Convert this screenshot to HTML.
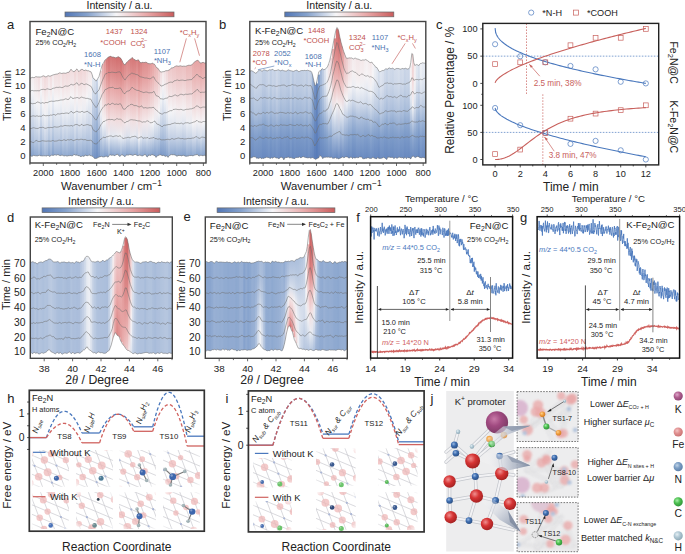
<!DOCTYPE html><html><head><meta charset="utf-8"><style>html,body{margin:0;padding:0;background:#fff;width:685px;height:554px;overflow:hidden}svg{display:block}</style></head><body><svg width="685" height="554" viewBox="0 0 685 554" font-family='"Liberation Sans", sans-serif'><defs><clipPath id="cpa"><path d="M30 78.18 L31 78.07 L32 77.3 L33 77.41 L34 77.83 L35 77.04 L36 76.6 L37 76.99 L38 76.98 L39 76.94 L40 77.07 L41 76.95 L42 76.53 L43 75.8 L44 75.91 L45 76.67 L46 76.98 L47 76.39 L48 75.62 L49 75.97 L50 76.32 L51 75.8 L52 75.4 L53 74.88 L54 74.67 L55 74.48 L56 74.08 L57 74.14 L58 73.87 L59 73.06 L60 72.78 L61 73.4 L62 73.48 L63 73.08 L64 73.07 L65 73.25 L66 73.26 L67 72.65 L68 72.26 L69 72.29 L70 70.75 L71 69.13 L72 70.38 L73 71.58 L74 71.6 L75 71.15 L76 69.69 L77 68.89 L78 70.71 L79 71.69 L80 70.37 L81 69.76 L82 69.1 L83 69.84 L84 70.73 L85 70.26 L86 69.88 L87 70.83 L88 70.64 L89 70.94 L90 71.68 L91 71.76 L92 74.26 L93 77.73 L94 79.05 L95 79.51 L96 81.18 L97 79.87 L98 78.17 L99 76.5 L100 72.76 L101 69.26 L102 65.44 L103 63.54 L104 62.04 L105 59.9 L106 59.45 L107 58.27 L108 57.15 L109 56.91 L110 56.24 L111 56.43 L112 57.1 L113 56.91 L114 57.22 L115 57.72 L116 57.77 L117 57.42 L118 56.64 L119 57.07 L120 57.77 L121 58.57 L122 60.48 L123 62.66 L124 64.2 L125 65.02 L126 63.08 L127 62.16 L128 61.22 L129 59.97 L130 59.46 L131 58.76 L132 57.45 L133 58.26 L134 59.49 L135 59.85 L136 60.54 L137 60.54 L138 59.63 L139 60.49 L140 62.42 L141 62.86 L142 62.44 L143 62.22 L144 62.66 L145 62.28 L146 62.15 L147 62.7 L148 63.6 L149 63.63 L150 63.66 L151 63.91 L152 62.9 L153 63.64 L154 63.9 L155 64.74 L156 66.95 L157 67.93 L158 68.33 L159 70.01 L160 71.6 L161 72.04 L162 71.96 L163 71.63 L164 71.68 L165 71.12 L166 70.58 L167 70.77 L168 70.54 L169 70.04 L170 69.59 L171 68.18 L172 67.74 L173 67.93 L174 67.07 L175 66.52 L176 65.96 L177 65.86 L178 66.27 L179 66.16 L180 65.81 L181 65.9 L182 66.29 L183 66.3 L184 65.95 L185 66.38 L186 66.17 L187 65.78 L188 65.38 L189 65.14 L190 65.36 L191 65.15 L192 64.81 L193 63.4 L194 62.44 L195 61.6 L196 61.01 L197 60.43 L198 60.29 L199 61.46 L200 62.95 L201 62.88 L202 62.86 L203 62.22 L204 62.69 L205 63.29 L206 62.55 L206 156.2 L205 155.21 L204 155.32 L203 155.85 L202 155.46 L201 155.24 L200 155.34 L199 156.26 L198 154.85 L197 154.53 L196 154.81 L195 154.99 L194 155.21 L193 156.01 L192 155.46 L191 155.52 L190 155.54 L189 155.57 L188 156.29 L187 155.92 L186 156.4 L185 155.93 L184 155.64 L183 155.03 L182 155.88 L181 155.92 L180 155.09 L179 155.94 L178 154.96 L177 156.5 L176 155.15 L175 155.2 L174 154.49 L173 154.94 L172 154.62 L171 154.55 L170 155.29 L169 155.8 L168 157.4 L167 155.89 L166 156.12 L165 156.44 L164 155.13 L163 155.47 L162 155.61 L161 155.01 L160 154.61 L159 155.22 L158 155.4 L157 156.07 L156 157.48 L155 155.58 L154 155.5 L153 154.75 L152 154.72 L151 154.92 L150 155.79 L149 154.67 L148 156.24 L147 157.11 L146 154.97 L145 154.6 L144 154.87 L143 155.85 L142 155.92 L141 155.62 L140 154.98 L139 155.17 L138 155.55 L137 155.65 L136 154.49 L135 154.41 L134 154.71 L133 155.49 L132 155.06 L131 154.89 L130 154.46 L129 154.8 L128 155.28 L127 154.85 L126 155.18 L125 156.73 L124 155.92 L123 155.25 L122 154.68 L121 155.01 L120 156.6 L119 155.99 L118 154.34 L117 154.45 L116 154.79 L115 155.5 L114 155.65 L113 154.67 L112 155.43 L111 155.12 L110 154.69 L109 155.49 L108 157.25 L107 156.41 L106 155.96 L105 156.8 L104 156.8 L103 157.11 L102 156.48 L101 156.28 L100 156.93 L99 156.97 L98 157.56 L97 158.27 L96 158.36 L95 158.69 L94 157.88 L93 156.62 L92 156.07 L91 155.8 L90 155.49 L89 154.73 L88 155.82 L87 155.64 L86 155.48 L85 154.96 L84 156.52 L83 155.9 L82 156.09 L81 156.71 L80 156.18 L79 155.45 L78 155.9 L77 154.61 L76 155.57 L75 154.63 L74 154.52 L73 155.33 L72 155.96 L71 155.57 L70 155.51 L69 155.8 L68 155.64 L67 156.33 L66 155.53 L65 155.76 L64 156.09 L63 155.42 L62 154.91 L61 155.59 L60 155.59 L59 155.25 L58 154.44 L57 154.91 L56 155.36 L55 154.46 L54 155.2 L53 155.44 L52 155.12 L51 155.32 L50 156.23 L49 156.33 L48 155.12 L47 156.14 L46 155.7 L45 156.05 L44 155.58 L43 156.07 L42 155.79 L41 155.93 L40 155.5 L39 155.01 L38 155.94 L37 155.9 L36 155.82 L35 155.79 L34 155.36 L33 155.54 L32 156.39 L31 156.06 L30 155.41Z"/></clipPath><linearGradient id="ga_0" gradientUnits="userSpaceOnUse" x1="0" y1="76.18" x2="0" y2="157.41"><stop offset="0.02" stop-color="#f4eeef"/><stop offset="0.19" stop-color="#f6f6f8"/><stop offset="0.33" stop-color="#e4e9f1"/><stop offset="0.5" stop-color="#d3dcea"/><stop offset="0.64" stop-color="#c1cee4"/><stop offset="0.8" stop-color="#aabddb"/><stop offset="0.98" stop-color="#84a1cc"/></linearGradient><linearGradient id="ga_1" gradientUnits="userSpaceOnUse" x1="0" y1="75.3" x2="0" y2="158.39"><stop offset="0.02" stop-color="#f4ecee"/><stop offset="0.18" stop-color="#f6f5f7"/><stop offset="0.34" stop-color="#e6eaf2"/><stop offset="0.49" stop-color="#d4ddeb"/><stop offset="0.64" stop-color="#c2cfe4"/><stop offset="0.8" stop-color="#abbedb"/><stop offset="0.98" stop-color="#85a2cc"/></linearGradient><linearGradient id="ga_2" gradientUnits="userSpaceOnUse" x1="0" y1="75.83" x2="0" y2="157.36"><stop offset="0.02" stop-color="#f3e6e8"/><stop offset="0.18" stop-color="#f5eff0"/><stop offset="0.34" stop-color="#eff1f5"/><stop offset="0.49" stop-color="#dde3ee"/><stop offset="0.64" stop-color="#cbd6e7"/><stop offset="0.82" stop-color="#b4c5df"/><stop offset="0.98" stop-color="#8ea8d0"/></linearGradient><linearGradient id="ga_3" gradientUnits="userSpaceOnUse" x1="0" y1="74.6" x2="0" y2="157.82"><stop offset="0.02" stop-color="#f3e3e5"/><stop offset="0.19" stop-color="#f4eced"/><stop offset="0.34" stop-color="#f4f4f7"/><stop offset="0.5" stop-color="#e1e7f0"/><stop offset="0.65" stop-color="#cfd9e9"/><stop offset="0.79" stop-color="#b8c8e0"/><stop offset="0.98" stop-color="#91abd1"/></linearGradient><linearGradient id="ga_4" gradientUnits="userSpaceOnUse" x1="0" y1="74.98" x2="0" y2="157.94"><stop offset="0.02" stop-color="#f2dee0"/><stop offset="0.19" stop-color="#f3e7e9"/><stop offset="0.33" stop-color="#f5f3f5"/><stop offset="0.5" stop-color="#e8ecf3"/><stop offset="0.65" stop-color="#d6deec"/><stop offset="0.8" stop-color="#bfcde3"/><stop offset="0.98" stop-color="#98b0d4"/></linearGradient><linearGradient id="ga_5" gradientUnits="userSpaceOnUse" x1="0" y1="75.07" x2="0" y2="157.5"><stop offset="0.02" stop-color="#f4ebed"/><stop offset="0.19" stop-color="#f6f4f6"/><stop offset="0.34" stop-color="#e7ebf2"/><stop offset="0.5" stop-color="#d4ddeb"/><stop offset="0.63" stop-color="#c2cfe4"/><stop offset="0.81" stop-color="#aabedb"/><stop offset="0.98" stop-color="#84a1cc"/></linearGradient><linearGradient id="ga_6" gradientUnits="userSpaceOnUse" x1="0" y1="74.53" x2="0" y2="157.79"><stop offset="0.02" stop-color="#f2e0e2"/><stop offset="0.18" stop-color="#f4e9eb"/><stop offset="0.34" stop-color="#f6f5f7"/><stop offset="0.5" stop-color="#e5e9f1"/><stop offset="0.64" stop-color="#d2dbea"/><stop offset="0.79" stop-color="#bacae1"/><stop offset="0.98" stop-color="#93acd2"/></linearGradient><linearGradient id="ga_7" gradientUnits="userSpaceOnUse" x1="0" y1="73.91" x2="0" y2="157.58"><stop offset="0.02" stop-color="#f1d9da"/><stop offset="0.18" stop-color="#f2e2e3"/><stop offset="0.35" stop-color="#f5eef0"/><stop offset="0.49" stop-color="#eff1f5"/><stop offset="0.64" stop-color="#dde3ee"/><stop offset="0.8" stop-color="#c5d1e5"/><stop offset="0.98" stop-color="#9db4d6"/></linearGradient><linearGradient id="ga_8" gradientUnits="userSpaceOnUse" x1="0" y1="74.98" x2="0" y2="157.7"><stop offset="0.02" stop-color="#f1dcde"/><stop offset="0.17" stop-color="#f3e5e7"/><stop offset="0.33" stop-color="#f5f2f3"/><stop offset="0.49" stop-color="#eaedf3"/><stop offset="0.64" stop-color="#d7dfec"/><stop offset="0.8" stop-color="#bfcde3"/><stop offset="0.98" stop-color="#97afd3"/></linearGradient><linearGradient id="ga_9" gradientUnits="userSpaceOnUse" x1="0" y1="73.62" x2="0" y2="157.12"><stop offset="0.02" stop-color="#f3e6e7"/><stop offset="0.18" stop-color="#f5eef0"/><stop offset="0.35" stop-color="#eff1f5"/><stop offset="0.5" stop-color="#dce3ee"/><stop offset="0.64" stop-color="#c9d5e7"/><stop offset="0.81" stop-color="#b1c3dd"/><stop offset="0.98" stop-color="#89a5ce"/></linearGradient><linearGradient id="ga_10" gradientUnits="userSpaceOnUse" x1="0" y1="74.32" x2="0" y2="158.23"><stop offset="0.02" stop-color="#f2dee0"/><stop offset="0.18" stop-color="#f3e7e9"/><stop offset="0.32" stop-color="#f6f4f6"/><stop offset="0.49" stop-color="#e7ebf2"/><stop offset="0.63" stop-color="#d4dceb"/><stop offset="0.8" stop-color="#bbcae1"/><stop offset="0.98" stop-color="#93acd2"/></linearGradient><linearGradient id="ga_11" gradientUnits="userSpaceOnUse" x1="0" y1="73.4" x2="0" y2="157.12"><stop offset="0.02" stop-color="#f4e9eb"/><stop offset="0.18" stop-color="#f5f2f4"/><stop offset="0.33" stop-color="#e9ecf3"/><stop offset="0.5" stop-color="#d6deec"/><stop offset="0.65" stop-color="#c3d0e4"/><stop offset="0.8" stop-color="#aabedb"/><stop offset="0.98" stop-color="#83a0cb"/></linearGradient><linearGradient id="ga_12" gradientUnits="userSpaceOnUse" x1="0" y1="72.67" x2="0" y2="157.2"><stop offset="0.02" stop-color="#f2e0e1"/><stop offset="0.18" stop-color="#f4e9eb"/><stop offset="0.34" stop-color="#f6f6f8"/><stop offset="0.49" stop-color="#e3e8f1"/><stop offset="0.64" stop-color="#d0dae9"/><stop offset="0.81" stop-color="#b8c7e0"/><stop offset="0.98" stop-color="#8fa9d0"/></linearGradient><linearGradient id="ga_13" gradientUnits="userSpaceOnUse" x1="0" y1="72.08" x2="0" y2="157.36"><stop offset="0.02" stop-color="#f2e0e1"/><stop offset="0.18" stop-color="#f4e9eb"/><stop offset="0.34" stop-color="#f6f6f8"/><stop offset="0.51" stop-color="#e3e8f1"/><stop offset="0.65" stop-color="#d0dae9"/><stop offset="0.81" stop-color="#b7c7e0"/><stop offset="0.98" stop-color="#8ea8d0"/></linearGradient><linearGradient id="ga_14" gradientUnits="userSpaceOnUse" x1="0" y1="71.87" x2="0" y2="156.44"><stop offset="0.02" stop-color="#f2dedf"/><stop offset="0.18" stop-color="#f3e7e8"/><stop offset="0.34" stop-color="#f6f4f6"/><stop offset="0.49" stop-color="#e6eaf2"/><stop offset="0.65" stop-color="#d3dcea"/><stop offset="0.81" stop-color="#bac9e1"/><stop offset="0.98" stop-color="#90aad1"/></linearGradient><linearGradient id="ga_15" gradientUnits="userSpaceOnUse" x1="0" y1="70.78" x2="0" y2="157.59"><stop offset="0.02" stop-color="#f2e2e3"/><stop offset="0.19" stop-color="#f4ebed"/><stop offset="0.34" stop-color="#f3f4f7"/><stop offset="0.5" stop-color="#e0e5ef"/><stop offset="0.64" stop-color="#ccd7e8"/><stop offset="0.8" stop-color="#b3c4de"/><stop offset="0.98" stop-color="#89a5ce"/></linearGradient><linearGradient id="ga_16" gradientUnits="userSpaceOnUse" x1="0" y1="71.48" x2="0" y2="156.91"><stop offset="0.02" stop-color="#f1dadb"/><stop offset="0.19" stop-color="#f3e3e5"/><stop offset="0.33" stop-color="#f5f0f2"/><stop offset="0.49" stop-color="#ebeef4"/><stop offset="0.64" stop-color="#d8dfec"/><stop offset="0.81" stop-color="#bfcde3"/><stop offset="0.98" stop-color="#94add2"/></linearGradient><linearGradient id="ga_17" gradientUnits="userSpaceOnUse" x1="0" y1="71.07" x2="0" y2="158.09"><stop offset="0.02" stop-color="#f1dcde"/><stop offset="0.18" stop-color="#f3e6e7"/><stop offset="0.33" stop-color="#f5f3f5"/><stop offset="0.49" stop-color="#e7ebf2"/><stop offset="0.63" stop-color="#d3dceb"/><stop offset="0.79" stop-color="#bac9e1"/><stop offset="0.98" stop-color="#90aad0"/></linearGradient><linearGradient id="ga_18" gradientUnits="userSpaceOnUse" x1="0" y1="71.26" x2="0" y2="157.53"><stop offset="0.02" stop-color="#f1dadb"/><stop offset="0.17" stop-color="#f3e3e5"/><stop offset="0.32" stop-color="#f5f0f2"/><stop offset="0.49" stop-color="#ebeef4"/><stop offset="0.63" stop-color="#d7dfec"/><stop offset="0.81" stop-color="#bdcce2"/><stop offset="0.98" stop-color="#93acd2"/></linearGradient><linearGradient id="ga_19" gradientUnits="userSpaceOnUse" x1="0" y1="70.26" x2="0" y2="157.64"><stop offset="0.02" stop-color="#f1dbdd"/><stop offset="0.18" stop-color="#f3e5e6"/><stop offset="0.34" stop-color="#f5f2f4"/><stop offset="0.49" stop-color="#e8ecf3"/><stop offset="0.63" stop-color="#d4ddeb"/><stop offset="0.79" stop-color="#bac9e1"/><stop offset="0.98" stop-color="#8fa9d0"/></linearGradient><linearGradient id="ga_20" gradientUnits="userSpaceOnUse" x1="0" y1="68.75" x2="0" y2="157.51"><stop offset="0.02" stop-color="#f2dedf"/><stop offset="0.18" stop-color="#f3e7e9"/><stop offset="0.32" stop-color="#f6f5f7"/><stop offset="0.49" stop-color="#e4e8f1"/><stop offset="0.65" stop-color="#cfd9e9"/><stop offset="0.8" stop-color="#b5c6df"/><stop offset="0.98" stop-color="#8aa6ce"/></linearGradient><linearGradient id="ga_21" gradientUnits="userSpaceOnUse" x1="0" y1="68.38" x2="0" y2="157.96"><stop offset="0.02" stop-color="#f2dee0"/><stop offset="0.18" stop-color="#f3e8ea"/><stop offset="0.33" stop-color="#f6f5f7"/><stop offset="0.49" stop-color="#e3e7f0"/><stop offset="0.64" stop-color="#ced8e9"/><stop offset="0.8" stop-color="#b4c5df"/><stop offset="0.98" stop-color="#88a4ce"/></linearGradient><linearGradient id="ga_22" gradientUnits="userSpaceOnUse" x1="0" y1="69.6" x2="0" y2="156.52"><stop offset="0.02" stop-color="#f0d6d7"/><stop offset="0.17" stop-color="#f2e0e1"/><stop offset="0.33" stop-color="#f4edef"/><stop offset="0.5" stop-color="#eff1f5"/><stop offset="0.64" stop-color="#dae1ed"/><stop offset="0.82" stop-color="#c0cee3"/><stop offset="0.98" stop-color="#94add2"/></linearGradient><linearGradient id="ga_23" gradientUnits="userSpaceOnUse" x1="0" y1="67.69" x2="0" y2="157.57"><stop offset="0.02" stop-color="#f1dcdd"/><stop offset="0.17" stop-color="#f3e6e7"/><stop offset="0.34" stop-color="#f6f3f5"/><stop offset="0.49" stop-color="#e5e9f2"/><stop offset="0.63" stop-color="#d1daea"/><stop offset="0.8" stop-color="#b6c6df"/><stop offset="0.98" stop-color="#8aa5ce"/></linearGradient><linearGradient id="ga_24" gradientUnits="userSpaceOnUse" x1="0" y1="68.71" x2="0" y2="157.9"><stop offset="0.02" stop-color="#f0d6d7"/><stop offset="0.17" stop-color="#f2dfe1"/><stop offset="0.33" stop-color="#f4edef"/><stop offset="0.48" stop-color="#eff0f5"/><stop offset="0.63" stop-color="#dae1ed"/><stop offset="0.79" stop-color="#bfcde3"/><stop offset="0.98" stop-color="#93acd2"/></linearGradient><linearGradient id="ga_25" gradientUnits="userSpaceOnUse" x1="0" y1="68.37" x2="0" y2="158.18"><stop offset="0.02" stop-color="#f0d5d6"/><stop offset="0.18" stop-color="#f2dfe0"/><stop offset="0.33" stop-color="#f4edee"/><stop offset="0.49" stop-color="#eff1f5"/><stop offset="0.64" stop-color="#dae1ed"/><stop offset="0.79" stop-color="#bfcde3"/><stop offset="0.98" stop-color="#92acd2"/></linearGradient><linearGradient id="ga_26" gradientUnits="userSpaceOnUse" x1="0" y1="67.1" x2="0" y2="158.09"><stop offset="0.02" stop-color="#f1d8da"/><stop offset="0.18" stop-color="#f2e2e4"/><stop offset="0.33" stop-color="#f5f0f2"/><stop offset="0.48" stop-color="#eaedf3"/><stop offset="0.63" stop-color="#d5ddeb"/><stop offset="0.79" stop-color="#b9c9e1"/><stop offset="0.98" stop-color="#8ca7cf"/></linearGradient><linearGradient id="ga_27" gradientUnits="userSpaceOnUse" x1="0" y1="68.73" x2="0" y2="158.52"><stop offset="0.02" stop-color="#f1d8d9"/><stop offset="0.18" stop-color="#f2e2e4"/><stop offset="0.32" stop-color="#f5f0f2"/><stop offset="0.49" stop-color="#eaedf3"/><stop offset="0.63" stop-color="#d5ddeb"/><stop offset="0.79" stop-color="#b9c9e1"/><stop offset="0.98" stop-color="#8ca7cf"/></linearGradient><linearGradient id="ga_28" gradientUnits="userSpaceOnUse" x1="0" y1="67.88" x2="0" y2="157.48"><stop offset="0.02" stop-color="#f2dfe0"/><stop offset="0.18" stop-color="#f4e8ea"/><stop offset="0.34" stop-color="#f6f6f8"/><stop offset="0.49" stop-color="#e2e7f0"/><stop offset="0.64" stop-color="#ced8e9"/><stop offset="0.8" stop-color="#b4c5df"/><stop offset="0.98" stop-color="#89a5ce"/></linearGradient><linearGradient id="ga_29" gradientUnits="userSpaceOnUse" x1="0" y1="68.64" x2="0" y2="157.82"><stop offset="0.02" stop-color="#f3e6e7"/><stop offset="0.18" stop-color="#f5eef0"/><stop offset="0.33" stop-color="#eff1f5"/><stop offset="0.48" stop-color="#dde4ef"/><stop offset="0.63" stop-color="#cbd6e8"/><stop offset="0.8" stop-color="#b4c5df"/><stop offset="0.98" stop-color="#8ea8d0"/></linearGradient><linearGradient id="ga_30" gradientUnits="userSpaceOnUse" x1="0" y1="69.68" x2="0" y2="157.49"><stop offset="0.02" stop-color="#f4e9ea"/><stop offset="0.19" stop-color="#f5f0f2"/><stop offset="0.33" stop-color="#eff0f5"/><stop offset="0.49" stop-color="#dee4ef"/><stop offset="0.64" stop-color="#ced8e9"/><stop offset="0.8" stop-color="#b9c9e1"/><stop offset="0.98" stop-color="#97afd3"/></linearGradient><linearGradient id="ga_31" gradientUnits="userSpaceOnUse" x1="0" y1="72.26" x2="0" y2="158.07"><stop offset="0.02" stop-color="#e4e9f1"/><stop offset="0.19" stop-color="#d9e1ed"/><stop offset="0.34" stop-color="#cad5e7"/><stop offset="0.5" stop-color="#bac9e1"/><stop offset="0.64" stop-color="#abbedb"/><stop offset="0.8" stop-color="#97afd3"/><stop offset="0.98" stop-color="#7b99c8"/></linearGradient><linearGradient id="ga_32" gradientUnits="userSpaceOnUse" x1="0" y1="77.05" x2="0" y2="159.88"><stop offset="0.02" stop-color="#dae1ed"/><stop offset="0.19" stop-color="#ced8e9"/><stop offset="0.33" stop-color="#becce2"/><stop offset="0.49" stop-color="#aec0dc"/><stop offset="0.65" stop-color="#9eb4d6"/><stop offset="0.8" stop-color="#89a5ce"/><stop offset="0.98" stop-color="#7392c4"/></linearGradient><linearGradient id="ga_33" gradientUnits="userSpaceOnUse" x1="0" y1="79.18" x2="0" y2="160.36"><stop offset="0.02" stop-color="#cad5e7"/><stop offset="0.18" stop-color="#bfcde3"/><stop offset="0.35" stop-color="#b0c1dd"/><stop offset="0.51" stop-color="#a0b6d7"/><stop offset="0.65" stop-color="#91abd1"/><stop offset="0.8" stop-color="#809dca"/><stop offset="0.98" stop-color="#6c8dc2"/></linearGradient><linearGradient id="ga_34" gradientUnits="userSpaceOnUse" x1="0" y1="76.17" x2="0" y2="159.56"><stop offset="0.02" stop-color="#f3f4f7"/><stop offset="0.18" stop-color="#e5eaf2"/><stop offset="0.34" stop-color="#d3dcea"/><stop offset="0.49" stop-color="#c0cde3"/><stop offset="0.64" stop-color="#adbfdc"/><stop offset="0.8" stop-color="#94add2"/><stop offset="0.98" stop-color="#7695c6"/></linearGradient><linearGradient id="ga_35" gradientUnits="userSpaceOnUse" x1="0" y1="70.76" x2="0" y2="158.93"><stop offset="0.02" stop-color="#f0d2d3"/><stop offset="0.18" stop-color="#f1ddde"/><stop offset="0.33" stop-color="#f4ecee"/><stop offset="0.47" stop-color="#eef0f5"/><stop offset="0.63" stop-color="#d8dfec"/><stop offset="0.78" stop-color="#bac9e1"/><stop offset="0.98" stop-color="#89a5ce"/></linearGradient><linearGradient id="ga_36" gradientUnits="userSpaceOnUse" x1="0" y1="63.44" x2="0" y2="158.48"><stop offset="0.02" stop-color="#e9aeaf"/><stop offset="0.19" stop-color="#ecbdbd"/><stop offset="0.33" stop-color="#efd1d2"/><stop offset="0.47" stop-color="#f3e5e6"/><stop offset="0.63" stop-color="#f2f3f6"/><stop offset="0.79" stop-color="#cbd6e7"/><stop offset="0.98" stop-color="#8aa6ce"/></linearGradient><linearGradient id="ga_37" gradientUnits="userSpaceOnUse" x1="0" y1="60.04" x2="0" y2="158.8"><stop offset="0.02" stop-color="#e19797"/><stop offset="0.17" stop-color="#e8a9a9"/><stop offset="0.32" stop-color="#edc2c2"/><stop offset="0.47" stop-color="#f1dadb"/><stop offset="0.62" stop-color="#f5f2f4"/><stop offset="0.78" stop-color="#cdd7e8"/><stop offset="0.98" stop-color="#819ecb"/></linearGradient><linearGradient id="ga_38" gradientUnits="userSpaceOnUse" x1="0" y1="57.45" x2="0" y2="157.96"><stop offset="0.02" stop-color="#d67a7a"/><stop offset="0.16" stop-color="#de8f8f"/><stop offset="0.32" stop-color="#e9adad"/><stop offset="0.47" stop-color="#eec8c9"/><stop offset="0.62" stop-color="#f3e3e5"/><stop offset="0.79" stop-color="#dde3ee"/><stop offset="0.98" stop-color="#84a1cc"/></linearGradient><linearGradient id="ga_39" gradientUnits="userSpaceOnUse" x1="0" y1="55.15" x2="0" y2="159.25"><stop offset="0.02" stop-color="#d27070"/><stop offset="0.17" stop-color="#da8585"/><stop offset="0.32" stop-color="#e6a3a3"/><stop offset="0.46" stop-color="#ecbfbf"/><stop offset="0.62" stop-color="#f1dadb"/><stop offset="0.78" stop-color="#ebeef4"/><stop offset="0.98" stop-color="#92acd1"/></linearGradient><linearGradient id="ga_40" gradientUnits="userSpaceOnUse" x1="0" y1="54.24" x2="0" y2="156.69"><stop offset="0.02" stop-color="#d47676"/><stop offset="0.18" stop-color="#dd8c8c"/><stop offset="0.32" stop-color="#e8a9a9"/><stop offset="0.49" stop-color="#edc5c6"/><stop offset="0.64" stop-color="#f2e0e2"/><stop offset="0.8" stop-color="#e2e7f0"/><stop offset="0.98" stop-color="#88a4ce"/></linearGradient><linearGradient id="ga_41" gradientUnits="userSpaceOnUse" x1="0" y1="55.1" x2="0" y2="157.43"><stop offset="0.02" stop-color="#d47474"/><stop offset="0.17" stop-color="#dc8a8a"/><stop offset="0.32" stop-color="#e8a8a8"/><stop offset="0.47" stop-color="#edc3c4"/><stop offset="0.63" stop-color="#f2dfe0"/><stop offset="0.79" stop-color="#e4e9f1"/><stop offset="0.98" stop-color="#8ba6cf"/></linearGradient><linearGradient id="ga_42" gradientUnits="userSpaceOnUse" x1="0" y1="55.22" x2="0" y2="157.65"><stop offset="0.02" stop-color="#d37373"/><stop offset="0.17" stop-color="#dc8888"/><stop offset="0.32" stop-color="#e7a6a6"/><stop offset="0.48" stop-color="#edc2c3"/><stop offset="0.63" stop-color="#f2dedf"/><stop offset="0.79" stop-color="#e5eaf2"/><stop offset="0.98" stop-color="#8ca7cf"/></linearGradient><linearGradient id="ga_43" gradientUnits="userSpaceOnUse" x1="0" y1="55.77" x2="0" y2="156.79"><stop offset="0.02" stop-color="#d27070"/><stop offset="0.17" stop-color="#da8686"/><stop offset="0.32" stop-color="#e6a4a4"/><stop offset="0.48" stop-color="#ecc0c0"/><stop offset="0.63" stop-color="#f1dbdc"/><stop offset="0.79" stop-color="#e9ecf3"/><stop offset="0.98" stop-color="#8fa9d0"/></linearGradient><linearGradient id="ga_44" gradientUnits="userSpaceOnUse" x1="0" y1="54.64" x2="0" y2="156.34"><stop offset="0.02" stop-color="#d26f6f"/><stop offset="0.17" stop-color="#da8585"/><stop offset="0.33" stop-color="#e6a3a3"/><stop offset="0.49" stop-color="#ecbfc0"/><stop offset="0.63" stop-color="#f1dbdc"/><stop offset="0.81" stop-color="#eaedf3"/><stop offset="0.98" stop-color="#90aad1"/></linearGradient><linearGradient id="ga_45" gradientUnits="userSpaceOnUse" x1="0" y1="55.77" x2="0" y2="158.6"><stop offset="0.02" stop-color="#d06b6b"/><stop offset="0.16" stop-color="#d98181"/><stop offset="0.31" stop-color="#e49f9f"/><stop offset="0.47" stop-color="#ebbbbc"/><stop offset="0.61" stop-color="#f0d7d8"/><stop offset="0.78" stop-color="#eff1f5"/><stop offset="0.98" stop-color="#95aed3"/></linearGradient><linearGradient id="ga_46" gradientUnits="userSpaceOnUse" x1="0" y1="58.48" x2="0" y2="156.68"><stop offset="0.02" stop-color="#d57979"/><stop offset="0.17" stop-color="#dd8d8d"/><stop offset="0.33" stop-color="#e8aaaa"/><stop offset="0.49" stop-color="#edc4c5"/><stop offset="0.63" stop-color="#f2dfe0"/><stop offset="0.81" stop-color="#e6eaf2"/><stop offset="0.98" stop-color="#90aad1"/></linearGradient><linearGradient id="ga_47" gradientUnits="userSpaceOnUse" x1="0" y1="62.2" x2="0" y2="157.92"><stop offset="0.02" stop-color="#db8686"/><stop offset="0.17" stop-color="#e29a9a"/><stop offset="0.33" stop-color="#eab4b4"/><stop offset="0.49" stop-color="#efcdce"/><stop offset="0.63" stop-color="#f3e6e8"/><stop offset="0.8" stop-color="#dde3ee"/><stop offset="0.98" stop-color="#8ba6cf"/></linearGradient><linearGradient id="ga_48" gradientUnits="userSpaceOnUse" x1="0" y1="61.08" x2="0" y2="157.18"><stop offset="0.02" stop-color="#dd8b8b"/><stop offset="0.18" stop-color="#e49f9f"/><stop offset="0.32" stop-color="#ebb8b9"/><stop offset="0.49" stop-color="#efd1d2"/><stop offset="0.63" stop-color="#f4eaec"/><stop offset="0.8" stop-color="#d8dfec"/><stop offset="0.98" stop-color="#87a3cd"/></linearGradient><linearGradient id="ga_49" gradientUnits="userSpaceOnUse" x1="0" y1="59.22" x2="0" y2="157.28"><stop offset="0.02" stop-color="#da8585"/><stop offset="0.17" stop-color="#e29999"/><stop offset="0.33" stop-color="#eab3b4"/><stop offset="0.48" stop-color="#efcdce"/><stop offset="0.63" stop-color="#f3e6e8"/><stop offset="0.79" stop-color="#dce3ee"/><stop offset="0.98" stop-color="#8aa5ce"/></linearGradient><linearGradient id="ga_50" gradientUnits="userSpaceOnUse" x1="0" y1="57.46" x2="0" y2="156.46"><stop offset="0.02" stop-color="#d77c7c"/><stop offset="0.17" stop-color="#df9090"/><stop offset="0.33" stop-color="#e9acad"/><stop offset="0.48" stop-color="#edc6c7"/><stop offset="0.63" stop-color="#f2e0e2"/><stop offset="0.81" stop-color="#e4e9f1"/><stop offset="0.98" stop-color="#90aad1"/></linearGradient><linearGradient id="ga_51" gradientUnits="userSpaceOnUse" x1="0" y1="55.45" x2="0" y2="157.06"><stop offset="0.02" stop-color="#d57777"/><stop offset="0.17" stop-color="#dd8c8c"/><stop offset="0.31" stop-color="#e8a9a9"/><stop offset="0.48" stop-color="#edc3c4"/><stop offset="0.63" stop-color="#f2dedf"/><stop offset="0.8" stop-color="#e7ebf2"/><stop offset="0.98" stop-color="#91abd1"/></linearGradient><linearGradient id="ga_52" gradientUnits="userSpaceOnUse" x1="0" y1="57.49" x2="0" y2="156.71"><stop offset="0.02" stop-color="#d67a7a"/><stop offset="0.16" stop-color="#de8e8e"/><stop offset="0.32" stop-color="#e8abab"/><stop offset="0.48" stop-color="#edc5c5"/><stop offset="0.63" stop-color="#f2dfe0"/><stop offset="0.79" stop-color="#e6eaf2"/><stop offset="0.98" stop-color="#91abd1"/></linearGradient><linearGradient id="ga_53" gradientUnits="userSpaceOnUse" x1="0" y1="58.54" x2="0" y2="156.49"><stop offset="0.02" stop-color="#d98282"/><stop offset="0.16" stop-color="#e19696"/><stop offset="0.32" stop-color="#eab1b2"/><stop offset="0.48" stop-color="#eecbcc"/><stop offset="0.63" stop-color="#f3e5e6"/><stop offset="0.8" stop-color="#dee4ef"/><stop offset="0.98" stop-color="#8aa6ce"/></linearGradient><linearGradient id="ga_54" gradientUnits="userSpaceOnUse" x1="0" y1="57.63" x2="0" y2="157.55"><stop offset="0.02" stop-color="#d57979"/><stop offset="0.17" stop-color="#dd8c8c"/><stop offset="0.33" stop-color="#e8a8a8"/><stop offset="0.49" stop-color="#edc1c2"/><stop offset="0.63" stop-color="#f1dbdc"/><stop offset="0.81" stop-color="#eef0f5"/><stop offset="0.98" stop-color="#9cb3d5"/></linearGradient><linearGradient id="ga_55" gradientUnits="userSpaceOnUse" x1="0" y1="60.42" x2="0" y2="156.98"><stop offset="0.02" stop-color="#d98383"/><stop offset="0.17" stop-color="#e19696"/><stop offset="0.32" stop-color="#eab1b1"/><stop offset="0.48" stop-color="#eecaca"/><stop offset="0.63" stop-color="#f2e2e4"/><stop offset="0.8" stop-color="#e3e8f1"/><stop offset="0.98" stop-color="#92abd1"/></linearGradient><linearGradient id="ga_56" gradientUnits="userSpaceOnUse" x1="0" y1="60.44" x2="0" y2="157.92"><stop offset="0.02" stop-color="#dc8b8b"/><stop offset="0.17" stop-color="#e49e9e"/><stop offset="0.32" stop-color="#ebb7b8"/><stop offset="0.47" stop-color="#efd0d1"/><stop offset="0.63" stop-color="#f4e8ea"/><stop offset="0.78" stop-color="#dbe2ee"/><stop offset="0.98" stop-color="#8ba6cf"/></linearGradient><linearGradient id="ga_57" gradientUnits="userSpaceOnUse" x1="0" y1="60.66" x2="0" y2="156.87"><stop offset="0.02" stop-color="#de8e8e"/><stop offset="0.18" stop-color="#e5a1a1"/><stop offset="0.33" stop-color="#ebbaba"/><stop offset="0.49" stop-color="#f0d2d3"/><stop offset="0.63" stop-color="#f4eaec"/><stop offset="0.8" stop-color="#d9e0ed"/><stop offset="0.98" stop-color="#8ba6cf"/></linearGradient><linearGradient id="ga_58" gradientUnits="userSpaceOnUse" x1="0" y1="60.15" x2="0" y2="156.97"><stop offset="0.02" stop-color="#de8e8e"/><stop offset="0.18" stop-color="#e5a1a1"/><stop offset="0.33" stop-color="#ebb9ba"/><stop offset="0.49" stop-color="#efd1d2"/><stop offset="0.63" stop-color="#f4e9eb"/><stop offset="0.81" stop-color="#dbe2ee"/><stop offset="0.98" stop-color="#8ea9d0"/></linearGradient><linearGradient id="ga_59" gradientUnits="userSpaceOnUse" x1="0" y1="61.6" x2="0" y2="158.24"><stop offset="0.02" stop-color="#e09595"/><stop offset="0.17" stop-color="#e8a7a7"/><stop offset="0.32" stop-color="#ecbebf"/><stop offset="0.48" stop-color="#f0d6d7"/><stop offset="0.61" stop-color="#f4edef"/><stop offset="0.79" stop-color="#d6deec"/><stop offset="0.98" stop-color="#8aa5ce"/></linearGradient><linearGradient id="ga_60" gradientUnits="userSpaceOnUse" x1="0" y1="61.66" x2="0" y2="157.79"><stop offset="0.02" stop-color="#e49d9d"/><stop offset="0.18" stop-color="#e9aeaf"/><stop offset="0.32" stop-color="#edc5c6"/><stop offset="0.48" stop-color="#f1dcdd"/><stop offset="0.63" stop-color="#f5f2f4"/><stop offset="0.8" stop-color="#d0d9e9"/><stop offset="0.98" stop-color="#86a3cd"/></linearGradient><linearGradient id="ga_61" gradientUnits="userSpaceOnUse" x1="0" y1="60.9" x2="0" y2="156.72"><stop offset="0.02" stop-color="#e6a4a4"/><stop offset="0.17" stop-color="#eab4b4"/><stop offset="0.33" stop-color="#eecacb"/><stop offset="0.49" stop-color="#f2e0e1"/><stop offset="0.64" stop-color="#f6f6f8"/><stop offset="0.81" stop-color="#ccd7e8"/><stop offset="0.98" stop-color="#85a2cc"/></linearGradient><linearGradient id="ga_62" gradientUnits="userSpaceOnUse" x1="0" y1="61.9" x2="0" y2="157.5"><stop offset="0.02" stop-color="#e9afaf"/><stop offset="0.16" stop-color="#ecbebe"/><stop offset="0.31" stop-color="#f0d3d4"/><stop offset="0.48" stop-color="#f3e8ea"/><stop offset="0.62" stop-color="#eceef4"/><stop offset="0.79" stop-color="#c3d0e4"/><stop offset="0.98" stop-color="#819ecb"/></linearGradient><linearGradient id="ga_63" gradientUnits="userSpaceOnUse" x1="0" y1="64.95" x2="0" y2="159.48"><stop offset="0.02" stop-color="#ebb9b9"/><stop offset="0.17" stop-color="#eec7c7"/><stop offset="0.32" stop-color="#f1dadc"/><stop offset="0.48" stop-color="#f5eef0"/><stop offset="0.61" stop-color="#e5e9f1"/><stop offset="0.78" stop-color="#becde3"/><stop offset="0.98" stop-color="#819ecb"/></linearGradient><linearGradient id="ga_64" gradientUnits="userSpaceOnUse" x1="0" y1="66.33" x2="0" y2="157.4"><stop offset="0.02" stop-color="#eec7c8"/><stop offset="0.18" stop-color="#f0d4d5"/><stop offset="0.33" stop-color="#f3e5e7"/><stop offset="0.5" stop-color="#f5f5f7"/><stop offset="0.63" stop-color="#dae1ed"/><stop offset="0.8" stop-color="#b8c8e0"/><stop offset="0.98" stop-color="#819ecb"/></linearGradient><linearGradient id="ga_65" gradientUnits="userSpaceOnUse" x1="0" y1="69.6" x2="0" y2="156.61"><stop offset="0.02" stop-color="#f1dcde"/><stop offset="0.17" stop-color="#f3e7e9"/><stop offset="0.33" stop-color="#f4f5f7"/><stop offset="0.5" stop-color="#dde3ee"/><stop offset="0.64" stop-color="#c5d2e5"/><stop offset="0.8" stop-color="#a7bbd9"/><stop offset="0.98" stop-color="#7b99c8"/></linearGradient><linearGradient id="ga_66" gradientUnits="userSpaceOnUse" x1="0" y1="69.96" x2="0" y2="157.61"><stop offset="0.02" stop-color="#f4e9ea"/><stop offset="0.18" stop-color="#f5f2f4"/><stop offset="0.33" stop-color="#e7ebf2"/><stop offset="0.51" stop-color="#d2dbea"/><stop offset="0.65" stop-color="#bdcce2"/><stop offset="0.8" stop-color="#a3b8d8"/><stop offset="0.98" stop-color="#7c9ac8"/></linearGradient><linearGradient id="ga_67" gradientUnits="userSpaceOnUse" x1="0" y1="69.68" x2="0" y2="157.13"><stop offset="0.02" stop-color="#f2e1e3"/><stop offset="0.18" stop-color="#f4ebed"/><stop offset="0.34" stop-color="#f0f2f6"/><stop offset="0.49" stop-color="#dbe2ee"/><stop offset="0.63" stop-color="#c5d2e5"/><stop offset="0.8" stop-color="#aabddb"/><stop offset="0.98" stop-color="#7f9dca"/></linearGradient><linearGradient id="ga_68" gradientUnits="userSpaceOnUse" x1="0" y1="68.58" x2="0" y2="158.12"><stop offset="0.02" stop-color="#f0d6d8"/><stop offset="0.17" stop-color="#f2e1e2"/><stop offset="0.33" stop-color="#f5f0f2"/><stop offset="0.49" stop-color="#e9ecf3"/><stop offset="0.63" stop-color="#d2dcea"/><stop offset="0.79" stop-color="#b6c6df"/><stop offset="0.98" stop-color="#85a2cd"/></linearGradient><linearGradient id="ga_69" gradientUnits="userSpaceOnUse" x1="0" y1="68.54" x2="0" y2="159.4"><stop offset="0.02" stop-color="#eecbcc"/><stop offset="0.16" stop-color="#f0d6d7"/><stop offset="0.32" stop-color="#f3e6e7"/><stop offset="0.48" stop-color="#f6f5f7"/><stop offset="0.62" stop-color="#e0e6f0"/><stop offset="0.78" stop-color="#c2cfe4"/><stop offset="0.98" stop-color="#90aad1"/></linearGradient><linearGradient id="ga_70" gradientUnits="userSpaceOnUse" x1="0" y1="67.59" x2="0" y2="157.29"><stop offset="0.02" stop-color="#eecbcc"/><stop offset="0.16" stop-color="#f0d6d7"/><stop offset="0.32" stop-color="#f3e6e8"/><stop offset="0.48" stop-color="#f6f6f8"/><stop offset="0.64" stop-color="#dee4ef"/><stop offset="0.8" stop-color="#bfcde3"/><stop offset="0.98" stop-color="#8ba6cf"/></linearGradient><linearGradient id="ga_71" gradientUnits="userSpaceOnUse" x1="0" y1="65.74" x2="0" y2="156.62"><stop offset="0.02" stop-color="#edc6c7"/><stop offset="0.18" stop-color="#efd2d3"/><stop offset="0.34" stop-color="#f2e2e4"/><stop offset="0.5" stop-color="#f5f3f5"/><stop offset="0.64" stop-color="#e2e7f0"/><stop offset="0.8" stop-color="#c2cfe4"/><stop offset="0.98" stop-color="#8da8cf"/></linearGradient><linearGradient id="ga_72" gradientUnits="userSpaceOnUse" x1="0" y1="65.07" x2="0" y2="156.49"><stop offset="0.02" stop-color="#edc4c5"/><stop offset="0.17" stop-color="#efd0d1"/><stop offset="0.33" stop-color="#f2e1e3"/><stop offset="0.48" stop-color="#f5f2f4"/><stop offset="0.63" stop-color="#e2e7f0"/><stop offset="0.81" stop-color="#c1cee4"/><stop offset="0.98" stop-color="#8aa6ce"/></linearGradient><linearGradient id="ga_73" gradientUnits="userSpaceOnUse" x1="0" y1="63.96" x2="0" y2="157.15"><stop offset="0.02" stop-color="#ecc0c0"/><stop offset="0.18" stop-color="#eecccd"/><stop offset="0.34" stop-color="#f2dddf"/><stop offset="0.48" stop-color="#f5eef0"/><stop offset="0.64" stop-color="#e7ebf2"/><stop offset="0.8" stop-color="#c6d2e5"/><stop offset="0.98" stop-color="#8ea8d0"/></linearGradient><linearGradient id="ga_74" gradientUnits="userSpaceOnUse" x1="0" y1="64.27" x2="0" y2="156.96"><stop offset="0.02" stop-color="#ecbfbf"/><stop offset="0.17" stop-color="#eecbcc"/><stop offset="0.34" stop-color="#f1ddde"/><stop offset="0.49" stop-color="#f5eef0"/><stop offset="0.64" stop-color="#e7ebf2"/><stop offset="0.8" stop-color="#c5d2e5"/><stop offset="0.98" stop-color="#8ca7cf"/></linearGradient><linearGradient id="ga_75" gradientUnits="userSpaceOnUse" x1="0" y1="63.81" x2="0" y2="157.09"><stop offset="0.02" stop-color="#ecbfc0"/><stop offset="0.18" stop-color="#eecccd"/><stop offset="0.33" stop-color="#f2dedf"/><stop offset="0.49" stop-color="#f5eff1"/><stop offset="0.64" stop-color="#e5eaf2"/><stop offset="0.8" stop-color="#c3d0e4"/><stop offset="0.98" stop-color="#89a5ce"/></linearGradient><linearGradient id="ga_76" gradientUnits="userSpaceOnUse" x1="0" y1="64.29" x2="0" y2="157.88"><stop offset="0.02" stop-color="#edc1c2"/><stop offset="0.17" stop-color="#efcecf"/><stop offset="0.32" stop-color="#f2e0e2"/><stop offset="0.49" stop-color="#f5f2f4"/><stop offset="0.63" stop-color="#e1e6f0"/><stop offset="0.79" stop-color="#becce2"/><stop offset="0.98" stop-color="#84a1cc"/></linearGradient><linearGradient id="ga_77" gradientUnits="userSpaceOnUse" x1="0" y1="63.95" x2="0" y2="157.64"><stop offset="0.02" stop-color="#ecc0c1"/><stop offset="0.18" stop-color="#efcdce"/><stop offset="0.33" stop-color="#f2dfe0"/><stop offset="0.49" stop-color="#f5f1f3"/><stop offset="0.64" stop-color="#e2e7f0"/><stop offset="0.8" stop-color="#bfcde3"/><stop offset="0.98" stop-color="#84a1cc"/></linearGradient><linearGradient id="ga_78" gradientUnits="userSpaceOnUse" x1="0" y1="64.17" x2="0" y2="158.4"><stop offset="0.02" stop-color="#ebb8b8"/><stop offset="0.17" stop-color="#edc5c6"/><stop offset="0.32" stop-color="#f0d7d8"/><stop offset="0.48" stop-color="#f4eaeb"/><stop offset="0.62" stop-color="#edeff5"/><stop offset="0.79" stop-color="#cad5e7"/><stop offset="0.98" stop-color="#8ea9d0"/></linearGradient><linearGradient id="ga_79" gradientUnits="userSpaceOnUse" x1="0" y1="63.38" x2="0" y2="158.29"><stop offset="0.02" stop-color="#ebb8b8"/><stop offset="0.17" stop-color="#edc5c6"/><stop offset="0.33" stop-color="#f0d7d9"/><stop offset="0.49" stop-color="#f4eaec"/><stop offset="0.62" stop-color="#eceff4"/><stop offset="0.79" stop-color="#c8d4e6"/><stop offset="0.98" stop-color="#8ca7cf"/></linearGradient><linearGradient id="ga_80" gradientUnits="userSpaceOnUse" x1="0" y1="63.36" x2="0" y2="157.54"><stop offset="0.02" stop-color="#ebb8b9"/><stop offset="0.17" stop-color="#edc6c6"/><stop offset="0.32" stop-color="#f1d8da"/><stop offset="0.48" stop-color="#f4ebed"/><stop offset="0.64" stop-color="#eaedf3"/><stop offset="0.8" stop-color="#c6d2e5"/><stop offset="0.98" stop-color="#89a5ce"/></linearGradient><linearGradient id="ga_81" gradientUnits="userSpaceOnUse" x1="0" y1="62.81" x2="0" y2="157.46"><stop offset="0.02" stop-color="#e9adad"/><stop offset="0.18" stop-color="#ebbbbb"/><stop offset="0.33" stop-color="#efcecf"/><stop offset="0.49" stop-color="#f2e2e3"/><stop offset="0.63" stop-color="#f6f5f7"/><stop offset="0.8" stop-color="#d1daea"/><stop offset="0.98" stop-color="#91abd1"/></linearGradient><linearGradient id="ga_82" gradientUnits="userSpaceOnUse" x1="0" y1="60.44" x2="0" y2="157.21"><stop offset="0.02" stop-color="#e7a6a6"/><stop offset="0.17" stop-color="#eab5b5"/><stop offset="0.33" stop-color="#eec9ca"/><stop offset="0.49" stop-color="#f2dedf"/><stop offset="0.64" stop-color="#f5f2f4"/><stop offset="0.8" stop-color="#d4dceb"/><stop offset="0.98" stop-color="#91abd1"/></linearGradient><linearGradient id="ga_83" gradientUnits="userSpaceOnUse" x1="0" y1="59.01" x2="0" y2="156.81"><stop offset="0.02" stop-color="#e7a4a4"/><stop offset="0.16" stop-color="#eab4b4"/><stop offset="0.32" stop-color="#eec9ca"/><stop offset="0.48" stop-color="#f2dfe0"/><stop offset="0.63" stop-color="#f6f4f6"/><stop offset="0.79" stop-color="#cfd9e9"/><stop offset="0.98" stop-color="#89a5ce"/></linearGradient><linearGradient id="ga_84" gradientUnits="userSpaceOnUse" x1="0" y1="58.29" x2="0" y2="156.85"><stop offset="0.02" stop-color="#e6a3a3"/><stop offset="0.17" stop-color="#eab3b3"/><stop offset="0.32" stop-color="#eec8c9"/><stop offset="0.49" stop-color="#f2dee0"/><stop offset="0.64" stop-color="#f6f4f6"/><stop offset="0.81" stop-color="#cfd9e9"/><stop offset="0.98" stop-color="#88a4ce"/></linearGradient><linearGradient id="ga_85" gradientUnits="userSpaceOnUse" x1="0" y1="60.95" x2="0" y2="157.34"><stop offset="0.02" stop-color="#e5a0a0"/><stop offset="0.16" stop-color="#e9b0b0"/><stop offset="0.33" stop-color="#edc5c6"/><stop offset="0.49" stop-color="#f1dbdc"/><stop offset="0.63" stop-color="#f5f0f2"/><stop offset="0.8" stop-color="#d5deeb"/><stop offset="0.98" stop-color="#90aad0"/></linearGradient><linearGradient id="ga_86" gradientUnits="userSpaceOnUse" x1="0" y1="60.86" x2="0" y2="157.46"><stop offset="0.02" stop-color="#e7a6a6"/><stop offset="0.18" stop-color="#eab5b5"/><stop offset="0.32" stop-color="#eecacb"/><stop offset="0.48" stop-color="#f2dfe1"/><stop offset="0.64" stop-color="#f6f5f7"/><stop offset="0.79" stop-color="#cfd9e9"/><stop offset="0.98" stop-color="#8aa5ce"/></linearGradient><linearGradient id="ga_87" gradientUnits="userSpaceOnUse" x1="0" y1="60.69" x2="0" y2="157.32"><stop offset="0.02" stop-color="#e8a9a9"/><stop offset="0.18" stop-color="#ebb8b9"/><stop offset="0.33" stop-color="#efcdce"/><stop offset="0.48" stop-color="#f2e2e4"/><stop offset="0.63" stop-color="#f4f5f7"/><stop offset="0.79" stop-color="#ccd6e8"/><stop offset="0.98" stop-color="#88a4cd"/></linearGradient><linearGradient id="ga_88" gradientUnits="userSpaceOnUse" x1="0" y1="60.55" x2="0" y2="158.2"><stop offset="0.02" stop-color="#e7a5a5"/><stop offset="0.17" stop-color="#eab4b4"/><stop offset="0.32" stop-color="#eec8c9"/><stop offset="0.48" stop-color="#f2ddde"/><stop offset="0.62" stop-color="#f5f2f4"/><stop offset="0.8" stop-color="#d4ddeb"/><stop offset="0.98" stop-color="#91abd1"/></linearGradient><linearGradient id="cba" x1="0" x2="1" y1="0" y2="0"><stop offset="0" stop-color="#5276b6"/><stop offset="0.1" stop-color="#6b8cc1"/><stop offset="0.2" stop-color="#84a1cc"/><stop offset="0.3" stop-color="#aec0dc"/><stop offset="0.4" stop-color="#d8e0ed"/><stop offset="0.47" stop-color="#f6f6f8"/><stop offset="0.55" stop-color="#f2e0e1"/><stop offset="0.65" stop-color="#edc4c5"/><stop offset="0.75" stop-color="#e8a8a8"/><stop offset="0.85" stop-color="#dc8a8a"/><stop offset="1" stop-color="#ca5c5c"/></linearGradient><clipPath id="cpb"><path d="M249.8 70.87 L250.8 70.94 L251.8 70.7 L252.8 71.35 L253.8 71.98 L254.8 72.78 L255.8 73.29 L256.8 72.61 L257.8 71.34 L258.8 70.46 L259.8 70.01 L260.8 70.28 L261.8 71.18 L262.8 70.82 L263.8 69.83 L264.8 70 L265.8 70.45 L266.8 70.77 L267.8 70.84 L268.8 70.2 L269.8 69.72 L270.8 69.99 L271.8 69.65 L272.8 69.24 L273.8 70.35 L274.8 70.7 L275.8 70.42 L276.8 70.39 L277.8 69.9 L278.8 69.85 L279.8 70.52 L280.8 70.85 L281.8 70.3 L282.8 70.14 L283.8 70.86 L284.8 70.92 L285.8 71.14 L286.8 71.05 L287.8 69.9 L288.8 69.89 L289.8 70.55 L290.8 70.8 L291.8 70.92 L292.8 71.23 L293.8 71.27 L294.8 70.79 L295.8 70.38 L296.8 70.22 L297.8 70.89 L298.8 71.67 L299.8 71.32 L300.8 70.7 L301.8 70.5 L302.8 70.52 L303.8 70.61 L304.8 70.34 L305.8 70.65 L306.8 70.44 L307.8 70.18 L308.8 70.69 L309.8 70.98 L310.8 71.08 L311.8 72.53 L312.8 76.07 L313.8 80.47 L314.8 85.37 L315.8 85.46 L316.8 81.48 L317.8 76.55 L318.8 71.7 L319.8 70.9 L320.8 70.55 L321.8 68.99 L322.8 68.74 L323.8 69.78 L324.8 69.34 L325.8 68.63 L326.8 67.8 L327.8 66.04 L328.8 63.44 L329.8 60.18 L330.8 55.82 L331.8 50.93 L332.8 45.83 L333.8 40.37 L334.8 35.16 L335.8 30.65 L336.8 27.49 L337.8 28.33 L338.8 31.69 L339.8 37.02 L340.8 41.42 L341.8 45.02 L342.8 48.59 L343.8 51.83 L344.8 54.44 L345.8 57 L346.8 58.63 L347.8 58.1 L348.8 58.07 L349.8 57.87 L350.8 58.09 L351.8 57.91 L352.8 58.65 L353.8 59.01 L354.8 58.14 L355.8 58.24 L356.8 58.98 L357.8 59.09 L358.8 59.37 L359.8 59.83 L360.8 60.35 L361.8 60.39 L362.8 59.87 L363.8 60.05 L364.8 59.98 L365.8 59.46 L366.8 60.07 L367.8 61.14 L368.8 61.56 L369.8 62.47 L370.8 62.62 L371.8 62.04 L372.8 63.65 L373.8 64.79 L374.8 65.6 L375.8 67.38 L376.8 67.43 L377.8 69.08 L378.8 71.15 L379.8 71.82 L380.8 71.4 L381.8 70.78 L382.8 70.41 L383.8 70.46 L384.8 69.62 L385.8 68.76 L386.8 68.99 L387.8 69.23 L388.8 67.98 L389.8 67.97 L390.8 68.75 L391.8 68.5 L392.8 68.11 L393.8 68.89 L394.8 69.6 L395.8 68.74 L396.8 68.4 L397.8 68.5 L398.8 68.61 L399.8 68.97 L400.8 69.15 L401.8 68.67 L402.8 68.44 L403.8 68.85 L404.8 68.58 L405.8 68.21 L406.8 68.92 L407.8 69.07 L408.8 68.71 L409.8 67.38 L410.8 62.4 L411.8 53.49 L412.8 54.29 L413.8 62.66 L414.8 65.51 L415.8 64.96 L416.8 64.46 L417.8 65 L418.8 65.55 L419.8 64.07 L420.8 63.37 L421.8 63.31 L422.8 62.7 L423.8 63.11 L424.8 63.18 L425.8 63.55 L425.8 158.73 L424.8 158.09 L423.8 157.65 L422.8 157.21 L421.8 157.9 L420.8 157.66 L419.8 157.65 L418.8 156.82 L417.8 156.43 L416.8 156.57 L415.8 157.5 L414.8 157.26 L413.8 156.36 L412.8 156.15 L411.8 156.71 L410.8 158.93 L409.8 157.99 L408.8 157.89 L407.8 157.32 L406.8 158.46 L405.8 158.05 L404.8 157.07 L403.8 158.67 L402.8 157.48 L401.8 157.79 L400.8 157.57 L399.8 157.35 L398.8 157.09 L397.8 158.05 L396.8 158.32 L395.8 157.4 L394.8 157.82 L393.8 158.67 L392.8 157.29 L391.8 157.45 L390.8 157.38 L389.8 157.16 L388.8 157.14 L387.8 156.95 L386.8 159.6 L385.8 158.74 L384.8 157.97 L383.8 157.21 L382.8 157.72 L381.8 158.2 L380.8 158.26 L379.8 158.38 L378.8 158.4 L377.8 157.12 L376.8 158.72 L375.8 158.7 L374.8 158.14 L373.8 157.92 L372.8 157.07 L371.8 158.36 L370.8 158.35 L369.8 158.41 L368.8 157.96 L367.8 157.64 L366.8 158.19 L365.8 158.2 L364.8 158.54 L363.8 158.81 L362.8 158.66 L361.8 157.08 L360.8 157.1 L359.8 156.76 L358.8 157.47 L357.8 157.75 L356.8 157.26 L355.8 157.64 L354.8 158.2 L353.8 157.18 L352.8 158.5 L351.8 157.72 L350.8 156.78 L349.8 158.05 L348.8 158 L347.8 157.15 L346.8 156.85 L345.8 156.64 L344.8 157.3 L343.8 157.83 L342.8 156.8 L341.8 157.4 L340.8 157.91 L339.8 158.29 L338.8 158.95 L337.8 158.13 L336.8 158.61 L335.8 157.46 L334.8 158.04 L333.8 158.13 L332.8 158.34 L331.8 157.37 L330.8 157.25 L329.8 157.48 L328.8 157.01 L327.8 157.32 L326.8 157.02 L325.8 157.3 L324.8 157.29 L323.8 157.13 L322.8 158.76 L321.8 157.1 L320.8 156.09 L319.8 155.34 L318.8 157.77 L317.8 158.23 L316.8 158.56 L315.8 159.5 L314.8 158.85 L313.8 158.35 L312.8 157.49 L311.8 157.84 L310.8 158.24 L309.8 157.64 L308.8 157.73 L307.8 157.96 L306.8 157.65 L305.8 157.61 L304.8 157.29 L303.8 156.76 L302.8 156.67 L301.8 157.35 L300.8 157.95 L299.8 156.86 L298.8 157.3 L297.8 157.51 L296.8 157.41 L295.8 157.54 L294.8 158.44 L293.8 158.59 L292.8 158.2 L291.8 158.05 L290.8 157.3 L289.8 158.21 L288.8 156.93 L287.8 157.35 L286.8 157.44 L285.8 157.69 L284.8 157.61 L283.8 159.97 L282.8 157.78 L281.8 157.52 L280.8 156.96 L279.8 158.18 L278.8 158.65 L277.8 158.12 L276.8 157.98 L275.8 158.1 L274.8 157.04 L273.8 157.13 L272.8 158.22 L271.8 157.53 L270.8 158.26 L269.8 158.26 L268.8 157.54 L267.8 157.74 L266.8 156.86 L265.8 157.88 L264.8 157.53 L263.8 158.73 L262.8 157.86 L261.8 158.9 L260.8 157.94 L259.8 157.84 L258.8 158.38 L257.8 157.88 L256.8 158.4 L255.8 157.07 L254.8 156.86 L253.8 156.75 L252.8 157.02 L251.8 157.66 L250.8 157.84 L249.8 158.41Z"/></clipPath><linearGradient id="gb_0" gradientUnits="userSpaceOnUse" x1="0" y1="68.87" x2="0" y2="160.41"><stop offset="0.02" stop-color="#c6d2e6"/><stop offset="0.17" stop-color="#c2cfe4"/><stop offset="0.32" stop-color="#b6c6df"/><stop offset="0.47" stop-color="#a5bad9"/><stop offset="0.62" stop-color="#8ca7cf"/><stop offset="0.75" stop-color="#7b99c8"/><stop offset="0.98" stop-color="#6a8bc1"/></linearGradient><linearGradient id="gb_1" gradientUnits="userSpaceOnUse" x1="0" y1="68.7" x2="0" y2="159.66"><stop offset="0.02" stop-color="#c7d3e6"/><stop offset="0.18" stop-color="#c2d0e4"/><stop offset="0.33" stop-color="#b6c7df"/><stop offset="0.48" stop-color="#a6bad9"/><stop offset="0.63" stop-color="#8da7cf"/><stop offset="0.76" stop-color="#7b99c8"/><stop offset="0.98" stop-color="#6b8bc1"/></linearGradient><linearGradient id="gb_2" gradientUnits="userSpaceOnUse" x1="0" y1="69.98" x2="0" y2="158.75"><stop offset="0.02" stop-color="#cfd9e9"/><stop offset="0.19" stop-color="#cbd6e7"/><stop offset="0.31" stop-color="#bfcde3"/><stop offset="0.49" stop-color="#aec1dc"/><stop offset="0.63" stop-color="#95aed3"/><stop offset="0.77" stop-color="#809dca"/><stop offset="0.98" stop-color="#7090c3"/></linearGradient><linearGradient id="gb_3" gradientUnits="userSpaceOnUse" x1="0" y1="71.29" x2="0" y2="159.07"><stop offset="0.02" stop-color="#cdd7e8"/><stop offset="0.19" stop-color="#c8d4e6"/><stop offset="0.32" stop-color="#bccbe2"/><stop offset="0.5" stop-color="#acbfdb"/><stop offset="0.63" stop-color="#93acd2"/><stop offset="0.78" stop-color="#7f9cca"/><stop offset="0.98" stop-color="#6e8ec2"/></linearGradient><linearGradient id="gb_4" gradientUnits="userSpaceOnUse" x1="0" y1="69.34" x2="0" y2="159.88"><stop offset="0.02" stop-color="#ccd7e8"/><stop offset="0.18" stop-color="#c8d3e6"/><stop offset="0.35" stop-color="#bccbe2"/><stop offset="0.49" stop-color="#abbedb"/><stop offset="0.62" stop-color="#92acd1"/><stop offset="0.76" stop-color="#7e9cc9"/><stop offset="0.98" stop-color="#6e8ec2"/></linearGradient><linearGradient id="gb_5" gradientUnits="userSpaceOnUse" x1="0" y1="68.01" x2="0" y2="159.84"><stop offset="0.02" stop-color="#ccd7e8"/><stop offset="0.18" stop-color="#c7d3e6"/><stop offset="0.33" stop-color="#bbcae1"/><stop offset="0.5" stop-color="#abbedb"/><stop offset="0.62" stop-color="#92abd1"/><stop offset="0.75" stop-color="#7e9cc9"/><stop offset="0.98" stop-color="#6e8ec2"/></linearGradient><linearGradient id="gb_6" gradientUnits="userSpaceOnUse" x1="0" y1="69.18" x2="0" y2="160.9"><stop offset="0.02" stop-color="#c2cfe4"/><stop offset="0.17" stop-color="#becce2"/><stop offset="0.31" stop-color="#b2c3de"/><stop offset="0.48" stop-color="#a1b7d7"/><stop offset="0.61" stop-color="#88a4ce"/><stop offset="0.75" stop-color="#7897c7"/><stop offset="0.98" stop-color="#6889c0"/></linearGradient><linearGradient id="gb_7" gradientUnits="userSpaceOnUse" x1="0" y1="67.83" x2="0" y2="160.73"><stop offset="0.02" stop-color="#c1cfe4"/><stop offset="0.18" stop-color="#bdcbe2"/><stop offset="0.32" stop-color="#b1c2dd"/><stop offset="0.48" stop-color="#a0b6d7"/><stop offset="0.61" stop-color="#87a4cd"/><stop offset="0.76" stop-color="#7897c7"/><stop offset="0.98" stop-color="#6889c0"/></linearGradient><linearGradient id="gb_8" gradientUnits="userSpaceOnUse" x1="0" y1="68.45" x2="0" y2="159.88"><stop offset="0.02" stop-color="#c6d2e5"/><stop offset="0.19" stop-color="#c2cfe4"/><stop offset="0.32" stop-color="#b6c6df"/><stop offset="0.49" stop-color="#a5bad9"/><stop offset="0.62" stop-color="#8ca7cf"/><stop offset="0.75" stop-color="#7b99c8"/><stop offset="0.98" stop-color="#6b8bc1"/></linearGradient><linearGradient id="gb_9" gradientUnits="userSpaceOnUse" x1="0" y1="68.84" x2="0" y2="159.74"><stop offset="0.02" stop-color="#ced8e8"/><stop offset="0.19" stop-color="#c9d5e7"/><stop offset="0.32" stop-color="#bdcce2"/><stop offset="0.48" stop-color="#adc0dc"/><stop offset="0.63" stop-color="#94add2"/><stop offset="0.76" stop-color="#7f9dca"/><stop offset="0.98" stop-color="#6f8fc3"/></linearGradient><linearGradient id="gb_10" gradientUnits="userSpaceOnUse" x1="0" y1="67.72" x2="0" y2="160.26"><stop offset="0.02" stop-color="#c1cfe4"/><stop offset="0.19" stop-color="#bdcce2"/><stop offset="0.32" stop-color="#b1c3dd"/><stop offset="0.48" stop-color="#a1b7d7"/><stop offset="0.62" stop-color="#88a4ce"/><stop offset="0.76" stop-color="#7897c7"/><stop offset="0.98" stop-color="#6889c0"/></linearGradient><linearGradient id="gb_11" gradientUnits="userSpaceOnUse" x1="0" y1="67.65" x2="0" y2="159.53"><stop offset="0.02" stop-color="#cbd6e8"/><stop offset="0.2" stop-color="#c7d3e6"/><stop offset="0.34" stop-color="#bbcae1"/><stop offset="0.48" stop-color="#abbedb"/><stop offset="0.63" stop-color="#92abd1"/><stop offset="0.77" stop-color="#7e9cc9"/><stop offset="0.98" stop-color="#6e8ec2"/></linearGradient><linearGradient id="gb_12" gradientUnits="userSpaceOnUse" x1="0" y1="68.35" x2="0" y2="159.13"><stop offset="0.02" stop-color="#c7d3e6"/><stop offset="0.19" stop-color="#c3d0e4"/><stop offset="0.32" stop-color="#b7c7e0"/><stop offset="0.49" stop-color="#a7bbd9"/><stop offset="0.64" stop-color="#8ea8d0"/><stop offset="0.77" stop-color="#7c9ac8"/><stop offset="0.98" stop-color="#6c8cc1"/></linearGradient><linearGradient id="gb_13" gradientUnits="userSpaceOnUse" x1="0" y1="68.42" x2="0" y2="160.1"><stop offset="0.02" stop-color="#d0dae9"/><stop offset="0.2" stop-color="#ccd6e8"/><stop offset="0.33" stop-color="#c0cee3"/><stop offset="0.49" stop-color="#b0c1dd"/><stop offset="0.62" stop-color="#97afd3"/><stop offset="0.76" stop-color="#819ecb"/><stop offset="0.98" stop-color="#7191c4"/></linearGradient><linearGradient id="gb_14" gradientUnits="userSpaceOnUse" x1="0" y1="67.9" x2="0" y2="160.12"><stop offset="0.02" stop-color="#c9d5e7"/><stop offset="0.2" stop-color="#c5d1e5"/><stop offset="0.33" stop-color="#b9c9e1"/><stop offset="0.49" stop-color="#a9bdda"/><stop offset="0.63" stop-color="#90aad1"/><stop offset="0.76" stop-color="#7d9bc9"/><stop offset="0.98" stop-color="#6d8dc2"/></linearGradient><linearGradient id="gb_15" gradientUnits="userSpaceOnUse" x1="0" y1="68.52" x2="0" y2="160.18"><stop offset="0.02" stop-color="#c0cee3"/><stop offset="0.19" stop-color="#bccbe2"/><stop offset="0.33" stop-color="#b0c2dd"/><stop offset="0.48" stop-color="#a0b6d7"/><stop offset="0.62" stop-color="#87a3cd"/><stop offset="0.75" stop-color="#7896c7"/><stop offset="0.98" stop-color="#6889c0"/></linearGradient><linearGradient id="gb_16" gradientUnits="userSpaceOnUse" x1="0" y1="68.3" x2="0" y2="159.52"><stop offset="0.02" stop-color="#c4d1e5"/><stop offset="0.18" stop-color="#c0cde3"/><stop offset="0.34" stop-color="#b4c5de"/><stop offset="0.49" stop-color="#a4b9d8"/><stop offset="0.62" stop-color="#8ba6cf"/><stop offset="0.77" stop-color="#7a98c8"/><stop offset="0.98" stop-color="#6a8bc1"/></linearGradient><linearGradient id="gb_17" gradientUnits="userSpaceOnUse" x1="0" y1="68.86" x2="0" y2="161.97"><stop offset="0.02" stop-color="#c5d1e5"/><stop offset="0.17" stop-color="#c0cee3"/><stop offset="0.32" stop-color="#b5c5df"/><stop offset="0.47" stop-color="#a4b9d9"/><stop offset="0.6" stop-color="#8ca7cf"/><stop offset="0.74" stop-color="#7b99c8"/><stop offset="0.98" stop-color="#6b8bc1"/></linearGradient><linearGradient id="gb_18" gradientUnits="userSpaceOnUse" x1="0" y1="69.14" x2="0" y2="159.69"><stop offset="0.02" stop-color="#c1cfe4"/><stop offset="0.19" stop-color="#bdcbe2"/><stop offset="0.32" stop-color="#b1c3dd"/><stop offset="0.49" stop-color="#a1b7d7"/><stop offset="0.62" stop-color="#88a4ce"/><stop offset="0.75" stop-color="#7997c7"/><stop offset="0.98" stop-color="#698ac0"/></linearGradient><linearGradient id="gb_19" gradientUnits="userSpaceOnUse" x1="0" y1="67.9" x2="0" y2="159.35"><stop offset="0.02" stop-color="#becce2"/><stop offset="0.2" stop-color="#bac9e1"/><stop offset="0.33" stop-color="#aec0dc"/><stop offset="0.49" stop-color="#9eb5d6"/><stop offset="0.63" stop-color="#86a2cd"/><stop offset="0.75" stop-color="#7796c6"/><stop offset="0.98" stop-color="#6788bf"/></linearGradient><linearGradient id="gb_20" gradientUnits="userSpaceOnUse" x1="0" y1="68.55" x2="0" y2="160.21"><stop offset="0.02" stop-color="#cbd6e7"/><stop offset="0.19" stop-color="#c6d3e6"/><stop offset="0.33" stop-color="#bbcae1"/><stop offset="0.49" stop-color="#abbedb"/><stop offset="0.61" stop-color="#92abd1"/><stop offset="0.76" stop-color="#7e9cca"/><stop offset="0.98" stop-color="#6f8fc3"/></linearGradient><linearGradient id="gb_21" gradientUnits="userSpaceOnUse" x1="0" y1="68.92" x2="0" y2="160.05"><stop offset="0.02" stop-color="#bccae1"/><stop offset="0.17" stop-color="#b7c7e0"/><stop offset="0.32" stop-color="#acbfdb"/><stop offset="0.49" stop-color="#9cb3d5"/><stop offset="0.62" stop-color="#83a1cc"/><stop offset="0.76" stop-color="#7695c6"/><stop offset="0.98" stop-color="#6687bf"/></linearGradient><linearGradient id="gb_22" gradientUnits="userSpaceOnUse" x1="0" y1="69.27" x2="0" y2="160.59"><stop offset="0.02" stop-color="#c5d2e5"/><stop offset="0.17" stop-color="#c1cee4"/><stop offset="0.32" stop-color="#b5c6df"/><stop offset="0.48" stop-color="#a5bad9"/><stop offset="0.61" stop-color="#8da8cf"/><stop offset="0.75" stop-color="#7b99c8"/><stop offset="0.98" stop-color="#6b8cc1"/></linearGradient><linearGradient id="gb_23" gradientUnits="userSpaceOnUse" x1="0" y1="68.38" x2="0" y2="159.54"><stop offset="0.02" stop-color="#c1cfe4"/><stop offset="0.18" stop-color="#bdcbe2"/><stop offset="0.32" stop-color="#b1c3dd"/><stop offset="0.48" stop-color="#a1b7d7"/><stop offset="0.63" stop-color="#89a5ce"/><stop offset="0.76" stop-color="#7997c7"/><stop offset="0.98" stop-color="#698ac0"/></linearGradient><linearGradient id="gb_24" gradientUnits="userSpaceOnUse" x1="0" y1="68.89" x2="0" y2="159.51"><stop offset="0.02" stop-color="#c1cfe4"/><stop offset="0.19" stop-color="#bdcbe2"/><stop offset="0.33" stop-color="#b1c3dd"/><stop offset="0.5" stop-color="#a1b7d7"/><stop offset="0.62" stop-color="#89a5ce"/><stop offset="0.76" stop-color="#7998c7"/><stop offset="0.98" stop-color="#698ac0"/></linearGradient><linearGradient id="gb_25" gradientUnits="userSpaceOnUse" x1="0" y1="69.32" x2="0" y2="158.86"><stop offset="0.02" stop-color="#c2cfe4"/><stop offset="0.18" stop-color="#becce2"/><stop offset="0.32" stop-color="#b2c3de"/><stop offset="0.48" stop-color="#a2b8d8"/><stop offset="0.62" stop-color="#8aa5ce"/><stop offset="0.77" stop-color="#7a98c7"/><stop offset="0.98" stop-color="#6a8bc1"/></linearGradient><linearGradient id="gb_26" gradientUnits="userSpaceOnUse" x1="0" y1="68.5" x2="0" y2="159.35"><stop offset="0.02" stop-color="#c4d1e5"/><stop offset="0.18" stop-color="#c0cee3"/><stop offset="0.34" stop-color="#b4c5df"/><stop offset="0.49" stop-color="#a4b9d8"/><stop offset="0.62" stop-color="#8ca7cf"/><stop offset="0.76" stop-color="#7b99c8"/><stop offset="0.98" stop-color="#6b8cc1"/></linearGradient><linearGradient id="gb_27" gradientUnits="userSpaceOnUse" x1="0" y1="68.61" x2="0" y2="158.76"><stop offset="0.02" stop-color="#c7d3e6"/><stop offset="0.2" stop-color="#c3d0e4"/><stop offset="0.33" stop-color="#b7c7e0"/><stop offset="0.49" stop-color="#a8bcda"/><stop offset="0.64" stop-color="#8fa9d0"/><stop offset="0.77" stop-color="#7d9bc9"/><stop offset="0.98" stop-color="#6d8dc2"/></linearGradient><linearGradient id="gb_28" gradientUnits="userSpaceOnUse" x1="0" y1="68.65" x2="0" y2="159.61"><stop offset="0.02" stop-color="#c0cee3"/><stop offset="0.18" stop-color="#bccbe2"/><stop offset="0.32" stop-color="#b0c2dd"/><stop offset="0.47" stop-color="#a0b6d7"/><stop offset="0.62" stop-color="#88a4ce"/><stop offset="0.75" stop-color="#7997c7"/><stop offset="0.98" stop-color="#698ac0"/></linearGradient><linearGradient id="gb_29" gradientUnits="userSpaceOnUse" x1="0" y1="68.18" x2="0" y2="159.96"><stop offset="0.02" stop-color="#cad5e7"/><stop offset="0.19" stop-color="#c6d2e5"/><stop offset="0.33" stop-color="#bac9e1"/><stop offset="0.49" stop-color="#aabedb"/><stop offset="0.63" stop-color="#92abd1"/><stop offset="0.75" stop-color="#7e9cca"/><stop offset="0.98" stop-color="#6f8fc3"/></linearGradient><linearGradient id="gb_30" gradientUnits="userSpaceOnUse" x1="0" y1="68.98" x2="0" y2="159.64"><stop offset="0.02" stop-color="#c4d1e5"/><stop offset="0.18" stop-color="#c0cee3"/><stop offset="0.32" stop-color="#b4c5df"/><stop offset="0.49" stop-color="#a4b9d8"/><stop offset="0.61" stop-color="#8ba6cf"/><stop offset="0.77" stop-color="#7a98c8"/><stop offset="0.98" stop-color="#6a8ac0"/></linearGradient><linearGradient id="gb_31" gradientUnits="userSpaceOnUse" x1="0" y1="70.53" x2="0" y2="159.84"><stop offset="0.02" stop-color="#9cb3d5"/><stop offset="0.19" stop-color="#99b0d4"/><stop offset="0.32" stop-color="#91aad1"/><stop offset="0.48" stop-color="#85a2cd"/><stop offset="0.63" stop-color="#7b99c8"/><stop offset="0.77" stop-color="#7191c4"/><stop offset="0.98" stop-color="#6687bf"/></linearGradient><linearGradient id="gb_32" gradientUnits="userSpaceOnUse" x1="0" y1="78.47" x2="0" y2="160.35"><stop offset="0.02" stop-color="#7493c5"/><stop offset="0.2" stop-color="#7392c5"/><stop offset="0.33" stop-color="#7090c3"/><stop offset="0.48" stop-color="#6d8dc2"/><stop offset="0.63" stop-color="#6788bf"/><stop offset="0.8" stop-color="#6284bd"/><stop offset="0.98" stop-color="#5c7eba"/></linearGradient><linearGradient id="gb_33" gradientUnits="userSpaceOnUse" x1="0" y1="83.46" x2="0" y2="161.5"><stop offset="0.03" stop-color="#6385be"/><stop offset="0.2" stop-color="#6385bd"/><stop offset="0.33" stop-color="#6283bd"/><stop offset="0.48" stop-color="#6082bc"/><stop offset="0.64" stop-color="#5d7fbb"/><stop offset="0.78" stop-color="#5a7dba"/><stop offset="0.97" stop-color="#577bb8"/></linearGradient><linearGradient id="gb_34" gradientUnits="userSpaceOnUse" x1="0" y1="74.55" x2="0" y2="160.23"><stop offset="0.02" stop-color="#809eca"/><stop offset="0.19" stop-color="#7f9dca"/><stop offset="0.33" stop-color="#7b99c8"/><stop offset="0.49" stop-color="#7695c6"/><stop offset="0.62" stop-color="#6e8ec2"/><stop offset="0.78" stop-color="#6687bf"/><stop offset="0.98" stop-color="#5e80bb"/></linearGradient><linearGradient id="gb_35" gradientUnits="userSpaceOnUse" x1="0" y1="68.9" x2="0" y2="157.34"><stop offset="0.02" stop-color="#a3b8d8"/><stop offset="0.19" stop-color="#a0b6d7"/><stop offset="0.34" stop-color="#97afd3"/><stop offset="0.5" stop-color="#8ba6cf"/><stop offset="0.63" stop-color="#7d9bc9"/><stop offset="0.77" stop-color="#7392c5"/><stop offset="0.98" stop-color="#6788bf"/></linearGradient><linearGradient id="gb_36" gradientUnits="userSpaceOnUse" x1="0" y1="66.99" x2="0" y2="159.1"><stop offset="0.02" stop-color="#bccbe2"/><stop offset="0.2" stop-color="#b8c7e0"/><stop offset="0.33" stop-color="#acbfdb"/><stop offset="0.5" stop-color="#9cb3d5"/><stop offset="0.62" stop-color="#84a1cc"/><stop offset="0.77" stop-color="#7796c6"/><stop offset="0.98" stop-color="#6788bf"/></linearGradient><linearGradient id="gb_37" gradientUnits="userSpaceOnUse" x1="0" y1="67.78" x2="0" y2="159.13"><stop offset="0.02" stop-color="#d9e0ed"/><stop offset="0.18" stop-color="#d4ddeb"/><stop offset="0.32" stop-color="#c6d2e5"/><stop offset="0.47" stop-color="#b2c4de"/><stop offset="0.61" stop-color="#95aed3"/><stop offset="0.77" stop-color="#7d9bc9"/><stop offset="0.98" stop-color="#6a8bc1"/></linearGradient><linearGradient id="gb_38" gradientUnits="userSpaceOnUse" x1="0" y1="66.63" x2="0" y2="159.3"><stop offset="0.02" stop-color="#f1f2f6"/><stop offset="0.18" stop-color="#ebeef4"/><stop offset="0.32" stop-color="#dbe2ed"/><stop offset="0.48" stop-color="#c4d1e5"/><stop offset="0.61" stop-color="#a2b7d8"/><stop offset="0.77" stop-color="#82a0cb"/><stop offset="0.98" stop-color="#6c8dc2"/></linearGradient><linearGradient id="gb_39" gradientUnits="userSpaceOnUse" x1="0" y1="64.04" x2="0" y2="159.32"><stop offset="0.02" stop-color="#f3e6e8"/><stop offset="0.18" stop-color="#f4ebed"/><stop offset="0.32" stop-color="#f4f5f7"/><stop offset="0.47" stop-color="#dbe2ee"/><stop offset="0.63" stop-color="#b4c5de"/><stop offset="0.77" stop-color="#8fa9d0"/><stop offset="0.98" stop-color="#7191c4"/></linearGradient><linearGradient id="gb_40" gradientUnits="userSpaceOnUse" x1="0" y1="58.18" x2="0" y2="159.48"><stop offset="0.02" stop-color="#f2dddf"/><stop offset="0.17" stop-color="#f2e2e4"/><stop offset="0.3" stop-color="#f5f0f2"/><stop offset="0.45" stop-color="#e2e7f0"/><stop offset="0.61" stop-color="#b7c7e0"/><stop offset="0.77" stop-color="#8da8cf"/><stop offset="0.98" stop-color="#6d8dc2"/></linearGradient><linearGradient id="gb_41" gradientUnits="userSpaceOnUse" x1="0" y1="48.93" x2="0" y2="159.37"><stop offset="0.02" stop-color="#e9b0b0"/><stop offset="0.15" stop-color="#ebb6b7"/><stop offset="0.29" stop-color="#eec9ca"/><stop offset="0.44" stop-color="#f2e2e3"/><stop offset="0.6" stop-color="#dae1ed"/><stop offset="0.79" stop-color="#a3b8d8"/><stop offset="0.98" stop-color="#7190c3"/></linearGradient><linearGradient id="gb_42" gradientUnits="userSpaceOnUse" x1="0" y1="38.37" x2="0" y2="160.13"><stop offset="0.02" stop-color="#db8787"/><stop offset="0.15" stop-color="#df9090"/><stop offset="0.27" stop-color="#e8a9a9"/><stop offset="0.42" stop-color="#eec9c9"/><stop offset="0.59" stop-color="#f2f3f6"/><stop offset="0.79" stop-color="#acbfdc"/><stop offset="0.98" stop-color="#6d8dc2"/></linearGradient><linearGradient id="gb_43" gradientUnits="userSpaceOnUse" x1="0" y1="28.65" x2="0" y2="159.46"><stop offset="0.02" stop-color="#d47474"/><stop offset="0.14" stop-color="#d87e7e"/><stop offset="0.27" stop-color="#e29a9a"/><stop offset="0.41" stop-color="#ecbdbe"/><stop offset="0.58" stop-color="#f5f2f4"/><stop offset="0.8" stop-color="#afc1dd"/><stop offset="0.98" stop-color="#6a8bc0"/></linearGradient><linearGradient id="gb_44" gradientUnits="userSpaceOnUse" x1="0" y1="26.33" x2="0" y2="160.13"><stop offset="0.01" stop-color="#cf6868"/><stop offset="0.13" stop-color="#d37272"/><stop offset="0.27" stop-color="#de8e8e"/><stop offset="0.4" stop-color="#eab4b4"/><stop offset="0.58" stop-color="#f4ebec"/><stop offset="0.79" stop-color="#b8c8e0"/><stop offset="0.99" stop-color="#6e8ec2"/></linearGradient><linearGradient id="gb_45" gradientUnits="userSpaceOnUse" x1="0" y1="35.02" x2="0" y2="160.29"><stop offset="0.02" stop-color="#d77e7e"/><stop offset="0.13" stop-color="#db8888"/><stop offset="0.26" stop-color="#e6a2a2"/><stop offset="0.41" stop-color="#edc4c5"/><stop offset="0.59" stop-color="#f4f4f7"/><stop offset="0.77" stop-color="#aabdda"/><stop offset="0.98" stop-color="#6889c0"/></linearGradient><linearGradient id="gb_46" gradientUnits="userSpaceOnUse" x1="0" y1="43.02" x2="0" y2="159.4"><stop offset="0.02" stop-color="#e29a9a"/><stop offset="0.15" stop-color="#e6a2a2"/><stop offset="0.28" stop-color="#ebb7b7"/><stop offset="0.43" stop-color="#f0d3d4"/><stop offset="0.59" stop-color="#e9ecf3"/><stop offset="0.79" stop-color="#aabedb"/><stop offset="0.98" stop-color="#7190c3"/></linearGradient><linearGradient id="gb_47" gradientUnits="userSpaceOnUse" x1="0" y1="49.83" x2="0" y2="159.83"><stop offset="0.02" stop-color="#ecbfc0"/><stop offset="0.17" stop-color="#edc5c6"/><stop offset="0.3" stop-color="#f0d6d7"/><stop offset="0.43" stop-color="#f4edef"/><stop offset="0.59" stop-color="#ced8e9"/><stop offset="0.77" stop-color="#9bb2d5"/><stop offset="0.98" stop-color="#6f8fc3"/></linearGradient><linearGradient id="gb_48" gradientUnits="userSpaceOnUse" x1="0" y1="55" x2="0" y2="158.64"><stop offset="0.02" stop-color="#eecbcc"/><stop offset="0.17" stop-color="#efd1d2"/><stop offset="0.3" stop-color="#f2e1e2"/><stop offset="0.44" stop-color="#f6f6f8"/><stop offset="0.59" stop-color="#c4d1e5"/><stop offset="0.77" stop-color="#95aed3"/><stop offset="0.98" stop-color="#6e8ec2"/></linearGradient><linearGradient id="gb_49" gradientUnits="userSpaceOnUse" x1="0" y1="56.1" x2="0" y2="159.15"><stop offset="0.02" stop-color="#f1dbdd"/><stop offset="0.16" stop-color="#f2e1e2"/><stop offset="0.3" stop-color="#f5eff1"/><stop offset="0.44" stop-color="#e3e8f1"/><stop offset="0.59" stop-color="#b5c6df"/><stop offset="0.77" stop-color="#8aa5ce"/><stop offset="0.98" stop-color="#6a8bc1"/></linearGradient><linearGradient id="gb_50" gradientUnits="userSpaceOnUse" x1="0" y1="55.87" x2="0" y2="160.05"><stop offset="0.02" stop-color="#f2e2e4"/><stop offset="0.16" stop-color="#f3e7e9"/><stop offset="0.3" stop-color="#f6f4f6"/><stop offset="0.43" stop-color="#dde3ee"/><stop offset="0.58" stop-color="#b3c4de"/><stop offset="0.76" stop-color="#8ba7cf"/><stop offset="0.98" stop-color="#6e8ec2"/></linearGradient><linearGradient id="gb_51" gradientUnits="userSpaceOnUse" x1="0" y1="55.91" x2="0" y2="159.72"><stop offset="0.02" stop-color="#f4ebed"/><stop offset="0.15" stop-color="#f5f0f1"/><stop offset="0.3" stop-color="#eceef4"/><stop offset="0.43" stop-color="#d1daea"/><stop offset="0.58" stop-color="#a7bbda"/><stop offset="0.76" stop-color="#819fcb"/><stop offset="0.98" stop-color="#6788bf"/></linearGradient><linearGradient id="gb_52" gradientUnits="userSpaceOnUse" x1="0" y1="57.01" x2="0" y2="159.18"><stop offset="0.02" stop-color="#f4eaec"/><stop offset="0.15" stop-color="#f5eff0"/><stop offset="0.29" stop-color="#eef0f5"/><stop offset="0.43" stop-color="#d3dcea"/><stop offset="0.58" stop-color="#aabdda"/><stop offset="0.76" stop-color="#83a0cc"/><stop offset="0.98" stop-color="#6889c0"/></linearGradient><linearGradient id="gb_53" gradientUnits="userSpaceOnUse" x1="0" y1="56.24" x2="0" y2="159.64"><stop offset="0.02" stop-color="#f3e6e8"/><stop offset="0.16" stop-color="#f4ebec"/><stop offset="0.3" stop-color="#f4f4f7"/><stop offset="0.44" stop-color="#d9e0ed"/><stop offset="0.59" stop-color="#b0c2dd"/><stop offset="0.76" stop-color="#89a5ce"/><stop offset="0.98" stop-color="#6d8dc2"/></linearGradient><linearGradient id="gb_54" gradientUnits="userSpaceOnUse" x1="0" y1="57.09" x2="0" y2="159.75"><stop offset="0.02" stop-color="#f3e6e8"/><stop offset="0.17" stop-color="#f4ebec"/><stop offset="0.29" stop-color="#f4f4f7"/><stop offset="0.44" stop-color="#d9e0ed"/><stop offset="0.59" stop-color="#b1c2dd"/><stop offset="0.75" stop-color="#8aa5ce"/><stop offset="0.98" stop-color="#6d8dc2"/></linearGradient><linearGradient id="gb_55" gradientUnits="userSpaceOnUse" x1="0" y1="57.83" x2="0" y2="158.76"><stop offset="0.02" stop-color="#f4e9eb"/><stop offset="0.17" stop-color="#f5eef0"/><stop offset="0.3" stop-color="#eff1f5"/><stop offset="0.44" stop-color="#d5ddeb"/><stop offset="0.6" stop-color="#acbfdc"/><stop offset="0.78" stop-color="#86a2cd"/><stop offset="0.98" stop-color="#6b8cc1"/></linearGradient><linearGradient id="gb_56" gradientUnits="userSpaceOnUse" x1="0" y1="58.39" x2="0" y2="159.08"><stop offset="0.02" stop-color="#f4e9ea"/><stop offset="0.15" stop-color="#f4edef"/><stop offset="0.29" stop-color="#f0f2f6"/><stop offset="0.44" stop-color="#d6deec"/><stop offset="0.58" stop-color="#aec0dc"/><stop offset="0.77" stop-color="#88a4cd"/><stop offset="0.98" stop-color="#6c8dc2"/></linearGradient><linearGradient id="gb_57" gradientUnits="userSpaceOnUse" x1="0" y1="58.05" x2="0" y2="160.81"><stop offset="0.02" stop-color="#f4edef"/><stop offset="0.17" stop-color="#f5f1f3"/><stop offset="0.3" stop-color="#eaedf3"/><stop offset="0.45" stop-color="#d0dae9"/><stop offset="0.59" stop-color="#a8bcda"/><stop offset="0.75" stop-color="#83a0cc"/><stop offset="0.98" stop-color="#698ac0"/></linearGradient><linearGradient id="gb_58" gradientUnits="userSpaceOnUse" x1="0" y1="57.46" x2="0" y2="160.2"><stop offset="0.02" stop-color="#f5f0f2"/><stop offset="0.18" stop-color="#f6f4f6"/><stop offset="0.31" stop-color="#e6eaf2"/><stop offset="0.45" stop-color="#ccd7e8"/><stop offset="0.6" stop-color="#a5b9d9"/><stop offset="0.77" stop-color="#819ecb"/><stop offset="0.98" stop-color="#6889c0"/></linearGradient><linearGradient id="gb_59" gradientUnits="userSpaceOnUse" x1="0" y1="59.14" x2="0" y2="159.64"><stop offset="0.02" stop-color="#f4ecee"/><stop offset="0.16" stop-color="#f5f1f3"/><stop offset="0.31" stop-color="#ebeef4"/><stop offset="0.45" stop-color="#d2dbea"/><stop offset="0.6" stop-color="#aabedb"/><stop offset="0.75" stop-color="#85a2cc"/><stop offset="0.98" stop-color="#6b8cc1"/></linearGradient><linearGradient id="gb_60" gradientUnits="userSpaceOnUse" x1="0" y1="60.47" x2="0" y2="160.41"><stop offset="0.02" stop-color="#f4e9eb"/><stop offset="0.17" stop-color="#f5eeef"/><stop offset="0.31" stop-color="#f0f2f6"/><stop offset="0.44" stop-color="#d7dfec"/><stop offset="0.6" stop-color="#b0c2dd"/><stop offset="0.76" stop-color="#8ba6cf"/><stop offset="0.98" stop-color="#6f8fc3"/></linearGradient><linearGradient id="gb_61" gradientUnits="userSpaceOnUse" x1="0" y1="60.04" x2="0" y2="160.36"><stop offset="0.02" stop-color="#f5f1f3"/><stop offset="0.17" stop-color="#f6f5f7"/><stop offset="0.31" stop-color="#e5eaf2"/><stop offset="0.45" stop-color="#cdd8e8"/><stop offset="0.6" stop-color="#a8bcda"/><stop offset="0.75" stop-color="#85a2cc"/><stop offset="0.98" stop-color="#6d8dc2"/></linearGradient><linearGradient id="gb_62" gradientUnits="userSpaceOnUse" x1="0" y1="62.79" x2="0" y2="159.92"><stop offset="0.02" stop-color="#eef0f5"/><stop offset="0.16" stop-color="#e8ebf2"/><stop offset="0.31" stop-color="#d7dfec"/><stop offset="0.46" stop-color="#c0cee3"/><stop offset="0.61" stop-color="#9db4d6"/><stop offset="0.76" stop-color="#7f9dca"/><stop offset="0.98" stop-color="#6989c0"/></linearGradient><linearGradient id="gb_63" gradientUnits="userSpaceOnUse" x1="0" y1="65.38" x2="0" y2="160.7"><stop offset="0.02" stop-color="#e5e9f1"/><stop offset="0.17" stop-color="#dfe5ef"/><stop offset="0.31" stop-color="#cfd9e9"/><stop offset="0.47" stop-color="#bac9e1"/><stop offset="0.6" stop-color="#99b0d4"/><stop offset="0.75" stop-color="#7e9bc9"/><stop offset="0.98" stop-color="#6889c0"/></linearGradient><linearGradient id="gb_64" gradientUnits="userSpaceOnUse" x1="0" y1="67.08" x2="0" y2="159.12"><stop offset="0.02" stop-color="#d7dfec"/><stop offset="0.19" stop-color="#d2dbea"/><stop offset="0.33" stop-color="#c3d0e4"/><stop offset="0.48" stop-color="#aec1dc"/><stop offset="0.63" stop-color="#8fa9d0"/><stop offset="0.77" stop-color="#7998c7"/><stop offset="0.98" stop-color="#6586be"/></linearGradient><linearGradient id="gb_65" gradientUnits="userSpaceOnUse" x1="0" y1="69.82" x2="0" y2="160.38"><stop offset="0.02" stop-color="#e0e6f0"/><stop offset="0.19" stop-color="#dbe2ee"/><stop offset="0.33" stop-color="#cdd7e8"/><stop offset="0.49" stop-color="#b9c9e1"/><stop offset="0.63" stop-color="#9bb2d5"/><stop offset="0.75" stop-color="#819ecb"/><stop offset="0.98" stop-color="#6e8ec2"/></linearGradient><linearGradient id="gb_66" gradientUnits="userSpaceOnUse" x1="0" y1="68.78" x2="0" y2="160.2"><stop offset="0.02" stop-color="#dce2ee"/><stop offset="0.19" stop-color="#d7dfec"/><stop offset="0.32" stop-color="#c9d4e7"/><stop offset="0.48" stop-color="#b6c6df"/><stop offset="0.61" stop-color="#99b1d4"/><stop offset="0.75" stop-color="#809eca"/><stop offset="0.98" stop-color="#6e8ec2"/></linearGradient><linearGradient id="gb_67" gradientUnits="userSpaceOnUse" x1="0" y1="68.46" x2="0" y2="159.21"><stop offset="0.02" stop-color="#d1dbea"/><stop offset="0.18" stop-color="#cdd7e8"/><stop offset="0.33" stop-color="#bfcde3"/><stop offset="0.49" stop-color="#adc0dc"/><stop offset="0.62" stop-color="#91abd1"/><stop offset="0.75" stop-color="#7c9ac9"/><stop offset="0.98" stop-color="#6a8bc1"/></linearGradient><linearGradient id="gb_68" gradientUnits="userSpaceOnUse" x1="0" y1="66.76" x2="0" y2="160.74"><stop offset="0.02" stop-color="#cbd6e8"/><stop offset="0.18" stop-color="#c7d3e6"/><stop offset="0.32" stop-color="#bac9e1"/><stop offset="0.47" stop-color="#a8bcda"/><stop offset="0.6" stop-color="#8da8cf"/><stop offset="0.76" stop-color="#7a98c7"/><stop offset="0.98" stop-color="#6889c0"/></linearGradient><linearGradient id="gb_69" gradientUnits="userSpaceOnUse" x1="0" y1="67.23" x2="0" y2="158.95"><stop offset="0.02" stop-color="#d2dbea"/><stop offset="0.17" stop-color="#ced8e8"/><stop offset="0.31" stop-color="#c1cee3"/><stop offset="0.49" stop-color="#afc1dd"/><stop offset="0.63" stop-color="#94add2"/><stop offset="0.77" stop-color="#7e9cc9"/><stop offset="0.98" stop-color="#6c8dc2"/></linearGradient><linearGradient id="gb_70" gradientUnits="userSpaceOnUse" x1="0" y1="65.97" x2="0" y2="159.16"><stop offset="0.02" stop-color="#cfd9e9"/><stop offset="0.19" stop-color="#cad5e7"/><stop offset="0.33" stop-color="#bdcbe2"/><stop offset="0.49" stop-color="#abbedb"/><stop offset="0.61" stop-color="#90aad1"/><stop offset="0.77" stop-color="#7c9ac8"/><stop offset="0.98" stop-color="#6a8bc1"/></linearGradient><linearGradient id="gb_71" gradientUnits="userSpaceOnUse" x1="0" y1="66.5" x2="0" y2="159.45"><stop offset="0.02" stop-color="#cdd7e8"/><stop offset="0.18" stop-color="#c8d4e6"/><stop offset="0.33" stop-color="#bbcae1"/><stop offset="0.48" stop-color="#a9bdda"/><stop offset="0.61" stop-color="#8ea8d0"/><stop offset="0.77" stop-color="#7a99c8"/><stop offset="0.98" stop-color="#698ac0"/></linearGradient><linearGradient id="gb_72" gradientUnits="userSpaceOnUse" x1="0" y1="66.89" x2="0" y2="160.67"><stop offset="0.02" stop-color="#d3dcea"/><stop offset="0.19" stop-color="#ced8e9"/><stop offset="0.32" stop-color="#c1cfe4"/><stop offset="0.47" stop-color="#afc1dd"/><stop offset="0.6" stop-color="#94add2"/><stop offset="0.75" stop-color="#7e9cc9"/><stop offset="0.98" stop-color="#6d8dc2"/></linearGradient><linearGradient id="gb_73" gradientUnits="userSpaceOnUse" x1="0" y1="66.74" x2="0" y2="159.4"><stop offset="0.02" stop-color="#d4dceb"/><stop offset="0.19" stop-color="#cfd9e9"/><stop offset="0.33" stop-color="#c2cfe4"/><stop offset="0.49" stop-color="#b0c2dd"/><stop offset="0.62" stop-color="#95aed3"/><stop offset="0.76" stop-color="#7f9cca"/><stop offset="0.98" stop-color="#6d8dc2"/></linearGradient><linearGradient id="gb_74" gradientUnits="userSpaceOnUse" x1="0" y1="66.5" x2="0" y2="160.05"><stop offset="0.02" stop-color="#d7dfec"/><stop offset="0.18" stop-color="#d3dcea"/><stop offset="0.33" stop-color="#c6d2e5"/><stop offset="0.48" stop-color="#b4c5de"/><stop offset="0.62" stop-color="#99b0d4"/><stop offset="0.76" stop-color="#819ecb"/><stop offset="0.98" stop-color="#6f8fc3"/></linearGradient><linearGradient id="gb_75" gradientUnits="userSpaceOnUse" x1="0" y1="66.97" x2="0" y2="159.35"><stop offset="0.02" stop-color="#d0dae9"/><stop offset="0.18" stop-color="#ccd6e8"/><stop offset="0.31" stop-color="#bfcde3"/><stop offset="0.48" stop-color="#adbfdc"/><stop offset="0.62" stop-color="#92abd1"/><stop offset="0.77" stop-color="#7d9bc9"/><stop offset="0.98" stop-color="#6b8cc1"/></linearGradient><linearGradient id="gb_76" gradientUnits="userSpaceOnUse" x1="0" y1="66.67" x2="0" y2="159.79"><stop offset="0.02" stop-color="#d3dcea"/><stop offset="0.19" stop-color="#ced8e9"/><stop offset="0.31" stop-color="#c1cfe4"/><stop offset="0.48" stop-color="#afc1dd"/><stop offset="0.62" stop-color="#94add2"/><stop offset="0.75" stop-color="#7e9cc9"/><stop offset="0.98" stop-color="#6d8dc2"/></linearGradient><linearGradient id="gb_77" gradientUnits="userSpaceOnUse" x1="0" y1="66.85" x2="0" y2="160.67"><stop offset="0.02" stop-color="#c9d4e7"/><stop offset="0.18" stop-color="#c4d1e5"/><stop offset="0.32" stop-color="#b7c7e0"/><stop offset="0.47" stop-color="#a5bad9"/><stop offset="0.61" stop-color="#8aa6ce"/><stop offset="0.76" stop-color="#7897c7"/><stop offset="0.98" stop-color="#6788bf"/></linearGradient><linearGradient id="gb_78" gradientUnits="userSpaceOnUse" x1="0" y1="66.21" x2="0" y2="160.05"><stop offset="0.02" stop-color="#cdd7e8"/><stop offset="0.19" stop-color="#c8d4e6"/><stop offset="0.33" stop-color="#bbcae1"/><stop offset="0.48" stop-color="#a9bdda"/><stop offset="0.61" stop-color="#8ea8d0"/><stop offset="0.75" stop-color="#7b99c8"/><stop offset="0.98" stop-color="#698ac0"/></linearGradient><linearGradient id="gb_79" gradientUnits="userSpaceOnUse" x1="0" y1="67.07" x2="0" y2="159.32"><stop offset="0.02" stop-color="#cbd6e8"/><stop offset="0.17" stop-color="#c7d3e6"/><stop offset="0.32" stop-color="#bac9e1"/><stop offset="0.48" stop-color="#a8bcda"/><stop offset="0.61" stop-color="#8da7cf"/><stop offset="0.76" stop-color="#7a98c7"/><stop offset="0.98" stop-color="#6889c0"/></linearGradient><linearGradient id="gb_80" gradientUnits="userSpaceOnUse" x1="0" y1="65.38" x2="0" y2="159.99"><stop offset="0.02" stop-color="#f5f1f3"/><stop offset="0.18" stop-color="#f6f5f7"/><stop offset="0.32" stop-color="#e5eaf2"/><stop offset="0.46" stop-color="#cdd8e8"/><stop offset="0.61" stop-color="#a8bcda"/><stop offset="0.76" stop-color="#85a2cc"/><stop offset="0.98" stop-color="#6d8dc2"/></linearGradient><linearGradient id="gb_81" gradientUnits="userSpaceOnUse" x1="0" y1="51.49" x2="0" y2="158.71"><stop offset="0.02" stop-color="#f0d2d3"/><stop offset="0.25" stop-color="#f1d8d9"/><stop offset="0.38" stop-color="#f3e6e8"/><stop offset="0.52" stop-color="#eff1f5"/><stop offset="0.65" stop-color="#c1cee3"/><stop offset="0.78" stop-color="#94add2"/><stop offset="0.98" stop-color="#6f8fc3"/></linearGradient><linearGradient id="gb_82" gradientUnits="userSpaceOnUse" x1="0" y1="60.66" x2="0" y2="158.36"><stop offset="0.02" stop-color="#f4edef"/><stop offset="0.2" stop-color="#f5f1f3"/><stop offset="0.33" stop-color="#ebeef4"/><stop offset="0.49" stop-color="#d2dbea"/><stop offset="0.63" stop-color="#adbfdc"/><stop offset="0.77" stop-color="#88a4ce"/><stop offset="0.98" stop-color="#6e8ec2"/></linearGradient><linearGradient id="gb_83" gradientUnits="userSpaceOnUse" x1="0" y1="62.96" x2="0" y2="159.5"><stop offset="0.02" stop-color="#e4e9f1"/><stop offset="0.17" stop-color="#dfe5ef"/><stop offset="0.31" stop-color="#d0d9e9"/><stop offset="0.46" stop-color="#bbcae1"/><stop offset="0.61" stop-color="#9cb3d5"/><stop offset="0.77" stop-color="#809eca"/><stop offset="0.98" stop-color="#6c8dc2"/></linearGradient><linearGradient id="gb_84" gradientUnits="userSpaceOnUse" x1="0" y1="63" x2="0" y2="158.43"><stop offset="0.02" stop-color="#dbe2ee"/><stop offset="0.17" stop-color="#d5deeb"/><stop offset="0.31" stop-color="#c6d2e6"/><stop offset="0.47" stop-color="#b1c3de"/><stop offset="0.62" stop-color="#91abd1"/><stop offset="0.77" stop-color="#7a98c8"/><stop offset="0.98" stop-color="#6587bf"/></linearGradient><linearGradient id="gb_85" gradientUnits="userSpaceOnUse" x1="0" y1="62.07" x2="0" y2="159.65"><stop offset="0.02" stop-color="#eff1f5"/><stop offset="0.18" stop-color="#e9edf3"/><stop offset="0.31" stop-color="#dae1ed"/><stop offset="0.45" stop-color="#c5d1e5"/><stop offset="0.6" stop-color="#a4b9d8"/><stop offset="0.76" stop-color="#85a2cd"/><stop offset="0.98" stop-color="#7090c3"/></linearGradient><linearGradient id="gb_86" gradientUnits="userSpaceOnUse" x1="0" y1="61.31" x2="0" y2="159.9"><stop offset="0.02" stop-color="#e8ecf3"/><stop offset="0.19" stop-color="#e3e8f1"/><stop offset="0.33" stop-color="#d3dcea"/><stop offset="0.45" stop-color="#bdcce2"/><stop offset="0.61" stop-color="#9cb3d5"/><stop offset="0.76" stop-color="#809dca"/><stop offset="0.98" stop-color="#6b8bc1"/></linearGradient><linearGradient id="gb_87" gradientUnits="userSpaceOnUse" x1="0" y1="61.11" x2="0" y2="159.65"><stop offset="0.02" stop-color="#e6eaf2"/><stop offset="0.18" stop-color="#e0e6f0"/><stop offset="0.32" stop-color="#d0dae9"/><stop offset="0.47" stop-color="#bacae1"/><stop offset="0.61" stop-color="#99b1d4"/><stop offset="0.77" stop-color="#7d9bc9"/><stop offset="0.98" stop-color="#6889c0"/></linearGradient><linearGradient id="gb_88" gradientUnits="userSpaceOnUse" x1="0" y1="61.55" x2="0" y2="160.73"><stop offset="0.02" stop-color="#e7ebf2"/><stop offset="0.17" stop-color="#e1e6f0"/><stop offset="0.31" stop-color="#d1daea"/><stop offset="0.46" stop-color="#bbcae1"/><stop offset="0.6" stop-color="#99b0d4"/><stop offset="0.75" stop-color="#7d9bc9"/><stop offset="0.98" stop-color="#6788bf"/></linearGradient><linearGradient id="cbb" x1="0" x2="1" y1="0" y2="0"><stop offset="0" stop-color="#5276b6"/><stop offset="0.1" stop-color="#6b8cc1"/><stop offset="0.2" stop-color="#84a1cc"/><stop offset="0.3" stop-color="#aec0dc"/><stop offset="0.4" stop-color="#d8e0ed"/><stop offset="0.47" stop-color="#f6f6f8"/><stop offset="0.55" stop-color="#f2e0e1"/><stop offset="0.65" stop-color="#edc4c5"/><stop offset="0.75" stop-color="#e8a8a8"/><stop offset="0.85" stop-color="#dc8a8a"/><stop offset="1" stop-color="#ca5c5c"/></linearGradient><clipPath id="cpd"><path d="M30.3 262.26 L31.3 262.22 L32.3 261.76 L33.3 261.88 L34.3 262.65 L35.3 262.61 L36.3 263.31 L37.3 263.84 L38.3 262.87 L39.3 262.4 L40.3 262.06 L41.3 261.94 L42.3 262.49 L43.3 261.92 L44.3 261.46 L45.3 260.74 L46.3 260.59 L47.3 260.34 L48.3 259.16 L49.3 259.02 L50.3 259.19 L51.3 259.66 L52.3 260.8 L53.3 261.99 L54.3 261.99 L55.3 261.94 L56.3 262.03 L57.3 261.55 L58.3 261.85 L59.3 262.73 L60.3 262.9 L61.3 262.24 L62.3 262.23 L63.3 262.08 L64.3 261.96 L65.3 262.37 L66.3 262.62 L67.3 262.71 L68.3 262.04 L69.3 262.14 L70.3 262.69 L71.3 262.86 L72.3 262.43 L73.3 262.72 L74.3 263.28 L75.3 262.34 L76.3 261.53 L77.3 261.96 L78.3 262.11 L79.3 262.71 L80.3 262.58 L81.3 261.28 L82.3 261.34 L83.3 261.11 L84.3 259.57 L85.3 257.55 L86.3 256.39 L87.3 256.29 L88.3 256.71 L89.3 257.58 L90.3 259.7 L91.3 261.26 L92.3 261.75 L93.3 261.71 L94.3 261.95 L95.3 262.05 L96.3 261.82 L97.3 261.25 L98.3 261.23 L99.3 262.04 L100.3 261.93 L101.3 261.71 L102.3 260.53 L103.3 260.55 L104.3 261.56 L105.3 261.12 L106.3 260.15 L107.3 260.02 L108.3 259.44 L109.3 258.09 L110.3 257.63 L111.3 257.01 L112.3 256.1 L113.3 254.95 L114.3 253.97 L115.3 252.75 L116.3 251.43 L117.3 251.79 L118.3 252.31 L119.3 252.81 L120.3 252.58 L121.3 250.51 L122.3 247.77 L123.3 244.08 L124.3 239.62 L125.3 236.75 L126.3 237.38 L127.3 239.37 L128.3 244.07 L129.3 249.84 L130.3 253.75 L131.3 257.08 L132.3 259.53 L133.3 260.87 L134.3 261.73 L135.3 262.15 L136.3 261.91 L137.3 262.03 L138.3 262.29 L139.3 262.72 L140.3 263.25 L141.3 263.02 L142.3 262.23 L143.3 261.98 L144.3 261.92 L145.3 261.68 L146.3 261.67 L147.3 262.37 L148.3 262.32 L149.3 261.72 L150.3 261.39 L151.3 261.46 L152.3 262.14 L153.3 262.42 L154.3 262.48 L155.3 263.07 L156.3 263.23 L157.3 262.6 L158.3 262.12 L159.3 262.36 L160.3 262.69 L161.3 261.73 L162.3 261.99 L163.3 262.37 L164.3 262.37 L165.3 262.74 L166.3 262.35 L167.3 261.97 L168.3 262.34 L169.3 263.08 L170.3 262.3 L171.3 261.83 L172.3 262.11 L172.3 353.99 L171.3 353.14 L170.3 353.19 L169.3 352.77 L168.3 353.15 L167.3 353.69 L166.3 353.36 L165.3 353.22 L164.3 353.28 L163.3 353.37 L162.3 352.99 L161.3 352.34 L160.3 353.06 L159.3 353.42 L158.3 352.95 L157.3 352.78 L156.3 353.4 L155.3 354.1 L154.3 353.08 L153.3 352.61 L152.3 353.12 L151.3 353.14 L150.3 353.05 L149.3 353.34 L148.3 353.04 L147.3 352.46 L146.3 352.41 L145.3 352.54 L144.3 352.76 L143.3 353 L142.3 353.21 L141.3 353.43 L140.3 353.43 L139.3 353.27 L138.3 353.71 L137.3 354.05 L136.3 353.42 L135.3 352.85 L134.3 353.07 L133.3 353.64 L132.3 353.27 L131.3 352.32 L130.3 351.75 L129.3 350.96 L128.3 350.39 L127.3 350.23 L126.3 349.31 L125.3 347.8 L124.3 346.21 L123.3 345.11 L122.3 343.79 L121.3 342.05 L120.3 339.94 L119.3 337.16 L118.3 335.64 L117.3 335.39 L116.3 333.75 L115.3 332.55 L114.3 334.65 L113.3 337.37 L112.3 340.83 L111.3 344.85 L110.3 347.59 L109.3 350.28 L108.3 351 L107.3 351.58 L106.3 352.84 L105.3 353.24 L104.3 353.34 L103.3 353.14 L102.3 352.74 L101.3 352.6 L100.3 352.72 L99.3 352.25 L98.3 351.94 L97.3 352.61 L96.3 353.46 L95.3 353.08 L94.3 352.48 L93.3 352.84 L92.3 352.13 L91.3 350.94 L90.3 350.4 L89.3 349.85 L88.3 348.73 L87.3 346.92 L86.3 347.24 L85.3 349.04 L84.3 349.9 L83.3 350.05 L82.3 350.99 L81.3 352.18 L80.3 352.98 L79.3 353.23 L78.3 352.66 L77.3 352.66 L76.3 353.01 L75.3 353.39 L74.3 353.74 L73.3 352.6 L72.3 352.58 L71.3 353.71 L70.3 352.63 L69.3 351.8 L68.3 352.57 L67.3 353.3 L66.3 353.32 L65.3 353.02 L64.3 353.11 L63.3 353.53 L62.3 354.22 L61.3 353.56 L60.3 352.42 L59.3 353.22 L58.3 353.22 L57.3 352.19 L56.3 353.06 L55.3 353.88 L54.3 353.35 L53.3 352.72 L52.3 352.3 L51.3 351.96 L50.3 350.69 L49.3 349.63 L48.3 349.86 L47.3 351.06 L46.3 351.98 L45.3 352.42 L44.3 352.87 L43.3 353.34 L42.3 352.84 L41.3 352.8 L40.3 353.52 L39.3 353.98 L38.3 353.82 L37.3 352.71 L36.3 353.09 L35.3 353.19 L34.3 352.14 L33.3 353.03 L32.3 353.71 L31.3 352.66 L30.3 352.66Z"/></clipPath><linearGradient id="gd_0" gradientUnits="userSpaceOnUse" x1="0" y1="260.26" x2="0" y2="354.66"><stop offset="0.02" stop-color="#a9bcda"/><stop offset="0.19" stop-color="#a9bcda"/><stop offset="0.34" stop-color="#a9bcda"/><stop offset="0.51" stop-color="#a9bcda"/><stop offset="0.66" stop-color="#a9bcda"/><stop offset="0.82" stop-color="#a9bcda"/><stop offset="0.98" stop-color="#a9bcda"/></linearGradient><linearGradient id="gd_1" gradientUnits="userSpaceOnUse" x1="0" y1="259.76" x2="0" y2="355.71"><stop offset="0.02" stop-color="#abbedb"/><stop offset="0.19" stop-color="#abbedb"/><stop offset="0.34" stop-color="#abbedb"/><stop offset="0.51" stop-color="#abbedb"/><stop offset="0.66" stop-color="#abbedb"/><stop offset="0.82" stop-color="#abbedb"/><stop offset="0.98" stop-color="#abbedb"/></linearGradient><linearGradient id="gd_2" gradientUnits="userSpaceOnUse" x1="0" y1="260.65" x2="0" y2="354.14"><stop offset="0.02" stop-color="#b3c4de"/><stop offset="0.17" stop-color="#b3c4de"/><stop offset="0.35" stop-color="#b3c4de"/><stop offset="0.51" stop-color="#b3c4de"/><stop offset="0.67" stop-color="#b3c4de"/><stop offset="0.83" stop-color="#b3c4de"/><stop offset="0.98" stop-color="#b3c4de"/></linearGradient><linearGradient id="gd_3" gradientUnits="userSpaceOnUse" x1="0" y1="261.31" x2="0" y2="355.09"><stop offset="0.02" stop-color="#abbedb"/><stop offset="0.19" stop-color="#abbedb"/><stop offset="0.34" stop-color="#abbedb"/><stop offset="0.5" stop-color="#abbedb"/><stop offset="0.65" stop-color="#abbedb"/><stop offset="0.82" stop-color="#abbedb"/><stop offset="0.98" stop-color="#abbedb"/></linearGradient><linearGradient id="gd_4" gradientUnits="userSpaceOnUse" x1="0" y1="260.87" x2="0" y2="355.82"><stop offset="0.02" stop-color="#b3c4de"/><stop offset="0.19" stop-color="#b3c4de"/><stop offset="0.33" stop-color="#b3c4de"/><stop offset="0.51" stop-color="#b3c4de"/><stop offset="0.65" stop-color="#b3c4de"/><stop offset="0.82" stop-color="#b3c4de"/><stop offset="0.98" stop-color="#b3c4de"/></linearGradient><linearGradient id="gd_5" gradientUnits="userSpaceOnUse" x1="0" y1="260.06" x2="0" y2="355.52"><stop offset="0.02" stop-color="#b0c2dd"/><stop offset="0.19" stop-color="#b0c2dd"/><stop offset="0.35" stop-color="#b0c2dd"/><stop offset="0.51" stop-color="#b0c2dd"/><stop offset="0.66" stop-color="#b0c2dd"/><stop offset="0.82" stop-color="#b0c2dd"/><stop offset="0.98" stop-color="#b0c2dd"/></linearGradient><linearGradient id="gd_6" gradientUnits="userSpaceOnUse" x1="0" y1="260.49" x2="0" y2="354.84"><stop offset="0.02" stop-color="#adc0dc"/><stop offset="0.18" stop-color="#adc0dc"/><stop offset="0.34" stop-color="#adc0dc"/><stop offset="0.51" stop-color="#adc0dc"/><stop offset="0.66" stop-color="#adc0dc"/><stop offset="0.83" stop-color="#adc0dc"/><stop offset="0.98" stop-color="#adc0dc"/></linearGradient><linearGradient id="gd_7" gradientUnits="userSpaceOnUse" x1="0" y1="259.46" x2="0" y2="354.87"><stop offset="0.02" stop-color="#b1c3dd"/><stop offset="0.18" stop-color="#b1c3dd"/><stop offset="0.35" stop-color="#b1c3dd"/><stop offset="0.51" stop-color="#b1c3dd"/><stop offset="0.65" stop-color="#b1c3dd"/><stop offset="0.82" stop-color="#b1c3dd"/><stop offset="0.98" stop-color="#b1c3dd"/></linearGradient><linearGradient id="gd_8" gradientUnits="userSpaceOnUse" x1="0" y1="258.59" x2="0" y2="353.98"><stop offset="0.02" stop-color="#b0c2dd"/><stop offset="0.18" stop-color="#b0c2dd"/><stop offset="0.35" stop-color="#b0c2dd"/><stop offset="0.5" stop-color="#b0c2dd"/><stop offset="0.66" stop-color="#b0c2dd"/><stop offset="0.81" stop-color="#b0c2dd"/><stop offset="0.98" stop-color="#b0c2dd"/></linearGradient><linearGradient id="gd_9" gradientUnits="userSpaceOnUse" x1="0" y1="257.16" x2="0" y2="351.86"><stop offset="0.02" stop-color="#b8c8e0"/><stop offset="0.19" stop-color="#b8c8e0"/><stop offset="0.34" stop-color="#b8c8e0"/><stop offset="0.51" stop-color="#b8c8e0"/><stop offset="0.66" stop-color="#b8c8e0"/><stop offset="0.83" stop-color="#b8c8e0"/><stop offset="0.98" stop-color="#b8c8e0"/></linearGradient><linearGradient id="gd_10" gradientUnits="userSpaceOnUse" x1="0" y1="257.19" x2="0" y2="352.69"><stop offset="0.02" stop-color="#bbcae1"/><stop offset="0.19" stop-color="#bbcae1"/><stop offset="0.35" stop-color="#bbcae1"/><stop offset="0.51" stop-color="#bbcae1"/><stop offset="0.66" stop-color="#bbcae1"/><stop offset="0.82" stop-color="#bbcae1"/><stop offset="0.98" stop-color="#bbcae1"/></linearGradient><linearGradient id="gd_11" gradientUnits="userSpaceOnUse" x1="0" y1="258.8" x2="0" y2="354.3"><stop offset="0.02" stop-color="#b5c6df"/><stop offset="0.19" stop-color="#b5c6df"/><stop offset="0.35" stop-color="#b5c6df"/><stop offset="0.51" stop-color="#b5c6df"/><stop offset="0.66" stop-color="#b5c6df"/><stop offset="0.82" stop-color="#b5c6df"/><stop offset="0.98" stop-color="#b5c6df"/></linearGradient><linearGradient id="gd_12" gradientUnits="userSpaceOnUse" x1="0" y1="259.99" x2="0" y2="355.35"><stop offset="0.02" stop-color="#b2c3de"/><stop offset="0.19" stop-color="#b2c3de"/><stop offset="0.33" stop-color="#b2c3de"/><stop offset="0.51" stop-color="#b2c3de"/><stop offset="0.66" stop-color="#b2c3de"/><stop offset="0.81" stop-color="#b2c3de"/><stop offset="0.98" stop-color="#b2c3de"/></linearGradient><linearGradient id="gd_13" gradientUnits="userSpaceOnUse" x1="0" y1="260.03" x2="0" y2="355.06"><stop offset="0.02" stop-color="#acbfdb"/><stop offset="0.19" stop-color="#acbfdb"/><stop offset="0.35" stop-color="#acbfdb"/><stop offset="0.5" stop-color="#acbfdb"/><stop offset="0.66" stop-color="#acbfdb"/><stop offset="0.83" stop-color="#acbfdb"/><stop offset="0.98" stop-color="#acbfdb"/></linearGradient><linearGradient id="gd_14" gradientUnits="userSpaceOnUse" x1="0" y1="259.85" x2="0" y2="355.22"><stop offset="0.02" stop-color="#aabedb"/><stop offset="0.18" stop-color="#aabedb"/><stop offset="0.35" stop-color="#aabedb"/><stop offset="0.5" stop-color="#aabedb"/><stop offset="0.66" stop-color="#aabedb"/><stop offset="0.83" stop-color="#aabedb"/><stop offset="0.98" stop-color="#aabedb"/></linearGradient><linearGradient id="gd_15" gradientUnits="userSpaceOnUse" x1="0" y1="260.9" x2="0" y2="354.42"><stop offset="0.02" stop-color="#aabedb"/><stop offset="0.18" stop-color="#aabedb"/><stop offset="0.35" stop-color="#aabedb"/><stop offset="0.51" stop-color="#aabedb"/><stop offset="0.66" stop-color="#aabedb"/><stop offset="0.83" stop-color="#aabedb"/><stop offset="0.98" stop-color="#aabedb"/></linearGradient><linearGradient id="gd_16" gradientUnits="userSpaceOnUse" x1="0" y1="260.23" x2="0" y2="356.22"><stop offset="0.02" stop-color="#adc0dc"/><stop offset="0.18" stop-color="#adc0dc"/><stop offset="0.35" stop-color="#adc0dc"/><stop offset="0.51" stop-color="#adc0dc"/><stop offset="0.65" stop-color="#adc0dc"/><stop offset="0.82" stop-color="#adc0dc"/><stop offset="0.98" stop-color="#adc0dc"/></linearGradient><linearGradient id="gd_17" gradientUnits="userSpaceOnUse" x1="0" y1="259.96" x2="0" y2="355.11"><stop offset="0.02" stop-color="#aabdda"/><stop offset="0.19" stop-color="#aabdda"/><stop offset="0.35" stop-color="#aabdda"/><stop offset="0.52" stop-color="#aabdda"/><stop offset="0.66" stop-color="#aabdda"/><stop offset="0.82" stop-color="#aabdda"/><stop offset="0.98" stop-color="#aabdda"/></linearGradient><linearGradient id="gd_18" gradientUnits="userSpaceOnUse" x1="0" y1="260.62" x2="0" y2="355.32"><stop offset="0.02" stop-color="#a7bbd9"/><stop offset="0.19" stop-color="#a7bbd9"/><stop offset="0.35" stop-color="#a7bbd9"/><stop offset="0.51" stop-color="#a7bbd9"/><stop offset="0.66" stop-color="#a7bbd9"/><stop offset="0.81" stop-color="#a7bbd9"/><stop offset="0.98" stop-color="#a7bbd9"/></linearGradient><linearGradient id="gd_19" gradientUnits="userSpaceOnUse" x1="0" y1="260.04" x2="0" y2="354.57"><stop offset="0.02" stop-color="#a8bcda"/><stop offset="0.19" stop-color="#a8bcda"/><stop offset="0.35" stop-color="#a8bcda"/><stop offset="0.5" stop-color="#a8bcda"/><stop offset="0.66" stop-color="#a8bcda"/><stop offset="0.82" stop-color="#a8bcda"/><stop offset="0.98" stop-color="#a8bcda"/></linearGradient><linearGradient id="gd_20" gradientUnits="userSpaceOnUse" x1="0" y1="260.69" x2="0" y2="354.63"><stop offset="0.02" stop-color="#b0c2dd"/><stop offset="0.18" stop-color="#b0c2dd"/><stop offset="0.34" stop-color="#b0c2dd"/><stop offset="0.51" stop-color="#b0c2dd"/><stop offset="0.66" stop-color="#b0c2dd"/><stop offset="0.82" stop-color="#b0c2dd"/><stop offset="0.98" stop-color="#b0c2dd"/></linearGradient><linearGradient id="gd_21" gradientUnits="userSpaceOnUse" x1="0" y1="260.43" x2="0" y2="354.58"><stop offset="0.02" stop-color="#acbedb"/><stop offset="0.19" stop-color="#acbedb"/><stop offset="0.35" stop-color="#acbedb"/><stop offset="0.51" stop-color="#acbedb"/><stop offset="0.67" stop-color="#acbedb"/><stop offset="0.83" stop-color="#acbedb"/><stop offset="0.98" stop-color="#acbedb"/></linearGradient><linearGradient id="gd_22" gradientUnits="userSpaceOnUse" x1="0" y1="261.28" x2="0" y2="355.74"><stop offset="0.02" stop-color="#acbfdc"/><stop offset="0.17" stop-color="#acbfdc"/><stop offset="0.34" stop-color="#acbfdc"/><stop offset="0.49" stop-color="#acbfdc"/><stop offset="0.65" stop-color="#acbfdc"/><stop offset="0.82" stop-color="#acbfdc"/><stop offset="0.98" stop-color="#acbfdc"/></linearGradient><linearGradient id="gd_23" gradientUnits="userSpaceOnUse" x1="0" y1="259.53" x2="0" y2="355.01"><stop offset="0.02" stop-color="#aabddb"/><stop offset="0.18" stop-color="#aabddb"/><stop offset="0.36" stop-color="#aabddb"/><stop offset="0.51" stop-color="#aabddb"/><stop offset="0.66" stop-color="#aabddb"/><stop offset="0.83" stop-color="#aabddb"/><stop offset="0.98" stop-color="#aabddb"/></linearGradient><linearGradient id="gd_24" gradientUnits="userSpaceOnUse" x1="0" y1="260.11" x2="0" y2="354.66"><stop offset="0.02" stop-color="#acbedb"/><stop offset="0.19" stop-color="#acbedb"/><stop offset="0.35" stop-color="#acbedb"/><stop offset="0.52" stop-color="#acbedb"/><stop offset="0.66" stop-color="#acbedb"/><stop offset="0.82" stop-color="#acbedb"/><stop offset="0.98" stop-color="#acbedb"/></linearGradient><linearGradient id="gd_25" gradientUnits="userSpaceOnUse" x1="0" y1="260.58" x2="0" y2="354.98"><stop offset="0.02" stop-color="#b9c8e0"/><stop offset="0.18" stop-color="#b9c8e0"/><stop offset="0.34" stop-color="#b9c8e0"/><stop offset="0.5" stop-color="#b9c8e0"/><stop offset="0.66" stop-color="#b9c8e0"/><stop offset="0.82" stop-color="#b9c8e0"/><stop offset="0.98" stop-color="#b9c8e0"/></linearGradient><linearGradient id="gd_26" gradientUnits="userSpaceOnUse" x1="0" y1="259.34" x2="0" y2="352.99"><stop offset="0.02" stop-color="#c4d0e5"/><stop offset="0.18" stop-color="#c4d0e5"/><stop offset="0.34" stop-color="#c4d0e5"/><stop offset="0.5" stop-color="#c4d0e5"/><stop offset="0.67" stop-color="#c4d0e5"/><stop offset="0.82" stop-color="#c4d0e5"/><stop offset="0.98" stop-color="#c4d0e5"/></linearGradient><linearGradient id="gd_27" gradientUnits="userSpaceOnUse" x1="0" y1="257.57" x2="0" y2="351.9"><stop offset="0.02" stop-color="#d3dcea"/><stop offset="0.17" stop-color="#d3dcea"/><stop offset="0.34" stop-color="#d3dcea"/><stop offset="0.49" stop-color="#d3dcea"/><stop offset="0.65" stop-color="#d3dcea"/><stop offset="0.81" stop-color="#d3dcea"/><stop offset="0.98" stop-color="#d3dcea"/></linearGradient><linearGradient id="gd_28" gradientUnits="userSpaceOnUse" x1="0" y1="254.39" x2="0" y2="349.24"><stop offset="0.02" stop-color="#e7ebf2"/><stop offset="0.19" stop-color="#e7ebf2"/><stop offset="0.34" stop-color="#e7ebf2"/><stop offset="0.5" stop-color="#e7ebf2"/><stop offset="0.66" stop-color="#e7ebf2"/><stop offset="0.81" stop-color="#e7ebf2"/><stop offset="0.98" stop-color="#e7ebf2"/></linearGradient><linearGradient id="gd_29" gradientUnits="userSpaceOnUse" x1="0" y1="254.71" x2="0" y2="350.73"><stop offset="0.02" stop-color="#eceef4"/><stop offset="0.18" stop-color="#eceef4"/><stop offset="0.34" stop-color="#eceef4"/><stop offset="0.5" stop-color="#eceef4"/><stop offset="0.65" stop-color="#eceef4"/><stop offset="0.82" stop-color="#eceef4"/><stop offset="0.98" stop-color="#eceef4"/></linearGradient><linearGradient id="gd_30" gradientUnits="userSpaceOnUse" x1="0" y1="257.7" x2="0" y2="352.4"><stop offset="0.02" stop-color="#dae1ed"/><stop offset="0.19" stop-color="#dae1ed"/><stop offset="0.35" stop-color="#dae1ed"/><stop offset="0.5" stop-color="#dae1ed"/><stop offset="0.66" stop-color="#dae1ed"/><stop offset="0.83" stop-color="#dae1ed"/><stop offset="0.98" stop-color="#dae1ed"/></linearGradient><linearGradient id="gd_31" gradientUnits="userSpaceOnUse" x1="0" y1="259.75" x2="0" y2="354.13"><stop offset="0.02" stop-color="#c3d0e4"/><stop offset="0.18" stop-color="#c3d0e4"/><stop offset="0.36" stop-color="#c3d0e4"/><stop offset="0.51" stop-color="#c3d0e4"/><stop offset="0.66" stop-color="#c3d0e4"/><stop offset="0.83" stop-color="#c3d0e4"/><stop offset="0.98" stop-color="#c3d0e4"/></linearGradient><linearGradient id="gd_32" gradientUnits="userSpaceOnUse" x1="0" y1="259.95" x2="0" y2="354.48"><stop offset="0.02" stop-color="#b9c9e1"/><stop offset="0.19" stop-color="#b9c9e1"/><stop offset="0.36" stop-color="#b9c9e1"/><stop offset="0.5" stop-color="#b9c9e1"/><stop offset="0.65" stop-color="#b9c9e1"/><stop offset="0.83" stop-color="#b9c9e1"/><stop offset="0.98" stop-color="#b9c9e1"/></linearGradient><linearGradient id="gd_33" gradientUnits="userSpaceOnUse" x1="0" y1="259.82" x2="0" y2="355.46"><stop offset="0.02" stop-color="#b0c2dd"/><stop offset="0.18" stop-color="#b0c2dd"/><stop offset="0.35" stop-color="#b0c2dd"/><stop offset="0.51" stop-color="#b0c2dd"/><stop offset="0.65" stop-color="#b0c2dd"/><stop offset="0.82" stop-color="#b0c2dd"/><stop offset="0.98" stop-color="#b0c2dd"/></linearGradient><linearGradient id="gd_34" gradientUnits="userSpaceOnUse" x1="0" y1="259.23" x2="0" y2="353.94"><stop offset="0.02" stop-color="#afc1dd"/><stop offset="0.21" stop-color="#afc1dd"/><stop offset="0.35" stop-color="#afc1dd"/><stop offset="0.51" stop-color="#afc1dd"/><stop offset="0.67" stop-color="#afc1dd"/><stop offset="0.84" stop-color="#afc1dd"/><stop offset="0.98" stop-color="#afc1dd"/></linearGradient><linearGradient id="gd_35" gradientUnits="userSpaceOnUse" x1="0" y1="259.93" x2="0" y2="354.72"><stop offset="0.02" stop-color="#aec0dc"/><stop offset="0.18" stop-color="#aec0dc"/><stop offset="0.34" stop-color="#aec0dc"/><stop offset="0.52" stop-color="#aec0dc"/><stop offset="0.66" stop-color="#aec0dc"/><stop offset="0.83" stop-color="#aec0dc"/><stop offset="0.98" stop-color="#aec0dc"/></linearGradient><linearGradient id="gd_36" gradientUnits="userSpaceOnUse" x1="0" y1="258.53" x2="0" y2="354.74"><stop offset="0.02" stop-color="#adc0dc"/><stop offset="0.2" stop-color="#adc0dc"/><stop offset="0.36" stop-color="#adc0dc"/><stop offset="0.5" stop-color="#adc0dc"/><stop offset="0.67" stop-color="#adc0dc"/><stop offset="0.83" stop-color="#adc0dc"/><stop offset="0.98" stop-color="#adc0dc"/></linearGradient><linearGradient id="gd_37" gradientUnits="userSpaceOnUse" x1="0" y1="259.56" x2="0" y2="355.34"><stop offset="0.02" stop-color="#acbfdb"/><stop offset="0.17" stop-color="#acbfdc"/><stop offset="0.34" stop-color="#acbfdc"/><stop offset="0.5" stop-color="#acbfdc"/><stop offset="0.67" stop-color="#adbfdc"/><stop offset="0.81" stop-color="#adbfdc"/><stop offset="0.98" stop-color="#adbfdc"/></linearGradient><linearGradient id="gd_38" gradientUnits="userSpaceOnUse" x1="0" y1="258.15" x2="0" y2="354.84"><stop offset="0.02" stop-color="#a9bdda"/><stop offset="0.18" stop-color="#aabddb"/><stop offset="0.35" stop-color="#abbedb"/><stop offset="0.51" stop-color="#abbedb"/><stop offset="0.66" stop-color="#acbfdb"/><stop offset="0.82" stop-color="#adbfdc"/><stop offset="0.98" stop-color="#adc0dc"/></linearGradient><linearGradient id="gd_39" gradientUnits="userSpaceOnUse" x1="0" y1="257.44" x2="0" y2="353"><stop offset="0.02" stop-color="#becce2"/><stop offset="0.18" stop-color="#c0cee3"/><stop offset="0.35" stop-color="#c3d0e4"/><stop offset="0.52" stop-color="#c5d1e5"/><stop offset="0.67" stop-color="#c7d3e6"/><stop offset="0.83" stop-color="#c9d5e7"/><stop offset="0.98" stop-color="#cbd6e7"/></linearGradient><linearGradient id="gd_40" gradientUnits="userSpaceOnUse" x1="0" y1="255.63" x2="0" y2="349.59"><stop offset="0.02" stop-color="#d5ddeb"/><stop offset="0.19" stop-color="#dae1ed"/><stop offset="0.35" stop-color="#e0e5ef"/><stop offset="0.52" stop-color="#e5eaf2"/><stop offset="0.67" stop-color="#ebeef4"/><stop offset="0.83" stop-color="#f0f2f6"/><stop offset="0.98" stop-color="#f4f5f7"/></linearGradient><linearGradient id="gd_41" gradientUnits="userSpaceOnUse" x1="0" y1="254.1" x2="0" y2="342.83"><stop offset="0.02" stop-color="#f5eff1"/><stop offset="0.19" stop-color="#f4e8ea"/><stop offset="0.36" stop-color="#f2e1e3"/><stop offset="0.51" stop-color="#f1dadc"/><stop offset="0.66" stop-color="#f0d4d5"/><stop offset="0.84" stop-color="#efcdce"/><stop offset="0.98" stop-color="#eec7c8"/></linearGradient><linearGradient id="gd_42" gradientUnits="userSpaceOnUse" x1="0" y1="251.97" x2="0" y2="336.65"><stop offset="0.02" stop-color="#f0d5d6"/><stop offset="0.19" stop-color="#eecbcc"/><stop offset="0.37" stop-color="#ecc1c2"/><stop offset="0.52" stop-color="#ebb7b7"/><stop offset="0.65" stop-color="#e9adad"/><stop offset="0.8" stop-color="#e6a2a2"/><stop offset="0.98" stop-color="#e29a9a"/></linearGradient><linearGradient id="gd_43" gradientUnits="userSpaceOnUse" x1="0" y1="249.43" x2="0" y2="335.75"><stop offset="0.02" stop-color="#eec9ca"/><stop offset="0.2" stop-color="#ecbebf"/><stop offset="0.38" stop-color="#eab3b4"/><stop offset="0.52" stop-color="#e8a8a8"/><stop offset="0.66" stop-color="#e49d9d"/><stop offset="0.8" stop-color="#df9191"/><stop offset="0.98" stop-color="#db8888"/></linearGradient><linearGradient id="gd_44" gradientUnits="userSpaceOnUse" x1="0" y1="250.31" x2="0" y2="337.64"><stop offset="0.02" stop-color="#eec8c9"/><stop offset="0.2" stop-color="#ecbebf"/><stop offset="0.35" stop-color="#eab5b5"/><stop offset="0.53" stop-color="#e9abab"/><stop offset="0.67" stop-color="#e5a2a2"/><stop offset="0.81" stop-color="#e29898"/><stop offset="0.98" stop-color="#df9191"/></linearGradient><linearGradient id="gd_45" gradientUnits="userSpaceOnUse" x1="0" y1="250.58" x2="0" y2="341.94"><stop offset="0.02" stop-color="#ebb9ba"/><stop offset="0.19" stop-color="#eab4b4"/><stop offset="0.35" stop-color="#e9aeae"/><stop offset="0.5" stop-color="#e8a9a9"/><stop offset="0.65" stop-color="#e7a4a4"/><stop offset="0.81" stop-color="#e5a0a0"/><stop offset="0.98" stop-color="#e49f9f"/></linearGradient><linearGradient id="gd_46" gradientUnits="userSpaceOnUse" x1="0" y1="245.77" x2="0" y2="345.79"><stop offset="0.02" stop-color="#e19797"/><stop offset="0.19" stop-color="#e29898"/><stop offset="0.34" stop-color="#e29999"/><stop offset="0.5" stop-color="#e39b9b"/><stop offset="0.66" stop-color="#e5a1a1"/><stop offset="0.81" stop-color="#e7a6a6"/><stop offset="0.98" stop-color="#e9b0b0"/></linearGradient><linearGradient id="gd_47" gradientUnits="userSpaceOnUse" x1="0" y1="237.62" x2="0" y2="348.21"><stop offset="0.02" stop-color="#d16d6d"/><stop offset="0.17" stop-color="#d47676"/><stop offset="0.32" stop-color="#d77e7e"/><stop offset="0.48" stop-color="#dc8989"/><stop offset="0.66" stop-color="#e29a9a"/><stop offset="0.81" stop-color="#e8aaaa"/><stop offset="0.98" stop-color="#ecbfbf"/></linearGradient><linearGradient id="gd_48" gradientUnits="userSpaceOnUse" x1="0" y1="235.38" x2="0" y2="351.31"><stop offset="0.02" stop-color="#cb5f5f"/><stop offset="0.15" stop-color="#d06b6b"/><stop offset="0.3" stop-color="#d57777"/><stop offset="0.45" stop-color="#db8787"/><stop offset="0.64" stop-color="#e39c9c"/><stop offset="0.8" stop-color="#eab1b1"/><stop offset="0.98" stop-color="#eecbcc"/></linearGradient><linearGradient id="gd_49" gradientUnits="userSpaceOnUse" x1="0" y1="242.07" x2="0" y2="352.39"><stop offset="0.02" stop-color="#de9090"/><stop offset="0.16" stop-color="#e39b9b"/><stop offset="0.32" stop-color="#e7a5a5"/><stop offset="0.47" stop-color="#eab1b2"/><stop offset="0.66" stop-color="#edc2c2"/><stop offset="0.82" stop-color="#f0d2d3"/><stop offset="0.98" stop-color="#f3e7e9"/></linearGradient><linearGradient id="gd_50" gradientUnits="userSpaceOnUse" x1="0" y1="251.75" x2="0" y2="353.75"><stop offset="0.02" stop-color="#f0d5d7"/><stop offset="0.17" stop-color="#f1dbdc"/><stop offset="0.32" stop-color="#f2e1e2"/><stop offset="0.49" stop-color="#f3e7e9"/><stop offset="0.66" stop-color="#f5f1f3"/><stop offset="0.81" stop-color="#f0f1f6"/><stop offset="0.98" stop-color="#dde4ee"/></linearGradient><linearGradient id="gd_51" gradientUnits="userSpaceOnUse" x1="0" y1="257.53" x2="0" y2="355.27"><stop offset="0.02" stop-color="#dfe5ef"/><stop offset="0.17" stop-color="#dbe2ee"/><stop offset="0.33" stop-color="#d8e0ec"/><stop offset="0.5" stop-color="#d4ddeb"/><stop offset="0.65" stop-color="#ced8e9"/><stop offset="0.81" stop-color="#c9d4e6"/><stop offset="0.98" stop-color="#c1cfe4"/></linearGradient><linearGradient id="gd_52" gradientUnits="userSpaceOnUse" x1="0" y1="259.73" x2="0" y2="355.07"><stop offset="0.02" stop-color="#c1cfe4"/><stop offset="0.18" stop-color="#c0cee3"/><stop offset="0.34" stop-color="#bfcde3"/><stop offset="0.5" stop-color="#becce2"/><stop offset="0.65" stop-color="#bdcbe2"/><stop offset="0.81" stop-color="#bbcae1"/><stop offset="0.98" stop-color="#b9c9e1"/></linearGradient><linearGradient id="gd_53" gradientUnits="userSpaceOnUse" x1="0" y1="259.91" x2="0" y2="355.42"><stop offset="0.02" stop-color="#b3c4de"/><stop offset="0.18" stop-color="#b3c4de"/><stop offset="0.34" stop-color="#b3c4de"/><stop offset="0.51" stop-color="#b3c4de"/><stop offset="0.66" stop-color="#b3c4de"/><stop offset="0.82" stop-color="#b2c4de"/><stop offset="0.98" stop-color="#b2c3de"/></linearGradient><linearGradient id="gd_54" gradientUnits="userSpaceOnUse" x1="0" y1="260.29" x2="0" y2="355.71"><stop offset="0.02" stop-color="#b0c2dd"/><stop offset="0.17" stop-color="#b0c2dd"/><stop offset="0.35" stop-color="#b0c2dd"/><stop offset="0.5" stop-color="#b0c2dd"/><stop offset="0.65" stop-color="#b0c2dd"/><stop offset="0.81" stop-color="#b0c2dd"/><stop offset="0.98" stop-color="#b0c2dd"/></linearGradient><linearGradient id="gd_55" gradientUnits="userSpaceOnUse" x1="0" y1="261.25" x2="0" y2="355.43"><stop offset="0.02" stop-color="#afc1dd"/><stop offset="0.18" stop-color="#afc1dd"/><stop offset="0.34" stop-color="#afc1dd"/><stop offset="0.5" stop-color="#afc1dd"/><stop offset="0.65" stop-color="#afc1dd"/><stop offset="0.82" stop-color="#afc1dd"/><stop offset="0.98" stop-color="#afc1dd"/></linearGradient><linearGradient id="gd_56" gradientUnits="userSpaceOnUse" x1="0" y1="260.23" x2="0" y2="355.21"><stop offset="0.02" stop-color="#afc1dd"/><stop offset="0.18" stop-color="#afc1dd"/><stop offset="0.34" stop-color="#afc1dd"/><stop offset="0.51" stop-color="#afc1dd"/><stop offset="0.67" stop-color="#afc1dd"/><stop offset="0.82" stop-color="#afc1dd"/><stop offset="0.98" stop-color="#afc1dd"/></linearGradient><linearGradient id="gd_57" gradientUnits="userSpaceOnUse" x1="0" y1="259.92" x2="0" y2="354.76"><stop offset="0.02" stop-color="#a8bcda"/><stop offset="0.19" stop-color="#a8bcda"/><stop offset="0.36" stop-color="#a8bcda"/><stop offset="0.51" stop-color="#a8bcda"/><stop offset="0.66" stop-color="#a8bcda"/><stop offset="0.82" stop-color="#a8bcda"/><stop offset="0.98" stop-color="#a8bcda"/></linearGradient><linearGradient id="gd_58" gradientUnits="userSpaceOnUse" x1="0" y1="259.67" x2="0" y2="354.41"><stop offset="0.02" stop-color="#afc1dc"/><stop offset="0.19" stop-color="#afc1dc"/><stop offset="0.35" stop-color="#afc1dc"/><stop offset="0.52" stop-color="#afc1dc"/><stop offset="0.67" stop-color="#afc1dc"/><stop offset="0.84" stop-color="#afc1dc"/><stop offset="0.98" stop-color="#afc1dc"/></linearGradient><linearGradient id="gd_59" gradientUnits="userSpaceOnUse" x1="0" y1="260.32" x2="0" y2="355.04"><stop offset="0.02" stop-color="#b1c3de"/><stop offset="0.18" stop-color="#b1c3de"/><stop offset="0.34" stop-color="#b1c3de"/><stop offset="0.51" stop-color="#b1c3de"/><stop offset="0.67" stop-color="#b1c3de"/><stop offset="0.81" stop-color="#b1c3de"/><stop offset="0.98" stop-color="#b1c3de"/></linearGradient><linearGradient id="gd_60" gradientUnits="userSpaceOnUse" x1="0" y1="259.39" x2="0" y2="355.05"><stop offset="0.02" stop-color="#b1c3dd"/><stop offset="0.19" stop-color="#b1c3dd"/><stop offset="0.35" stop-color="#b1c3dd"/><stop offset="0.52" stop-color="#b1c3dd"/><stop offset="0.66" stop-color="#b1c3dd"/><stop offset="0.82" stop-color="#b1c3dd"/><stop offset="0.98" stop-color="#b1c3dd"/></linearGradient><linearGradient id="gd_61" gradientUnits="userSpaceOnUse" x1="0" y1="260.14" x2="0" y2="355.12"><stop offset="0.02" stop-color="#abbedb"/><stop offset="0.18" stop-color="#abbedb"/><stop offset="0.36" stop-color="#abbedb"/><stop offset="0.5" stop-color="#abbedb"/><stop offset="0.66" stop-color="#abbedb"/><stop offset="0.82" stop-color="#abbedb"/><stop offset="0.98" stop-color="#abbedb"/></linearGradient><linearGradient id="gd_62" gradientUnits="userSpaceOnUse" x1="0" y1="260.48" x2="0" y2="355.08"><stop offset="0.02" stop-color="#a8bcda"/><stop offset="0.2" stop-color="#a8bcda"/><stop offset="0.35" stop-color="#a8bcda"/><stop offset="0.51" stop-color="#a8bcda"/><stop offset="0.66" stop-color="#a8bcda"/><stop offset="0.82" stop-color="#a8bcda"/><stop offset="0.98" stop-color="#a8bcda"/></linearGradient><linearGradient id="gd_63" gradientUnits="userSpaceOnUse" x1="0" y1="261.23" x2="0" y2="355.4"><stop offset="0.02" stop-color="#adbfdc"/><stop offset="0.17" stop-color="#adbfdc"/><stop offset="0.34" stop-color="#adbfdc"/><stop offset="0.5" stop-color="#adbfdc"/><stop offset="0.65" stop-color="#adbfdc"/><stop offset="0.81" stop-color="#adbfdc"/><stop offset="0.98" stop-color="#adbfdc"/></linearGradient><linearGradient id="gd_64" gradientUnits="userSpaceOnUse" x1="0" y1="260.12" x2="0" y2="354.95"><stop offset="0.02" stop-color="#aec0dc"/><stop offset="0.19" stop-color="#aec0dc"/><stop offset="0.35" stop-color="#aec0dc"/><stop offset="0.51" stop-color="#aec0dc"/><stop offset="0.66" stop-color="#aec0dc"/><stop offset="0.83" stop-color="#aec0dc"/><stop offset="0.98" stop-color="#aec0dc"/></linearGradient><linearGradient id="gd_65" gradientUnits="userSpaceOnUse" x1="0" y1="260.69" x2="0" y2="355.06"><stop offset="0.02" stop-color="#b1c3dd"/><stop offset="0.18" stop-color="#b1c3dd"/><stop offset="0.34" stop-color="#b1c3dd"/><stop offset="0.5" stop-color="#b1c3dd"/><stop offset="0.67" stop-color="#b1c3dd"/><stop offset="0.81" stop-color="#b1c3dd"/><stop offset="0.98" stop-color="#b1c3dd"/></linearGradient><linearGradient id="gd_66" gradientUnits="userSpaceOnUse" x1="0" y1="259.99" x2="0" y2="354.99"><stop offset="0.02" stop-color="#b3c4de"/><stop offset="0.18" stop-color="#b3c4de"/><stop offset="0.36" stop-color="#b3c4de"/><stop offset="0.51" stop-color="#b3c4de"/><stop offset="0.66" stop-color="#b3c4de"/><stop offset="0.83" stop-color="#b3c4de"/><stop offset="0.98" stop-color="#b3c4de"/></linearGradient><linearGradient id="gd_67" gradientUnits="userSpaceOnUse" x1="0" y1="260.37" x2="0" y2="355.28"><stop offset="0.02" stop-color="#b6c6df"/><stop offset="0.19" stop-color="#b6c6df"/><stop offset="0.35" stop-color="#b6c6df"/><stop offset="0.5" stop-color="#b6c6df"/><stop offset="0.67" stop-color="#b6c6df"/><stop offset="0.81" stop-color="#b6c6df"/><stop offset="0.98" stop-color="#b6c6df"/></linearGradient><linearGradient id="gd_68" gradientUnits="userSpaceOnUse" x1="0" y1="260.35" x2="0" y2="355.36"><stop offset="0.02" stop-color="#b5c6df"/><stop offset="0.18" stop-color="#b5c6df"/><stop offset="0.35" stop-color="#b5c6df"/><stop offset="0.51" stop-color="#b5c6df"/><stop offset="0.67" stop-color="#b5c6df"/><stop offset="0.82" stop-color="#b5c6df"/><stop offset="0.98" stop-color="#b5c6df"/></linearGradient><linearGradient id="gd_69" gradientUnits="userSpaceOnUse" x1="0" y1="260.34" x2="0" y2="355.15"><stop offset="0.02" stop-color="#aec0dc"/><stop offset="0.19" stop-color="#aec0dc"/><stop offset="0.34" stop-color="#aec0dc"/><stop offset="0.51" stop-color="#aec0dc"/><stop offset="0.66" stop-color="#aec0dc"/><stop offset="0.82" stop-color="#aec0dc"/><stop offset="0.98" stop-color="#aec0dc"/></linearGradient><linearGradient id="gd_70" gradientUnits="userSpaceOnUse" x1="0" y1="260.3" x2="0" y2="355.19"><stop offset="0.02" stop-color="#adc0dc"/><stop offset="0.18" stop-color="#adc0dc"/><stop offset="0.35" stop-color="#adc0dc"/><stop offset="0.51" stop-color="#adc0dc"/><stop offset="0.66" stop-color="#adc0dc"/><stop offset="0.83" stop-color="#adc0dc"/><stop offset="0.98" stop-color="#adc0dc"/></linearGradient><linearGradient id="gd_71" gradientUnits="userSpaceOnUse" x1="0" y1="260.11" x2="0" y2="355.99"><stop offset="0.02" stop-color="#b2c3de"/><stop offset="0.19" stop-color="#b2c3de"/><stop offset="0.36" stop-color="#b2c3de"/><stop offset="0.51" stop-color="#b2c3de"/><stop offset="0.66" stop-color="#b2c3de"/><stop offset="0.81" stop-color="#b2c3de"/><stop offset="0.98" stop-color="#b2c3de"/></linearGradient><linearGradient id="cbd" x1="0" x2="1" y1="0" y2="0"><stop offset="0" stop-color="#5276b6"/><stop offset="0.1" stop-color="#6b8cc1"/><stop offset="0.2" stop-color="#84a1cc"/><stop offset="0.3" stop-color="#aec0dc"/><stop offset="0.4" stop-color="#d8e0ed"/><stop offset="0.47" stop-color="#f6f6f8"/><stop offset="0.55" stop-color="#f2e0e1"/><stop offset="0.65" stop-color="#edc4c5"/><stop offset="0.75" stop-color="#e8a8a8"/><stop offset="0.85" stop-color="#dc8a8a"/><stop offset="1" stop-color="#ca5c5c"/></linearGradient><clipPath id="cpe"><path d="M205.3 261.72 L206.3 261.53 L207.3 261.93 L208.3 262.54 L209.3 262.29 L210.3 261.63 L211.3 261.53 L212.3 261.63 L213.3 262.55 L214.3 263.14 L215.3 262.28 L216.3 261.18 L217.3 261.65 L218.3 262.33 L219.3 262.1 L220.3 261.99 L221.3 262 L222.3 262.19 L223.3 262.23 L224.3 262.35 L225.3 262.48 L226.3 261.99 L227.3 261.92 L228.3 262.44 L229.3 262.35 L230.3 262.54 L231.3 262.91 L232.3 262.89 L233.3 262.52 L234.3 261.85 L235.3 262.11 L236.3 262.72 L237.3 262.39 L238.3 261.94 L239.3 262.75 L240.3 262.46 L241.3 261.48 L242.3 261.96 L243.3 262.36 L244.3 262.3 L245.3 262.46 L246.3 262.25 L247.3 262.35 L248.3 262.65 L249.3 262.31 L250.3 262.86 L251.3 263.12 L252.3 262.95 L253.3 262.92 L254.3 262.57 L255.3 262.3 L256.3 261.71 L257.3 261.58 L258.3 261.15 L259.3 261.39 L260.3 261.47 L261.3 261.29 L262.3 261.72 L263.3 262.65 L264.3 262.5 L265.3 261.88 L266.3 262.3 L267.3 262.14 L268.3 262.3 L269.3 262.53 L270.3 263.29 L271.3 262.61 L272.3 261.08 L273.3 261.81 L274.3 262.01 L275.3 261.39 L276.3 261.77 L277.3 262.19 L278.3 262.09 L279.3 262.29 L280.3 262.64 L281.3 262.58 L282.3 262.7 L283.3 262.62 L284.3 261.95 L285.3 261.25 L286.3 261.54 L287.3 261.55 L288.3 261.1 L289.3 261.64 L290.3 261.04 L291.3 260.71 L292.3 260.63 L293.3 261.01 L294.3 261.62 L295.3 260.2 L296.3 259.46 L297.3 259.25 L298.3 259.07 L299.3 258.05 L300.3 257.58 L301.3 257.83 L302.3 257.7 L303.3 257.68 L304.3 256.14 L305.3 253.76 L306.3 251.65 L307.3 246.33 L308.3 237.14 L309.3 230.43 L310.3 229.43 L311.3 234.07 L312.3 241.15 L313.3 247.57 L314.3 253.29 L315.3 257.22 L316.3 259.31 L317.3 259.44 L318.3 260.48 L319.3 261.62 L320.3 261.61 L321.3 261.91 L322.3 261.24 L323.3 260.62 L324.3 261.56 L325.3 262.04 L326.3 262.25 L327.3 262.36 L328.3 262.2 L329.3 261.74 L330.3 261.42 L331.3 262.43 L332.3 263.33 L333.3 263.36 L334.3 261.8 L335.3 261.74 L336.3 263.15 L337.3 263.03 L338.3 262.66 L339.3 262.14 L340.3 262.25 L341.3 261.83 L342.3 261.52 L343.3 262.07 L344.3 261.5 L345.3 261.55 L346.3 261.99 L347.3 261.8 L347.3 349.51 L346.3 349.36 L345.3 350.27 L344.3 350.76 L343.3 349.93 L342.3 349.45 L341.3 350.12 L340.3 349.67 L339.3 349.46 L338.3 349.45 L337.3 349.67 L336.3 350.14 L335.3 350.19 L334.3 349.98 L333.3 350.11 L332.3 349.98 L331.3 350.03 L330.3 350.02 L329.3 349.7 L328.3 350.19 L327.3 350.33 L326.3 350.38 L325.3 350.13 L324.3 349.99 L323.3 349.61 L322.3 349.49 L321.3 350.09 L320.3 350.36 L319.3 350.12 L318.3 350.13 L317.3 349.99 L316.3 349.53 L315.3 349.64 L314.3 350.39 L313.3 350.59 L312.3 350.25 L311.3 349.68 L310.3 349.44 L309.3 349.97 L308.3 350.36 L307.3 349.63 L306.3 349.48 L305.3 350.05 L304.3 349.23 L303.3 349.13 L302.3 349.22 L301.3 348.71 L300.3 348.42 L299.3 348.66 L298.3 348.19 L297.3 346.19 L296.3 343.5 L295.3 341.46 L294.3 339.48 L293.3 335.35 L292.3 331.75 L291.3 329.81 L290.3 327.1 L289.3 325.55 L288.3 326.67 L287.3 329.84 L286.3 334.13 L285.3 339.8 L284.3 344.4 L283.3 348.02 L282.3 350.57 L281.3 350.71 L280.3 350.04 L279.3 349.42 L278.3 349.64 L277.3 349.92 L276.3 349.72 L275.3 349.26 L274.3 349.49 L273.3 350.4 L272.3 349.78 L271.3 349.22 L270.3 350.37 L269.3 350.65 L268.3 350.43 L267.3 350.75 L266.3 350.45 L265.3 349.68 L264.3 349.6 L263.3 349.04 L262.3 347.7 L261.3 346.68 L260.3 344.8 L259.3 343.49 L258.3 344.06 L257.3 345.7 L256.3 347 L255.3 347.68 L254.3 348.4 L253.3 348.87 L252.3 349.12 L251.3 349.77 L250.3 350.09 L249.3 349.95 L248.3 350 L247.3 350.29 L246.3 350.09 L245.3 349.55 L244.3 349.67 L243.3 349.88 L242.3 349.95 L241.3 349.8 L240.3 350.42 L239.3 350.48 L238.3 349.86 L237.3 351 L236.3 350.66 L235.3 349.65 L234.3 349.84 L233.3 349.53 L232.3 349.1 L231.3 348.98 L230.3 349.98 L229.3 350.25 L228.3 349.87 L227.3 350.15 L226.3 349.28 L225.3 349.36 L224.3 350.07 L223.3 349.1 L222.3 349.11 L221.3 350.26 L220.3 350.1 L219.3 350.09 L218.3 349.66 L217.3 349.32 L216.3 350.12 L215.3 349.53 L214.3 349.35 L213.3 349.76 L212.3 349.68 L211.3 350.34 L210.3 350.71 L209.3 350.59 L208.3 350.31 L207.3 350.18 L206.3 350.94 L205.3 350.61Z"/></clipPath><linearGradient id="ge_0" gradientUnits="userSpaceOnUse" x1="0" y1="259.72" x2="0" y2="352.61"><stop offset="0.02" stop-color="#89a5ce"/><stop offset="0.19" stop-color="#89a5ce"/><stop offset="0.36" stop-color="#89a5ce"/><stop offset="0.51" stop-color="#89a5ce"/><stop offset="0.67" stop-color="#89a5ce"/><stop offset="0.82" stop-color="#89a5ce"/><stop offset="0.98" stop-color="#89a5ce"/></linearGradient><linearGradient id="ge_1" gradientUnits="userSpaceOnUse" x1="0" y1="259.93" x2="0" y2="352.18"><stop offset="0.02" stop-color="#89a5ce"/><stop offset="0.19" stop-color="#89a5ce"/><stop offset="0.36" stop-color="#89a5ce"/><stop offset="0.52" stop-color="#89a5ce"/><stop offset="0.67" stop-color="#89a5ce"/><stop offset="0.82" stop-color="#89a5ce"/><stop offset="0.98" stop-color="#89a5ce"/></linearGradient><linearGradient id="ge_2" gradientUnits="userSpaceOnUse" x1="0" y1="260.29" x2="0" y2="352.59"><stop offset="0.02" stop-color="#8aa5ce"/><stop offset="0.18" stop-color="#8aa5ce"/><stop offset="0.35" stop-color="#8aa5ce"/><stop offset="0.51" stop-color="#8aa5ce"/><stop offset="0.67" stop-color="#8aa5ce"/><stop offset="0.82" stop-color="#8aa5ce"/><stop offset="0.98" stop-color="#8aa5ce"/></linearGradient><linearGradient id="ge_3" gradientUnits="userSpaceOnUse" x1="0" y1="259.53" x2="0" y2="352.34"><stop offset="0.02" stop-color="#90aad1"/><stop offset="0.2" stop-color="#90aad1"/><stop offset="0.36" stop-color="#90aad1"/><stop offset="0.52" stop-color="#90aad1"/><stop offset="0.66" stop-color="#90aad1"/><stop offset="0.83" stop-color="#90aad1"/><stop offset="0.98" stop-color="#90aad1"/></linearGradient><linearGradient id="ge_4" gradientUnits="userSpaceOnUse" x1="0" y1="260.55" x2="0" y2="351.76"><stop offset="0.02" stop-color="#98b0d4"/><stop offset="0.2" stop-color="#98b0d4"/><stop offset="0.35" stop-color="#98b0d4"/><stop offset="0.52" stop-color="#98b0d4"/><stop offset="0.67" stop-color="#98b0d4"/><stop offset="0.83" stop-color="#98b0d4"/><stop offset="0.98" stop-color="#98b0d4"/></linearGradient><linearGradient id="ge_5" gradientUnits="userSpaceOnUse" x1="0" y1="260.28" x2="0" y2="351.53"><stop offset="0.02" stop-color="#96aed3"/><stop offset="0.19" stop-color="#96aed3"/><stop offset="0.36" stop-color="#96aed3"/><stop offset="0.52" stop-color="#96aed3"/><stop offset="0.68" stop-color="#96aed3"/><stop offset="0.83" stop-color="#96aed3"/><stop offset="0.98" stop-color="#96aed3"/></linearGradient><linearGradient id="ge_6" gradientUnits="userSpaceOnUse" x1="0" y1="259.65" x2="0" y2="351.32"><stop offset="0.02" stop-color="#96afd3"/><stop offset="0.19" stop-color="#96afd3"/><stop offset="0.36" stop-color="#96afd3"/><stop offset="0.52" stop-color="#96afd3"/><stop offset="0.68" stop-color="#96afd3"/><stop offset="0.84" stop-color="#96afd3"/><stop offset="0.98" stop-color="#96afd3"/></linearGradient><linearGradient id="ge_7" gradientUnits="userSpaceOnUse" x1="0" y1="260.1" x2="0" y2="352.09"><stop offset="0.02" stop-color="#94add2"/><stop offset="0.2" stop-color="#94add2"/><stop offset="0.37" stop-color="#94add2"/><stop offset="0.51" stop-color="#94add2"/><stop offset="0.67" stop-color="#94add2"/><stop offset="0.83" stop-color="#94add2"/><stop offset="0.98" stop-color="#94add2"/></linearGradient><linearGradient id="ge_8" gradientUnits="userSpaceOnUse" x1="0" y1="260" x2="0" y2="352.26"><stop offset="0.02" stop-color="#95aed3"/><stop offset="0.19" stop-color="#95aed3"/><stop offset="0.36" stop-color="#95aed3"/><stop offset="0.51" stop-color="#95aed3"/><stop offset="0.67" stop-color="#95aed3"/><stop offset="0.83" stop-color="#95aed3"/><stop offset="0.98" stop-color="#95aed3"/></linearGradient><linearGradient id="ge_9" gradientUnits="userSpaceOnUse" x1="0" y1="260.23" x2="0" y2="351.1"><stop offset="0.02" stop-color="#91abd1"/><stop offset="0.2" stop-color="#91abd1"/><stop offset="0.36" stop-color="#91abd1"/><stop offset="0.51" stop-color="#91abd1"/><stop offset="0.67" stop-color="#91abd1"/><stop offset="0.84" stop-color="#91abd1"/><stop offset="0.98" stop-color="#91abd1"/></linearGradient><linearGradient id="ge_10" gradientUnits="userSpaceOnUse" x1="0" y1="260.48" x2="0" y2="351.36"><stop offset="0.02" stop-color="#91abd1"/><stop offset="0.19" stop-color="#91abd1"/><stop offset="0.36" stop-color="#91abd1"/><stop offset="0.52" stop-color="#91abd1"/><stop offset="0.67" stop-color="#91abd1"/><stop offset="0.84" stop-color="#91abd1"/><stop offset="0.98" stop-color="#91abd1"/></linearGradient><linearGradient id="ge_11" gradientUnits="userSpaceOnUse" x1="0" y1="259.92" x2="0" y2="352.15"><stop offset="0.02" stop-color="#8ea9d0"/><stop offset="0.2" stop-color="#8ea9d0"/><stop offset="0.36" stop-color="#8ea9d0"/><stop offset="0.52" stop-color="#8ea9d0"/><stop offset="0.67" stop-color="#8ea9d0"/><stop offset="0.83" stop-color="#8ea9d0"/><stop offset="0.98" stop-color="#8ea9d0"/></linearGradient><linearGradient id="ge_12" gradientUnits="userSpaceOnUse" x1="0" y1="260.35" x2="0" y2="352.25"><stop offset="0.02" stop-color="#91aad1"/><stop offset="0.19" stop-color="#91aad1"/><stop offset="0.35" stop-color="#91aad1"/><stop offset="0.52" stop-color="#91aad1"/><stop offset="0.66" stop-color="#91aad1"/><stop offset="0.83" stop-color="#91aad1"/><stop offset="0.98" stop-color="#91aad1"/></linearGradient><linearGradient id="ge_13" gradientUnits="userSpaceOnUse" x1="0" y1="260.91" x2="0" y2="350.98"><stop offset="0.02" stop-color="#90aad1"/><stop offset="0.19" stop-color="#90aad1"/><stop offset="0.36" stop-color="#90aad1"/><stop offset="0.52" stop-color="#90aad1"/><stop offset="0.68" stop-color="#90aad1"/><stop offset="0.84" stop-color="#90aad1"/><stop offset="0.98" stop-color="#90aad1"/></linearGradient><linearGradient id="ge_14" gradientUnits="userSpaceOnUse" x1="0" y1="260.52" x2="0" y2="351.53"><stop offset="0.02" stop-color="#91aad1"/><stop offset="0.19" stop-color="#91aad1"/><stop offset="0.35" stop-color="#91aad1"/><stop offset="0.52" stop-color="#91aad1"/><stop offset="0.68" stop-color="#91aad1"/><stop offset="0.83" stop-color="#91aad1"/><stop offset="0.98" stop-color="#91aad1"/></linearGradient><linearGradient id="ge_15" gradientUnits="userSpaceOnUse" x1="0" y1="260.11" x2="0" y2="351.65"><stop offset="0.02" stop-color="#8da8cf"/><stop offset="0.19" stop-color="#8da8cf"/><stop offset="0.36" stop-color="#8da8cf"/><stop offset="0.52" stop-color="#8da8cf"/><stop offset="0.67" stop-color="#8da8cf"/><stop offset="0.84" stop-color="#8da8cf"/><stop offset="0.98" stop-color="#8da8cf"/></linearGradient><linearGradient id="ge_16" gradientUnits="userSpaceOnUse" x1="0" y1="260.39" x2="0" y2="353"><stop offset="0.02" stop-color="#8fa9d0"/><stop offset="0.18" stop-color="#8fa9d0"/><stop offset="0.35" stop-color="#8fa9d0"/><stop offset="0.51" stop-color="#8fa9d0"/><stop offset="0.66" stop-color="#8fa9d0"/><stop offset="0.83" stop-color="#8fa9d0"/><stop offset="0.98" stop-color="#8fa9d0"/></linearGradient><linearGradient id="ge_17" gradientUnits="userSpaceOnUse" x1="0" y1="260.75" x2="0" y2="352.48"><stop offset="0.02" stop-color="#97afd3"/><stop offset="0.18" stop-color="#97afd3"/><stop offset="0.35" stop-color="#97afd3"/><stop offset="0.51" stop-color="#97afd3"/><stop offset="0.67" stop-color="#97afd3"/><stop offset="0.83" stop-color="#97afd3"/><stop offset="0.98" stop-color="#97afd3"/></linearGradient><linearGradient id="ge_18" gradientUnits="userSpaceOnUse" x1="0" y1="259.48" x2="0" y2="351.8"><stop offset="0.02" stop-color="#96aed3"/><stop offset="0.2" stop-color="#96aed3"/><stop offset="0.36" stop-color="#96aed3"/><stop offset="0.51" stop-color="#96aed3"/><stop offset="0.67" stop-color="#96aed3"/><stop offset="0.82" stop-color="#96aed3"/><stop offset="0.98" stop-color="#96aed3"/></linearGradient><linearGradient id="ge_19" gradientUnits="userSpaceOnUse" x1="0" y1="260.36" x2="0" y2="351.88"><stop offset="0.02" stop-color="#86a2cd"/><stop offset="0.18" stop-color="#86a2cd"/><stop offset="0.35" stop-color="#86a2cd"/><stop offset="0.51" stop-color="#86a2cd"/><stop offset="0.68" stop-color="#86a2cd"/><stop offset="0.83" stop-color="#86a2cd"/><stop offset="0.98" stop-color="#86a2cd"/></linearGradient><linearGradient id="ge_20" gradientUnits="userSpaceOnUse" x1="0" y1="260.46" x2="0" y2="351.55"><stop offset="0.02" stop-color="#8fa9d0"/><stop offset="0.19" stop-color="#8fa9d0"/><stop offset="0.36" stop-color="#8fa9d0"/><stop offset="0.52" stop-color="#8fa9d0"/><stop offset="0.67" stop-color="#8fa9d0"/><stop offset="0.84" stop-color="#8fa9d0"/><stop offset="0.98" stop-color="#8fa9d0"/></linearGradient><linearGradient id="ge_21" gradientUnits="userSpaceOnUse" x1="0" y1="260.35" x2="0" y2="352.29"><stop offset="0.02" stop-color="#88a4ce"/><stop offset="0.2" stop-color="#88a4ce"/><stop offset="0.35" stop-color="#88a4ce"/><stop offset="0.51" stop-color="#88a4ce"/><stop offset="0.66" stop-color="#88a4ce"/><stop offset="0.83" stop-color="#88a4ce"/><stop offset="0.98" stop-color="#88a4ce"/></linearGradient><linearGradient id="ge_22" gradientUnits="userSpaceOnUse" x1="0" y1="260.31" x2="0" y2="351.95"><stop offset="0.02" stop-color="#8da8d0"/><stop offset="0.19" stop-color="#8da8d0"/><stop offset="0.35" stop-color="#8da8d0"/><stop offset="0.51" stop-color="#8da8d0"/><stop offset="0.67" stop-color="#8ea8d0"/><stop offset="0.82" stop-color="#8ea8d0"/><stop offset="0.98" stop-color="#8ea8d0"/></linearGradient><linearGradient id="ge_23" gradientUnits="userSpaceOnUse" x1="0" y1="261.12" x2="0" y2="351.77"><stop offset="0.02" stop-color="#95aed3"/><stop offset="0.19" stop-color="#95aed3"/><stop offset="0.34" stop-color="#96aed3"/><stop offset="0.51" stop-color="#96aed3"/><stop offset="0.66" stop-color="#96aed3"/><stop offset="0.83" stop-color="#96afd3"/><stop offset="0.98" stop-color="#96afd3"/></linearGradient><linearGradient id="ge_24" gradientUnits="userSpaceOnUse" x1="0" y1="260.92" x2="0" y2="350.87"><stop offset="0.02" stop-color="#93acd2"/><stop offset="0.18" stop-color="#93acd2"/><stop offset="0.35" stop-color="#95add2"/><stop offset="0.51" stop-color="#96afd3"/><stop offset="0.67" stop-color="#98b0d4"/><stop offset="0.84" stop-color="#9ab1d4"/><stop offset="0.98" stop-color="#9ab1d4"/></linearGradient><linearGradient id="ge_25" gradientUnits="userSpaceOnUse" x1="0" y1="260.3" x2="0" y2="349.68"><stop offset="0.02" stop-color="#96aed3"/><stop offset="0.18" stop-color="#97b0d4"/><stop offset="0.35" stop-color="#9eb4d6"/><stop offset="0.51" stop-color="#a4b9d9"/><stop offset="0.68" stop-color="#abbedb"/><stop offset="0.83" stop-color="#b1c3de"/><stop offset="0.98" stop-color="#b1c3de"/></linearGradient><linearGradient id="ge_26" gradientUnits="userSpaceOnUse" x1="0" y1="259.58" x2="0" y2="347.7"><stop offset="0.02" stop-color="#9db3d6"/><stop offset="0.19" stop-color="#a0b6d7"/><stop offset="0.35" stop-color="#aec0dc"/><stop offset="0.51" stop-color="#bccbe2"/><stop offset="0.66" stop-color="#cad5e7"/><stop offset="0.82" stop-color="#d8e0ec"/><stop offset="0.98" stop-color="#d8e0ec"/></linearGradient><linearGradient id="ge_27" gradientUnits="userSpaceOnUse" x1="0" y1="259.39" x2="0" y2="345.49"><stop offset="0.02" stop-color="#a8bcda"/><stop offset="0.18" stop-color="#acbfdb"/><stop offset="0.35" stop-color="#bdcbe2"/><stop offset="0.52" stop-color="#cdd8e8"/><stop offset="0.67" stop-color="#dee4ef"/><stop offset="0.83" stop-color="#eff1f5"/><stop offset="0.98" stop-color="#eff1f5"/></linearGradient><linearGradient id="ge_28" gradientUnits="userSpaceOnUse" x1="0" y1="259.29" x2="0" y2="348.68"><stop offset="0.02" stop-color="#a6bad9"/><stop offset="0.19" stop-color="#a9bcda"/><stop offset="0.36" stop-color="#b4c5de"/><stop offset="0.51" stop-color="#bfcde3"/><stop offset="0.68" stop-color="#cad5e7"/><stop offset="0.83" stop-color="#d5ddeb"/><stop offset="0.98" stop-color="#d5ddeb"/></linearGradient><linearGradient id="ge_29" gradientUnits="userSpaceOnUse" x1="0" y1="260.65" x2="0" y2="351.04"><stop offset="0.02" stop-color="#9db4d6"/><stop offset="0.19" stop-color="#9eb5d6"/><stop offset="0.34" stop-color="#a2b8d8"/><stop offset="0.52" stop-color="#a6bbd9"/><stop offset="0.67" stop-color="#aabedb"/><stop offset="0.82" stop-color="#afc1dc"/><stop offset="0.98" stop-color="#afc1dc"/></linearGradient><linearGradient id="ge_30" gradientUnits="userSpaceOnUse" x1="0" y1="259.88" x2="0" y2="351.68"><stop offset="0.02" stop-color="#90aad1"/><stop offset="0.19" stop-color="#90aad1"/><stop offset="0.35" stop-color="#91abd1"/><stop offset="0.51" stop-color="#92abd1"/><stop offset="0.67" stop-color="#92acd2"/><stop offset="0.83" stop-color="#93acd2"/><stop offset="0.98" stop-color="#93acd2"/></linearGradient><linearGradient id="ge_31" gradientUnits="userSpaceOnUse" x1="0" y1="260.14" x2="0" y2="352.75"><stop offset="0.02" stop-color="#91abd1"/><stop offset="0.19" stop-color="#91abd1"/><stop offset="0.36" stop-color="#91abd1"/><stop offset="0.51" stop-color="#91abd1"/><stop offset="0.67" stop-color="#91abd1"/><stop offset="0.81" stop-color="#91abd1"/><stop offset="0.98" stop-color="#91abd1"/></linearGradient><linearGradient id="ge_32" gradientUnits="userSpaceOnUse" x1="0" y1="260.53" x2="0" y2="352.65"><stop offset="0.02" stop-color="#93acd2"/><stop offset="0.18" stop-color="#93acd2"/><stop offset="0.36" stop-color="#93acd2"/><stop offset="0.52" stop-color="#93add2"/><stop offset="0.66" stop-color="#93add2"/><stop offset="0.82" stop-color="#93add2"/><stop offset="0.98" stop-color="#93acd2"/></linearGradient><linearGradient id="ge_33" gradientUnits="userSpaceOnUse" x1="0" y1="260.61" x2="0" y2="351.22"><stop offset="0.02" stop-color="#8ea9d0"/><stop offset="0.19" stop-color="#8ea9d0"/><stop offset="0.35" stop-color="#8ea9d0"/><stop offset="0.51" stop-color="#8ea9d0"/><stop offset="0.68" stop-color="#8ea9d0"/><stop offset="0.83" stop-color="#8ea9d0"/><stop offset="0.98" stop-color="#8ea9d0"/></linearGradient><linearGradient id="ge_34" gradientUnits="userSpaceOnUse" x1="0" y1="259.81" x2="0" y2="352.4"><stop offset="0.02" stop-color="#92abd1"/><stop offset="0.18" stop-color="#92acd1"/><stop offset="0.36" stop-color="#92acd1"/><stop offset="0.51" stop-color="#92acd2"/><stop offset="0.67" stop-color="#92acd2"/><stop offset="0.82" stop-color="#92acd1"/><stop offset="0.98" stop-color="#92acd1"/></linearGradient><linearGradient id="ge_35" gradientUnits="userSpaceOnUse" x1="0" y1="259.39" x2="0" y2="351.26"><stop offset="0.02" stop-color="#94add2"/><stop offset="0.2" stop-color="#94add2"/><stop offset="0.37" stop-color="#94add2"/><stop offset="0.52" stop-color="#95add2"/><stop offset="0.68" stop-color="#95add2"/><stop offset="0.84" stop-color="#94add2"/><stop offset="0.98" stop-color="#94add2"/></linearGradient><linearGradient id="ge_36" gradientUnits="userSpaceOnUse" x1="0" y1="260.19" x2="0" y2="351.92"><stop offset="0.02" stop-color="#96aed3"/><stop offset="0.19" stop-color="#96afd3"/><stop offset="0.36" stop-color="#97afd3"/><stop offset="0.51" stop-color="#97afd3"/><stop offset="0.67" stop-color="#97b0d4"/><stop offset="0.84" stop-color="#97afd3"/><stop offset="0.98" stop-color="#97afd3"/></linearGradient><linearGradient id="ge_37" gradientUnits="userSpaceOnUse" x1="0" y1="260.29" x2="0" y2="351.42"><stop offset="0.02" stop-color="#98b0d4"/><stop offset="0.19" stop-color="#99b1d4"/><stop offset="0.36" stop-color="#9ab1d5"/><stop offset="0.5" stop-color="#9bb2d5"/><stop offset="0.67" stop-color="#9cb3d5"/><stop offset="0.83" stop-color="#9cb3d5"/><stop offset="0.98" stop-color="#9cb3d5"/></linearGradient><linearGradient id="ge_38" gradientUnits="userSpaceOnUse" x1="0" y1="260.58" x2="0" y2="352.71"><stop offset="0.02" stop-color="#9bb2d5"/><stop offset="0.17" stop-color="#9db4d6"/><stop offset="0.34" stop-color="#9fb5d6"/><stop offset="0.51" stop-color="#a3b8d8"/><stop offset="0.67" stop-color="#a5bad9"/><stop offset="0.81" stop-color="#a7bbda"/><stop offset="0.98" stop-color="#aabddb"/></linearGradient><linearGradient id="ge_39" gradientUnits="userSpaceOnUse" x1="0" y1="260.62" x2="0" y2="350.02"><stop offset="0.02" stop-color="#93acd2"/><stop offset="0.18" stop-color="#97afd3"/><stop offset="0.35" stop-color="#9db3d6"/><stop offset="0.51" stop-color="#a7bbd9"/><stop offset="0.66" stop-color="#afc1dd"/><stop offset="0.82" stop-color="#b9c8e0"/><stop offset="0.98" stop-color="#c5d1e5"/></linearGradient><linearGradient id="ge_40" gradientUnits="userSpaceOnUse" x1="0" y1="259.25" x2="0" y2="341.8"><stop offset="0.02" stop-color="#9fb5d7"/><stop offset="0.2" stop-color="#a7bbda"/><stop offset="0.39" stop-color="#b4c4de"/><stop offset="0.53" stop-color="#cbd6e7"/><stop offset="0.68" stop-color="#dee4ef"/><stop offset="0.83" stop-color="#f6f4f6"/><stop offset="0.98" stop-color="#f2e0e1"/></linearGradient><linearGradient id="ge_41" gradientUnits="userSpaceOnUse" x1="0" y1="259.55" x2="0" y2="331.84"><stop offset="0.03" stop-color="#a7bbd9"/><stop offset="0.23" stop-color="#b4c5df"/><stop offset="0.42" stop-color="#c9d4e6"/><stop offset="0.53" stop-color="#eff1f5"/><stop offset="0.68" stop-color="#f3e4e5"/><stop offset="0.84" stop-color="#edc5c6"/><stop offset="0.97" stop-color="#e5a0a0"/></linearGradient><linearGradient id="ge_42" gradientUnits="userSpaceOnUse" x1="0" y1="259.64" x2="0" y2="327.55"><stop offset="0.03" stop-color="#aec0dc"/><stop offset="0.24" stop-color="#bfcde3"/><stop offset="0.41" stop-color="#d8e0ed"/><stop offset="0.55" stop-color="#f4eaeb"/><stop offset="0.69" stop-color="#efcecf"/><stop offset="0.85" stop-color="#e8a8a8"/><stop offset="0.97" stop-color="#d57878"/></linearGradient><linearGradient id="ge_43" gradientUnits="userSpaceOnUse" x1="0" y1="258.71" x2="0" y2="331.81"><stop offset="0.03" stop-color="#adbfdc"/><stop offset="0.23" stop-color="#becce2"/><stop offset="0.4" stop-color="#d7dfec"/><stop offset="0.54" stop-color="#f4eced"/><stop offset="0.68" stop-color="#efd2d3"/><stop offset="0.84" stop-color="#e9b0b1"/><stop offset="0.97" stop-color="#da8585"/></linearGradient><linearGradient id="ge_44" gradientUnits="userSpaceOnUse" x1="0" y1="259.01" x2="0" y2="337.35"><stop offset="0.03" stop-color="#aec0dc"/><stop offset="0.2" stop-color="#bdcce2"/><stop offset="0.39" stop-color="#d3dcea"/><stop offset="0.53" stop-color="#f5f3f5"/><stop offset="0.68" stop-color="#f2dfe1"/><stop offset="0.83" stop-color="#eec8c9"/><stop offset="0.97" stop-color="#e8abab"/></linearGradient><linearGradient id="ge_45" gradientUnits="userSpaceOnUse" x1="0" y1="258.2" x2="0" y2="343.46"><stop offset="0.02" stop-color="#acbfdc"/><stop offset="0.19" stop-color="#b9c9e1"/><stop offset="0.37" stop-color="#cad5e7"/><stop offset="0.52" stop-color="#e9ecf3"/><stop offset="0.68" stop-color="#f5f2f4"/><stop offset="0.83" stop-color="#f3e7e8"/><stop offset="0.98" stop-color="#f0d6d7"/></linearGradient><linearGradient id="ge_46" gradientUnits="userSpaceOnUse" x1="0" y1="257.25" x2="0" y2="348.19"><stop offset="0.02" stop-color="#aec1dc"/><stop offset="0.2" stop-color="#b9c9e1"/><stop offset="0.36" stop-color="#c6d3e6"/><stop offset="0.52" stop-color="#dde3ee"/><stop offset="0.68" stop-color="#e7ebf2"/><stop offset="0.82" stop-color="#eaedf3"/><stop offset="0.98" stop-color="#f3f3f7"/></linearGradient><linearGradient id="ge_47" gradientUnits="userSpaceOnUse" x1="0" y1="256.05" x2="0" y2="350.66"><stop offset="0.02" stop-color="#b1c3dd"/><stop offset="0.19" stop-color="#bbcae1"/><stop offset="0.35" stop-color="#c5d2e5"/><stop offset="0.52" stop-color="#d6deec"/><stop offset="0.68" stop-color="#dbe2ed"/><stop offset="0.82" stop-color="#d4ddeb"/><stop offset="0.98" stop-color="#d3dceb"/></linearGradient><linearGradient id="ge_48" gradientUnits="userSpaceOnUse" x1="0" y1="255.83" x2="0" y2="350.71"><stop offset="0.02" stop-color="#b6c6df"/><stop offset="0.19" stop-color="#bfcde3"/><stop offset="0.34" stop-color="#c8d3e6"/><stop offset="0.52" stop-color="#d5ddeb"/><stop offset="0.69" stop-color="#d6deec"/><stop offset="0.84" stop-color="#cbd6e8"/><stop offset="0.98" stop-color="#c5d2e5"/></linearGradient><linearGradient id="ge_49" gradientUnits="userSpaceOnUse" x1="0" y1="255.68" x2="0" y2="351.13"><stop offset="0.02" stop-color="#becce2"/><stop offset="0.18" stop-color="#c6d2e5"/><stop offset="0.34" stop-color="#ccd7e8"/><stop offset="0.51" stop-color="#d3dcea"/><stop offset="0.68" stop-color="#d0d9e9"/><stop offset="0.83" stop-color="#c2cfe4"/><stop offset="0.98" stop-color="#b9c8e0"/></linearGradient><linearGradient id="ge_50" gradientUnits="userSpaceOnUse" x1="0" y1="251.76" x2="0" y2="352.05"><stop offset="0.02" stop-color="#f2f3f7"/><stop offset="0.18" stop-color="#f6f4f6"/><stop offset="0.36" stop-color="#f6f4f6"/><stop offset="0.52" stop-color="#edeff4"/><stop offset="0.68" stop-color="#dde3ee"/><stop offset="0.84" stop-color="#c8d4e6"/><stop offset="0.98" stop-color="#b7c7e0"/></linearGradient><linearGradient id="ge_51" gradientUnits="userSpaceOnUse" x1="0" y1="244.33" x2="0" y2="351.63"><stop offset="0.02" stop-color="#eab2b2"/><stop offset="0.16" stop-color="#e9aeae"/><stop offset="0.32" stop-color="#ebb8b8"/><stop offset="0.5" stop-color="#f1d8da"/><stop offset="0.68" stop-color="#f5f3f4"/><stop offset="0.83" stop-color="#d8dfec"/><stop offset="0.98" stop-color="#b7c7e0"/></linearGradient><linearGradient id="ge_52" gradientUnits="userSpaceOnUse" x1="0" y1="228.43" x2="0" y2="351.97"><stop offset="0.02" stop-color="#d06a6a"/><stop offset="0.16" stop-color="#ce6767"/><stop offset="0.32" stop-color="#d67b7b"/><stop offset="0.5" stop-color="#eab5b5"/><stop offset="0.69" stop-color="#f2dddf"/><stop offset="0.84" stop-color="#ebeef4"/><stop offset="0.98" stop-color="#bdcce2"/></linearGradient><linearGradient id="ge_53" gradientUnits="userSpaceOnUse" x1="0" y1="232.07" x2="0" y2="351.68"><stop offset="0.02" stop-color="#d57878"/><stop offset="0.15" stop-color="#d47575"/><stop offset="0.32" stop-color="#dc8888"/><stop offset="0.5" stop-color="#ecbfc0"/><stop offset="0.68" stop-color="#f3e5e7"/><stop offset="0.84" stop-color="#e3e8f1"/><stop offset="0.98" stop-color="#b9c9e1"/></linearGradient><linearGradient id="ge_54" gradientUnits="userSpaceOnUse" x1="0" y1="245.57" x2="0" y2="352.59"><stop offset="0.02" stop-color="#edc6c6"/><stop offset="0.17" stop-color="#edc4c4"/><stop offset="0.34" stop-color="#efcecf"/><stop offset="0.5" stop-color="#f4edee"/><stop offset="0.68" stop-color="#e2e7f0"/><stop offset="0.83" stop-color="#c6d2e6"/><stop offset="0.98" stop-color="#acbfdc"/></linearGradient><linearGradient id="ge_55" gradientUnits="userSpaceOnUse" x1="0" y1="255.22" x2="0" y2="351.64"><stop offset="0.02" stop-color="#d2dbea"/><stop offset="0.18" stop-color="#d4dceb"/><stop offset="0.35" stop-color="#cfd9e9"/><stop offset="0.51" stop-color="#becce2"/><stop offset="0.68" stop-color="#b1c2dd"/><stop offset="0.83" stop-color="#a5b9d9"/><stop offset="0.98" stop-color="#9ab1d4"/></linearGradient><linearGradient id="ge_56" gradientUnits="userSpaceOnUse" x1="0" y1="257.44" x2="0" y2="351.99"><stop offset="0.02" stop-color="#a4b9d8"/><stop offset="0.2" stop-color="#a5bad9"/><stop offset="0.36" stop-color="#a5b9d9"/><stop offset="0.52" stop-color="#a2b7d8"/><stop offset="0.68" stop-color="#9fb5d6"/><stop offset="0.83" stop-color="#9ab2d5"/><stop offset="0.98" stop-color="#97afd3"/></linearGradient><linearGradient id="ge_57" gradientUnits="userSpaceOnUse" x1="0" y1="259.62" x2="0" y2="352.12"><stop offset="0.02" stop-color="#92abd1"/><stop offset="0.19" stop-color="#93acd2"/><stop offset="0.35" stop-color="#93acd2"/><stop offset="0.51" stop-color="#94add2"/><stop offset="0.66" stop-color="#93acd2"/><stop offset="0.84" stop-color="#91abd1"/><stop offset="0.98" stop-color="#90aad1"/></linearGradient><linearGradient id="ge_58" gradientUnits="userSpaceOnUse" x1="0" y1="259.91" x2="0" y2="352.09"><stop offset="0.02" stop-color="#90aad1"/><stop offset="0.2" stop-color="#90aad1"/><stop offset="0.34" stop-color="#91abd1"/><stop offset="0.51" stop-color="#92abd1"/><stop offset="0.66" stop-color="#91abd1"/><stop offset="0.83" stop-color="#91aad1"/><stop offset="0.98" stop-color="#90aad1"/></linearGradient><linearGradient id="ge_59" gradientUnits="userSpaceOnUse" x1="0" y1="258.62" x2="0" y2="351.61"><stop offset="0.02" stop-color="#98b0d4"/><stop offset="0.2" stop-color="#98b0d4"/><stop offset="0.37" stop-color="#98b0d4"/><stop offset="0.52" stop-color="#99b0d4"/><stop offset="0.67" stop-color="#99b0d4"/><stop offset="0.84" stop-color="#98b0d4"/><stop offset="0.98" stop-color="#98b0d4"/></linearGradient><linearGradient id="ge_60" gradientUnits="userSpaceOnUse" x1="0" y1="260.04" x2="0" y2="352.13"><stop offset="0.02" stop-color="#93acd2"/><stop offset="0.2" stop-color="#94add2"/><stop offset="0.35" stop-color="#94add2"/><stop offset="0.5" stop-color="#94add2"/><stop offset="0.68" stop-color="#94add2"/><stop offset="0.82" stop-color="#94add2"/><stop offset="0.98" stop-color="#94add2"/></linearGradient><linearGradient id="ge_61" gradientUnits="userSpaceOnUse" x1="0" y1="260.36" x2="0" y2="352.33"><stop offset="0.02" stop-color="#92acd1"/><stop offset="0.18" stop-color="#92acd1"/><stop offset="0.35" stop-color="#92acd2"/><stop offset="0.51" stop-color="#92acd2"/><stop offset="0.66" stop-color="#92acd2"/><stop offset="0.82" stop-color="#92acd2"/><stop offset="0.98" stop-color="#92acd1"/></linearGradient><linearGradient id="ge_62" gradientUnits="userSpaceOnUse" x1="0" y1="259.74" x2="0" y2="351.7"><stop offset="0.02" stop-color="#94add2"/><stop offset="0.19" stop-color="#94add2"/><stop offset="0.37" stop-color="#95add2"/><stop offset="0.52" stop-color="#95add2"/><stop offset="0.68" stop-color="#95add2"/><stop offset="0.82" stop-color="#95add2"/><stop offset="0.98" stop-color="#94add2"/></linearGradient><linearGradient id="ge_63" gradientUnits="userSpaceOnUse" x1="0" y1="260.43" x2="0" y2="352.03"><stop offset="0.02" stop-color="#93acd2"/><stop offset="0.2" stop-color="#93acd2"/><stop offset="0.35" stop-color="#93acd2"/><stop offset="0.52" stop-color="#93acd2"/><stop offset="0.67" stop-color="#93acd2"/><stop offset="0.82" stop-color="#93acd2"/><stop offset="0.98" stop-color="#93acd2"/></linearGradient><linearGradient id="ge_64" gradientUnits="userSpaceOnUse" x1="0" y1="261.36" x2="0" y2="352.11"><stop offset="0.02" stop-color="#8fa9d0"/><stop offset="0.18" stop-color="#8fa9d0"/><stop offset="0.35" stop-color="#8fa9d0"/><stop offset="0.51" stop-color="#8fa9d0"/><stop offset="0.66" stop-color="#8fa9d0"/><stop offset="0.84" stop-color="#8fa9d0"/><stop offset="0.98" stop-color="#8fa9d0"/></linearGradient><linearGradient id="ge_65" gradientUnits="userSpaceOnUse" x1="0" y1="259.74" x2="0" y2="352.19"><stop offset="0.02" stop-color="#8ea9d0"/><stop offset="0.2" stop-color="#8ea9d0"/><stop offset="0.35" stop-color="#8ea9d0"/><stop offset="0.51" stop-color="#8ea9d0"/><stop offset="0.68" stop-color="#8ea9d0"/><stop offset="0.82" stop-color="#8ea9d0"/><stop offset="0.98" stop-color="#8ea9d0"/></linearGradient><linearGradient id="ge_66" gradientUnits="userSpaceOnUse" x1="0" y1="261.03" x2="0" y2="351.67"><stop offset="0.02" stop-color="#8ca7cf"/><stop offset="0.19" stop-color="#8ca7cf"/><stop offset="0.35" stop-color="#8ca7cf"/><stop offset="0.51" stop-color="#8ca7cf"/><stop offset="0.67" stop-color="#8ca7cf"/><stop offset="0.83" stop-color="#8ca7cf"/><stop offset="0.98" stop-color="#8ca7cf"/></linearGradient><linearGradient id="ge_67" gradientUnits="userSpaceOnUse" x1="0" y1="260.14" x2="0" y2="351.46"><stop offset="0.02" stop-color="#92abd1"/><stop offset="0.18" stop-color="#92abd1"/><stop offset="0.36" stop-color="#92abd1"/><stop offset="0.52" stop-color="#92abd1"/><stop offset="0.67" stop-color="#92abd1"/><stop offset="0.83" stop-color="#92abd1"/><stop offset="0.98" stop-color="#92abd1"/></linearGradient><linearGradient id="ge_68" gradientUnits="userSpaceOnUse" x1="0" y1="259.83" x2="0" y2="352.12"><stop offset="0.02" stop-color="#94add2"/><stop offset="0.19" stop-color="#94add2"/><stop offset="0.35" stop-color="#94add2"/><stop offset="0.51" stop-color="#94add2"/><stop offset="0.68" stop-color="#94add2"/><stop offset="0.82" stop-color="#94add2"/><stop offset="0.98" stop-color="#94add2"/></linearGradient><linearGradient id="ge_69" gradientUnits="userSpaceOnUse" x1="0" y1="260.07" x2="0" y2="351.93"><stop offset="0.02" stop-color="#94add2"/><stop offset="0.19" stop-color="#94add2"/><stop offset="0.36" stop-color="#94add2"/><stop offset="0.52" stop-color="#94add2"/><stop offset="0.68" stop-color="#94add2"/><stop offset="0.83" stop-color="#94add2"/><stop offset="0.98" stop-color="#94add2"/></linearGradient><linearGradient id="ge_70" gradientUnits="userSpaceOnUse" x1="0" y1="259.55" x2="0" y2="352.27"><stop offset="0.02" stop-color="#90aad1"/><stop offset="0.2" stop-color="#90aad1"/><stop offset="0.36" stop-color="#90aad1"/><stop offset="0.52" stop-color="#90aad1"/><stop offset="0.67" stop-color="#90aad1"/><stop offset="0.83" stop-color="#90aad1"/><stop offset="0.98" stop-color="#90aad1"/></linearGradient><linearGradient id="ge_71" gradientUnits="userSpaceOnUse" x1="0" y1="259.8" x2="0" y2="351.51"><stop offset="0.02" stop-color="#94add2"/><stop offset="0.19" stop-color="#94add2"/><stop offset="0.37" stop-color="#94add2"/><stop offset="0.5" stop-color="#94add2"/><stop offset="0.67" stop-color="#94add2"/><stop offset="0.83" stop-color="#94add2"/><stop offset="0.98" stop-color="#94add2"/></linearGradient><linearGradient id="cbe" x1="0" x2="1" y1="0" y2="0"><stop offset="0" stop-color="#5276b6"/><stop offset="0.1" stop-color="#6b8cc1"/><stop offset="0.2" stop-color="#84a1cc"/><stop offset="0.3" stop-color="#aec0dc"/><stop offset="0.4" stop-color="#d8e0ed"/><stop offset="0.47" stop-color="#f6f6f8"/><stop offset="0.55" stop-color="#f2e0e1"/><stop offset="0.65" stop-color="#edc4c5"/><stop offset="0.75" stop-color="#e8a8a8"/><stop offset="0.85" stop-color="#dc8a8a"/><stop offset="1" stop-color="#ca5c5c"/></linearGradient><filter id="soft" x="-10%" y="-10%" width="120%" height="120%"><feGaussianBlur stdDeviation="0.5"/></filter><radialGradient id="thrg" cx="0.5" cy="0.5" r="0.72"><stop offset="0.7" stop-color="#fff"/><stop offset="1" stop-color="#000"/></radialGradient><mask id="thmask" maskContentUnits="objectBoundingBox"><rect x="0" y="0" width="1" height="1" fill="url(#thrg)"/></mask><radialGradient id="rgfe" cx="0.38" cy="0.35" r="0.7"><stop offset="0" stop-color="#f09090"/><stop offset="0.45" stop-color="#d63434"/><stop offset="1" stop-color="#a02020"/></radialGradient><radialGradient id="rgn" cx="0.38" cy="0.35" r="0.7"><stop offset="0" stop-color="#9ab8e0"/><stop offset="0.45" stop-color="#3d6db0"/><stop offset="1" stop-color="#2a4d80"/></radialGradient><radialGradient id="rgk" cx="0.38" cy="0.35" r="0.7"><stop offset="0" stop-color="#c87aa8"/><stop offset="0.45" stop-color="#a04a80"/><stop offset="1" stop-color="#7a3a64"/></radialGradient><radialGradient id="rgor" cx="0.38" cy="0.35" r="0.7"><stop offset="0" stop-color="#ffd090"/><stop offset="0.45" stop-color="#f0a040"/><stop offset="1" stop-color="#d07820"/></radialGradient><radialGradient id="rgc" cx="0.38" cy="0.35" r="0.7"><stop offset="0" stop-color="#a8eea8"/><stop offset="0.45" stop-color="#4cc050"/><stop offset="1" stop-color="#2e8f35"/></radialGradient><radialGradient id="rgh" cx="0.38" cy="0.35" r="0.7"><stop offset="0" stop-color="#e6f0f4"/><stop offset="0.45" stop-color="#b0c8d4"/><stop offset="1" stop-color="#8aa5b3"/></radialGradient><radialGradient id="rglfe" cx="0.38" cy="0.35" r="0.7"><stop offset="0" stop-color="#f4c4c4"/><stop offset="0.45" stop-color="#e09090"/><stop offset="1" stop-color="#c87070"/></radialGradient><radialGradient id="rgln" cx="0.38" cy="0.35" r="0.7"><stop offset="0" stop-color="#c0d4e8"/><stop offset="0.45" stop-color="#7c9ec4"/><stop offset="1" stop-color="#5a7ea8"/></radialGradient><radialGradient id="rglk" cx="0.38" cy="0.35" r="0.7"><stop offset="0" stop-color="#e0a8cc"/><stop offset="0.45" stop-color="#b06090"/><stop offset="1" stop-color="#8a4070"/></radialGradient><linearGradient id="arrg" x1="0" y1="0" x2="1" y2="0"><stop offset="0" stop-color="#ffffff" stop-opacity="0.2"/><stop offset="1" stop-color="#8a94a8"/></linearGradient><filter id="soft2" x="-5%" y="-5%" width="110%" height="110%"><feGaussianBlur stdDeviation="0.8"/></filter><linearGradient id="ag1" gradientUnits="userSpaceOnUse" x1="484" y1="0" x2="531" y2="0"><stop offset="0" stop-color="#ffffff" stop-opacity="0.1"/><stop offset="0.5" stop-color="#c4cad6" stop-opacity="0.8"/><stop offset="1" stop-color="#7a879e"/></linearGradient><linearGradient id="ag3" gradientUnits="userSpaceOnUse" x1="486" y1="495" x2="521" y2="532"><stop offset="0" stop-color="#ffffff" stop-opacity="0.1"/><stop offset="0.5" stop-color="#c4cad6" stop-opacity="0.8"/><stop offset="1" stop-color="#7a879e"/></linearGradient></defs><rect width="685" height="554" fill="#fff"/><g clip-path="url(#cpa)"><rect x="30" y="76.18" width="3.2" height="81.23" fill="url(#ga_0)"/><rect x="32" y="75.3" width="3.2" height="83.09" fill="url(#ga_1)"/><rect x="34" y="75.83" width="3.2" height="81.53" fill="url(#ga_2)"/><rect x="36" y="74.6" width="3.2" height="83.22" fill="url(#ga_3)"/><rect x="38" y="74.98" width="3.2" height="82.96" fill="url(#ga_4)"/><rect x="40" y="75.07" width="3.2" height="82.44" fill="url(#ga_5)"/><rect x="42" y="74.53" width="3.2" height="83.26" fill="url(#ga_6)"/><rect x="44" y="73.91" width="3.2" height="83.67" fill="url(#ga_7)"/><rect x="46" y="74.98" width="3.2" height="82.72" fill="url(#ga_8)"/><rect x="48" y="73.62" width="3.2" height="83.5" fill="url(#ga_9)"/><rect x="50" y="74.32" width="3.2" height="83.91" fill="url(#ga_10)"/><rect x="52" y="73.4" width="3.2" height="83.73" fill="url(#ga_11)"/><rect x="54" y="72.67" width="3.2" height="84.53" fill="url(#ga_12)"/><rect x="56" y="72.08" width="3.2" height="85.28" fill="url(#ga_13)"/><rect x="58" y="71.87" width="3.2" height="84.57" fill="url(#ga_14)"/><rect x="60" y="70.78" width="3.2" height="86.8" fill="url(#ga_15)"/><rect x="62" y="71.48" width="3.2" height="85.43" fill="url(#ga_16)"/><rect x="64" y="71.07" width="3.2" height="87.02" fill="url(#ga_17)"/><rect x="66" y="71.26" width="3.2" height="86.27" fill="url(#ga_18)"/><rect x="68" y="70.26" width="3.2" height="87.37" fill="url(#ga_19)"/><rect x="70" y="68.75" width="3.2" height="88.76" fill="url(#ga_20)"/><rect x="72" y="68.38" width="3.2" height="89.58" fill="url(#ga_21)"/><rect x="74" y="69.6" width="3.2" height="86.92" fill="url(#ga_22)"/><rect x="76" y="67.69" width="3.2" height="89.88" fill="url(#ga_23)"/><rect x="78" y="68.71" width="3.2" height="89.19" fill="url(#ga_24)"/><rect x="80" y="68.37" width="3.2" height="89.81" fill="url(#ga_25)"/><rect x="82" y="67.1" width="3.2" height="90.99" fill="url(#ga_26)"/><rect x="84" y="68.73" width="3.2" height="89.79" fill="url(#ga_27)"/><rect x="86" y="67.88" width="3.2" height="89.6" fill="url(#ga_28)"/><rect x="88" y="68.64" width="3.2" height="89.18" fill="url(#ga_29)"/><rect x="90" y="69.68" width="3.2" height="87.81" fill="url(#ga_30)"/><rect x="92" y="72.26" width="3.2" height="85.81" fill="url(#ga_31)"/><rect x="94" y="77.05" width="3.2" height="82.83" fill="url(#ga_32)"/><rect x="96" y="79.18" width="3.2" height="81.18" fill="url(#ga_33)"/><rect x="98" y="76.17" width="3.2" height="83.39" fill="url(#ga_34)"/><rect x="100" y="70.76" width="3.2" height="88.17" fill="url(#ga_35)"/><rect x="102" y="63.44" width="3.2" height="95.04" fill="url(#ga_36)"/><rect x="104" y="60.04" width="3.2" height="98.76" fill="url(#ga_37)"/><rect x="106" y="57.45" width="3.2" height="100.51" fill="url(#ga_38)"/><rect x="108" y="55.15" width="3.2" height="104.1" fill="url(#ga_39)"/><rect x="110" y="54.24" width="3.2" height="102.45" fill="url(#ga_40)"/><rect x="112" y="55.1" width="3.2" height="102.33" fill="url(#ga_41)"/><rect x="114" y="55.22" width="3.2" height="102.43" fill="url(#ga_42)"/><rect x="116" y="55.77" width="3.2" height="101.03" fill="url(#ga_43)"/><rect x="118" y="54.64" width="3.2" height="101.7" fill="url(#ga_44)"/><rect x="120" y="55.77" width="3.2" height="102.83" fill="url(#ga_45)"/><rect x="122" y="58.48" width="3.2" height="98.21" fill="url(#ga_46)"/><rect x="124" y="62.2" width="3.2" height="95.72" fill="url(#ga_47)"/><rect x="126" y="61.08" width="3.2" height="96.1" fill="url(#ga_48)"/><rect x="128" y="59.22" width="3.2" height="98.06" fill="url(#ga_49)"/><rect x="130" y="57.46" width="3.2" height="99" fill="url(#ga_50)"/><rect x="132" y="55.45" width="3.2" height="101.6" fill="url(#ga_51)"/><rect x="134" y="57.49" width="3.2" height="99.22" fill="url(#ga_52)"/><rect x="136" y="58.54" width="3.2" height="97.94" fill="url(#ga_53)"/><rect x="138" y="57.63" width="3.2" height="99.93" fill="url(#ga_54)"/><rect x="140" y="60.42" width="3.2" height="96.56" fill="url(#ga_55)"/><rect x="142" y="60.44" width="3.2" height="97.48" fill="url(#ga_56)"/><rect x="144" y="60.66" width="3.2" height="96.22" fill="url(#ga_57)"/><rect x="146" y="60.15" width="3.2" height="96.82" fill="url(#ga_58)"/><rect x="148" y="61.6" width="3.2" height="96.64" fill="url(#ga_59)"/><rect x="150" y="61.66" width="3.2" height="96.13" fill="url(#ga_60)"/><rect x="152" y="60.9" width="3.2" height="95.82" fill="url(#ga_61)"/><rect x="154" y="61.9" width="3.2" height="95.6" fill="url(#ga_62)"/><rect x="156" y="64.95" width="3.2" height="94.53" fill="url(#ga_63)"/><rect x="158" y="66.33" width="3.2" height="91.07" fill="url(#ga_64)"/><rect x="160" y="69.6" width="3.2" height="87.01" fill="url(#ga_65)"/><rect x="162" y="69.96" width="3.2" height="87.65" fill="url(#ga_66)"/><rect x="164" y="69.68" width="3.2" height="87.44" fill="url(#ga_67)"/><rect x="166" y="68.58" width="3.2" height="89.54" fill="url(#ga_68)"/><rect x="168" y="68.54" width="3.2" height="90.86" fill="url(#ga_69)"/><rect x="170" y="67.59" width="3.2" height="89.7" fill="url(#ga_70)"/><rect x="172" y="65.74" width="3.2" height="90.87" fill="url(#ga_71)"/><rect x="174" y="65.07" width="3.2" height="91.42" fill="url(#ga_72)"/><rect x="176" y="63.96" width="3.2" height="93.19" fill="url(#ga_73)"/><rect x="178" y="64.27" width="3.2" height="92.68" fill="url(#ga_74)"/><rect x="180" y="63.81" width="3.2" height="93.28" fill="url(#ga_75)"/><rect x="182" y="64.29" width="3.2" height="93.59" fill="url(#ga_76)"/><rect x="184" y="63.95" width="3.2" height="93.69" fill="url(#ga_77)"/><rect x="186" y="64.17" width="3.2" height="94.23" fill="url(#ga_78)"/><rect x="188" y="63.38" width="3.2" height="94.9" fill="url(#ga_79)"/><rect x="190" y="63.36" width="3.2" height="94.19" fill="url(#ga_80)"/><rect x="192" y="62.81" width="3.2" height="94.65" fill="url(#ga_81)"/><rect x="194" y="60.44" width="3.2" height="96.78" fill="url(#ga_82)"/><rect x="196" y="59.01" width="3.2" height="97.81" fill="url(#ga_83)"/><rect x="198" y="58.29" width="3.2" height="98.56" fill="url(#ga_84)"/><rect x="200" y="60.95" width="3.2" height="96.39" fill="url(#ga_85)"/><rect x="202" y="60.86" width="3.2" height="96.6" fill="url(#ga_86)"/><rect x="204" y="60.69" width="3.2" height="96.63" fill="url(#ga_87)"/><rect x="206" y="60.55" width="2.2" height="97.65" fill="url(#ga_88)"/></g><path d="M30 155.41 L31 156.06 L32 156.39 L33 155.54 L34 155.36 L35 155.79 L36 155.82 L37 155.9 L38 155.94 L39 155.01 L40 155.5 L41 155.93 L42 155.79 L43 156.07 L44 155.58 L45 156.05 L46 155.7 L47 156.14 L48 155.12 L49 156.33 L50 156.23 L51 155.32 L52 155.12 L53 155.44 L54 155.2 L55 154.46 L56 155.36 L57 154.91 L58 154.44 L59 155.25 L60 155.59 L61 155.59 L62 154.91 L63 155.42 L64 156.09 L65 155.76 L66 155.53 L67 156.33 L68 155.64 L69 155.8 L70 155.51 L71 155.57 L72 155.96 L73 155.33 L74 154.52 L75 154.63 L76 155.57 L77 154.61 L78 155.9 L79 155.45 L80 156.18 L81 156.71 L82 156.09 L83 155.9 L84 156.52 L85 154.96 L86 155.48 L87 155.64 L88 155.82 L89 154.73 L90 155.49 L91 155.8 L92 156.07 L93 156.62 L94 157.88 L95 158.69 L96 158.36 L97 158.27 L98 157.56 L99 156.97 L100 156.93 L101 156.28 L102 156.48 L103 157.11 L104 156.8 L105 156.8 L106 155.96 L107 156.41 L108 157.25 L109 155.49 L110 154.69 L111 155.12 L112 155.43 L113 154.67 L114 155.65 L115 155.5 L116 154.79 L117 154.45 L118 154.34 L119 155.99 L120 156.6 L121 155.01 L122 154.68 L123 155.25 L124 155.92 L125 156.73 L126 155.18 L127 154.85 L128 155.28 L129 154.8 L130 154.46 L131 154.89 L132 155.06 L133 155.49 L134 154.71 L135 154.41 L136 154.49 L137 155.65 L138 155.55 L139 155.17 L140 154.98 L141 155.62 L142 155.92 L143 155.85 L144 154.87 L145 154.6 L146 154.97 L147 157.11 L148 156.24 L149 154.67 L150 155.79 L151 154.92 L152 154.72 L153 154.75 L154 155.5 L155 155.58 L156 157.48 L157 156.07 L158 155.4 L159 155.22 L160 154.61 L161 155.01 L162 155.61 L163 155.47 L164 155.13 L165 156.44 L166 156.12 L167 155.89 L168 157.4 L169 155.8 L170 155.29 L171 154.55 L172 154.62 L173 154.94 L174 154.49 L175 155.2 L176 155.15 L177 156.5 L178 154.96 L179 155.94 L180 155.09 L181 155.92 L182 155.88 L183 155.03 L184 155.64 L185 155.93 L186 156.4 L187 155.92 L188 156.29 L189 155.57 L190 155.54 L191 155.52 L192 155.46 L193 156.01 L194 155.21 L195 154.99 L196 154.81 L197 154.53 L198 154.85 L199 156.26 L200 155.34 L201 155.24 L202 155.46 L203 155.85 L204 155.32 L205 155.21 L206 156.2" stroke="#6e6e6e" stroke-width="0.55" fill="none" /><path d="M30 141.42 L31 141.57 L32 142.19 L33 142.61 L34 142.52 L35 141.44 L36 140.14 L37 140.71 L38 141.46 L39 141.56 L40 141.48 L41 141.19 L42 140.68 L43 140.73 L44 141.06 L45 141 L46 141.28 L47 141.09 L48 141.01 L49 141.01 L50 141.14 L51 141.27 L52 140.78 L53 140.35 L54 141.11 L55 141.24 L56 140.94 L57 141.07 L58 140.48 L59 140.04 L60 140.24 L61 140.55 L62 140.68 L63 140.11 L64 139.64 L65 140.01 L66 140.74 L67 139.92 L68 139.49 L69 140.09 L70 139.77 L71 139.48 L72 139.71 L73 140.67 L74 140.5 L75 139.93 L76 139.76 L77 139.17 L78 139.52 L79 139.99 L80 139.35 L81 139.24 L82 139.28 L83 139.68 L84 139.87 L85 139.42 L86 139.94 L87 140.46 L88 140.39 L89 140.49 L90 140.26 L91 140.24 L92 141 L93 142.5 L94 143.59 L95 143.64 L96 144.17 L97 143.49 L98 142.53 L99 141.53 L100 139.74 L101 139.1 L102 138.57 L103 137.37 L104 137.12 L105 137.92 L106 136.95 L107 136.65 L108 136.75 L109 135.92 L110 136.09 L111 135.75 L112 136.25 L113 136.96 L114 136.27 L115 136.03 L116 135.8 L117 135.76 L118 136.6 L119 136.1 L120 135.61 L121 136.53 L122 137.61 L123 138.59 L124 138.42 L125 137.91 L126 137.9 L127 137.7 L128 137.15 L129 137.44 L130 137.91 L131 137.41 L132 136.53 L133 136.76 L134 136.29 L135 136.21 L136 136.62 L137 137.59 L138 138.34 L139 137.68 L140 137.48 L141 136.6 L142 136.96 L143 138.45 L144 137.99 L145 137.7 L146 138.25 L147 137.52 L148 137.64 L149 138.66 L150 138.42 L151 137.93 L152 138.14 L153 137.63 L154 137.39 L155 138.64 L156 138.51 L157 138.83 L158 139.45 L159 138.67 L160 139.07 L161 139.75 L162 139.97 L163 139.75 L164 139.86 L165 139.86 L166 139.51 L167 139.45 L168 139.1 L169 139.62 L170 139.7 L171 139.04 L172 138.42 L173 138.85 L174 139.44 L175 138.89 L176 138.7 L177 138.43 L178 137.97 L179 138.02 L180 138.47 L181 138.84 L182 138.44 L183 138.57 L184 139.08 L185 138.86 L186 138.91 L187 138.71 L188 138.27 L189 138.49 L190 138.48 L191 138.55 L192 138.09 L193 138.06 L194 137.97 L195 137.16 L196 136.69 L197 136.7 L198 137.78 L199 138.25 L200 138.42 L201 137.49 L202 136.92 L203 137.3 L204 137.25 L205 137.79 L206 138.18" stroke="#6e6e6e" stroke-width="0.55" fill="none" /><path d="M30 128.49 L31 128.59 L32 128.24 L33 127.76 L34 127.72 L35 128.1 L36 128.42 L37 128.39 L38 128.56 L39 127.91 L40 127.34 L41 127.75 L42 127.45 L43 127.19 L44 127.86 L45 128.31 L46 128.27 L47 127.89 L48 127.44 L49 127.7 L50 127.59 L51 127.29 L52 127.74 L53 127.45 L54 126.77 L55 126.81 L56 127.11 L57 127.18 L58 126.97 L59 126.92 L60 126.3 L61 125.79 L62 126.26 L63 126.16 L64 125.62 L65 125.46 L66 125.54 L67 125.8 L68 125.71 L69 125.78 L70 126.06 L71 125.38 L72 125.7 L73 126.28 L74 125.23 L75 124.74 L76 124.47 L77 124.47 L78 124.94 L79 125.63 L80 125.86 L81 124.53 L82 124.29 L83 125.62 L84 125.36 L85 125.17 L86 124.85 L87 124.61 L88 124.65 L89 125.12 L90 125.5 L91 125.01 L92 126.89 L93 129.76 L94 130.53 L95 131.13 L96 132.15 L97 130.76 L98 129.65 L99 128.95 L100 126.54 L101 124.52 L102 123.42 L103 121.82 L104 121.24 L105 121.32 L106 120.2 L107 119.8 L108 119.78 L109 119.17 L110 119.6 L111 119.7 L112 119.31 L113 119.77 L114 120.12 L115 119.98 L116 119.21 L117 118.42 L118 119.17 L119 119.34 L120 119 L121 119.45 L122 120.35 L123 121.3 L124 122.51 L125 122.99 L126 121.85 L127 121.5 L128 121.41 L129 120.63 L130 119.85 L131 119.82 L132 119.6 L133 120.03 L134 119.95 L135 120.11 L136 120.36 L137 120.65 L138 120.96 L139 120.84 L140 121.09 L141 121.48 L142 122.27 L143 122.09 L144 121.56 L145 122.24 L146 121.58 L147 120.67 L148 121.02 L149 121.54 L150 122.68 L151 122.85 L152 122.48 L153 122.31 L154 121.19 L155 121.15 L156 122.83 L157 124.21 L158 124.11 L159 124.92 L160 125.37 L161 125.91 L162 126.96 L163 126.1 L164 125.04 L165 125.27 L166 125.08 L167 124.89 L168 124.66 L169 124.45 L170 124.65 L171 124.08 L172 123.57 L173 123.59 L174 123.08 L175 122.88 L176 123.31 L177 123.56 L178 123.25 L179 123.53 L180 123.78 L181 122.86 L182 123.34 L183 124.17 L184 123.64 L185 122.81 L186 122.8 L187 122.8 L188 122.62 L189 123.25 L190 123.39 L191 122.89 L192 122.8 L193 122.28 L194 121.98 L195 121.81 L196 120.97 L197 120.28 L198 121.4 L199 122.06 L200 121.82 L201 122.32 L202 122.37 L203 121.39 L204 121.59 L205 121.64 L206 121.27" stroke="#6e6e6e" stroke-width="0.55" fill="none" /><path d="M30 116.6 L31 116.49 L32 116.07 L33 115.86 L34 115.84 L35 116.3 L36 116.19 L37 115.57 L38 116.36 L39 116.29 L40 116.04 L41 116.55 L42 115.96 L43 115.03 L44 115.15 L45 115.73 L46 115.81 L47 115.55 L48 115.55 L49 115.88 L50 115.1 L51 115.02 L52 115.3 L53 114.58 L54 114.32 L55 114.99 L56 115.29 L57 114.05 L58 113.67 L59 114.08 L60 113.9 L61 113.69 L62 113.19 L63 113.51 L64 113.58 L65 113.09 L66 113.12 L67 112.94 L68 113.28 L69 113.55 L70 112.36 L71 111.19 L72 111.86 L73 113.06 L74 112.82 L75 112.17 L76 111.61 L77 111.04 L78 111.9 L79 112.09 L80 112.13 L81 112.06 L82 110.98 L83 111.94 L84 112.49 L85 112.07 L86 111.8 L87 111.29 L88 111.51 L89 112.9 L90 113.1 L91 113.74 L92 115.15 L93 116.09 L94 117.78 L95 119.16 L96 120.2 L97 118.69 L98 116.7 L99 114.87 L100 112.57 L101 110.68 L102 108.55 L103 107.68 L104 106.63 L105 104.63 L106 105.17 L107 105.09 L108 103.49 L109 104.11 L110 104.83 L111 104.05 L112 103.2 L113 103.32 L114 104.21 L115 104.5 L116 103.97 L117 104.02 L118 104.61 L119 104.14 L120 103.61 L121 104.26 L122 106.4 L123 108.74 L124 109.23 L125 109.16 L126 108.26 L127 106.85 L128 106.06 L129 105.77 L130 104.74 L131 104.4 L132 104.17 L133 104.87 L134 105.5 L135 105.7 L136 105.49 L137 105.92 L138 106.47 L139 106.93 L140 106.98 L141 105.86 L142 106.1 L143 107.74 L144 108.14 L145 107.51 L146 107.75 L147 108.07 L148 108.04 L149 107.74 L150 107.64 L151 107.89 L152 107.68 L153 107.29 L154 107.55 L155 109.02 L156 109.98 L157 110.65 L158 111.41 L159 112.77 L160 113.39 L161 113.61 L162 114.32 L163 113.65 L164 112.76 L165 112.71 L166 112.89 L167 112.4 L168 111.73 L169 111.4 L170 110.65 L171 110.71 L172 110.75 L173 109.61 L174 109.38 L175 109.32 L176 109 L177 109.49 L178 109.46 L179 109.74 L180 109.51 L181 109.21 L182 109.78 L183 110.1 L184 110.16 L185 109.73 L186 109.37 L187 109.18 L188 109.42 L189 109.14 L190 108.85 L191 108.93 L192 108.75 L193 108.09 L194 108.07 L195 107.33 L196 106.14 L197 105.82 L198 106.27 L199 107.08 L200 107.78 L201 107.94 L202 107.32 L203 107.01 L204 107.09 L205 107.15 L206 107.15" stroke="#6e6e6e" stroke-width="0.55" fill="none" /><path d="M30 103.23 L31 103.12 L32 103.7 L33 103.79 L34 103.38 L35 103.53 L36 103.08 L37 101.98 L38 102.03 L39 102.46 L40 102.84 L41 103.45 L42 102.62 L43 102.62 L44 103.36 L45 102.79 L46 102.35 L47 102.72 L48 102.54 L49 101.61 L50 101.54 L51 101.15 L52 101.13 L53 101.36 L54 101.2 L55 101.21 L56 100.68 L57 100.83 L58 100.72 L59 100.47 L60 100.18 L61 99.91 L62 100 L63 99.79 L64 99.71 L65 98.94 L66 98.72 L67 99.27 L68 99.68 L69 99.14 L70 97.41 L71 96.65 L72 97.95 L73 98.77 L74 98.07 L75 97.97 L76 97.96 L77 97.4 L78 97.72 L79 98.39 L80 98.1 L81 97.17 L82 96.98 L83 97.79 L84 97.77 L85 98.13 L86 98.47 L87 98.29 L88 98.4 L89 99.01 L90 98.97 L91 99.34 L92 101.77 L93 103.5 L94 104.49 L95 106.08 L96 107.64 L97 106.37 L98 104.59 L99 102.51 L100 99.86 L101 97.48 L102 94.63 L103 93.26 L104 91.84 L105 89.63 L106 89.3 L107 88.9 L108 88.15 L109 87.75 L110 87.54 L111 87.67 L112 87.36 L113 87.17 L114 88.16 L115 88.76 L116 88.31 L117 88.62 L118 88.46 L119 88.24 L120 87.84 L121 88.56 L122 90.51 L123 92.28 L124 93.53 L125 93.66 L126 92.08 L127 91.18 L128 91.09 L129 90.84 L130 90.08 L131 88.71 L132 87.15 L133 87.93 L134 88.98 L135 89.36 L136 89.93 L137 90.43 L138 90.36 L139 90.53 L140 91.29 L141 91.7 L142 91.76 L143 92.53 L144 92.6 L145 92.12 L146 92.04 L147 92.03 L148 92.6 L149 92.89 L150 92.72 L151 92.69 L152 92.78 L153 92.15 L154 91.22 L155 93.44 L156 95.63 L157 95.96 L158 96.23 L159 96.76 L160 98.53 L161 98.97 L162 98.71 L163 99.31 L164 98.99 L165 98.51 L166 98.1 L167 98.25 L168 97.67 L169 96.26 L170 96.31 L171 96.79 L172 96.37 L173 95.94 L174 95.47 L175 94.76 L176 95.25 L177 95.97 L178 95.94 L179 95.3 L180 94.46 L181 94.18 L182 94.38 L183 94.81 L184 94.96 L185 94.31 L186 94.1 L187 94.4 L188 94.25 L189 94.12 L190 93.92 L191 93.98 L192 93.96 L193 93.09 L194 92.09 L195 91.37 L196 90.77 L197 89.29 L198 89.89 L199 91.37 L200 92.44 L201 92.46 L202 92.15 L203 92.25 L204 92.26 L205 92.06 L206 91.53" stroke="#6e6e6e" stroke-width="0.55" fill="none" /><path d="M30 91.57 L31 90.97 L32 90.18 L33 90.76 L34 90.87 L35 90.73 L36 90.74 L37 90.84 L38 90.58 L39 90.97 L40 90.46 L41 89.52 L42 89.61 L43 89.26 L44 89.35 L45 89.85 L46 89.43 L47 88.65 L48 88.98 L49 89.25 L50 89.52 L51 89.52 L52 88.84 L53 88.27 L54 88.11 L55 88.01 L56 87.38 L57 87.28 L58 87.5 L59 87.27 L60 87.05 L61 87.49 L62 87.68 L63 87.3 L64 86.75 L65 86 L66 85.99 L67 86.26 L68 86.13 L69 85.89 L70 85.16 L71 84.19 L72 84.49 L73 85.17 L74 84.64 L75 84.19 L76 83.41 L77 82.67 L78 84.27 L79 85.37 L80 84.28 L81 83.48 L82 83.2 L83 83.99 L84 84.66 L85 84.44 L86 83.76 L87 84.22 L88 84.69 L89 85.16 L90 85.95 L91 86.3 L92 88.17 L93 90.65 L94 92.43 L95 93.74 L96 93.78 L97 91.92 L98 91.17 L99 89.82 L100 86.87 L101 84.21 L102 81.41 L103 79.13 L104 77.06 L105 74.3 L106 73.62 L107 73.56 L108 72.48 L109 72.43 L110 72.68 L111 72.31 L112 72.1 L113 72.27 L114 72.49 L115 72.56 L116 72.77 L117 72.25 L118 71.93 L119 71.95 L120 71.82 L121 73.48 L122 75.65 L123 77.47 L124 78.79 L125 80.1 L126 78.54 L127 77.13 L128 76.01 L129 74.79 L130 74.51 L131 73.59 L132 72.8 L133 73.74 L134 73.76 L135 73.96 L136 74.66 L137 74.54 L138 75.05 L139 75.85 L140 76.77 L141 76.9 L142 77.17 L143 77.43 L144 77.66 L145 78.15 L146 77.85 L147 78.09 L148 78.38 L149 78.6 L150 78.88 L151 78.38 L152 77.49 L153 76.8 L154 77.1 L155 79.37 L156 80.82 L157 81.84 L158 82.83 L159 83.65 L160 84.72 L161 86.1 L162 85.9 L163 85.46 L164 85.02 L165 84.2 L166 84.07 L167 83.61 L168 83.09 L169 82.46 L170 82.32 L171 81.95 L172 82.39 L173 82.21 L174 80.86 L175 80.73 L176 80.52 L177 79.86 L178 80.03 L179 80.79 L180 80.33 L181 80.15 L182 80.16 L183 80.07 L184 80.47 L185 80.55 L186 80.43 L187 79.92 L188 79.92 L189 79.85 L190 79.55 L191 79.76 L192 79.42 L193 77.89 L194 77.25 L195 76.39 L196 75.01 L197 74.1 L198 75.15 L199 76.57 L200 76.75 L201 77.01 L202 78.33 L203 78.64 L204 77.81 L205 77.27 L206 77.58" stroke="#6e6e6e" stroke-width="0.55" fill="none" /><path d="M30 78.18 L31 78.07 L32 77.3 L33 77.41 L34 77.83 L35 77.04 L36 76.6 L37 76.99 L38 76.98 L39 76.94 L40 77.07 L41 76.95 L42 76.53 L43 75.8 L44 75.91 L45 76.67 L46 76.98 L47 76.39 L48 75.62 L49 75.97 L50 76.32 L51 75.8 L52 75.4 L53 74.88 L54 74.67 L55 74.48 L56 74.08 L57 74.14 L58 73.87 L59 73.06 L60 72.78 L61 73.4 L62 73.48 L63 73.08 L64 73.07 L65 73.25 L66 73.26 L67 72.65 L68 72.26 L69 72.29 L70 70.75 L71 69.13 L72 70.38 L73 71.58 L74 71.6 L75 71.15 L76 69.69 L77 68.89 L78 70.71 L79 71.69 L80 70.37 L81 69.76 L82 69.1 L83 69.84 L84 70.73 L85 70.26 L86 69.88 L87 70.83 L88 70.64 L89 70.94 L90 71.68 L91 71.76 L92 74.26 L93 77.73 L94 79.05 L95 79.51 L96 81.18 L97 79.87 L98 78.17 L99 76.5 L100 72.76 L101 69.26 L102 65.44 L103 63.54 L104 62.04 L105 59.9 L106 59.45 L107 58.27 L108 57.15 L109 56.91 L110 56.24 L111 56.43 L112 57.1 L113 56.91 L114 57.22 L115 57.72 L116 57.77 L117 57.42 L118 56.64 L119 57.07 L120 57.77 L121 58.57 L122 60.48 L123 62.66 L124 64.2 L125 65.02 L126 63.08 L127 62.16 L128 61.22 L129 59.97 L130 59.46 L131 58.76 L132 57.45 L133 58.26 L134 59.49 L135 59.85 L136 60.54 L137 60.54 L138 59.63 L139 60.49 L140 62.42 L141 62.86 L142 62.44 L143 62.22 L144 62.66 L145 62.28 L146 62.15 L147 62.7 L148 63.6 L149 63.63 L150 63.66 L151 63.91 L152 62.9 L153 63.64 L154 63.9 L155 64.74 L156 66.95 L157 67.93 L158 68.33 L159 70.01 L160 71.6 L161 72.04 L162 71.96 L163 71.63 L164 71.68 L165 71.12 L166 70.58 L167 70.77 L168 70.54 L169 70.04 L170 69.59 L171 68.18 L172 67.74 L173 67.93 L174 67.07 L175 66.52 L176 65.96 L177 65.86 L178 66.27 L179 66.16 L180 65.81 L181 65.9 L182 66.29 L183 66.3 L184 65.95 L185 66.38 L186 66.17 L187 65.78 L188 65.38 L189 65.14 L190 65.36 L191 65.15 L192 64.81 L193 63.4 L194 62.44 L195 61.6 L196 61.01 L197 60.43 L198 60.29 L199 61.46 L200 62.95 L201 62.88 L202 62.86 L203 62.22 L204 62.69 L205 63.29 L206 62.55" stroke="#6e6e6e" stroke-width="0.55" fill="none" /><rect x="30" y="21.5" width="176" height="141.5" fill="none" stroke="#444" stroke-width="1.4" /><line x1="29.96" y1="163" x2="29.96" y2="164.8" stroke="#444" stroke-width="0.8" /><line x1="43.3" y1="163" x2="43.3" y2="166" stroke="#444" stroke-width="0.8" /><text x="43.3" y="176" font-size="9.2" text-anchor="middle" fill="#222" >2000</text><line x1="56.64" y1="163" x2="56.64" y2="164.8" stroke="#444" stroke-width="0.8" /><line x1="69.98" y1="163" x2="69.98" y2="166" stroke="#444" stroke-width="0.8" /><text x="69.98" y="176" font-size="9.2" text-anchor="middle" fill="#222" >1800</text><line x1="83.32" y1="163" x2="83.32" y2="164.8" stroke="#444" stroke-width="0.8" /><line x1="96.66" y1="163" x2="96.66" y2="166" stroke="#444" stroke-width="0.8" /><text x="96.66" y="176" font-size="9.2" text-anchor="middle" fill="#222" >1600</text><line x1="110" y1="163" x2="110" y2="164.8" stroke="#444" stroke-width="0.8" /><line x1="123.34" y1="163" x2="123.34" y2="166" stroke="#444" stroke-width="0.8" /><text x="123.34" y="176" font-size="9.2" text-anchor="middle" fill="#222" >1400</text><line x1="136.68" y1="163" x2="136.68" y2="164.8" stroke="#444" stroke-width="0.8" /><line x1="150.02" y1="163" x2="150.02" y2="166" stroke="#444" stroke-width="0.8" /><text x="150.02" y="176" font-size="9.2" text-anchor="middle" fill="#222" >1200</text><line x1="163.36" y1="163" x2="163.36" y2="164.8" stroke="#444" stroke-width="0.8" /><line x1="176.7" y1="163" x2="176.7" y2="166" stroke="#444" stroke-width="0.8" /><text x="176.7" y="176" font-size="9.2" text-anchor="middle" fill="#222" >1000</text><line x1="190.04" y1="163" x2="190.04" y2="164.8" stroke="#444" stroke-width="0.8" /><line x1="203.38" y1="163" x2="203.38" y2="166" stroke="#444" stroke-width="0.8" /><text x="203.38" y="176" font-size="9.2" text-anchor="middle" fill="#222" >800</text><text x="25.5" y="158.7" font-size="9.5" text-anchor="end" fill="#222" >0</text><text x="25.5" y="144.73" font-size="9.5" text-anchor="end" fill="#222" >2</text><text x="25.5" y="130.76" font-size="9.5" text-anchor="end" fill="#222" >4</text><text x="25.5" y="116.79" font-size="9.5" text-anchor="end" fill="#222" >6</text><text x="25.5" y="102.82" font-size="9.5" text-anchor="end" fill="#222" >8</text><text x="25.5" y="88.85" font-size="9.5" text-anchor="end" fill="#222" >10</text><text x="25.5" y="74.88" font-size="9.5" text-anchor="end" fill="#222" >12</text><text x="0" y="0" font-size="11" text-anchor="middle" fill="#222" transform="translate(10.9 95.5) rotate(-90)" >Time / min</text><text x="61" y="190" font-size="11.3" text-anchor="start" fill="#222" >Wavenumber / cm<tspan font-size="75%" dy="-4.5">&#8722;1</tspan><tspan dy="4.5">&#8203;</tspan></text><rect x="65" y="12" width="109" height="4.8" fill="url(#cba)" stroke="#666" stroke-width="0.7" /><text x="119.5" y="8.7" font-size="10.6" text-anchor="middle" fill="#222" >Intensity / a.u.</text><text x="7" y="29" font-size="13" text-anchor="start" fill="#222" >a</text><text x="35.5" y="34.6" font-size="9.6" text-anchor="start" fill="#222" >Fe<tspan font-size="72%" dy="2">2</tspan><tspan dy="-2">&#8203;</tspan>N@C</text><text x="35.5" y="45.1" font-size="7.3" text-anchor="start" fill="#222" >25% CO<tspan font-size="72%" dy="1.8">2</tspan><tspan dy="-1.8">&#8203;</tspan>/H<tspan font-size="72%" dy="1.8">2</tspan><tspan dy="-1.8">&#8203;</tspan></text><text x="114.3" y="34.3" font-size="7.6" text-anchor="middle" fill="#c0504d" >1437</text><text x="113.2" y="45.1" font-size="7.6" text-anchor="middle" fill="#c0504d" >*COOH</text><text x="139" y="34.2" font-size="7.6" text-anchor="middle" fill="#c0504d" >1324</text><text x="130.5" y="45.6" font-size="7.6" text-anchor="start" fill="#c0504d" >CO<tspan font-size="72%" dy="2">3</tspan><tspan font-size="72%" dx="-4" dy="-5.5">2&#8722;</tspan><tspan dy="3.5">&#8203;</tspan></text><text x="92.5" y="56.8" font-size="7.6" text-anchor="middle" fill="#4a72b0" >1608</text><text x="84" y="67" font-size="7.6" text-anchor="start" fill="#4a72b0" >*N-H</text><text x="162" y="53.5" font-size="7.6" text-anchor="middle" fill="#4a72b0" >1107</text><text x="153.9" y="63.4" font-size="7.6" text-anchor="start" fill="#4a72b0" >*NH<tspan font-size="72%" dy="2">3</tspan><tspan dy="-2">&#8203;</tspan></text><text x="179.8" y="34.5" font-size="7.6" text-anchor="start" fill="#c0504d" >*C<tspan font-size="72%" dy="2">x</tspan><tspan dy="-2">&#8203;</tspan>H<tspan font-size="72%" dy="2">y</tspan><tspan dy="-2">&#8203;</tspan></text><line x1="186.4" y1="38.4" x2="179.8" y2="62.3" stroke="#c0504d" stroke-width="0.6" /><line x1="194.6" y1="38.4" x2="199.5" y2="55.7" stroke="#c0504d" stroke-width="0.6" /><g clip-path="url(#cpb)"><rect x="249.8" y="68.87" width="3.2" height="91.54" fill="url(#gb_0)"/><rect x="251.8" y="68.7" width="3.2" height="90.95" fill="url(#gb_1)"/><rect x="253.8" y="69.98" width="3.2" height="88.76" fill="url(#gb_2)"/><rect x="255.8" y="71.29" width="3.2" height="87.78" fill="url(#gb_3)"/><rect x="257.8" y="69.34" width="3.2" height="90.54" fill="url(#gb_4)"/><rect x="259.8" y="68.01" width="3.2" height="91.83" fill="url(#gb_5)"/><rect x="261.8" y="69.18" width="3.2" height="91.72" fill="url(#gb_6)"/><rect x="263.8" y="67.83" width="3.2" height="92.89" fill="url(#gb_7)"/><rect x="265.8" y="68.45" width="3.2" height="91.43" fill="url(#gb_8)"/><rect x="267.8" y="68.84" width="3.2" height="90.9" fill="url(#gb_9)"/><rect x="269.8" y="67.72" width="3.2" height="92.54" fill="url(#gb_10)"/><rect x="271.8" y="67.65" width="3.2" height="91.88" fill="url(#gb_11)"/><rect x="273.8" y="68.35" width="3.2" height="90.77" fill="url(#gb_12)"/><rect x="275.8" y="68.42" width="3.2" height="91.67" fill="url(#gb_13)"/><rect x="277.8" y="67.9" width="3.2" height="92.22" fill="url(#gb_14)"/><rect x="279.8" y="68.52" width="3.2" height="91.66" fill="url(#gb_15)"/><rect x="281.8" y="68.3" width="3.2" height="91.22" fill="url(#gb_16)"/><rect x="283.8" y="68.86" width="3.2" height="93.11" fill="url(#gb_17)"/><rect x="285.8" y="69.14" width="3.2" height="90.56" fill="url(#gb_18)"/><rect x="287.8" y="67.9" width="3.2" height="91.45" fill="url(#gb_19)"/><rect x="289.8" y="68.55" width="3.2" height="91.66" fill="url(#gb_20)"/><rect x="291.8" y="68.92" width="3.2" height="91.13" fill="url(#gb_21)"/><rect x="293.8" y="69.27" width="3.2" height="91.33" fill="url(#gb_22)"/><rect x="295.8" y="68.38" width="3.2" height="91.16" fill="url(#gb_23)"/><rect x="297.8" y="68.89" width="3.2" height="90.62" fill="url(#gb_24)"/><rect x="299.8" y="69.32" width="3.2" height="89.54" fill="url(#gb_25)"/><rect x="301.8" y="68.5" width="3.2" height="90.85" fill="url(#gb_26)"/><rect x="303.8" y="68.61" width="3.2" height="90.15" fill="url(#gb_27)"/><rect x="305.8" y="68.65" width="3.2" height="90.96" fill="url(#gb_28)"/><rect x="307.8" y="68.18" width="3.2" height="91.78" fill="url(#gb_29)"/><rect x="309.8" y="68.98" width="3.2" height="90.66" fill="url(#gb_30)"/><rect x="311.8" y="70.53" width="3.2" height="89.31" fill="url(#gb_31)"/><rect x="313.8" y="78.47" width="3.2" height="81.88" fill="url(#gb_32)"/><rect x="315.8" y="83.46" width="3.2" height="78.04" fill="url(#gb_33)"/><rect x="317.8" y="74.55" width="3.2" height="85.68" fill="url(#gb_34)"/><rect x="319.8" y="68.9" width="3.2" height="88.44" fill="url(#gb_35)"/><rect x="321.8" y="66.99" width="3.2" height="92.11" fill="url(#gb_36)"/><rect x="323.8" y="67.78" width="3.2" height="91.35" fill="url(#gb_37)"/><rect x="325.8" y="66.63" width="3.2" height="92.67" fill="url(#gb_38)"/><rect x="327.8" y="64.04" width="3.2" height="95.28" fill="url(#gb_39)"/><rect x="329.8" y="58.18" width="3.2" height="101.3" fill="url(#gb_40)"/><rect x="331.8" y="48.93" width="3.2" height="110.44" fill="url(#gb_41)"/><rect x="333.8" y="38.37" width="3.2" height="121.76" fill="url(#gb_42)"/><rect x="335.8" y="28.65" width="3.2" height="130.81" fill="url(#gb_43)"/><rect x="337.8" y="26.33" width="3.2" height="133.8" fill="url(#gb_44)"/><rect x="339.8" y="35.02" width="3.2" height="125.27" fill="url(#gb_45)"/><rect x="341.8" y="43.02" width="3.2" height="116.38" fill="url(#gb_46)"/><rect x="343.8" y="49.83" width="3.2" height="110" fill="url(#gb_47)"/><rect x="345.8" y="55" width="3.2" height="103.63" fill="url(#gb_48)"/><rect x="347.8" y="56.1" width="3.2" height="103.05" fill="url(#gb_49)"/><rect x="349.8" y="55.87" width="3.2" height="104.18" fill="url(#gb_50)"/><rect x="351.8" y="55.91" width="3.2" height="103.81" fill="url(#gb_51)"/><rect x="353.8" y="57.01" width="3.2" height="102.17" fill="url(#gb_52)"/><rect x="355.8" y="56.24" width="3.2" height="103.4" fill="url(#gb_53)"/><rect x="357.8" y="57.09" width="3.2" height="102.66" fill="url(#gb_54)"/><rect x="359.8" y="57.83" width="3.2" height="100.93" fill="url(#gb_55)"/><rect x="361.8" y="58.39" width="3.2" height="100.69" fill="url(#gb_56)"/><rect x="363.8" y="58.05" width="3.2" height="102.76" fill="url(#gb_57)"/><rect x="365.8" y="57.46" width="3.2" height="102.74" fill="url(#gb_58)"/><rect x="367.8" y="59.14" width="3.2" height="100.5" fill="url(#gb_59)"/><rect x="369.8" y="60.47" width="3.2" height="99.94" fill="url(#gb_60)"/><rect x="371.8" y="60.04" width="3.2" height="100.32" fill="url(#gb_61)"/><rect x="373.8" y="62.79" width="3.2" height="97.13" fill="url(#gb_62)"/><rect x="375.8" y="65.38" width="3.2" height="95.32" fill="url(#gb_63)"/><rect x="377.8" y="67.08" width="3.2" height="92.03" fill="url(#gb_64)"/><rect x="379.8" y="69.82" width="3.2" height="90.56" fill="url(#gb_65)"/><rect x="381.8" y="68.78" width="3.2" height="91.42" fill="url(#gb_66)"/><rect x="383.8" y="68.46" width="3.2" height="90.75" fill="url(#gb_67)"/><rect x="385.8" y="66.76" width="3.2" height="93.99" fill="url(#gb_68)"/><rect x="387.8" y="67.23" width="3.2" height="91.72" fill="url(#gb_69)"/><rect x="389.8" y="65.97" width="3.2" height="93.19" fill="url(#gb_70)"/><rect x="391.8" y="66.5" width="3.2" height="92.95" fill="url(#gb_71)"/><rect x="393.8" y="66.89" width="3.2" height="93.78" fill="url(#gb_72)"/><rect x="395.8" y="66.74" width="3.2" height="92.66" fill="url(#gb_73)"/><rect x="397.8" y="66.5" width="3.2" height="93.55" fill="url(#gb_74)"/><rect x="399.8" y="66.97" width="3.2" height="92.38" fill="url(#gb_75)"/><rect x="401.8" y="66.67" width="3.2" height="93.12" fill="url(#gb_76)"/><rect x="403.8" y="66.85" width="3.2" height="93.82" fill="url(#gb_77)"/><rect x="405.8" y="66.21" width="3.2" height="93.84" fill="url(#gb_78)"/><rect x="407.8" y="67.07" width="3.2" height="92.25" fill="url(#gb_79)"/><rect x="409.8" y="65.38" width="3.2" height="94.61" fill="url(#gb_80)"/><rect x="411.8" y="51.49" width="3.2" height="107.23" fill="url(#gb_81)"/><rect x="413.8" y="60.66" width="3.2" height="97.7" fill="url(#gb_82)"/><rect x="415.8" y="62.96" width="3.2" height="96.54" fill="url(#gb_83)"/><rect x="417.8" y="63" width="3.2" height="95.43" fill="url(#gb_84)"/><rect x="419.8" y="62.07" width="3.2" height="97.58" fill="url(#gb_85)"/><rect x="421.8" y="61.31" width="3.2" height="98.59" fill="url(#gb_86)"/><rect x="423.8" y="61.11" width="3.2" height="98.54" fill="url(#gb_87)"/><rect x="425.8" y="61.55" width="2.2" height="99.17" fill="url(#gb_88)"/></g><path d="M249.8 158.41 L250.8 157.84 L251.8 157.66 L252.8 157.02 L253.8 156.75 L254.8 156.86 L255.8 157.07 L256.8 158.4 L257.8 157.88 L258.8 158.38 L259.8 157.84 L260.8 157.94 L261.8 158.9 L262.8 157.86 L263.8 158.73 L264.8 157.53 L265.8 157.88 L266.8 156.86 L267.8 157.74 L268.8 157.54 L269.8 158.26 L270.8 158.26 L271.8 157.53 L272.8 158.22 L273.8 157.13 L274.8 157.04 L275.8 158.1 L276.8 157.98 L277.8 158.12 L278.8 158.65 L279.8 158.18 L280.8 156.96 L281.8 157.52 L282.8 157.78 L283.8 159.97 L284.8 157.61 L285.8 157.69 L286.8 157.44 L287.8 157.35 L288.8 156.93 L289.8 158.21 L290.8 157.3 L291.8 158.05 L292.8 158.2 L293.8 158.59 L294.8 158.44 L295.8 157.54 L296.8 157.41 L297.8 157.51 L298.8 157.3 L299.8 156.86 L300.8 157.95 L301.8 157.35 L302.8 156.67 L303.8 156.76 L304.8 157.29 L305.8 157.61 L306.8 157.65 L307.8 157.96 L308.8 157.73 L309.8 157.64 L310.8 158.24 L311.8 157.84 L312.8 157.49 L313.8 158.35 L314.8 158.85 L315.8 159.5 L316.8 158.56 L317.8 158.23 L318.8 157.77 L319.8 155.34 L320.8 156.09 L321.8 157.1 L322.8 158.76 L323.8 157.13 L324.8 157.29 L325.8 157.3 L326.8 157.02 L327.8 157.32 L328.8 157.01 L329.8 157.48 L330.8 157.25 L331.8 157.37 L332.8 158.34 L333.8 158.13 L334.8 158.04 L335.8 157.46 L336.8 158.61 L337.8 158.13 L338.8 158.95 L339.8 158.29 L340.8 157.91 L341.8 157.4 L342.8 156.8 L343.8 157.83 L344.8 157.3 L345.8 156.64 L346.8 156.85 L347.8 157.15 L348.8 158 L349.8 158.05 L350.8 156.78 L351.8 157.72 L352.8 158.5 L353.8 157.18 L354.8 158.2 L355.8 157.64 L356.8 157.26 L357.8 157.75 L358.8 157.47 L359.8 156.76 L360.8 157.1 L361.8 157.08 L362.8 158.66 L363.8 158.81 L364.8 158.54 L365.8 158.2 L366.8 158.19 L367.8 157.64 L368.8 157.96 L369.8 158.41 L370.8 158.35 L371.8 158.36 L372.8 157.07 L373.8 157.92 L374.8 158.14 L375.8 158.7 L376.8 158.72 L377.8 157.12 L378.8 158.4 L379.8 158.38 L380.8 158.26 L381.8 158.2 L382.8 157.72 L383.8 157.21 L384.8 157.97 L385.8 158.74 L386.8 159.6 L387.8 156.95 L388.8 157.14 L389.8 157.16 L390.8 157.38 L391.8 157.45 L392.8 157.29 L393.8 158.67 L394.8 157.82 L395.8 157.4 L396.8 158.32 L397.8 158.05 L398.8 157.09 L399.8 157.35 L400.8 157.57 L401.8 157.79 L402.8 157.48 L403.8 158.67 L404.8 157.07 L405.8 158.05 L406.8 158.46 L407.8 157.32 L408.8 157.89 L409.8 157.99 L410.8 158.93 L411.8 156.71 L412.8 156.15 L413.8 156.36 L414.8 157.26 L415.8 157.5 L416.8 156.57 L417.8 156.43 L418.8 156.82 L419.8 157.65 L420.8 157.66 L421.8 157.9 L422.8 157.21 L423.8 157.65 L424.8 158.09 L425.8 158.73" stroke="#6e6e6e" stroke-width="0.55" fill="none" /><path d="M249.8 137.74 L250.8 137.7 L251.8 137.69 L252.8 137.87 L253.8 138.67 L254.8 139.62 L255.8 140.19 L256.8 139.24 L257.8 138.35 L258.8 137.8 L259.8 136.83 L260.8 137.3 L261.8 138.1 L262.8 138.33 L263.8 138.62 L264.8 137.83 L265.8 137.14 L266.8 137.63 L267.8 138.02 L268.8 138.18 L269.8 137.63 L270.8 137.37 L271.8 138.15 L272.8 139 L273.8 138.24 L274.8 138.13 L275.8 138.52 L276.8 137.3 L277.8 137.94 L278.8 138.09 L279.8 137.09 L280.8 137.81 L281.8 138.68 L282.8 138.42 L283.8 137.72 L284.8 137.1 L285.8 137.43 L286.8 137.09 L287.8 136.47 L288.8 137.82 L289.8 138.65 L290.8 138.71 L291.8 138.62 L292.8 137.68 L293.8 137.71 L294.8 137.44 L295.8 137.53 L296.8 138.79 L297.8 138.11 L298.8 137.98 L299.8 138.39 L300.8 137.92 L301.8 137.11 L302.8 137.12 L303.8 138.25 L304.8 137.63 L305.8 137.09 L306.8 137.49 L307.8 137.04 L308.8 137.76 L309.8 138.47 L310.8 138.17 L311.8 139.46 L312.8 140.73 L313.8 143.63 L314.8 145.99 L315.8 144.23 L316.8 142.43 L317.8 141.05 L318.8 138.83 L319.8 137.41 L320.8 137.9 L321.8 138.21 L322.8 137.9 L323.8 138.07 L324.8 137.61 L325.8 137.71 L326.8 137.9 L327.8 137.5 L328.8 136.7 L329.8 136.24 L330.8 136.18 L331.8 136.26 L332.8 135.41 L333.8 134.32 L334.8 133.94 L335.8 133.35 L336.8 132.72 L337.8 132.35 L338.8 131.72 L339.8 131.47 L340.8 133.27 L341.8 134.43 L342.8 134.75 L343.8 134.79 L344.8 135.04 L345.8 135.19 L346.8 134.91 L347.8 135.33 L348.8 135.73 L349.8 135.02 L350.8 134.55 L351.8 134.75 L352.8 134.75 L353.8 134.69 L354.8 134.44 L355.8 134.78 L356.8 134.81 L357.8 134.27 L358.8 135.26 L359.8 136.45 L360.8 136.75 L361.8 136.24 L362.8 135.36 L363.8 135.59 L364.8 136.5 L365.8 136.32 L366.8 135.62 L367.8 134.98 L368.8 134.55 L369.8 135.97 L370.8 136.13 L371.8 135.25 L372.8 135.84 L373.8 136.52 L374.8 136.43 L375.8 136.88 L376.8 137.93 L377.8 138.05 L378.8 137.89 L379.8 137.93 L380.8 137.26 L381.8 137.5 L382.8 137.9 L383.8 136.95 L384.8 136.99 L385.8 137.73 L386.8 137.89 L387.8 137.94 L388.8 138.26 L389.8 137.8 L390.8 137.41 L391.8 137.72 L392.8 137.06 L393.8 137.39 L394.8 137.84 L395.8 137.5 L396.8 137.75 L397.8 137.33 L398.8 137.53 L399.8 138.24 L400.8 137.99 L401.8 136.45 L402.8 136.92 L403.8 138.01 L404.8 137.21 L405.8 137.04 L406.8 136.87 L407.8 136.95 L408.8 137.49 L409.8 137.03 L410.8 136.36 L411.8 135.58 L412.8 135.41 L413.8 136.2 L414.8 136.56 L415.8 137 L416.8 136.86 L417.8 136.79 L418.8 137.37 L419.8 136.41 L420.8 136.11 L421.8 136.55 L422.8 136.15 L423.8 136.63 L424.8 136.6 L425.8 135.94" stroke="#6e6e6e" stroke-width="0.55" fill="none" /><path d="M249.8 125.66 L250.8 126.04 L251.8 125.73 L252.8 126.42 L253.8 126.15 L254.8 125.21 L255.8 126.22 L256.8 126.18 L257.8 125.56 L258.8 125.26 L259.8 124.78 L260.8 124.98 L261.8 124.89 L262.8 124.19 L263.8 124.23 L264.8 125.19 L265.8 125.54 L266.8 125.63 L267.8 126.16 L268.8 126.14 L269.8 125.5 L270.8 124.9 L271.8 125.09 L272.8 125.96 L273.8 126.31 L274.8 126.07 L275.8 125.25 L276.8 125.12 L277.8 125.67 L278.8 125.91 L279.8 125.19 L280.8 124.48 L281.8 125 L282.8 125.3 L283.8 125.02 L284.8 125.16 L285.8 125.28 L286.8 125.5 L287.8 125.43 L288.8 125.09 L289.8 124.5 L290.8 124.51 L291.8 125.03 L292.8 125.22 L293.8 125.4 L294.8 125.59 L295.8 125.46 L296.8 124.48 L297.8 124.76 L298.8 125.5 L299.8 125.14 L300.8 124.45 L301.8 125 L302.8 125.86 L303.8 125.86 L304.8 125.5 L305.8 125.23 L306.8 125.8 L307.8 126.11 L308.8 125.2 L309.8 124.56 L310.8 125.23 L311.8 126.91 L312.8 128.22 L313.8 129.89 L314.8 132.96 L315.8 133.13 L316.8 130.58 L317.8 128.08 L318.8 125.65 L319.8 124.41 L320.8 124.33 L321.8 124.43 L322.8 123.47 L323.8 123.54 L324.8 123.81 L325.8 123.52 L326.8 124.03 L327.8 123.83 L328.8 121.93 L329.8 119.7 L330.8 117.08 L331.8 114.69 L332.8 112.46 L333.8 110.51 L334.8 107.72 L335.8 104.79 L336.8 103.38 L337.8 104.17 L338.8 106.09 L339.8 108.36 L340.8 110 L341.8 112.26 L342.8 114.39 L343.8 114.84 L344.8 115.42 L345.8 116.53 L346.8 117.26 L347.8 117.2 L348.8 116.88 L349.8 116.23 L350.8 116.06 L351.8 116.21 L352.8 116.17 L353.8 116.47 L354.8 116.9 L355.8 116.8 L356.8 117.44 L357.8 117.81 L358.8 118.86 L359.8 118.61 L360.8 117.01 L361.8 117.06 L362.8 118.32 L363.8 118.6 L364.8 118.87 L365.8 119.37 L366.8 119.46 L367.8 119.17 L368.8 119.47 L369.8 120.65 L370.8 120.12 L371.8 120.38 L372.8 122 L373.8 122.33 L374.8 121.84 L375.8 122.44 L376.8 123.5 L377.8 124.9 L378.8 126.5 L379.8 126.55 L380.8 125.39 L381.8 124.64 L382.8 124.13 L383.8 124.41 L384.8 123.46 L385.8 123.54 L386.8 124.61 L387.8 124.8 L388.8 124.26 L389.8 123.24 L390.8 123.35 L391.8 123.55 L392.8 123 L393.8 123.1 L394.8 123.24 L395.8 124.22 L396.8 125.01 L397.8 124.63 L398.8 123.94 L399.8 124.13 L400.8 124.4 L401.8 124.2 L402.8 123.97 L403.8 123.88 L404.8 123.64 L405.8 123.35 L406.8 123.88 L407.8 123.44 L408.8 123.19 L409.8 123.09 L410.8 122.02 L411.8 120.89 L412.8 121.39 L413.8 121.95 L414.8 122.01 L415.8 122.14 L416.8 121.89 L417.8 122.05 L418.8 121.17 L419.8 121.03 L420.8 121.67 L421.8 120.98 L422.8 120.73 L423.8 121.2 L424.8 121.65 L425.8 121.49" stroke="#6e6e6e" stroke-width="0.55" fill="none" /><path d="M249.8 112.31 L250.8 111.69 L251.8 112.21 L252.8 113.14 L253.8 113.09 L254.8 113.96 L255.8 115.31 L256.8 114.9 L257.8 113.4 L258.8 113.17 L259.8 113.76 L260.8 113.8 L261.8 113.55 L262.8 112.44 L263.8 112.44 L264.8 113.34 L265.8 113.12 L266.8 112.27 L267.8 112.57 L268.8 113.32 L269.8 112.55 L270.8 111.97 L271.8 111.89 L272.8 112.34 L273.8 113.02 L274.8 113.62 L275.8 113.15 L276.8 112.98 L277.8 113.28 L278.8 112.83 L279.8 112.39 L280.8 112.29 L281.8 112.59 L282.8 112.53 L283.8 112.83 L284.8 113.08 L285.8 113.36 L286.8 113.15 L287.8 112.42 L288.8 112.86 L289.8 113.27 L290.8 112.58 L291.8 113.13 L292.8 113.51 L293.8 113.23 L294.8 112.39 L295.8 111.82 L296.8 113.39 L297.8 113.87 L298.8 113.22 L299.8 112.71 L300.8 112.45 L301.8 112.9 L302.8 112.93 L303.8 112.72 L304.8 112.01 L305.8 111.72 L306.8 112.28 L307.8 112.86 L308.8 113.29 L309.8 113.11 L310.8 112.7 L311.8 113.52 L312.8 115.87 L313.8 118.03 L314.8 120.58 L315.8 121.02 L316.8 118.26 L317.8 116.66 L318.8 114.76 L319.8 113.31 L320.8 113.47 L321.8 112.82 L322.8 111.66 L323.8 110.72 L324.8 111.2 L325.8 111.04 L326.8 109.21 L327.8 109.16 L328.8 106.98 L329.8 103.32 L330.8 100.55 L331.8 97.03 L332.8 92.5 L333.8 88.98 L334.8 86.11 L335.8 82.84 L336.8 79.92 L337.8 80.2 L338.8 82.43 L339.8 86.18 L340.8 90.09 L341.8 92.63 L342.8 95.32 L343.8 97.35 L344.8 99.37 L345.8 101.02 L346.8 101.55 L347.8 101.24 L348.8 100 L349.8 100.18 L350.8 101.09 L351.8 100.25 L352.8 100.22 L353.8 100.76 L354.8 101.25 L355.8 101.74 L356.8 102.13 L357.8 102.46 L358.8 102.76 L359.8 102.17 L360.8 101.75 L361.8 102.8 L362.8 103.83 L363.8 103.9 L364.8 103.45 L365.8 103.42 L366.8 103.9 L367.8 104.74 L368.8 105.01 L369.8 104.43 L370.8 104.7 L371.8 105.67 L372.8 107.11 L373.8 107.9 L374.8 108.84 L375.8 110 L376.8 110.48 L377.8 111.44 L378.8 113.08 L379.8 114.03 L380.8 113.55 L381.8 113.03 L382.8 112.81 L383.8 112.52 L384.8 111.26 L385.8 110.67 L386.8 111.2 L387.8 111.83 L388.8 111.32 L389.8 111.2 L390.8 110.96 L391.8 110.74 L392.8 111.09 L393.8 110.98 L394.8 110.77 L395.8 112.06 L396.8 112.07 L397.8 111 L398.8 111.43 L399.8 111.14 L400.8 111.35 L401.8 111.77 L402.8 110.69 L403.8 110.63 L404.8 110.83 L405.8 111.18 L406.8 111.28 L407.8 111.29 L408.8 110.2 L409.8 109.16 L410.8 108.98 L411.8 107.2 L412.8 106.81 L413.8 108.11 L414.8 108.47 L415.8 107.72 L416.8 107.41 L417.8 107.72 L418.8 107.63 L419.8 106.1 L420.8 105.3 L421.8 106.03 L422.8 106.91 L423.8 107.14 L424.8 107.05 L425.8 107.37" stroke="#6e6e6e" stroke-width="0.55" fill="none" /><path d="M249.8 98.6 L250.8 98.25 L251.8 98.36 L252.8 98.27 L253.8 97.83 L254.8 99.12 L255.8 99.77 L256.8 100.23 L257.8 100.74 L258.8 99.37 L259.8 98.19 L260.8 97.47 L261.8 97.8 L262.8 98.3 L263.8 97.66 L264.8 97.41 L265.8 97.8 L266.8 98.22 L267.8 98.22 L268.8 98.07 L269.8 97.49 L270.8 98.23 L271.8 99.15 L272.8 98.42 L273.8 97.63 L274.8 97.48 L275.8 98.22 L276.8 98.77 L277.8 98.62 L278.8 98.87 L279.8 98.57 L280.8 98.66 L281.8 98.92 L282.8 98.12 L283.8 98.25 L284.8 98.64 L285.8 98.2 L286.8 98.74 L287.8 98.39 L288.8 97.84 L289.8 98.58 L290.8 98.23 L291.8 98.1 L292.8 98.84 L293.8 98.42 L294.8 97.55 L295.8 97.83 L296.8 98.41 L297.8 98.94 L298.8 98.97 L299.8 98.16 L300.8 98.35 L301.8 99.02 L302.8 98.99 L303.8 98.12 L304.8 97.13 L305.8 97.48 L306.8 97.93 L307.8 98.18 L308.8 97.97 L309.8 97.66 L310.8 98.37 L311.8 99.4 L312.8 101.28 L313.8 105.16 L314.8 109.36 L315.8 109.45 L316.8 106.26 L317.8 103.18 L318.8 100.38 L319.8 99.15 L320.8 98.3 L321.8 97 L322.8 96.39 L323.8 96.6 L324.8 96.17 L325.8 96.26 L326.8 96.08 L327.8 94.2 L328.8 91.61 L329.8 88.66 L330.8 85.3 L331.8 80.65 L332.8 75.33 L333.8 71.55 L334.8 67.65 L335.8 63.63 L336.8 60.99 L337.8 61.87 L338.8 64.06 L339.8 68.11 L340.8 72.14 L341.8 75.85 L342.8 79.9 L343.8 82.55 L344.8 84.42 L345.8 86.25 L346.8 87.5 L347.8 87.3 L348.8 87.38 L349.8 87.21 L350.8 87.35 L351.8 86.94 L352.8 86.53 L353.8 86.63 L354.8 87.31 L355.8 87.7 L356.8 87.4 L357.8 87.16 L358.8 87.48 L359.8 88.52 L360.8 87.9 L361.8 87.45 L362.8 88.33 L363.8 88.7 L364.8 89.32 L365.8 89.75 L366.8 90.05 L367.8 90.56 L368.8 91.27 L369.8 91.34 L370.8 91.25 L371.8 91.52 L372.8 91.9 L373.8 92.99 L374.8 93.65 L375.8 95.05 L376.8 96.99 L377.8 97.64 L378.8 98.36 L379.8 99.49 L380.8 98.18 L381.8 98.34 L382.8 99.08 L383.8 98.25 L384.8 97.53 L385.8 96.79 L386.8 95.55 L387.8 95.83 L388.8 96.75 L389.8 96.67 L390.8 96.48 L391.8 96.94 L392.8 97.38 L393.8 97.01 L394.8 96.55 L395.8 97.38 L396.8 97.86 L397.8 97.08 L398.8 96.31 L399.8 95.71 L400.8 95.18 L401.8 95.65 L402.8 96.75 L403.8 96.78 L404.8 96.67 L405.8 96.83 L406.8 97.13 L407.8 96.4 L408.8 95.17 L409.8 95.57 L410.8 94.7 L411.8 91.96 L412.8 91.39 L413.8 93.37 L414.8 93.97 L415.8 92.92 L416.8 92.49 L417.8 92.57 L418.8 92.88 L419.8 92.7 L420.8 93.16 L421.8 93.56 L422.8 92.9 L423.8 92.19 L424.8 91.96 L425.8 92.22" stroke="#6e6e6e" stroke-width="0.55" fill="none" /><path d="M249.8 84.4 L250.8 84.5 L251.8 85.42 L252.8 86.14 L253.8 86.81 L254.8 87.24 L255.8 88.4 L256.8 87.85 L257.8 86.08 L258.8 85.38 L259.8 84.69 L260.8 84.69 L261.8 84.8 L262.8 84.54 L263.8 84.88 L264.8 85.39 L265.8 86.21 L266.8 86.47 L267.8 85.74 L268.8 85.15 L269.8 85.34 L270.8 85.47 L271.8 85.86 L272.8 86.05 L273.8 85.65 L274.8 86.1 L275.8 86.42 L276.8 86.39 L277.8 86.05 L278.8 85.6 L279.8 85.74 L280.8 85.6 L281.8 85.11 L282.8 85.14 L283.8 84.99 L284.8 85.04 L285.8 86.18 L286.8 86.45 L287.8 85.94 L288.8 85.43 L289.8 85.6 L290.8 85.33 L291.8 84.62 L292.8 84.52 L293.8 85.1 L294.8 85.09 L295.8 85.16 L296.8 86 L297.8 86.03 L298.8 85.63 L299.8 85.53 L300.8 85.14 L301.8 85.06 L302.8 86.09 L303.8 86.54 L304.8 85.37 L305.8 84.83 L306.8 85.27 L307.8 85.64 L308.8 85.9 L309.8 85.64 L310.8 85.5 L311.8 87.42 L312.8 90.77 L313.8 94.72 L314.8 99.21 L315.8 98.75 L316.8 94.46 L317.8 91.08 L318.8 87.83 L319.8 85.94 L320.8 85.6 L321.8 85.29 L322.8 84.91 L323.8 84.54 L324.8 84.03 L325.8 83.54 L326.8 82.53 L327.8 80.88 L328.8 78.34 L329.8 75.34 L330.8 71.38 L331.8 65.99 L332.8 60.69 L333.8 56.27 L334.8 51.08 L335.8 46.44 L336.8 42.46 L337.8 43.63 L338.8 47.98 L339.8 51.69 L340.8 55.85 L341.8 60.29 L342.8 64.04 L343.8 67.98 L344.8 70.58 L345.8 72.42 L346.8 73.82 L347.8 72.95 L348.8 73.01 L349.8 72.08 L350.8 71.28 L351.8 71.07 L352.8 70.93 L353.8 71.9 L354.8 72.3 L355.8 72.44 L356.8 73.65 L357.8 74.28 L358.8 75.43 L359.8 75.48 L360.8 74.46 L361.8 73.91 L362.8 74.17 L363.8 75.19 L364.8 75.67 L365.8 76.14 L366.8 76.04 L367.8 75.62 L368.8 76.42 L369.8 77.17 L370.8 76.57 L371.8 77.25 L372.8 77.64 L373.8 78.53 L374.8 79.76 L375.8 81.13 L376.8 82.52 L377.8 84.93 L378.8 87.2 L379.8 87.2 L380.8 86.3 L381.8 85.75 L382.8 85.32 L383.8 84.56 L384.8 83.25 L385.8 83.21 L386.8 83.04 L387.8 82.85 L388.8 83.56 L389.8 83.29 L390.8 83.31 L391.8 83.53 L392.8 84.23 L393.8 84.27 L394.8 83.59 L395.8 83.95 L396.8 83.82 L397.8 83.71 L398.8 83.57 L399.8 83.5 L400.8 83.67 L401.8 83.92 L402.8 84.32 L403.8 84.02 L404.8 84.08 L405.8 84.08 L406.8 83.24 L407.8 83.08 L408.8 82.66 L409.8 82.1 L410.8 80.71 L411.8 77.79 L412.8 78.11 L413.8 80.28 L414.8 79.97 L415.8 79.44 L416.8 79.49 L417.8 79.5 L418.8 79.89 L419.8 79.49 L420.8 79.24 L421.8 79.7 L422.8 79.48 L423.8 78.5 L424.8 78.25 L425.8 78.24" stroke="#6e6e6e" stroke-width="0.55" fill="none" /><path d="M249.8 70.87 L250.8 70.94 L251.8 70.7 L252.8 71.35 L253.8 71.98 L254.8 72.78 L255.8 73.29 L256.8 72.61 L257.8 71.34 L258.8 70.46 L259.8 70.01 L260.8 70.28 L261.8 71.18 L262.8 70.82 L263.8 69.83 L264.8 70 L265.8 70.45 L266.8 70.77 L267.8 70.84 L268.8 70.2 L269.8 69.72 L270.8 69.99 L271.8 69.65 L272.8 69.24 L273.8 70.35 L274.8 70.7 L275.8 70.42 L276.8 70.39 L277.8 69.9 L278.8 69.85 L279.8 70.52 L280.8 70.85 L281.8 70.3 L282.8 70.14 L283.8 70.86 L284.8 70.92 L285.8 71.14 L286.8 71.05 L287.8 69.9 L288.8 69.89 L289.8 70.55 L290.8 70.8 L291.8 70.92 L292.8 71.23 L293.8 71.27 L294.8 70.79 L295.8 70.38 L296.8 70.22 L297.8 70.89 L298.8 71.67 L299.8 71.32 L300.8 70.7 L301.8 70.5 L302.8 70.52 L303.8 70.61 L304.8 70.34 L305.8 70.65 L306.8 70.44 L307.8 70.18 L308.8 70.69 L309.8 70.98 L310.8 71.08 L311.8 72.53 L312.8 76.07 L313.8 80.47 L314.8 85.37 L315.8 85.46 L316.8 81.48 L317.8 76.55 L318.8 71.7 L319.8 70.9 L320.8 70.55 L321.8 68.99 L322.8 68.74 L323.8 69.78 L324.8 69.34 L325.8 68.63 L326.8 67.8 L327.8 66.04 L328.8 63.44 L329.8 60.18 L330.8 55.82 L331.8 50.93 L332.8 45.83 L333.8 40.37 L334.8 35.16 L335.8 30.65 L336.8 27.49 L337.8 28.33 L338.8 31.69 L339.8 37.02 L340.8 41.42 L341.8 45.02 L342.8 48.59 L343.8 51.83 L344.8 54.44 L345.8 57 L346.8 58.63 L347.8 58.1 L348.8 58.07 L349.8 57.87 L350.8 58.09 L351.8 57.91 L352.8 58.65 L353.8 59.01 L354.8 58.14 L355.8 58.24 L356.8 58.98 L357.8 59.09 L358.8 59.37 L359.8 59.83 L360.8 60.35 L361.8 60.39 L362.8 59.87 L363.8 60.05 L364.8 59.98 L365.8 59.46 L366.8 60.07 L367.8 61.14 L368.8 61.56 L369.8 62.47 L370.8 62.62 L371.8 62.04 L372.8 63.65 L373.8 64.79 L374.8 65.6 L375.8 67.38 L376.8 67.43 L377.8 69.08 L378.8 71.15 L379.8 71.82 L380.8 71.4 L381.8 70.78 L382.8 70.41 L383.8 70.46 L384.8 69.62 L385.8 68.76 L386.8 68.99 L387.8 69.23 L388.8 67.98 L389.8 67.97 L390.8 68.75 L391.8 68.5 L392.8 68.11 L393.8 68.89 L394.8 69.6 L395.8 68.74 L396.8 68.4 L397.8 68.5 L398.8 68.61 L399.8 68.97 L400.8 69.15 L401.8 68.67 L402.8 68.44 L403.8 68.85 L404.8 68.58 L405.8 68.21 L406.8 68.92 L407.8 69.07 L408.8 68.71 L409.8 67.38 L410.8 62.4 L411.8 53.49 L412.8 54.29 L413.8 62.66 L414.8 65.51 L415.8 64.96 L416.8 64.46 L417.8 65 L418.8 65.55 L419.8 64.07 L420.8 63.37 L421.8 63.31 L422.8 62.7 L423.8 63.11 L424.8 63.18 L425.8 63.55" stroke="#6e6e6e" stroke-width="0.55" fill="none" /><rect x="249.8" y="21.5" width="176" height="141.5" fill="none" stroke="#444" stroke-width="1.4" /><line x1="249.76" y1="163" x2="249.76" y2="164.8" stroke="#444" stroke-width="0.8" /><line x1="263.1" y1="163" x2="263.1" y2="166" stroke="#444" stroke-width="0.8" /><text x="263.1" y="176" font-size="9.2" text-anchor="middle" fill="#222" >2000</text><line x1="276.44" y1="163" x2="276.44" y2="164.8" stroke="#444" stroke-width="0.8" /><line x1="289.78" y1="163" x2="289.78" y2="166" stroke="#444" stroke-width="0.8" /><text x="289.78" y="176" font-size="9.2" text-anchor="middle" fill="#222" >1800</text><line x1="303.12" y1="163" x2="303.12" y2="164.8" stroke="#444" stroke-width="0.8" /><line x1="316.46" y1="163" x2="316.46" y2="166" stroke="#444" stroke-width="0.8" /><text x="316.46" y="176" font-size="9.2" text-anchor="middle" fill="#222" >1600</text><line x1="329.8" y1="163" x2="329.8" y2="164.8" stroke="#444" stroke-width="0.8" /><line x1="343.14" y1="163" x2="343.14" y2="166" stroke="#444" stroke-width="0.8" /><text x="343.14" y="176" font-size="9.2" text-anchor="middle" fill="#222" >1400</text><line x1="356.48" y1="163" x2="356.48" y2="164.8" stroke="#444" stroke-width="0.8" /><line x1="369.82" y1="163" x2="369.82" y2="166" stroke="#444" stroke-width="0.8" /><text x="369.82" y="176" font-size="9.2" text-anchor="middle" fill="#222" >1200</text><line x1="383.16" y1="163" x2="383.16" y2="164.8" stroke="#444" stroke-width="0.8" /><line x1="396.5" y1="163" x2="396.5" y2="166" stroke="#444" stroke-width="0.8" /><text x="396.5" y="176" font-size="9.2" text-anchor="middle" fill="#222" >1000</text><line x1="409.84" y1="163" x2="409.84" y2="164.8" stroke="#444" stroke-width="0.8" /><line x1="423.18" y1="163" x2="423.18" y2="166" stroke="#444" stroke-width="0.8" /><text x="423.18" y="176" font-size="9.2" text-anchor="middle" fill="#222" >800</text><text x="245.3" y="158.7" font-size="9.5" text-anchor="end" fill="#222" >0</text><text x="245.3" y="144.73" font-size="9.5" text-anchor="end" fill="#222" >2</text><text x="245.3" y="130.76" font-size="9.5" text-anchor="end" fill="#222" >4</text><text x="245.3" y="116.79" font-size="9.5" text-anchor="end" fill="#222" >6</text><text x="245.3" y="102.82" font-size="9.5" text-anchor="end" fill="#222" >8</text><text x="245.3" y="88.85" font-size="9.5" text-anchor="end" fill="#222" >10</text><text x="245.3" y="74.88" font-size="9.5" text-anchor="end" fill="#222" >12</text><text x="0" y="0" font-size="11" text-anchor="middle" fill="#222" transform="translate(230.7 95.5) rotate(-90)" >Time / min</text><text x="280.8" y="190" font-size="11.3" text-anchor="start" fill="#222" >Wavenumber / cm<tspan font-size="75%" dy="-4.5">&#8722;1</tspan><tspan dy="4.5">&#8203;</tspan></text><rect x="284.8" y="12" width="109" height="4.8" fill="url(#cbb)" stroke="#666" stroke-width="0.7" /><text x="339.3" y="8.7" font-size="10.6" text-anchor="middle" fill="#222" >Intensity / a.u.</text><text x="219" y="29" font-size="13" text-anchor="start" fill="#222" >b</text><text x="255" y="33.8" font-size="9.6" text-anchor="start" fill="#222" >K-Fe<tspan font-size="72%" dy="2">2</tspan><tspan dy="-2">&#8203;</tspan>N@C</text><text x="255" y="45.2" font-size="7.3" text-anchor="start" fill="#222" >25% CO<tspan font-size="72%" dy="1.8">2</tspan><tspan dy="-1.8">&#8203;</tspan>/H<tspan font-size="72%" dy="1.8">2</tspan><tspan dy="-1.8">&#8203;</tspan></text><text x="316.5" y="33.1" font-size="7.6" text-anchor="middle" fill="#c0504d" >1448</text><text x="316.3" y="42.6" font-size="7.6" text-anchor="middle" fill="#c0504d" >*COOH</text><text x="261.2" y="56.1" font-size="7.6" text-anchor="middle" fill="#c0504d" >2078</text><text x="282.4" y="56.1" font-size="7.6" text-anchor="middle" fill="#4a72b0" >2052</text><text x="252.6" y="65.3" font-size="7.6" text-anchor="start" fill="#c0504d" >*CO</text><text x="274.3" y="65.3" font-size="7.6" text-anchor="start" fill="#4a72b0" >*NO<tspan font-size="72%" dy="2">x</tspan><tspan dy="-2">&#8203;</tspan></text><text x="313.2" y="58.8" font-size="7.6" text-anchor="middle" fill="#4a72b0" >1608</text><text x="304.9" y="67.3" font-size="7.6" text-anchor="start" fill="#4a72b0" >*N-H</text><text x="357.2" y="39.7" font-size="7.6" text-anchor="middle" fill="#c0504d" >1324</text><text x="349" y="49.9" font-size="7.6" text-anchor="start" fill="#c0504d" >CO<tspan font-size="72%" dy="2">3</tspan><tspan font-size="72%" dx="-4" dy="-5.5">2&#8722;</tspan><tspan dy="3.5">&#8203;</tspan></text><text x="380" y="39.7" font-size="7.6" text-anchor="middle" fill="#4a72b0" >1107</text><text x="371.6" y="49.9" font-size="7.6" text-anchor="start" fill="#4a72b0" >*NH<tspan font-size="72%" dy="2">3</tspan><tspan dy="-2">&#8203;</tspan></text><text x="397.4" y="39.7" font-size="7.6" text-anchor="start" fill="#c0504d" >*C<tspan font-size="72%" dy="2">x</tspan><tspan dy="-2">&#8203;</tspan>H<tspan font-size="72%" dy="2">y</tspan><tspan dy="-2">&#8203;</tspan></text><line x1="405.2" y1="43.4" x2="392" y2="63.8" stroke="#c0504d" stroke-width="0.6" /><line x1="412.5" y1="43.4" x2="415.4" y2="48.5" stroke="#c0504d" stroke-width="0.6" /><line x1="254.6" y1="68.8" x2="256" y2="67.5" stroke="#c0504d" stroke-width="0.6" /><path d="M257.9 69.7 Q266 68 274.3 66" stroke="#4a72b0" stroke-width="0.6" fill="none"/><line x1="482.8" y1="56.15" x2="658.7" y2="56.15" stroke="#4a78bd" stroke-width="0.7" stroke-dasharray="1.6 1.4"/><line x1="482.8" y1="132.4" x2="658.7" y2="132.4" stroke="#4a78bd" stroke-width="0.7" stroke-dasharray="1.6 1.4"/><line x1="526.5" y1="23.4" x2="526.5" y2="94.3" stroke="#c8605c" stroke-width="0.7" stroke-dasharray="1.6 1.4"/><line x1="542.83" y1="94.3" x2="542.83" y2="164.9" stroke="#c8605c" stroke-width="0.7" stroke-dasharray="1.6 1.4"/><path d="M495.1 28.08 L495.67 32.52 L496.24 34.14 L496.81 35.36 L497.38 36.37 L497.95 37.24 L498.53 38.03 L499.1 38.74 L499.67 39.41 L500.24 40.03 L500.81 40.61 L501.38 41.16 L502.01 41.73 L504.45 43.73 L506.88 45.46 L509.32 47 L511.76 48.4 L514.2 49.7 L516.63 50.9 L519.07 52.04 L521.51 53.11 L523.95 54.14 L526.38 55.11 L528.82 56.05 L531.26 56.95 L533.7 57.81 L536.13 58.65 L538.57 59.46 L541.01 60.25 L543.45 61.02 L545.88 61.76 L548.32 62.49 L550.76 63.19 L553.2 63.89 L555.63 64.56 L558.07 65.22 L560.51 65.87 L562.95 66.5 L565.38 67.13 L567.82 67.74 L570.26 68.34 L572.7 68.93 L575.13 69.51 L577.57 70.08 L580.01 70.64 L582.45 71.19 L584.88 71.74 L587.32 72.27 L589.76 72.8 L592.2 73.32 L594.63 73.84 L597.07 74.35 L599.51 74.85 L601.95 75.35 L604.38 75.83 L606.82 76.32 L609.26 76.8 L611.7 77.27 L614.13 77.74 L616.57 78.2 L619.01 78.66 L621.45 79.11 L623.88 79.56 L626.32 80 L628.76 80.44 L631.2 80.87 L633.63 81.3 L636.07 81.73 L638.51 82.15 L640.95 82.57 L643.38 82.99 L645.82 83.4" stroke="#4a78bd" stroke-width="1.1" fill="none" /><path d="M495.1 82.86 L495.67 81.4 L496.24 80.57 L496.81 79.89 L497.38 79.28 L497.95 78.72 L498.53 78.2 L499.1 77.71 L499.67 77.24 L500.24 76.79 L500.81 76.36 L501.38 75.95 L502.01 75.51 L504.45 73.91 L506.88 72.46 L509.32 71.11 L511.76 69.83 L514.2 68.63 L516.63 67.47 L519.07 66.36 L521.51 65.29 L523.95 64.25 L526.38 63.24 L528.82 62.26 L531.26 61.31 L533.7 60.37 L536.13 59.46 L538.57 58.57 L541.01 57.69 L543.45 56.83 L545.88 55.98 L548.32 55.15 L550.76 54.33 L553.2 53.53 L555.63 52.73 L558.07 51.95 L560.51 51.18 L562.95 50.42 L565.38 49.66 L567.82 48.92 L570.26 48.18 L572.7 47.46 L575.13 46.74 L577.57 46.03 L580.01 45.32 L582.45 44.63 L584.88 43.94 L587.32 43.25 L589.76 42.58 L592.2 41.9 L594.63 41.24 L597.07 40.58 L599.51 39.92 L601.95 39.28 L604.38 38.63 L606.82 37.99 L609.26 37.36 L611.7 36.73 L614.13 36.11 L616.57 35.49 L619.01 34.87 L621.45 34.26 L623.88 33.65 L626.32 33.05 L628.76 32.45 L631.2 31.85 L633.63 31.26 L636.07 30.67 L638.51 30.09 L640.95 29.51 L643.38 28.93 L645.82 28.36" stroke="#c8605c" stroke-width="1.1" fill="none" /><path d="M495.1 108.01 L495.67 109.97 L496.24 110.94 L496.81 111.71 L497.38 112.38 L497.95 112.97 L498.53 113.52 L499.1 114.04 L499.67 114.52 L500.24 114.97 L500.81 115.41 L501.38 115.83 L502.01 116.27 L504.45 117.84 L506.88 119.24 L509.32 120.53 L511.76 121.72 L514.2 122.84 L516.63 123.91 L519.07 124.92 L521.51 125.89 L523.95 126.82 L526.38 127.72 L528.82 128.59 L531.26 129.44 L533.7 130.26 L536.13 131.06 L538.57 131.83 L541.01 132.59 L543.45 133.34 L545.88 134.07 L548.32 134.78 L550.76 135.48 L553.2 136.17 L555.63 136.84 L558.07 137.5 L560.51 138.16 L562.95 138.8 L565.38 139.43 L567.82 140.05 L570.26 140.67 L572.7 141.27 L575.13 141.87 L577.57 142.46 L580.01 143.04 L582.45 143.62 L584.88 144.19 L587.32 144.75 L589.76 145.31 L592.2 145.86 L594.63 146.4 L597.07 146.94 L599.51 147.47 L601.95 148 L604.38 148.53 L606.82 149.04 L609.26 149.56 L611.7 150.07 L614.13 150.57 L616.57 151.07 L619.01 151.57 L621.45 152.06 L623.88 152.54 L626.32 153.03 L628.76 153.51 L631.2 153.98 L633.63 154.46 L636.07 154.93 L638.51 155.39 L640.95 155.85 L643.38 156.31 L645.82 156.77" stroke="#4a78bd" stroke-width="1.1" fill="none" /><path d="M495.1 159.5 L495.67 159.5 L496.24 159.48 L496.81 159.46 L497.38 159.43 L497.95 159.38 L498.53 159.33 L499.1 159.26 L499.67 159.17 L500.24 159.08 L500.81 158.97 L501.38 158.85 L502.01 158.71 L504.45 157.99 L506.88 157.05 L509.32 155.9 L511.76 154.55 L514.2 153.04 L516.63 151.39 L519.07 149.64 L521.51 147.81 L523.95 145.93 L526.38 144.04 L528.82 142.15 L531.26 140.28 L533.7 138.45 L536.13 136.67 L538.57 134.95 L541.01 133.3 L543.45 131.72 L545.88 130.21 L548.32 128.79 L550.76 127.43 L553.2 126.16 L555.63 124.95 L558.07 123.82 L560.51 122.75 L562.95 121.75 L565.38 120.81 L567.82 119.92 L570.26 119.09 L572.7 118.31 L575.13 117.58 L577.57 116.89 L580.01 116.24 L582.45 115.64 L584.88 115.06 L587.32 114.53 L589.76 114.02 L592.2 113.54 L594.63 113.1 L597.07 112.67 L599.51 112.27 L601.95 111.9 L604.38 111.54 L606.82 111.2 L609.26 110.88 L611.7 110.58 L614.13 110.3 L616.57 110.03 L619.01 109.77 L621.45 109.53 L623.88 109.29 L626.32 109.07 L628.76 108.87 L631.2 108.67 L633.63 108.48 L636.07 108.3 L638.51 108.13 L640.95 107.96 L643.38 107.81 L645.82 107.66" stroke="#c8605c" stroke-width="1.1" fill="none" /><circle cx="495.1" cy="44.21" r="2.6" fill="none" stroke="#4a78bd" stroke-width="0.7"/><circle cx="520.22" cy="56.31" r="2.6" fill="none" stroke="#4a78bd" stroke-width="0.7"/><circle cx="545.34" cy="62.31" r="2.6" fill="none" stroke="#4a78bd" stroke-width="0.7"/><circle cx="570.46" cy="65.96" r="2.6" fill="none" stroke="#4a78bd" stroke-width="0.7"/><circle cx="595.58" cy="69.34" r="2.6" fill="none" stroke="#4a78bd" stroke-width="0.7"/><circle cx="620.7" cy="81.77" r="2.6" fill="none" stroke="#4a78bd" stroke-width="0.7"/><circle cx="645.82" cy="83.4" r="2.6" fill="none" stroke="#4a78bd" stroke-width="0.7"/><circle cx="495.1" cy="108.01" r="2.6" fill="none" stroke="#4a78bd" stroke-width="0.7"/><circle cx="520.22" cy="125.19" r="2.6" fill="none" stroke="#4a78bd" stroke-width="0.7"/><circle cx="545.34" cy="132.94" r="2.6" fill="none" stroke="#4a78bd" stroke-width="0.7"/><circle cx="570.46" cy="143.89" r="2.6" fill="none" stroke="#4a78bd" stroke-width="0.7"/><circle cx="595.58" cy="140.91" r="2.6" fill="none" stroke="#4a78bd" stroke-width="0.7"/><circle cx="620.7" cy="150.29" r="2.6" fill="none" stroke="#4a78bd" stroke-width="0.7"/><circle cx="645.82" cy="159.5" r="2.6" fill="none" stroke="#4a78bd" stroke-width="0.7"/><rect x="492.7" y="61.71" width="4.8" height="4.8" fill="none" stroke="#c8605c" stroke-width="0.7" /><rect x="517.82" y="59.91" width="4.8" height="4.8" fill="none" stroke="#c8605c" stroke-width="0.7" /><rect x="542.94" y="59.91" width="4.8" height="4.8" fill="none" stroke="#c8605c" stroke-width="0.7" /><rect x="568.06" y="42.85" width="4.8" height="4.8" fill="none" stroke="#c8605c" stroke-width="0.7" /><rect x="593.18" y="35.38" width="4.8" height="4.8" fill="none" stroke="#c8605c" stroke-width="0.7" /><rect x="618.3" y="35.38" width="4.8" height="4.8" fill="none" stroke="#c8605c" stroke-width="0.7" /><rect x="643.42" y="26.5" width="4.8" height="4.8" fill="none" stroke="#c8605c" stroke-width="0.7" /><rect x="492.7" y="151.68" width="4.8" height="4.8" fill="none" stroke="#c8605c" stroke-width="0.7" /><rect x="517.82" y="147.18" width="4.8" height="4.8" fill="none" stroke="#c8605c" stroke-width="0.7" /><rect x="542.94" y="130.54" width="4.8" height="4.8" fill="none" stroke="#c8605c" stroke-width="0.7" /><rect x="568.06" y="116.29" width="4.8" height="4.8" fill="none" stroke="#c8605c" stroke-width="0.7" /><rect x="593.18" y="111.19" width="4.8" height="4.8" fill="none" stroke="#c8605c" stroke-width="0.7" /><rect x="618.3" y="107.78" width="4.8" height="4.8" fill="none" stroke="#c8605c" stroke-width="0.7" /><rect x="643.42" y="102.9" width="4.8" height="4.8" fill="none" stroke="#c8605c" stroke-width="0.7" /><rect x="482.8" y="23.4" width="175.9" height="141.5" fill="none" stroke="#222" stroke-width="1.4" /><line x1="480.3" y1="83.4" x2="482.8" y2="83.4" stroke="#222" stroke-width="0.8" /><text x="477.5" y="86.6" font-size="9.2" text-anchor="end" fill="#222" >0</text><line x1="480.3" y1="56.15" x2="482.8" y2="56.15" stroke="#222" stroke-width="0.8" /><text x="477.5" y="59.35" font-size="9.2" text-anchor="end" fill="#222" >50</text><line x1="480.3" y1="28.9" x2="482.8" y2="28.9" stroke="#222" stroke-width="0.8" /><text x="477.5" y="32.1" font-size="9.2" text-anchor="end" fill="#222" >100</text><line x1="480.3" y1="159.5" x2="482.8" y2="159.5" stroke="#222" stroke-width="0.8" /><text x="477.5" y="162.7" font-size="9.2" text-anchor="end" fill="#222" >0</text><line x1="480.3" y1="132.4" x2="482.8" y2="132.4" stroke="#222" stroke-width="0.8" /><text x="477.5" y="135.6" font-size="9.2" text-anchor="end" fill="#222" >50</text><line x1="480.3" y1="105.3" x2="482.8" y2="105.3" stroke="#222" stroke-width="0.8" /><text x="477.5" y="108.5" font-size="9.2" text-anchor="end" fill="#222" >100</text><line x1="481.3" y1="94.3" x2="482.8" y2="94.3" stroke="#222" stroke-width="0.8" /><line x1="495.1" y1="164.9" x2="495.1" y2="167.4" stroke="#222" stroke-width="0.8" /><text x="495.1" y="177.2" font-size="9.2" text-anchor="middle" fill="#222" >0</text><line x1="520.22" y1="164.9" x2="520.22" y2="167.4" stroke="#222" stroke-width="0.8" /><text x="520.22" y="177.2" font-size="9.2" text-anchor="middle" fill="#222" >2</text><line x1="545.34" y1="164.9" x2="545.34" y2="167.4" stroke="#222" stroke-width="0.8" /><text x="545.34" y="177.2" font-size="9.2" text-anchor="middle" fill="#222" >4</text><line x1="570.46" y1="164.9" x2="570.46" y2="167.4" stroke="#222" stroke-width="0.8" /><text x="570.46" y="177.2" font-size="9.2" text-anchor="middle" fill="#222" >6</text><line x1="595.58" y1="164.9" x2="595.58" y2="167.4" stroke="#222" stroke-width="0.8" /><text x="595.58" y="177.2" font-size="9.2" text-anchor="middle" fill="#222" >8</text><line x1="620.7" y1="164.9" x2="620.7" y2="167.4" stroke="#222" stroke-width="0.8" /><text x="620.7" y="177.2" font-size="9.2" text-anchor="middle" fill="#222" >10</text><line x1="645.82" y1="164.9" x2="645.82" y2="167.4" stroke="#222" stroke-width="0.8" /><text x="645.82" y="177.2" font-size="9.2" text-anchor="middle" fill="#222" >12</text><line x1="507.66" y1="164.9" x2="507.66" y2="166.4" stroke="#222" stroke-width="0.8" /><line x1="532.78" y1="164.9" x2="532.78" y2="166.4" stroke="#222" stroke-width="0.8" /><line x1="557.9" y1="164.9" x2="557.9" y2="166.4" stroke="#222" stroke-width="0.8" /><line x1="583.02" y1="164.9" x2="583.02" y2="166.4" stroke="#222" stroke-width="0.8" /><line x1="608.14" y1="164.9" x2="608.14" y2="166.4" stroke="#222" stroke-width="0.8" /><line x1="633.26" y1="164.9" x2="633.26" y2="166.4" stroke="#222" stroke-width="0.8" /><text x="570.8" y="190.5" font-size="12" text-anchor="middle" fill="#222" >Time / min</text><text x="0" y="0" font-size="11.85" text-anchor="middle" fill="#222" transform="translate(454.2 90.3) rotate(-90)" >Relative Percentage / %</text><text x="0" y="0" font-size="10.5" text-anchor="middle" fill="#222" transform="translate(670.3 62.6) rotate(90)" >Fe<tspan font-size="72%" dy="2">2</tspan><tspan dy="-2">&#8203;</tspan>N@C</text><text x="0" y="0" font-size="10.5" text-anchor="middle" fill="#222" transform="translate(670.3 126.8) rotate(90)" >K-Fe<tspan font-size="72%" dy="2">2</tspan><tspan dy="-2">&#8203;</tspan>N@C</text><text x="436" y="29" font-size="13" text-anchor="start" fill="#222" >c</text><circle cx="531.2" cy="12.6" r="2.6" fill="none" stroke="#4a78bd" stroke-width="0.7"/><text x="542.3" y="16" font-size="9.1" text-anchor="start" fill="#222" >*N-H</text><rect x="573.4" y="10.1" width="5" height="5" fill="none" stroke="#c8605c" stroke-width="0.7" /><text x="587" y="16" font-size="9.1" text-anchor="start" fill="#222" >*COOH</text><line x1="539.8" y1="76.2" x2="529.5" y2="64.5" stroke="#c8605c" stroke-width="0.7" /><path d="M529 64 L532.8 66.2 L530.9 67.8 Z" fill="#c8605c"/><text x="533.7" y="85.6" font-size="8.2" text-anchor="start" fill="#c8605c" >2.5 min, 38%</text><line x1="554.2" y1="151.2" x2="544.6" y2="137.2" stroke="#c8605c" stroke-width="0.7" /><path d="M544.2 136.7 L548 139 L546 140.5 Z" fill="#c8605c"/><text x="548.7" y="158.4" font-size="8.2" text-anchor="start" fill="#c8605c" >3.8 min, 47%</text><g clip-path="url(#cpd)"><rect x="30.3" y="260.26" width="3.2" height="94.4" fill="url(#gd_0)"/><rect x="32.3" y="259.76" width="3.2" height="95.95" fill="url(#gd_1)"/><rect x="34.3" y="260.65" width="3.2" height="93.49" fill="url(#gd_2)"/><rect x="36.3" y="261.31" width="3.2" height="93.78" fill="url(#gd_3)"/><rect x="38.3" y="260.87" width="3.2" height="94.95" fill="url(#gd_4)"/><rect x="40.3" y="260.06" width="3.2" height="95.46" fill="url(#gd_5)"/><rect x="42.3" y="260.49" width="3.2" height="94.35" fill="url(#gd_6)"/><rect x="44.3" y="259.46" width="3.2" height="95.41" fill="url(#gd_7)"/><rect x="46.3" y="258.59" width="3.2" height="95.38" fill="url(#gd_8)"/><rect x="48.3" y="257.16" width="3.2" height="94.71" fill="url(#gd_9)"/><rect x="50.3" y="257.19" width="3.2" height="95.49" fill="url(#gd_10)"/><rect x="52.3" y="258.8" width="3.2" height="95.5" fill="url(#gd_11)"/><rect x="54.3" y="259.99" width="3.2" height="95.36" fill="url(#gd_12)"/><rect x="56.3" y="260.03" width="3.2" height="95.03" fill="url(#gd_13)"/><rect x="58.3" y="259.85" width="3.2" height="95.37" fill="url(#gd_14)"/><rect x="60.3" y="260.9" width="3.2" height="93.52" fill="url(#gd_15)"/><rect x="62.3" y="260.23" width="3.2" height="95.99" fill="url(#gd_16)"/><rect x="64.3" y="259.96" width="3.2" height="95.14" fill="url(#gd_17)"/><rect x="66.3" y="260.62" width="3.2" height="94.7" fill="url(#gd_18)"/><rect x="68.3" y="260.04" width="3.2" height="94.53" fill="url(#gd_19)"/><rect x="70.3" y="260.69" width="3.2" height="93.94" fill="url(#gd_20)"/><rect x="72.3" y="260.43" width="3.2" height="94.15" fill="url(#gd_21)"/><rect x="74.3" y="261.28" width="3.2" height="94.46" fill="url(#gd_22)"/><rect x="76.3" y="259.53" width="3.2" height="95.49" fill="url(#gd_23)"/><rect x="78.3" y="260.11" width="3.2" height="94.55" fill="url(#gd_24)"/><rect x="80.3" y="260.58" width="3.2" height="94.4" fill="url(#gd_25)"/><rect x="82.3" y="259.34" width="3.2" height="93.65" fill="url(#gd_26)"/><rect x="84.3" y="257.57" width="3.2" height="94.33" fill="url(#gd_27)"/><rect x="86.3" y="254.39" width="3.2" height="94.85" fill="url(#gd_28)"/><rect x="88.3" y="254.71" width="3.2" height="96.02" fill="url(#gd_29)"/><rect x="90.3" y="257.7" width="3.2" height="94.7" fill="url(#gd_30)"/><rect x="92.3" y="259.75" width="3.2" height="94.38" fill="url(#gd_31)"/><rect x="94.3" y="259.95" width="3.2" height="94.53" fill="url(#gd_32)"/><rect x="96.3" y="259.82" width="3.2" height="95.64" fill="url(#gd_33)"/><rect x="98.3" y="259.23" width="3.2" height="94.71" fill="url(#gd_34)"/><rect x="100.3" y="259.93" width="3.2" height="94.78" fill="url(#gd_35)"/><rect x="102.3" y="258.53" width="3.2" height="96.2" fill="url(#gd_36)"/><rect x="104.3" y="259.56" width="3.2" height="95.78" fill="url(#gd_37)"/><rect x="106.3" y="258.15" width="3.2" height="96.69" fill="url(#gd_38)"/><rect x="108.3" y="257.44" width="3.2" height="95.56" fill="url(#gd_39)"/><rect x="110.3" y="255.63" width="3.2" height="93.95" fill="url(#gd_40)"/><rect x="112.3" y="254.1" width="3.2" height="88.73" fill="url(#gd_41)"/><rect x="114.3" y="251.97" width="3.2" height="84.68" fill="url(#gd_42)"/><rect x="116.3" y="249.43" width="3.2" height="86.32" fill="url(#gd_43)"/><rect x="118.3" y="250.31" width="3.2" height="87.33" fill="url(#gd_44)"/><rect x="120.3" y="250.58" width="3.2" height="91.36" fill="url(#gd_45)"/><rect x="122.3" y="245.77" width="3.2" height="100.02" fill="url(#gd_46)"/><rect x="124.3" y="237.62" width="3.2" height="110.59" fill="url(#gd_47)"/><rect x="126.3" y="235.38" width="3.2" height="115.93" fill="url(#gd_48)"/><rect x="128.3" y="242.07" width="3.2" height="110.32" fill="url(#gd_49)"/><rect x="130.3" y="251.75" width="3.2" height="101.99" fill="url(#gd_50)"/><rect x="132.3" y="257.53" width="3.2" height="97.74" fill="url(#gd_51)"/><rect x="134.3" y="259.73" width="3.2" height="95.34" fill="url(#gd_52)"/><rect x="136.3" y="259.91" width="3.2" height="95.51" fill="url(#gd_53)"/><rect x="138.3" y="260.29" width="3.2" height="95.41" fill="url(#gd_54)"/><rect x="140.3" y="261.25" width="3.2" height="94.19" fill="url(#gd_55)"/><rect x="142.3" y="260.23" width="3.2" height="94.98" fill="url(#gd_56)"/><rect x="144.3" y="259.92" width="3.2" height="94.84" fill="url(#gd_57)"/><rect x="146.3" y="259.67" width="3.2" height="94.74" fill="url(#gd_58)"/><rect x="148.3" y="260.32" width="3.2" height="94.71" fill="url(#gd_59)"/><rect x="150.3" y="259.39" width="3.2" height="95.65" fill="url(#gd_60)"/><rect x="152.3" y="260.14" width="3.2" height="94.98" fill="url(#gd_61)"/><rect x="154.3" y="260.48" width="3.2" height="94.6" fill="url(#gd_62)"/><rect x="156.3" y="261.23" width="3.2" height="94.17" fill="url(#gd_63)"/><rect x="158.3" y="260.12" width="3.2" height="94.82" fill="url(#gd_64)"/><rect x="160.3" y="260.69" width="3.2" height="94.37" fill="url(#gd_65)"/><rect x="162.3" y="259.99" width="3.2" height="95" fill="url(#gd_66)"/><rect x="164.3" y="260.37" width="3.2" height="94.91" fill="url(#gd_67)"/><rect x="166.3" y="260.35" width="3.2" height="95" fill="url(#gd_68)"/><rect x="168.3" y="260.34" width="3.2" height="94.81" fill="url(#gd_69)"/><rect x="170.3" y="260.3" width="3.2" height="94.89" fill="url(#gd_70)"/><rect x="172.3" y="260.11" width="2.2" height="95.88" fill="url(#gd_71)"/></g><path d="M30.3 352.66 L31.3 352.66 L32.3 353.71 L33.3 353.03 L34.3 352.14 L35.3 353.19 L36.3 353.09 L37.3 352.71 L38.3 353.82 L39.3 353.98 L40.3 353.52 L41.3 352.8 L42.3 352.84 L43.3 353.34 L44.3 352.87 L45.3 352.42 L46.3 351.98 L47.3 351.06 L48.3 349.86 L49.3 349.63 L50.3 350.69 L51.3 351.96 L52.3 352.3 L53.3 352.72 L54.3 353.35 L55.3 353.88 L56.3 353.06 L57.3 352.19 L58.3 353.22 L59.3 353.22 L60.3 352.42 L61.3 353.56 L62.3 354.22 L63.3 353.53 L64.3 353.11 L65.3 353.02 L66.3 353.32 L67.3 353.3 L68.3 352.57 L69.3 351.8 L70.3 352.63 L71.3 353.71 L72.3 352.58 L73.3 352.6 L74.3 353.74 L75.3 353.39 L76.3 353.01 L77.3 352.66 L78.3 352.66 L79.3 353.23 L80.3 352.98 L81.3 352.18 L82.3 350.99 L83.3 350.05 L84.3 349.9 L85.3 349.04 L86.3 347.24 L87.3 346.92 L88.3 348.73 L89.3 349.85 L90.3 350.4 L91.3 350.94 L92.3 352.13 L93.3 352.84 L94.3 352.48 L95.3 353.08 L96.3 353.46 L97.3 352.61 L98.3 351.94 L99.3 352.25 L100.3 352.72 L101.3 352.6 L102.3 352.74 L103.3 353.14 L104.3 353.34 L105.3 353.24 L106.3 352.84 L107.3 351.58 L108.3 351 L109.3 350.28 L110.3 347.59 L111.3 344.85 L112.3 340.83 L113.3 337.37 L114.3 334.65 L115.3 332.55 L116.3 333.75 L117.3 335.39 L118.3 335.64 L119.3 337.16 L120.3 339.94 L121.3 342.05 L122.3 343.79 L123.3 345.11 L124.3 346.21 L125.3 347.8 L126.3 349.31 L127.3 350.23 L128.3 350.39 L129.3 350.96 L130.3 351.75 L131.3 352.32 L132.3 353.27 L133.3 353.64 L134.3 353.07 L135.3 352.85 L136.3 353.42 L137.3 354.05 L138.3 353.71 L139.3 353.27 L140.3 353.43 L141.3 353.43 L142.3 353.21 L143.3 353 L144.3 352.76 L145.3 352.54 L146.3 352.41 L147.3 352.46 L148.3 353.04 L149.3 353.34 L150.3 353.05 L151.3 353.14 L152.3 353.12 L153.3 352.61 L154.3 353.08 L155.3 354.1 L156.3 353.4 L157.3 352.78 L158.3 352.95 L159.3 353.42 L160.3 353.06 L161.3 352.34 L162.3 352.99 L163.3 353.37 L164.3 353.28 L165.3 353.22 L166.3 353.36 L167.3 353.69 L168.3 353.15 L169.3 352.77 L170.3 353.19 L171.3 353.14 L172.3 353.99" stroke="#6e6e6e" stroke-width="0.55" fill="none" /><path d="M30.3 338.02 L31.3 338.13 L32.3 338.42 L33.3 338.28 L34.3 338.51 L35.3 338.24 L36.3 338.15 L37.3 338.76 L38.3 338.81 L39.3 338.44 L40.3 337.88 L41.3 338.12 L42.3 338.85 L43.3 338.13 L44.3 337.69 L45.3 337.15 L46.3 336.13 L47.3 336.08 L48.3 335.78 L49.3 335.28 L50.3 335.11 L51.3 335.99 L52.3 336.68 L53.3 336.46 L54.3 337.23 L55.3 338.55 L56.3 338.92 L57.3 339.04 L58.3 338.9 L59.3 338.67 L60.3 338.91 L61.3 338.48 L62.3 338.92 L63.3 339.57 L64.3 337.96 L65.3 337.14 L66.3 337.66 L67.3 337.86 L68.3 337.43 L69.3 337.4 L70.3 337.99 L71.3 338.6 L72.3 338.65 L73.3 338.48 L74.3 338.7 L75.3 338.69 L76.3 338.46 L77.3 338.32 L78.3 337.96 L79.3 338.22 L80.3 338.38 L81.3 336.86 L82.3 336.07 L83.3 335.26 L84.3 333.62 L85.3 332.36 L86.3 331.67 L87.3 332.46 L88.3 333.38 L89.3 334.14 L90.3 335.87 L91.3 337.05 L92.3 337.78 L93.3 338.72 L94.3 338.48 L95.3 338.03 L96.3 338.38 L97.3 338.7 L98.3 338.63 L99.3 338.42 L100.3 338.34 L101.3 338.18 L102.3 338.14 L103.3 337.93 L104.3 337.52 L105.3 337.42 L106.3 337.67 L107.3 337.69 L108.3 336.68 L109.3 335.35 L110.3 333.49 L111.3 331.29 L112.3 328.46 L113.3 323.65 L114.3 319.74 L115.3 318.37 L116.3 318.47 L117.3 319.67 L118.3 321.17 L119.3 323.31 L120.3 324.67 L121.3 325.85 L122.3 326.99 L123.3 327.13 L124.3 327.27 L125.3 327.26 L126.3 328.44 L127.3 330.33 L128.3 332.17 L129.3 333.93 L130.3 334.6 L131.3 335.79 L132.3 336.77 L133.3 336.87 L134.3 337.31 L135.3 337.48 L136.3 338.17 L137.3 338.36 L138.3 337.48 L139.3 337.87 L140.3 338.45 L141.3 338.45 L142.3 338.33 L143.3 338.46 L144.3 338.01 L145.3 337.77 L146.3 338.87 L147.3 338.11 L148.3 337.24 L149.3 337.68 L150.3 337.83 L151.3 338.14 L152.3 338.4 L153.3 338.03 L154.3 337.63 L155.3 337.56 L156.3 337.8 L157.3 338.29 L158.3 338.43 L159.3 337.88 L160.3 337.31 L161.3 337.82 L162.3 338.48 L163.3 337.93 L164.3 337.51 L165.3 337.71 L166.3 338.41 L167.3 338.79 L168.3 338.51 L169.3 338.31 L170.3 338.71 L171.3 338.34 L172.3 337.65" stroke="#6e6e6e" stroke-width="0.55" fill="none" /><path d="M30.3 322.86 L31.3 323.25 L32.3 323.4 L33.3 322.57 L34.3 323.08 L35.3 323.41 L36.3 322.67 L37.3 323 L38.3 322.96 L39.3 322.84 L40.3 322.7 L41.3 322.4 L42.3 322.67 L43.3 322.04 L44.3 321.56 L45.3 321.29 L46.3 321.29 L47.3 321.22 L48.3 320.05 L49.3 319.45 L50.3 320.1 L51.3 320.8 L52.3 321.84 L53.3 322.59 L54.3 322.99 L55.3 323.14 L56.3 323.01 L57.3 323.36 L58.3 323.19 L59.3 322.38 L60.3 322.74 L61.3 323.53 L62.3 322.85 L63.3 322.79 L64.3 322.56 L65.3 322.35 L66.3 322.9 L67.3 322.85 L68.3 322.31 L69.3 322.21 L70.3 322.62 L71.3 322.75 L72.3 323.43 L73.3 323.8 L74.3 322.8 L75.3 322.24 L76.3 322.56 L77.3 322.61 L78.3 322.92 L79.3 322.93 L80.3 322.84 L81.3 322.41 L82.3 321.64 L83.3 320.8 L84.3 319.15 L85.3 317.97 L86.3 317.08 L87.3 316.67 L88.3 317.34 L89.3 318.16 L90.3 320.04 L91.3 322.15 L92.3 322.3 L93.3 321.99 L94.3 321.79 L95.3 321.97 L96.3 322.39 L97.3 322.92 L98.3 322.92 L99.3 322.37 L100.3 322.91 L101.3 323.37 L102.3 322.98 L103.3 322.51 L104.3 323.33 L105.3 323.26 L106.3 322.02 L107.3 321.77 L108.3 321.17 L109.3 319.9 L110.3 318.57 L111.3 316.02 L112.3 312.58 L113.3 309.79 L114.3 307.2 L115.3 305.49 L116.3 306.16 L117.3 307.78 L118.3 308.81 L119.3 308.83 L120.3 309.59 L121.3 311.15 L122.3 311.58 L123.3 311.36 L124.3 310.86 L125.3 310.01 L126.3 309.98 L127.3 312.35 L128.3 315 L129.3 316.98 L130.3 318.79 L131.3 320.15 L132.3 320.93 L133.3 321.29 L134.3 321.71 L135.3 321.94 L136.3 322.79 L137.3 323.48 L138.3 322.76 L139.3 322.5 L140.3 322.88 L141.3 323.63 L142.3 324.25 L143.3 323.37 L144.3 322.65 L145.3 322.98 L146.3 323.23 L147.3 323.7 L148.3 323.44 L149.3 322.54 L150.3 322.12 L151.3 322.44 L152.3 323.05 L153.3 323.43 L154.3 322.96 L155.3 322.04 L156.3 322.64 L157.3 323.11 L158.3 322.87 L159.3 323.16 L160.3 324.01 L161.3 323.94 L162.3 322.92 L163.3 323.27 L164.3 323.75 L165.3 324.35 L166.3 323.66 L167.3 322.41 L168.3 322.82 L169.3 323.07 L170.3 323.3 L171.3 323.24 L172.3 323.13" stroke="#6e6e6e" stroke-width="0.55" fill="none" /><path d="M30.3 308.48 L31.3 308.5 L32.3 308.37 L33.3 307.83 L34.3 308.37 L35.3 308.8 L36.3 308.52 L37.3 309 L38.3 309.59 L39.3 309 L40.3 308.52 L41.3 308.97 L42.3 308.42 L43.3 308.39 L44.3 308.25 L45.3 307.42 L46.3 306.49 L47.3 305.41 L48.3 305.47 L49.3 305.41 L50.3 305.51 L51.3 306.43 L52.3 307.18 L53.3 307.53 L54.3 308.24 L55.3 308.6 L56.3 307.88 L57.3 308.09 L58.3 307.81 L59.3 307.97 L60.3 308.58 L61.3 308.5 L62.3 308.78 L63.3 308.99 L64.3 308.97 L65.3 308.61 L66.3 308.7 L67.3 308.38 L68.3 307.59 L69.3 308.41 L70.3 308.64 L71.3 308.06 L72.3 308.26 L73.3 307.49 L74.3 307.16 L75.3 307.88 L76.3 308.23 L77.3 309.06 L78.3 308.82 L79.3 308.26 L80.3 308.25 L81.3 307.55 L82.3 306.57 L83.3 304.88 L84.3 303.61 L85.3 302.64 L86.3 302.23 L87.3 302.36 L88.3 302.59 L89.3 304.34 L90.3 305.19 L91.3 306.09 L92.3 308.05 L93.3 307.77 L94.3 306.88 L95.3 307.78 L96.3 308.73 L97.3 307.42 L98.3 307.14 L99.3 308.82 L100.3 309 L101.3 307.56 L102.3 307.04 L103.3 307.34 L104.3 307.01 L105.3 306.86 L106.3 307.17 L107.3 307.61 L108.3 306.83 L109.3 305.82 L110.3 304.66 L111.3 301.79 L112.3 299.26 L113.3 297.48 L114.3 295.83 L115.3 294.86 L116.3 294.55 L117.3 295.55 L118.3 296.37 L119.3 296.02 L120.3 296.33 L121.3 297.02 L122.3 296.25 L123.3 294.2 L124.3 291.21 L125.3 287.9 L126.3 287.95 L127.3 290.95 L128.3 294.46 L129.3 297.99 L130.3 301.31 L131.3 304.14 L132.3 306.26 L133.3 307.08 L134.3 306.95 L135.3 307.69 L136.3 308.57 L137.3 308.06 L138.3 308.43 L139.3 309.06 L140.3 308.71 L141.3 308.46 L142.3 308.43 L143.3 308.79 L144.3 308.59 L145.3 308.7 L146.3 309.39 L147.3 309.68 L148.3 308.83 L149.3 308.73 L150.3 308.84 L151.3 308.02 L152.3 307.9 L153.3 308.19 L154.3 308.65 L155.3 308.56 L156.3 308.57 L157.3 309.04 L158.3 308.41 L159.3 308.28 L160.3 308.09 L161.3 307.62 L162.3 308.38 L163.3 308.41 L164.3 307.83 L165.3 308.45 L166.3 309.18 L167.3 309.07 L168.3 308.7 L169.3 308.21 L170.3 308.25 L171.3 308.64 L172.3 308.83" stroke="#6e6e6e" stroke-width="0.55" fill="none" /><path d="M30.3 292.78 L31.3 292.39 L32.3 292.76 L33.3 293.61 L34.3 293.44 L35.3 292.88 L36.3 293.01 L37.3 292.5 L38.3 292.3 L39.3 293.25 L40.3 293.87 L41.3 293.03 L42.3 292.56 L43.3 292.59 L44.3 292.41 L45.3 292.57 L46.3 291.75 L47.3 290.14 L48.3 289.61 L49.3 290.46 L50.3 291.04 L51.3 291.47 L52.3 292.01 L53.3 292.04 L54.3 291.78 L55.3 292.24 L56.3 293.17 L57.3 293.25 L58.3 293.1 L59.3 293.28 L60.3 293.27 L61.3 293.12 L62.3 293.55 L63.3 293.35 L64.3 293.07 L65.3 293.61 L66.3 293.31 L67.3 293.13 L68.3 292.69 L69.3 292.35 L70.3 292.94 L71.3 293.37 L72.3 293.55 L73.3 292.98 L74.3 293.08 L75.3 293.11 L76.3 293.61 L77.3 293.79 L78.3 292.74 L79.3 292.6 L80.3 292.69 L81.3 292.04 L82.3 291.63 L83.3 291.29 L84.3 289.69 L85.3 287.7 L86.3 286.76 L87.3 287.09 L88.3 287.72 L89.3 288.59 L90.3 290.42 L91.3 292.7 L92.3 293.46 L93.3 293.51 L94.3 293.61 L95.3 293.61 L96.3 293.73 L97.3 293.14 L98.3 292.75 L99.3 292.85 L100.3 292.22 L101.3 292.27 L102.3 292.86 L103.3 292.11 L104.3 292.19 L105.3 293 L106.3 291.89 L107.3 290.86 L108.3 290.62 L109.3 289.79 L110.3 288.61 L111.3 287.53 L112.3 286.09 L113.3 284.52 L114.3 283.03 L115.3 281.91 L116.3 281.98 L117.3 281.93 L118.3 281.03 L119.3 282.02 L120.3 282.86 L121.3 281.49 L122.3 279.55 L123.3 276.97 L124.3 273.2 L125.3 270.11 L126.3 270.72 L127.3 273.38 L128.3 276.93 L129.3 280.68 L130.3 284.35 L131.3 286.96 L132.3 289.53 L133.3 291.43 L134.3 292.19 L135.3 292.52 L136.3 292.52 L137.3 293.11 L138.3 293.68 L139.3 293.78 L140.3 293.25 L141.3 292.47 L142.3 292.29 L143.3 293.23 L144.3 293.68 L145.3 293.25 L146.3 293.13 L147.3 293.13 L148.3 292.82 L149.3 292.78 L150.3 293.3 L151.3 294.06 L152.3 293.94 L153.3 293.86 L154.3 293.8 L155.3 293.11 L156.3 293.53 L157.3 293.7 L158.3 293.36 L159.3 292.65 L160.3 292.37 L161.3 293.71 L162.3 293.72 L163.3 292.92 L164.3 293.15 L165.3 293.43 L166.3 293.15 L167.3 292.79 L168.3 292.85 L169.3 293.44 L170.3 293.68 L171.3 293.88 L172.3 294.32" stroke="#6e6e6e" stroke-width="0.55" fill="none" /><path d="M30.3 278.01 L31.3 278.39 L32.3 278.34 L33.3 277.17 L34.3 276.87 L35.3 277.99 L36.3 278.88 L37.3 278.87 L38.3 278.63 L39.3 279.09 L40.3 278.36 L41.3 277.77 L42.3 277.81 L43.3 276.48 L44.3 276.25 L45.3 276.75 L46.3 276.05 L47.3 275.48 L48.3 275.36 L49.3 275.25 L50.3 274.95 L51.3 275.63 L52.3 277.17 L53.3 278.07 L54.3 278.32 L55.3 278.09 L56.3 277.67 L57.3 277.54 L58.3 277.31 L59.3 277.54 L60.3 277.66 L61.3 277.47 L62.3 277.51 L63.3 278.23 L64.3 278.05 L65.3 277.94 L66.3 278.73 L67.3 277.95 L68.3 277.7 L69.3 277.37 L70.3 277.18 L71.3 278.11 L72.3 278.11 L73.3 277.9 L74.3 277.43 L75.3 276.75 L76.3 277.02 L77.3 277.69 L78.3 277.87 L79.3 277.29 L80.3 277.38 L81.3 277.59 L82.3 276.32 L83.3 274.77 L84.3 273.87 L85.3 272.98 L86.3 272.73 L87.3 272.09 L88.3 272.05 L89.3 274.03 L90.3 275.65 L91.3 276.61 L92.3 276.5 L93.3 276.47 L94.3 277.75 L95.3 277.45 L96.3 276.57 L97.3 277.51 L98.3 278.79 L99.3 278.04 L100.3 277.25 L101.3 277.5 L102.3 277.33 L103.3 276.69 L104.3 275.81 L105.3 275.71 L106.3 275.97 L107.3 275.79 L108.3 275.05 L109.3 275 L110.3 273.87 L111.3 272.24 L112.3 271.13 L113.3 269.53 L114.3 268.15 L115.3 267.23 L116.3 266.56 L117.3 267 L118.3 268.14 L119.3 268.09 L120.3 267.83 L121.3 266.61 L122.3 264.39 L123.3 260.96 L124.3 256.16 L125.3 252.95 L126.3 253.26 L127.3 255.59 L128.3 259.19 L129.3 264.78 L130.3 269.33 L131.3 272.06 L132.3 274.61 L133.3 276.33 L134.3 277.03 L135.3 277.12 L136.3 277.27 L137.3 277.06 L138.3 276.89 L139.3 277.58 L140.3 278.19 L141.3 277.73 L142.3 277.71 L143.3 277.95 L144.3 277.56 L145.3 277.27 L146.3 277.26 L147.3 277.12 L148.3 277.44 L149.3 277.7 L150.3 277.77 L151.3 277.93 L152.3 277.67 L153.3 278.04 L154.3 278.95 L155.3 278.32 L156.3 277.33 L157.3 277.6 L158.3 277.96 L159.3 278.12 L160.3 277.73 L161.3 277.61 L162.3 277.38 L163.3 277.35 L164.3 278.01 L165.3 277.84 L166.3 277.78 L167.3 277.91 L168.3 278.31 L169.3 278.5 L170.3 277.71 L171.3 277.81 L172.3 278" stroke="#6e6e6e" stroke-width="0.55" fill="none" /><path d="M30.3 262.26 L31.3 262.22 L32.3 261.76 L33.3 261.88 L34.3 262.65 L35.3 262.61 L36.3 263.31 L37.3 263.84 L38.3 262.87 L39.3 262.4 L40.3 262.06 L41.3 261.94 L42.3 262.49 L43.3 261.92 L44.3 261.46 L45.3 260.74 L46.3 260.59 L47.3 260.34 L48.3 259.16 L49.3 259.02 L50.3 259.19 L51.3 259.66 L52.3 260.8 L53.3 261.99 L54.3 261.99 L55.3 261.94 L56.3 262.03 L57.3 261.55 L58.3 261.85 L59.3 262.73 L60.3 262.9 L61.3 262.24 L62.3 262.23 L63.3 262.08 L64.3 261.96 L65.3 262.37 L66.3 262.62 L67.3 262.71 L68.3 262.04 L69.3 262.14 L70.3 262.69 L71.3 262.86 L72.3 262.43 L73.3 262.72 L74.3 263.28 L75.3 262.34 L76.3 261.53 L77.3 261.96 L78.3 262.11 L79.3 262.71 L80.3 262.58 L81.3 261.28 L82.3 261.34 L83.3 261.11 L84.3 259.57 L85.3 257.55 L86.3 256.39 L87.3 256.29 L88.3 256.71 L89.3 257.58 L90.3 259.7 L91.3 261.26 L92.3 261.75 L93.3 261.71 L94.3 261.95 L95.3 262.05 L96.3 261.82 L97.3 261.25 L98.3 261.23 L99.3 262.04 L100.3 261.93 L101.3 261.71 L102.3 260.53 L103.3 260.55 L104.3 261.56 L105.3 261.12 L106.3 260.15 L107.3 260.02 L108.3 259.44 L109.3 258.09 L110.3 257.63 L111.3 257.01 L112.3 256.1 L113.3 254.95 L114.3 253.97 L115.3 252.75 L116.3 251.43 L117.3 251.79 L118.3 252.31 L119.3 252.81 L120.3 252.58 L121.3 250.51 L122.3 247.77 L123.3 244.08 L124.3 239.62 L125.3 236.75 L126.3 237.38 L127.3 239.37 L128.3 244.07 L129.3 249.84 L130.3 253.75 L131.3 257.08 L132.3 259.53 L133.3 260.87 L134.3 261.73 L135.3 262.15 L136.3 261.91 L137.3 262.03 L138.3 262.29 L139.3 262.72 L140.3 263.25 L141.3 263.02 L142.3 262.23 L143.3 261.98 L144.3 261.92 L145.3 261.68 L146.3 261.67 L147.3 262.37 L148.3 262.32 L149.3 261.72 L150.3 261.39 L151.3 261.46 L152.3 262.14 L153.3 262.42 L154.3 262.48 L155.3 263.07 L156.3 263.23 L157.3 262.6 L158.3 262.12 L159.3 262.36 L160.3 262.69 L161.3 261.73 L162.3 261.99 L163.3 262.37 L164.3 262.37 L165.3 262.74 L166.3 262.35 L167.3 261.97 L168.3 262.34 L169.3 263.08 L170.3 262.3 L171.3 261.83 L172.3 262.11" stroke="#6e6e6e" stroke-width="0.55" fill="none" /><rect x="30.3" y="217" width="142" height="141.3" fill="none" stroke="#444" stroke-width="1.4" /><line x1="44.2" y1="358.3" x2="44.2" y2="361.3" stroke="#444" stroke-width="0.8" /><text x="44.2" y="372.2" font-size="9.8" text-anchor="middle" fill="#222" >38</text><line x1="58.4" y1="358.3" x2="58.4" y2="360.1" stroke="#444" stroke-width="0.8" /><line x1="72.6" y1="358.3" x2="72.6" y2="361.3" stroke="#444" stroke-width="0.8" /><text x="72.6" y="372.2" font-size="9.8" text-anchor="middle" fill="#222" >40</text><line x1="86.8" y1="358.3" x2="86.8" y2="360.1" stroke="#444" stroke-width="0.8" /><line x1="101" y1="358.3" x2="101" y2="361.3" stroke="#444" stroke-width="0.8" /><text x="101" y="372.2" font-size="9.8" text-anchor="middle" fill="#222" >42</text><line x1="115.2" y1="358.3" x2="115.2" y2="360.1" stroke="#444" stroke-width="0.8" /><line x1="129.4" y1="358.3" x2="129.4" y2="361.3" stroke="#444" stroke-width="0.8" /><text x="129.4" y="372.2" font-size="9.8" text-anchor="middle" fill="#222" >44</text><line x1="143.6" y1="358.3" x2="143.6" y2="360.1" stroke="#444" stroke-width="0.8" /><line x1="157.8" y1="358.3" x2="157.8" y2="361.3" stroke="#444" stroke-width="0.8" /><text x="157.8" y="372.2" font-size="9.8" text-anchor="middle" fill="#222" >46</text><line x1="172" y1="358.3" x2="172" y2="360.1" stroke="#444" stroke-width="0.8" /><text x="25.5" y="355.2" font-size="10.3" text-anchor="end" fill="#222" >10</text><text x="25.5" y="340.5" font-size="10.3" text-anchor="end" fill="#222" >20</text><text x="25.5" y="325.8" font-size="10.3" text-anchor="end" fill="#222" >30</text><text x="25.5" y="311.1" font-size="10.3" text-anchor="end" fill="#222" >40</text><text x="25.5" y="296.4" font-size="10.3" text-anchor="end" fill="#222" >50</text><text x="25.5" y="281.7" font-size="10.3" text-anchor="end" fill="#222" >60</text><text x="25.5" y="267" font-size="10.3" text-anchor="end" fill="#222" >70</text><text x="0" y="0" font-size="11" text-anchor="middle" fill="#222" transform="translate(9.8 284.6) rotate(-90)" >Time / min</text><text x="97" y="384.2" font-size="12.3" text-anchor="middle" fill="#222" >2<tspan font-style="italic" font-family="Liberation Serif">&#952;</tspan> / Degree</text><rect x="42.1" y="207.9" width="117.8" height="4.7" fill="url(#cbd)" stroke="#666" stroke-width="0.7" /><text x="101" y="205.2" font-size="10.6" text-anchor="middle" fill="#222" >Intensity / a.u.</text><g clip-path="url(#cpe)"><rect x="205.3" y="259.72" width="3.2" height="92.89" fill="url(#ge_0)"/><rect x="207.3" y="259.93" width="3.2" height="92.25" fill="url(#ge_1)"/><rect x="209.3" y="260.29" width="3.2" height="92.3" fill="url(#ge_2)"/><rect x="211.3" y="259.53" width="3.2" height="92.81" fill="url(#ge_3)"/><rect x="213.3" y="260.55" width="3.2" height="91.21" fill="url(#ge_4)"/><rect x="215.3" y="260.28" width="3.2" height="91.25" fill="url(#ge_5)"/><rect x="217.3" y="259.65" width="3.2" height="91.67" fill="url(#ge_6)"/><rect x="219.3" y="260.1" width="3.2" height="91.99" fill="url(#ge_7)"/><rect x="221.3" y="260" width="3.2" height="92.26" fill="url(#ge_8)"/><rect x="223.3" y="260.23" width="3.2" height="90.87" fill="url(#ge_9)"/><rect x="225.3" y="260.48" width="3.2" height="90.88" fill="url(#ge_10)"/><rect x="227.3" y="259.92" width="3.2" height="92.23" fill="url(#ge_11)"/><rect x="229.3" y="260.35" width="3.2" height="91.9" fill="url(#ge_12)"/><rect x="231.3" y="260.91" width="3.2" height="90.07" fill="url(#ge_13)"/><rect x="233.3" y="260.52" width="3.2" height="91.01" fill="url(#ge_14)"/><rect x="235.3" y="260.11" width="3.2" height="91.54" fill="url(#ge_15)"/><rect x="237.3" y="260.39" width="3.2" height="92.61" fill="url(#ge_16)"/><rect x="239.3" y="260.75" width="3.2" height="91.73" fill="url(#ge_17)"/><rect x="241.3" y="259.48" width="3.2" height="92.32" fill="url(#ge_18)"/><rect x="243.3" y="260.36" width="3.2" height="91.52" fill="url(#ge_19)"/><rect x="245.3" y="260.46" width="3.2" height="91.09" fill="url(#ge_20)"/><rect x="247.3" y="260.35" width="3.2" height="91.93" fill="url(#ge_21)"/><rect x="249.3" y="260.31" width="3.2" height="91.64" fill="url(#ge_22)"/><rect x="251.3" y="261.12" width="3.2" height="90.65" fill="url(#ge_23)"/><rect x="253.3" y="260.92" width="3.2" height="89.95" fill="url(#ge_24)"/><rect x="255.3" y="260.3" width="3.2" height="89.38" fill="url(#ge_25)"/><rect x="257.3" y="259.58" width="3.2" height="88.12" fill="url(#ge_26)"/><rect x="259.3" y="259.39" width="3.2" height="86.1" fill="url(#ge_27)"/><rect x="261.3" y="259.29" width="3.2" height="89.39" fill="url(#ge_28)"/><rect x="263.3" y="260.65" width="3.2" height="90.39" fill="url(#ge_29)"/><rect x="265.3" y="259.88" width="3.2" height="91.8" fill="url(#ge_30)"/><rect x="267.3" y="260.14" width="3.2" height="92.61" fill="url(#ge_31)"/><rect x="269.3" y="260.53" width="3.2" height="92.12" fill="url(#ge_32)"/><rect x="271.3" y="260.61" width="3.2" height="90.61" fill="url(#ge_33)"/><rect x="273.3" y="259.81" width="3.2" height="92.6" fill="url(#ge_34)"/><rect x="275.3" y="259.39" width="3.2" height="91.88" fill="url(#ge_35)"/><rect x="277.3" y="260.19" width="3.2" height="91.73" fill="url(#ge_36)"/><rect x="279.3" y="260.29" width="3.2" height="91.13" fill="url(#ge_37)"/><rect x="281.3" y="260.58" width="3.2" height="92.13" fill="url(#ge_38)"/><rect x="283.3" y="260.62" width="3.2" height="89.4" fill="url(#ge_39)"/><rect x="285.3" y="259.25" width="3.2" height="82.55" fill="url(#ge_40)"/><rect x="287.3" y="259.55" width="3.2" height="72.28" fill="url(#ge_41)"/><rect x="289.3" y="259.64" width="3.2" height="67.91" fill="url(#ge_42)"/><rect x="291.3" y="258.71" width="3.2" height="73.09" fill="url(#ge_43)"/><rect x="293.3" y="259.01" width="3.2" height="78.33" fill="url(#ge_44)"/><rect x="295.3" y="258.2" width="3.2" height="85.26" fill="url(#ge_45)"/><rect x="297.3" y="257.25" width="3.2" height="90.94" fill="url(#ge_46)"/><rect x="299.3" y="256.05" width="3.2" height="94.6" fill="url(#ge_47)"/><rect x="301.3" y="255.83" width="3.2" height="94.88" fill="url(#ge_48)"/><rect x="303.3" y="255.68" width="3.2" height="95.44" fill="url(#ge_49)"/><rect x="305.3" y="251.76" width="3.2" height="100.29" fill="url(#ge_50)"/><rect x="307.3" y="244.33" width="3.2" height="107.3" fill="url(#ge_51)"/><rect x="309.3" y="228.43" width="3.2" height="123.54" fill="url(#ge_52)"/><rect x="311.3" y="232.07" width="3.2" height="119.61" fill="url(#ge_53)"/><rect x="313.3" y="245.57" width="3.2" height="107.02" fill="url(#ge_54)"/><rect x="315.3" y="255.22" width="3.2" height="96.42" fill="url(#ge_55)"/><rect x="317.3" y="257.44" width="3.2" height="94.55" fill="url(#ge_56)"/><rect x="319.3" y="259.62" width="3.2" height="92.49" fill="url(#ge_57)"/><rect x="321.3" y="259.91" width="3.2" height="92.17" fill="url(#ge_58)"/><rect x="323.3" y="258.62" width="3.2" height="93" fill="url(#ge_59)"/><rect x="325.3" y="260.04" width="3.2" height="92.09" fill="url(#ge_60)"/><rect x="327.3" y="260.36" width="3.2" height="91.97" fill="url(#ge_61)"/><rect x="329.3" y="259.74" width="3.2" height="91.96" fill="url(#ge_62)"/><rect x="331.3" y="260.43" width="3.2" height="91.6" fill="url(#ge_63)"/><rect x="333.3" y="261.36" width="3.2" height="90.75" fill="url(#ge_64)"/><rect x="335.3" y="259.74" width="3.2" height="92.45" fill="url(#ge_65)"/><rect x="337.3" y="261.03" width="3.2" height="90.64" fill="url(#ge_66)"/><rect x="339.3" y="260.14" width="3.2" height="91.32" fill="url(#ge_67)"/><rect x="341.3" y="259.83" width="3.2" height="92.28" fill="url(#ge_68)"/><rect x="343.3" y="260.07" width="3.2" height="91.86" fill="url(#ge_69)"/><rect x="345.3" y="259.55" width="3.2" height="92.72" fill="url(#ge_70)"/><rect x="347.3" y="259.8" width="2.2" height="91.71" fill="url(#ge_71)"/></g><path d="M205.3 350.61 L206.3 350.94 L207.3 350.18 L208.3 350.31 L209.3 350.59 L210.3 350.71 L211.3 350.34 L212.3 349.68 L213.3 349.76 L214.3 349.35 L215.3 349.53 L216.3 350.12 L217.3 349.32 L218.3 349.66 L219.3 350.09 L220.3 350.1 L221.3 350.26 L222.3 349.11 L223.3 349.1 L224.3 350.07 L225.3 349.36 L226.3 349.28 L227.3 350.15 L228.3 349.87 L229.3 350.25 L230.3 349.98 L231.3 348.98 L232.3 349.1 L233.3 349.53 L234.3 349.84 L235.3 349.65 L236.3 350.66 L237.3 351 L238.3 349.86 L239.3 350.48 L240.3 350.42 L241.3 349.8 L242.3 349.95 L243.3 349.88 L244.3 349.67 L245.3 349.55 L246.3 350.09 L247.3 350.29 L248.3 350 L249.3 349.95 L250.3 350.09 L251.3 349.77 L252.3 349.12 L253.3 348.87 L254.3 348.4 L255.3 347.68 L256.3 347 L257.3 345.7 L258.3 344.06 L259.3 343.49 L260.3 344.8 L261.3 346.68 L262.3 347.7 L263.3 349.04 L264.3 349.6 L265.3 349.68 L266.3 350.45 L267.3 350.75 L268.3 350.43 L269.3 350.65 L270.3 350.37 L271.3 349.22 L272.3 349.78 L273.3 350.4 L274.3 349.49 L275.3 349.26 L276.3 349.72 L277.3 349.92 L278.3 349.64 L279.3 349.42 L280.3 350.04 L281.3 350.71 L282.3 350.57 L283.3 348.02 L284.3 344.4 L285.3 339.8 L286.3 334.13 L287.3 329.84 L288.3 326.67 L289.3 325.55 L290.3 327.1 L291.3 329.81 L292.3 331.75 L293.3 335.35 L294.3 339.48 L295.3 341.46 L296.3 343.5 L297.3 346.19 L298.3 348.19 L299.3 348.66 L300.3 348.42 L301.3 348.71 L302.3 349.22 L303.3 349.13 L304.3 349.23 L305.3 350.05 L306.3 349.48 L307.3 349.63 L308.3 350.36 L309.3 349.97 L310.3 349.44 L311.3 349.68 L312.3 350.25 L313.3 350.59 L314.3 350.39 L315.3 349.64 L316.3 349.53 L317.3 349.99 L318.3 350.13 L319.3 350.12 L320.3 350.36 L321.3 350.09 L322.3 349.49 L323.3 349.61 L324.3 349.99 L325.3 350.13 L326.3 350.38 L327.3 350.33 L328.3 350.19 L329.3 349.7 L330.3 350.02 L331.3 350.03 L332.3 349.98 L333.3 350.11 L334.3 349.98 L335.3 350.19 L336.3 350.14 L337.3 349.67 L338.3 349.45 L339.3 349.46 L340.3 349.67 L341.3 350.12 L342.3 349.45 L343.3 349.93 L344.3 350.76 L345.3 350.27 L346.3 349.36 L347.3 349.51" stroke="#6e6e6e" stroke-width="0.55" fill="none" /><path d="M205.3 335.94 L206.3 335.41 L207.3 335.76 L208.3 336.36 L209.3 335.71 L210.3 335.84 L211.3 336.76 L212.3 336.29 L213.3 336.11 L214.3 335.95 L215.3 335.6 L216.3 336.63 L217.3 336.72 L218.3 336.12 L219.3 336.44 L220.3 336.07 L221.3 336.44 L222.3 337.24 L223.3 336.81 L224.3 336.12 L225.3 336.47 L226.3 336.96 L227.3 336.68 L228.3 336.97 L229.3 336.86 L230.3 336.74 L231.3 336.77 L232.3 336.28 L233.3 336.44 L234.3 336.83 L235.3 336.86 L236.3 336.85 L237.3 337.05 L238.3 337.16 L239.3 336.59 L240.3 336.49 L241.3 335.42 L242.3 335.4 L243.3 336.35 L244.3 336.58 L245.3 336.83 L246.3 336.51 L247.3 336.44 L248.3 335.8 L249.3 335.83 L250.3 336.69 L251.3 336.59 L252.3 336.5 L253.3 336.51 L254.3 335.4 L255.3 334.36 L256.3 333.17 L257.3 331.45 L258.3 330.33 L259.3 330.87 L260.3 332.32 L261.3 333.85 L262.3 334.94 L263.3 335.22 L264.3 335.6 L265.3 336.29 L266.3 335.84 L267.3 335.09 L268.3 335.79 L269.3 336.21 L270.3 335.92 L271.3 335.95 L272.3 336.2 L273.3 336.07 L274.3 336.03 L275.3 336.13 L276.3 336.68 L277.3 337.29 L278.3 336.15 L279.3 336.1 L280.3 336.46 L281.3 335.62 L282.3 335.16 L283.3 334.28 L284.3 331.73 L285.3 327.86 L286.3 323.91 L287.3 320.28 L288.3 317.61 L289.3 317.1 L290.3 318.38 L291.3 319.79 L292.3 321.46 L293.3 323.89 L294.3 326.64 L295.3 329.37 L296.3 331.03 L297.3 332.27 L298.3 333.05 L299.3 333.94 L300.3 335.57 L301.3 335.76 L302.3 334.85 L303.3 335.18 L304.3 336.02 L305.3 336.14 L306.3 334.91 L307.3 333.78 L308.3 333.19 L309.3 331.92 L310.3 332.09 L311.3 332.86 L312.3 333.85 L313.3 334.9 L314.3 335.15 L315.3 335.29 L316.3 335.85 L317.3 335.99 L318.3 336.01 L319.3 336.86 L320.3 336.53 L321.3 336.04 L322.3 336.2 L323.3 337.01 L324.3 336.98 L325.3 336 L326.3 335.99 L327.3 335.72 L328.3 335.92 L329.3 335.55 L330.3 335.17 L331.3 335.72 L332.3 336.81 L333.3 337.66 L334.3 336.3 L335.3 335.5 L336.3 335.69 L337.3 335.95 L338.3 336.31 L339.3 335.98 L340.3 336.2 L341.3 335.95 L342.3 336.06 L343.3 336.43 L344.3 336.14 L345.3 336.09 L346.3 335.58 L347.3 336.07" stroke="#6e6e6e" stroke-width="0.55" fill="none" /><path d="M205.3 321.56 L206.3 321.45 L207.3 321.29 L208.3 321.34 L209.3 321.9 L210.3 321.68 L211.3 320.92 L212.3 320.78 L213.3 321.27 L214.3 321.44 L215.3 322.14 L216.3 322.54 L217.3 322.01 L218.3 322 L219.3 322.19 L220.3 321.99 L221.3 321.53 L222.3 320.7 L223.3 321.16 L224.3 322.35 L225.3 321.64 L226.3 321.2 L227.3 321.98 L228.3 321.41 L229.3 321.13 L230.3 321.9 L231.3 322.07 L232.3 322.32 L233.3 322.02 L234.3 322.04 L235.3 321.06 L236.3 320.52 L237.3 321.65 L238.3 322.11 L239.3 321.91 L240.3 321.17 L241.3 321.18 L242.3 322.07 L243.3 322.27 L244.3 322.51 L245.3 321.82 L246.3 320.83 L247.3 321.34 L248.3 321.5 L249.3 321.82 L250.3 322.01 L251.3 321.37 L252.3 321.32 L253.3 321.42 L254.3 321.11 L255.3 320.69 L256.3 319.52 L257.3 317.64 L258.3 316.64 L259.3 316.66 L260.3 317.94 L261.3 320.02 L262.3 321.24 L263.3 321.3 L264.3 321.39 L265.3 321.3 L266.3 321.61 L267.3 321.96 L268.3 322.02 L269.3 321.71 L270.3 321.52 L271.3 321.8 L272.3 321.79 L273.3 322.3 L274.3 321.91 L275.3 322.31 L276.3 322.91 L277.3 321.56 L278.3 321.41 L279.3 321.68 L280.3 321.64 L281.3 322.5 L282.3 321.89 L283.3 319.9 L284.3 317.98 L285.3 315.75 L286.3 311.99 L287.3 308.93 L288.3 306.94 L289.3 306.3 L290.3 307.72 L291.3 308.78 L292.3 309.62 L293.3 312.06 L294.3 314.42 L295.3 316.21 L296.3 318.21 L297.3 318.92 L298.3 319.71 L299.3 320.38 L300.3 320.52 L301.3 321.34 L302.3 320.94 L303.3 320.42 L304.3 319.8 L305.3 319.58 L306.3 319.44 L307.3 317.8 L308.3 315.9 L309.3 313.71 L310.3 312.67 L311.3 313.91 L312.3 316.66 L313.3 318.55 L314.3 319.52 L315.3 320.79 L316.3 321.94 L317.3 321.62 L318.3 320.6 L319.3 320.91 L320.3 321.27 L321.3 320.71 L322.3 320.12 L323.3 320.78 L324.3 322.78 L325.3 322.59 L326.3 321.34 L327.3 321.36 L328.3 321.64 L329.3 322.34 L330.3 321.92 L331.3 321.63 L332.3 321.8 L333.3 321.5 L334.3 321.5 L335.3 322.27 L336.3 322.08 L337.3 321.69 L338.3 322.01 L339.3 321.64 L340.3 322.16 L341.3 322.44 L342.3 322.6 L343.3 322.73 L344.3 321.83 L345.3 321.66 L346.3 321.92 L347.3 321.63" stroke="#6e6e6e" stroke-width="0.55" fill="none" /><path d="M205.3 307.42 L206.3 307.93 L207.3 307.45 L208.3 306.87 L209.3 306.96 L210.3 307.17 L211.3 307.57 L212.3 307.68 L213.3 308.17 L214.3 308.08 L215.3 307.66 L216.3 306.99 L217.3 307.42 L218.3 307.93 L219.3 307.37 L220.3 307.41 L221.3 307.4 L222.3 307.31 L223.3 306.98 L224.3 307.6 L225.3 307.61 L226.3 307.16 L227.3 307.76 L228.3 308.28 L229.3 308.56 L230.3 307.98 L231.3 307.75 L232.3 308.09 L233.3 307.89 L234.3 307.52 L235.3 307.51 L236.3 307.89 L237.3 307.94 L238.3 307.62 L239.3 307.76 L240.3 307.41 L241.3 306.65 L242.3 306.52 L243.3 307.04 L244.3 307.57 L245.3 307.76 L246.3 307.2 L247.3 307.05 L248.3 306.79 L249.3 307.3 L250.3 307.93 L251.3 307.1 L252.3 307.16 L253.3 307.09 L254.3 306.28 L255.3 306.03 L256.3 305.51 L257.3 304.4 L258.3 304.08 L259.3 304.17 L260.3 304.35 L261.3 305.15 L262.3 306.88 L263.3 307.42 L264.3 306.95 L265.3 306.95 L266.3 306.79 L267.3 307.42 L268.3 308.1 L269.3 307.97 L270.3 307.61 L271.3 306.84 L272.3 307.03 L273.3 307.34 L274.3 306.91 L275.3 307.17 L276.3 307.19 L277.3 307.07 L278.3 306.76 L279.3 306.25 L280.3 306.93 L281.3 307.44 L282.3 306.39 L283.3 305.83 L284.3 304.81 L285.3 302.75 L286.3 301.11 L287.3 298.1 L288.3 296.13 L289.3 296.85 L290.3 297.5 L291.3 298.26 L292.3 299.64 L293.3 300.71 L294.3 301.29 L295.3 302.84 L296.3 303.93 L297.3 304.6 L298.3 305.21 L299.3 305.43 L300.3 305.91 L301.3 305.62 L302.3 304.74 L303.3 304.07 L304.3 304.1 L305.3 303.69 L306.3 301.81 L307.3 297.53 L308.3 293.17 L309.3 290.66 L310.3 290.33 L311.3 292.46 L312.3 295.72 L313.3 299.25 L314.3 303.26 L315.3 304.7 L316.3 304.86 L317.3 306.15 L318.3 305.74 L319.3 306.42 L320.3 307.85 L321.3 307.09 L322.3 306.76 L323.3 306.9 L324.3 306.54 L325.3 306.26 L326.3 306.46 L327.3 307.28 L328.3 308.05 L329.3 307.8 L330.3 307.83 L331.3 307.86 L332.3 307.55 L333.3 307.44 L334.3 306.95 L335.3 307.09 L336.3 307.77 L337.3 307.71 L338.3 307.49 L339.3 307.44 L340.3 307.35 L341.3 306.69 L342.3 306.72 L343.3 308.12 L344.3 308.24 L345.3 307.58 L346.3 306.37 L347.3 305.94" stroke="#6e6e6e" stroke-width="0.55" fill="none" /><path d="M205.3 293.01 L206.3 293.01 L207.3 293.22 L208.3 293.73 L209.3 292.99 L210.3 292.34 L211.3 292.93 L212.3 293.32 L213.3 292.91 L214.3 292.43 L215.3 292.85 L216.3 293.68 L217.3 293.09 L218.3 292.75 L219.3 293.7 L220.3 293.51 L221.3 292.8 L222.3 292.4 L223.3 292.63 L224.3 292.86 L225.3 293.15 L226.3 293.09 L227.3 293.18 L228.3 293.13 L229.3 292.54 L230.3 293.28 L231.3 293.55 L232.3 292.45 L233.3 292.6 L234.3 293.75 L235.3 293.48 L236.3 292.85 L237.3 292.47 L238.3 292.58 L239.3 293.02 L240.3 293.05 L241.3 292.62 L242.3 292.6 L243.3 292.68 L244.3 293.23 L245.3 293.55 L246.3 292.96 L247.3 292.48 L248.3 292.29 L249.3 292.57 L250.3 292.36 L251.3 292.37 L252.3 291.65 L253.3 291.99 L254.3 292.92 L255.3 291.62 L256.3 290.72 L257.3 290.32 L258.3 289.49 L259.3 289.68 L260.3 290.63 L261.3 291.34 L262.3 291.46 L263.3 291.8 L264.3 291.91 L265.3 292.07 L266.3 292.71 L267.3 293.29 L268.3 293.17 L269.3 293.26 L270.3 293.25 L271.3 292.22 L272.3 292.31 L273.3 293.02 L274.3 293.26 L275.3 293.81 L276.3 293.96 L277.3 292.96 L278.3 292.71 L279.3 292.91 L280.3 292.44 L281.3 292.13 L282.3 292.44 L283.3 292.16 L284.3 291.93 L285.3 291.13 L286.3 290.28 L287.3 290.04 L288.3 288.74 L289.3 287.32 L290.3 287.72 L291.3 288.22 L292.3 288.87 L293.3 289.48 L294.3 289.3 L295.3 289.64 L296.3 290.36 L297.3 290.25 L298.3 289.45 L299.3 289.29 L300.3 288.5 L301.3 288.52 L302.3 288.92 L303.3 288.01 L304.3 287.99 L305.3 287.53 L306.3 284.06 L307.3 279.12 L308.3 273.58 L309.3 268.28 L310.3 267.62 L311.3 270.79 L312.3 275.98 L313.3 281.85 L314.3 286.85 L315.3 289.43 L316.3 290.06 L317.3 291.07 L318.3 291.9 L319.3 292.09 L320.3 291.6 L321.3 291.56 L322.3 292.45 L323.3 292.77 L324.3 292.68 L325.3 292.62 L326.3 292.84 L327.3 292.53 L328.3 292.54 L329.3 293.4 L330.3 293.02 L331.3 292.1 L332.3 292.8 L333.3 293.35 L334.3 292.55 L335.3 291.64 L336.3 292.38 L337.3 292.92 L338.3 292.65 L339.3 293.16 L340.3 292.57 L341.3 292.44 L342.3 293.24 L343.3 293.34 L344.3 293 L345.3 292.86 L346.3 293.05 L347.3 293.36" stroke="#6e6e6e" stroke-width="0.55" fill="none" /><path d="M205.3 277.63 L206.3 277.62 L207.3 277.55 L208.3 277.4 L209.3 277.09 L210.3 277.13 L211.3 277.63 L212.3 278.35 L213.3 278.44 L214.3 278.11 L215.3 277.87 L216.3 277.27 L217.3 277.2 L218.3 277.92 L219.3 278.4 L220.3 278.09 L221.3 277.68 L222.3 278.05 L223.3 278.59 L224.3 278.31 L225.3 277.54 L226.3 277.32 L227.3 278.03 L228.3 278.28 L229.3 277.8 L230.3 278 L231.3 277.96 L232.3 277.84 L233.3 277.45 L234.3 277.46 L235.3 277.19 L236.3 276.55 L237.3 277.01 L238.3 277.29 L239.3 276.89 L240.3 277.13 L241.3 277.5 L242.3 277.45 L243.3 277.02 L244.3 277.04 L245.3 277.72 L246.3 278.62 L247.3 278.43 L248.3 277.55 L249.3 277.43 L250.3 277.86 L251.3 278.41 L252.3 277.34 L253.3 277.28 L254.3 277.62 L255.3 276.75 L256.3 276.35 L257.3 276.05 L258.3 275.12 L259.3 275.29 L260.3 275.97 L261.3 276.49 L262.3 277.64 L263.3 277.78 L264.3 276.94 L265.3 277.05 L266.3 277.84 L267.3 277.85 L268.3 277.77 L269.3 277.49 L270.3 277.69 L271.3 277.54 L272.3 277 L273.3 276.87 L274.3 277.21 L275.3 277.31 L276.3 277.52 L277.3 277.65 L278.3 277.35 L279.3 278 L280.3 277.6 L281.3 276.59 L282.3 276.14 L283.3 276.38 L284.3 276.9 L285.3 276.11 L286.3 275.88 L287.3 275.9 L288.3 275.76 L289.3 275.63 L290.3 274.93 L291.3 275.16 L292.3 274.9 L293.3 274.82 L294.3 275.03 L295.3 274.7 L296.3 274.78 L297.3 275.74 L298.3 275.55 L299.3 274.14 L300.3 273.98 L301.3 273.6 L302.3 273.36 L303.3 272.68 L304.3 271.18 L305.3 269.8 L306.3 266.97 L307.3 261.15 L308.3 253.77 L309.3 247.98 L310.3 246.27 L311.3 250 L312.3 256.8 L313.3 263.45 L314.3 268.43 L315.3 272.23 L316.3 274.86 L317.3 275.94 L318.3 276.98 L319.3 277.05 L320.3 277.51 L321.3 278.11 L322.3 276.99 L323.3 276.79 L324.3 278.24 L325.3 278.69 L326.3 277.22 L327.3 276.97 L328.3 276.91 L329.3 277.03 L330.3 278.68 L331.3 278.37 L332.3 277.52 L333.3 277.52 L334.3 277.83 L335.3 278.35 L336.3 278.18 L337.3 278.17 L338.3 277.62 L339.3 276.79 L340.3 277.2 L341.3 277.26 L342.3 277.45 L343.3 277.93 L344.3 278.3 L345.3 277.7 L346.3 277.26 L347.3 277.26" stroke="#6e6e6e" stroke-width="0.55" fill="none" /><path d="M205.3 261.72 L206.3 261.53 L207.3 261.93 L208.3 262.54 L209.3 262.29 L210.3 261.63 L211.3 261.53 L212.3 261.63 L213.3 262.55 L214.3 263.14 L215.3 262.28 L216.3 261.18 L217.3 261.65 L218.3 262.33 L219.3 262.1 L220.3 261.99 L221.3 262 L222.3 262.19 L223.3 262.23 L224.3 262.35 L225.3 262.48 L226.3 261.99 L227.3 261.92 L228.3 262.44 L229.3 262.35 L230.3 262.54 L231.3 262.91 L232.3 262.89 L233.3 262.52 L234.3 261.85 L235.3 262.11 L236.3 262.72 L237.3 262.39 L238.3 261.94 L239.3 262.75 L240.3 262.46 L241.3 261.48 L242.3 261.96 L243.3 262.36 L244.3 262.3 L245.3 262.46 L246.3 262.25 L247.3 262.35 L248.3 262.65 L249.3 262.31 L250.3 262.86 L251.3 263.12 L252.3 262.95 L253.3 262.92 L254.3 262.57 L255.3 262.3 L256.3 261.71 L257.3 261.58 L258.3 261.15 L259.3 261.39 L260.3 261.47 L261.3 261.29 L262.3 261.72 L263.3 262.65 L264.3 262.5 L265.3 261.88 L266.3 262.3 L267.3 262.14 L268.3 262.3 L269.3 262.53 L270.3 263.29 L271.3 262.61 L272.3 261.08 L273.3 261.81 L274.3 262.01 L275.3 261.39 L276.3 261.77 L277.3 262.19 L278.3 262.09 L279.3 262.29 L280.3 262.64 L281.3 262.58 L282.3 262.7 L283.3 262.62 L284.3 261.95 L285.3 261.25 L286.3 261.54 L287.3 261.55 L288.3 261.1 L289.3 261.64 L290.3 261.04 L291.3 260.71 L292.3 260.63 L293.3 261.01 L294.3 261.62 L295.3 260.2 L296.3 259.46 L297.3 259.25 L298.3 259.07 L299.3 258.05 L300.3 257.58 L301.3 257.83 L302.3 257.7 L303.3 257.68 L304.3 256.14 L305.3 253.76 L306.3 251.65 L307.3 246.33 L308.3 237.14 L309.3 230.43 L310.3 229.43 L311.3 234.07 L312.3 241.15 L313.3 247.57 L314.3 253.29 L315.3 257.22 L316.3 259.31 L317.3 259.44 L318.3 260.48 L319.3 261.62 L320.3 261.61 L321.3 261.91 L322.3 261.24 L323.3 260.62 L324.3 261.56 L325.3 262.04 L326.3 262.25 L327.3 262.36 L328.3 262.2 L329.3 261.74 L330.3 261.42 L331.3 262.43 L332.3 263.33 L333.3 263.36 L334.3 261.8 L335.3 261.74 L336.3 263.15 L337.3 263.03 L338.3 262.66 L339.3 262.14 L340.3 262.25 L341.3 261.83 L342.3 261.52 L343.3 262.07 L344.3 261.5 L345.3 261.55 L346.3 261.99 L347.3 261.8" stroke="#6e6e6e" stroke-width="0.55" fill="none" /><rect x="205.3" y="217" width="142" height="141.3" fill="none" stroke="#444" stroke-width="1.4" /><line x1="219.2" y1="358.3" x2="219.2" y2="361.3" stroke="#444" stroke-width="0.8" /><text x="219.2" y="372.2" font-size="9.8" text-anchor="middle" fill="#222" >38</text><line x1="233.4" y1="358.3" x2="233.4" y2="360.1" stroke="#444" stroke-width="0.8" /><line x1="247.6" y1="358.3" x2="247.6" y2="361.3" stroke="#444" stroke-width="0.8" /><text x="247.6" y="372.2" font-size="9.8" text-anchor="middle" fill="#222" >40</text><line x1="261.8" y1="358.3" x2="261.8" y2="360.1" stroke="#444" stroke-width="0.8" /><line x1="276" y1="358.3" x2="276" y2="361.3" stroke="#444" stroke-width="0.8" /><text x="276" y="372.2" font-size="9.8" text-anchor="middle" fill="#222" >42</text><line x1="290.2" y1="358.3" x2="290.2" y2="360.1" stroke="#444" stroke-width="0.8" /><line x1="304.4" y1="358.3" x2="304.4" y2="361.3" stroke="#444" stroke-width="0.8" /><text x="304.4" y="372.2" font-size="9.8" text-anchor="middle" fill="#222" >44</text><line x1="318.6" y1="358.3" x2="318.6" y2="360.1" stroke="#444" stroke-width="0.8" /><line x1="332.8" y1="358.3" x2="332.8" y2="361.3" stroke="#444" stroke-width="0.8" /><text x="332.8" y="372.2" font-size="9.8" text-anchor="middle" fill="#222" >46</text><line x1="347" y1="358.3" x2="347" y2="360.1" stroke="#444" stroke-width="0.8" /><text x="200.5" y="355.2" font-size="10.3" text-anchor="end" fill="#222" >10</text><text x="200.5" y="340.5" font-size="10.3" text-anchor="end" fill="#222" >20</text><text x="200.5" y="325.8" font-size="10.3" text-anchor="end" fill="#222" >30</text><text x="200.5" y="311.1" font-size="10.3" text-anchor="end" fill="#222" >40</text><text x="200.5" y="296.4" font-size="10.3" text-anchor="end" fill="#222" >50</text><text x="200.5" y="281.7" font-size="10.3" text-anchor="end" fill="#222" >60</text><text x="200.5" y="267" font-size="10.3" text-anchor="end" fill="#222" >70</text><text x="0" y="0" font-size="11" text-anchor="middle" fill="#222" transform="translate(184.8 284.6) rotate(-90)" >Time / min</text><text x="272" y="384.2" font-size="12.3" text-anchor="middle" fill="#222" >2<tspan font-style="italic" font-family="Liberation Serif">&#952;</tspan> / Degree</text><rect x="217.1" y="207.9" width="117.8" height="4.7" fill="url(#cbe)" stroke="#666" stroke-width="0.7" /><text x="276" y="205.2" font-size="10.6" text-anchor="middle" fill="#222" >Intensity / a.u.</text><text x="6.9" y="221.5" font-size="13" text-anchor="start" fill="#222" >d</text><text x="34.7" y="228.4" font-size="9.6" text-anchor="start" fill="#222" >K-Fe<tspan font-size="72%" dy="2">2</tspan><tspan dy="-2">&#8203;</tspan>N@C</text><text x="34.7" y="241.8" font-size="7.3" text-anchor="start" fill="#222" >25% CO<tspan font-size="72%" dy="1.8">2</tspan><tspan dy="-1.8">&#8203;</tspan>/H<tspan font-size="72%" dy="1.8">2</tspan><tspan dy="-1.8">&#8203;</tspan></text><text x="93.1" y="227" font-size="7.2" text-anchor="start" fill="#222" >Fe<tspan font-size="72%" dy="1.5">2</tspan><tspan dy="-1.5">&#8203;</tspan>N</text><line x1="112.2" y1="224.4" x2="130" y2="224.4" stroke="#333" stroke-width="0.6" /><path d="M131.5 224.4 L127.5 222.8 L127.5 226 Z" fill="#333"/><text x="133.8" y="227" font-size="7.2" text-anchor="start" fill="#222" >Fe<tspan font-size="72%" dy="1.5">2</tspan><tspan dy="-1.5">&#8203;</tspan>C</text><text x="116.9" y="234" font-size="7.2" text-anchor="start" fill="#222" >K<tspan font-size="70%" dy="-2.5">+</tspan><tspan dy="2.5">&#8203;</tspan></text><text x="183.5" y="221.3" font-size="13" text-anchor="start" fill="#222" >e</text><text x="209.8" y="229.2" font-size="9.6" text-anchor="start" fill="#222" >Fe<tspan font-size="72%" dy="2">2</tspan><tspan dy="-2">&#8203;</tspan>N@C</text><text x="209.8" y="241.6" font-size="7.3" text-anchor="start" fill="#222" >25% CO<tspan font-size="72%" dy="1.8">2</tspan><tspan dy="-1.8">&#8203;</tspan>/H<tspan font-size="72%" dy="1.8">2</tspan><tspan dy="-1.8">&#8203;</tspan></text><text x="268.1" y="226.7" font-size="7.2" text-anchor="start" fill="#222" >Fe<tspan font-size="72%" dy="1.5">2</tspan><tspan dy="-1.5">&#8203;</tspan>N</text><line x1="287.2" y1="224.3" x2="304.5" y2="224.3" stroke="#333" stroke-width="0.6" /><path d="M306 224.3 L302 222.7 L302 225.9 Z" fill="#333"/><text x="308.5" y="226.7" font-size="7.2" text-anchor="start" fill="#222" >Fe<tspan font-size="72%" dy="1.5">5</tspan><tspan dy="-1.5">&#8203;</tspan>C<tspan font-size="72%" dy="1.5">2</tspan><tspan dy="-1.5">&#8203;</tspan> + Fe</text><path d="M371.4 236.6 L371.7 226.49 L372 233.03 L372.3 227.67 L372.6 227.93 L372.9 228.45 L373.2 227.69 L373.5 231.63 L373.8 230.24 L374.1 239.46 L374.4 229.45 L374.7 228.18 L375 228.34 L375.3 230.69 L375.6 229.85 L375.9 231.31 L376.2 230.04 L376.5 228.45 L376.8 231.09 L377.1 231.75 L377.4 232.25 L377.7 235.6 L378 230.2 L378.3 227.89 L378.6 228.61 L378.9 233.4 L379.2 236.48 L379.5 231.63 L379.8 231.69 L380.1 231.24 L380.4 227.09 L380.7 228.4 L381 234.19 L381.3 233.53 L381.6 232.45 L381.9 230.53 L382.2 222.84 L382.5 231.31 L382.8 230.16 L383.1 228.6 L383.4 232.89 L383.7 230.63 L384 228.11 L384.3 226.72 L384.6 229.15 L384.9 232.19 L385.2 235.4 L385.5 233.95 L385.8 229.54 L386.1 231.56 L386.4 228.67 L386.7 230.29 L387 233.62 L387.3 233.62 L387.6 228.67 L387.9 227.42 L388.2 229.65 L388.5 226.87 L388.8 233.88 L389.1 233.44 L389.4 225.56 L389.7 229.31 L390 227.05 L390.3 230.85 L390.6 227.91 L390.9 230.38 L391.2 233.95 L391.5 231.74 L391.8 224.45 L392.1 228.11 L392.4 233.13 L392.7 231.07 L393 235.92 L393.3 226.6 L393.6 230.01 L393.9 226.93 L394.2 235.53 L394.5 232.39 L394.8 231.63 L395.1 225.47 L395.4 232.95 L395.7 230.91 L396 230.92 L396.3 234.97 L396.6 233.24 L396.9 231.07 L397.2 227.52 L397.5 227.52 L397.8 232.3 L398.1 229.28 L398.4 231.19 L398.7 231.79 L399 229.8 L399.3 230.58 L399.6 226.57 L399.9 228.71 L400.2 232.51 L400.5 235.2 L400.8 231 L401.1 229.81 L401.4 228.64 L401.7 229.99 L402 232.01 L402.3 234.35 L402.6 230.81 L402.9 229.66 L403.2 229.12 L403.5 230.57 L403.8 233.07 L404.1 238.19 L404.4 235.88 L404.7 232.68 L405 224.91 L405.3 228.65 L405.6 231.26 L405.9 233.78 L406.2 227.6 L406.5 235.2 L406.8 231.77 L407.1 226.56 L407.4 227.27 L407.7 230.87 L408 232.73 L408.3 234.05 L408.6 233.95 L408.9 229.01 L409.2 231.14 L409.5 233 L409.8 236.53 L410.1 234.3 L410.4 232.48 L410.7 227.1 L411 229.06 L411.3 230.89 L411.6 236 L411.9 234.14 L412.2 232.03 L412.5 228.51 L412.8 230.57 L413.1 227.97 L413.4 230.67 L413.7 233.78 L414 238.14 L414.3 228.99 L414.6 228.31 L414.9 226.96 L415.2 229.8 L415.5 233.9 L415.8 234.62 L416.1 229.57 L416.4 230.29 L416.7 229.82 L417 233.07 L417.3 229.41 L417.6 231.77 L417.9 233.02 L418.2 227.86 L418.5 228.54 L418.8 227.79 L419.1 232.06 L419.4 234.68 L419.7 231.91 L420 229.27 L420.3 231.4 L420.6 231.04 L420.9 236.55 L421.2 228.23 L421.5 234.72 L421.8 228.58 L422.1 229.94 L422.4 231.49 L422.7 235.23 L423 235.14 L423.3 233.2 L423.6 236.4 L423.9 229.04 L424.2 229.36 L424.5 231.43 L424.8 231.67 L425.1 237.64 L425.4 235.13 L425.7 234.48 L426 229.64 L426.3 228.86 L426.6 233.27 L426.9 234.53 L427.2 231.62 L427.5 230.55 L427.8 229.69 L428.1 233.28 L428.4 231.47 L428.7 235.24 L429 231.52 L429.3 230.83 L429.6 228.19 L429.9 227.14 L430.2 230.08 L430.5 235.23 L430.8 233.33 L431.1 234.34 L431.4 233.37 L431.7 230.37 L432 230.21 L432.3 232.38 L432.6 229.45 L432.9 234.67 L433.2 225.94 L433.5 231.24 L433.8 229.78 L434.1 232.29 L434.4 232.87 L434.7 231.21 L435 233.81 L435.3 228.6 L435.6 229.44 L435.9 229.93 L436.2 232.75 L436.5 232.63 L436.8 231.22 L437.1 229.44 L437.4 225.16 L437.7 229.52 L438 230.44 L438.3 235.54 L438.6 235.87 L438.9 225.59 L439.2 230.21 L439.5 229.61 L439.8 227.59 L440.1 234.28 L440.4 232.14 L440.7 229.32 L441 229.46 L441.3 229.77 L441.6 230.37 L441.9 230.68 L442.2 234.78 L442.5 235.09 L442.8 227.8 L443.1 228.92 L443.4 230.23 L443.7 232.41 L444 237.54 L444.3 234.2 L444.6 228.37 L444.9 228.9 L445.2 230.55 L445.5 235.78 L445.8 233.58 L446.1 234.3 L446.4 235.19 L446.7 230.82 L447 235.97 L447.3 229.83 L447.6 235.88 L447.9 234.64 L448.2 235.7 L448.5 228.59 L448.8 235.11 L449.1 231 L449.4 234.59 L449.7 232.5 L450 232.99 L450.3 232.82 L450.6 233.93 L450.9 233.6 L451.2 234.78 L451.5 237.07 L451.8 235.74 L452.1 237.7 L452.4 234.15 L452.7 232.8 L453 234.8 L453.3 239.41 L453.6 237.28 L453.9 236.16 L454.2 235.5 L454.5 238.28 L454.8 233.82 L455.1 237.5 L455.4 237.7 L455.7 240.99 L456 234.56 L456.3 236.5 L456.6 238.62 L456.9 234.51 L457.2 243.08 L457.5 241.28 L457.8 239.19 L458.1 237.95 L458.4 234.42 L458.7 236.86 L459 245.62 L459.3 239.93 L459.6 246.26 L459.9 239.12 L460.2 241.89 L460.5 240.25 L460.8 238.87 L461.1 242.99 L461.4 245.12 L461.7 242.62 L462 239.44 L462.3 243.66 L462.6 241.87 L462.9 243.22 L463.2 245.89 L463.5 249.74 L463.8 244.06 L464.1 247.61 L464.4 249.36 L464.7 249.72 L465 247.61 L465.3 247.69 L465.6 247.74 L465.9 250.19 L466.2 249.39 L466.5 253.8 L466.8 252.22 L467.1 254.46 L467.4 253.36 L467.7 251.08 L468 249.56 L468.3 249.54 L468.6 255.74 L468.9 254.96 L469.2 255.89 L469.5 256.88 L469.8 255.76 L470.1 263.01 L470.4 262.44 L470.7 259.61 L471 263.31 L471.3 259.78 L471.6 258.09 L471.9 262.63 L472.2 262.29 L472.5 257.87 L472.8 266.95 L473.1 264.44 L473.4 266.47 L473.7 262.37 L474 261.8 L474.3 271.61 L474.6 266.43 L474.9 269.85 L475.2 269.99 L475.5 267.65 L475.8 267.82 L476.1 272.03 L476.4 274.25 L476.7 271.23 L477 271.74 L477.3 272.27 L477.6 276.73 L477.9 271.46 L478.2 273.89 L478.5 277.97 L478.8 275.93 L479.1 274.69 L479.4 274.79 L479.7 277.52 L480 277.15 L480.3 278.85 L480.6 273.89 L480.9 274.79 L481.2 280.58 L481.5 276.15 L481.8 279.76 L482.1 279.07 L482.4 283.48 L482.7 279.84 L483 277.29 L483.3 281.82 L483.6 281.37 L483.9 286.11 L484.2 283.36 L484.5 288.84 L484.8 282.97 L485.1 282.06 L485.4 281.43 L485.7 285.48 L486 288.16 L486.3 285.92 L486.6 285.94 L486.9 285.09 L487.2 287.03 L487.5 289.31 L487.8 287.63 L488.1 283.82 L488.4 285.72 L488.7 287.05 L489 285.93 L489.3 287.04 L489.6 288.23 L489.9 288.68 L490.2 287.57 L490.5 289.5 L490.8 286.92 L491.1 285.55 L491.4 286.97 L491.7 289.63 L492 293.2 L492.3 287.91 L492.6 285.36 L492.9 290.17 L493.2 293.43 L493.5 292.51 L493.8 292.15 L494.1 289.82 L494.4 288.54 L494.7 289.11 L495 285.76 L495.3 294.03 L495.6 291.31 L495.9 295.32 L496.2 283.24 L496.5 289.34 L496.8 290.02 L497.1 290.33 L497.4 292.02 L497.7 292.62 L498 288.98 L498.3 286.47 L498.6 287.29 L498.9 292.99 L499.2 293.5 L499.5 290.85 L499.8 287.54 L500.1 287.76 L500.4 289.55 L500.7 284.89 L501 287.43 L501.3 290.57 L501.6 287.8 L501.9 285.69 L502.2 287.11 L502.5 287.93 L502.8 287.65 L503.1 291.72 L503.4 286 L503.7 287.84 L504 283.12 L504.3 283.73 L504.6 291.09 L504.9 288.72 L505.2 287.76 L505.5 288.41 L505.8 287.08 L506.1 285.81 L506.4 285.74 L506.7 291.19 L507 287.17 L507.3 287.58 L507.6 284.14 L507.9 287.73 L508.2 287.21 L508.5 290.93 L508.8 287.9 L509.1 287.5 L509.4 286.39 L509.7 283.52 L510 286.08 L510.3 288.92 L510.6 285.66 L510.9 286.89 L511.2 286.68 L511.5 287.43 L511.8 289.18" stroke="#4a78bd" stroke-width="0.85" fill="none" stroke-linejoin="round"/><path d="M371.4 352.15 L371.7 352.18 L372 351.47 L372.3 352.21 L372.6 352.13 L372.9 351.8 L373.2 352.34 L373.5 351.63 L373.8 352.02 L374.1 352.11 L374.4 351.68 L374.7 352.3 L375 352.35 L375.3 351.61 L375.6 351.59 L375.9 352.18 L376.2 351.98 L376.5 351.61 L376.8 351.87 L377.1 351.92 L377.4 351.89 L377.7 352.17 L378 352.03 L378.3 352.43 L378.6 352.3 L378.9 352.08 L379.2 352.18 L379.5 352.25 L379.8 352.05 L380.1 351.46 L380.4 352.07 L380.7 351.82 L381 352.27 L381.3 351.8 L381.6 351.92 L381.9 351.85 L382.2 352.24 L382.5 351.78 L382.8 351.63 L383.1 351.79 L383.4 351.56 L383.7 351.72 L384 351.66 L384.3 351.73 L384.6 352.21 L384.9 351.5 L385.2 351.62 L385.5 351.54 L385.8 351.79 L386.1 351.22 L386.4 351.35 L386.7 351.54 L387 351.7 L387.3 351.51 L387.6 351.36 L387.9 351.24 L388.2 351.64 L388.5 351.91 L388.8 351.56 L389.1 351.51 L389.4 351.57 L389.7 351.14 L390 351.32 L390.3 351.32 L390.6 351.48 L390.9 351.37 L391.2 351 L391.5 351.69 L391.8 351.85 L392.1 351.25 L392.4 351.43 L392.7 351.38 L393 351.53 L393.3 350.83 L393.6 351.75 L393.9 351.11 L394.2 351.62 L394.5 351.25 L394.8 351.1 L395.1 351.16 L395.4 351.46 L395.7 350.92 L396 351.05 L396.3 351.01 L396.6 350.63 L396.9 351.52 L397.2 351.29 L397.5 351.1 L397.8 351.44 L398.1 350.79 L398.4 351.04 L398.7 351.57 L399 351.34 L399.3 350.36 L399.6 350.02 L399.9 350.69 L400.2 351.31 L400.5 350.84 L400.8 350.9 L401.1 351.14 L401.4 350.67 L401.7 350.99 L402 351.15 L402.3 351.04 L402.6 351.01 L402.9 350.7 L403.2 351.02 L403.5 350.72 L403.8 351.23 L404.1 351.6 L404.4 350.59 L404.7 350.15 L405 350.66 L405.3 350.89 L405.6 351.08 L405.9 351.07 L406.2 350.5 L406.5 350.49 L406.8 351.09 L407.1 350.37 L407.4 351.01 L407.7 350.6 L408 350.89 L408.3 350.86 L408.6 350.87 L408.9 350.87 L409.2 350.31 L409.5 350.69 L409.8 350.59 L410.1 350.66 L410.4 350.93 L410.7 350.46 L411 350.32 L411.3 350.3 L411.6 350.41 L411.9 350.72 L412.2 350.24 L412.5 350.82 L412.8 350.54 L413.1 350.38 L413.4 350.03 L413.7 350.49 L414 350.61 L414.3 349.86 L414.6 350.74 L414.9 350.86 L415.2 350.46 L415.5 350.49 L415.8 351.05 L416.1 350.69 L416.4 350.03 L416.7 350.29 L417 350.23 L417.3 350.22 L417.6 349.54 L417.9 350.47 L418.2 350.04 L418.5 350.26 L418.8 350.16 L419.1 350.45 L419.4 350.09 L419.7 349.92 L420 350.31 L420.3 350.56 L420.6 350.03 L420.9 350.52 L421.2 350.18 L421.5 349.93 L421.8 350.53 L422.1 349.82 L422.4 350.35 L422.7 349.89 L423 350.16 L423.3 349.64 L423.6 349.75 L423.9 350.3 L424.2 350.03 L424.5 349.97 L424.8 349.81 L425.1 350.07 L425.4 349.5 L425.7 349.57 L426 349.85 L426.3 349.63 L426.6 349.66 L426.9 349.84 L427.2 349.8 L427.5 349.76 L427.8 350.32 L428.1 350.11 L428.4 350.16 L428.7 349.77 L429 349.62 L429.3 349.32 L429.6 349.64 L429.9 349.1 L430.2 349.54 L430.5 349.93 L430.8 350.18 L431.1 349.97 L431.4 349.41 L431.7 349.8 L432 349.4 L432.3 349.87 L432.6 349.58 L432.9 349.86 L433.2 350.36 L433.5 349.85 L433.8 350.26 L434.1 349.6 L434.4 349.44 L434.7 349.93 L435 350.03 L435.3 349.33 L435.6 349.51 L435.9 349.04 L436.2 349.4 L436.5 349.72 L436.8 349.41 L437.1 349.25 L437.4 348.99 L437.7 349.51 L438 349.62 L438.3 349.55 L438.6 349.44 L438.9 348.96 L439.2 349.86 L439.5 349.3 L439.8 349.27 L440.1 349.5 L440.4 348.57 L440.7 349.13 L441 349.05 L441.3 349.14 L441.6 349.37 L441.9 349.04 L442.2 348.29 L442.5 348.67 L442.8 348.77 L443.1 348.69 L443.4 348.2 L443.7 348.02 L444 348.62 L444.3 348.5 L444.6 348.33 L444.9 347.75 L445.2 348.74 L445.5 347.27 L445.8 347.97 L446.1 348.65 L446.4 347.91 L446.7 347.96 L447 347.48 L447.3 348.17 L447.6 347.32 L447.9 347.72 L448.2 347.62 L448.5 347.2 L448.8 347.72 L449.1 346.96 L449.4 347.12 L449.7 347.25 L450 347.08 L450.3 347.22 L450.6 347.24 L450.9 346.75 L451.2 346.56 L451.5 346.44 L451.8 346.37 L452.1 346.6 L452.4 346.17 L452.7 346.24 L453 345.97 L453.3 345.63 L453.6 346.02 L453.9 345.33 L454.2 345.52 L454.5 345.85 L454.8 344.95 L455.1 345.14 L455.4 344.56 L455.7 344.77 L456 344.35 L456.3 344.57 L456.6 344.4 L456.9 344.48 L457.2 344.8 L457.5 344.28 L457.8 344.28 L458.1 343.91 L458.4 343.61 L458.7 343.2 L459 342.67 L459.3 343 L459.6 343.23 L459.9 342.65 L460.2 342.11 L460.5 342.53 L460.8 341.67 L461.1 341.38 L461.4 340.96 L461.7 340.8 L462 340.78 L462.3 341.22 L462.6 340.32 L462.9 339.84 L463.2 339.73 L463.5 339.61 L463.8 338.93 L464.1 339.25 L464.4 339.18 L464.7 338.83 L465 338.68 L465.3 337.79 L465.6 337.35 L465.9 337.93 L466.2 337.55 L466.5 336.44 L466.8 336.64 L467.1 336.27 L467.4 336.1 L467.7 335.68 L468 335.15 L468.3 335.04 L468.6 334.71 L468.9 334.33 L469.2 333.46 L469.5 332.8 L469.8 333.14 L470.1 332.57 L470.4 332.82 L470.7 332.63 L471 332.18 L471.3 331.67 L471.6 331.48 L471.9 331.49 L472.2 330.6 L472.5 330.78 L472.8 330.39 L473.1 329.93 L473.4 329.97 L473.7 328.99 L474 329.17 L474.3 328.28 L474.6 328.01 L474.9 327.6 L475.2 327.73 L475.5 326.99 L475.8 326.96 L476.1 326.28 L476.4 326.62 L476.7 326.53 L477 325.72 L477.3 325.82 L477.6 325.18 L477.9 325.34 L478.2 324.39 L478.5 323.57 L478.8 324.16 L479.1 323.39 L479.4 322.89 L479.7 322.78 L480 322.26 L480.3 322.47 L480.6 321.98 L480.9 322.52 L481.2 322.05 L481.5 321.13 L481.8 320.95 L482.1 321 L482.4 320.37 L482.7 320.69 L483 320.49 L483.3 320.04 L483.6 319.89 L483.9 319.97 L484.2 320.03 L484.5 319.82 L484.8 319.16 L485.1 319.24 L485.4 318.71 L485.7 319 L486 318.54 L486.3 319 L486.6 318.35 L486.9 318.38 L487.2 318.62 L487.5 318.74 L487.8 318.09 L488.1 318.31 L488.4 318.46 L488.7 318.43 L489 318.06 L489.3 318.29 L489.6 318.13 L489.9 318.58 L490.2 318.27 L490.5 317.66 L490.8 317.34 L491.1 317.98 L491.4 318.25 L491.7 318.03 L492 318.31 L492.3 317.97 L492.6 317.78 L492.9 318.49 L493.2 318.37 L493.5 318.62 L493.8 318.07 L494.1 318.61 L494.4 318.44 L494.7 318.95 L495 318.6 L495.3 318.67 L495.6 318.75 L495.9 319.38 L496.2 319.08 L496.5 318.92 L496.8 318.91 L497.1 318.98 L497.4 319.8 L497.7 318.89 L498 319.26 L498.3 319.78 L498.6 320.01 L498.9 319.69 L499.2 320.04 L499.5 320.11 L499.8 320.25 L500.1 320.05 L500.4 320.64 L500.7 320.31 L501 320.81 L501.3 320.13 L501.6 320.85 L501.9 320.29 L502.2 320.33 L502.5 321.03 L502.8 320.74 L503.1 321.23 L503.4 320.88 L503.7 321.79 L504 321.41 L504.3 321.18 L504.6 321.67 L504.9 321.99 L505.2 321.6 L505.5 322.09 L505.8 322.66 L506.1 322.41 L506.4 322.25 L506.7 322.19 L507 322.64 L507.3 322.12 L507.6 321.76 L507.9 322.58 L508.2 322.56 L508.5 323.51 L508.8 323.14 L509.1 322.91 L509.4 322.96 L509.7 323.56 L510 323.27 L510.3 323.45 L510.6 323.7 L510.9 323.86 L511.2 323.97 L511.5 324.08 L511.8 324.54" stroke="#d0625f" stroke-width="1.2" fill="none" /><rect x="370.6" y="216.7" width="142" height="141.4" fill="none" stroke="#111" stroke-width="1.5" /><line x1="370.7" y1="358.1" x2="370.7" y2="360.5" stroke="#222" stroke-width="0.9" /><text x="370.7" y="371.5" font-size="9.8" text-anchor="middle" fill="#222" >14</text><line x1="387.95" y1="358.1" x2="387.95" y2="359.7" stroke="#222" stroke-width="0.9" /><line x1="405.2" y1="358.1" x2="405.2" y2="360.5" stroke="#222" stroke-width="0.9" /><text x="405.2" y="371.5" font-size="9.8" text-anchor="middle" fill="#222" >19</text><line x1="422.45" y1="358.1" x2="422.45" y2="359.7" stroke="#222" stroke-width="0.9" /><line x1="439.7" y1="358.1" x2="439.7" y2="360.5" stroke="#222" stroke-width="0.9" /><text x="439.7" y="371.5" font-size="9.8" text-anchor="middle" fill="#222" >24</text><line x1="456.95" y1="358.1" x2="456.95" y2="359.7" stroke="#222" stroke-width="0.9" /><line x1="474.2" y1="358.1" x2="474.2" y2="360.5" stroke="#222" stroke-width="0.9" /><text x="474.2" y="371.5" font-size="9.8" text-anchor="middle" fill="#222" >29</text><line x1="491.45" y1="358.1" x2="491.45" y2="359.7" stroke="#222" stroke-width="0.9" /><line x1="508.7" y1="358.1" x2="508.7" y2="360.5" stroke="#222" stroke-width="0.9" /><text x="508.7" y="371.5" font-size="9.8" text-anchor="middle" fill="#222" >34</text><text x="442.1" y="386" font-size="12" text-anchor="middle" fill="#222" >Time / min</text><text x="0" y="0" font-size="11.7" text-anchor="middle" fill="#222" transform="translate(363 287.4) rotate(-90)" >Intensity / a.u.</text><text x="441.6" y="202.4" font-size="9.7" text-anchor="middle" fill="#222" >Temperature / °C</text><line x1="370.7" y1="216.7" x2="370.7" y2="214.5" stroke="#222" stroke-width="0.8" /><text x="371.3" y="212.3" font-size="7.6" text-anchor="middle" fill="#222" >200</text><line x1="405.3" y1="216.7" x2="405.3" y2="214.5" stroke="#222" stroke-width="0.8" /><text x="405.9" y="212.3" font-size="7.6" text-anchor="middle" fill="#222" >250</text><line x1="440" y1="216.7" x2="440" y2="214.5" stroke="#222" stroke-width="0.8" /><text x="440.6" y="212.3" font-size="7.6" text-anchor="middle" fill="#222" >300</text><line x1="474.4" y1="216.7" x2="474.4" y2="214.5" stroke="#222" stroke-width="0.8" /><text x="475" y="212.3" font-size="7.6" text-anchor="middle" fill="#222" >350</text><line x1="512.6" y1="216.7" x2="512.6" y2="214.5" stroke="#222" stroke-width="0.8" /><text x="513.2" y="212.3" font-size="7.6" text-anchor="middle" fill="#222" >350</text><line x1="388" y1="216.7" x2="388" y2="215.2" stroke="#222" stroke-width="0.8" /><line x1="422.7" y1="216.7" x2="422.7" y2="215.2" stroke="#222" stroke-width="0.8" /><line x1="457.2" y1="216.7" x2="457.2" y2="215.2" stroke="#222" stroke-width="0.8" /><line x1="491.5" y1="216.7" x2="491.5" y2="215.2" stroke="#222" stroke-width="0.8" /><text x="356.3" y="221.5" font-size="13" text-anchor="start" fill="#222" >f</text><text x="508.4" y="228.8" font-size="9.6" text-anchor="end" fill="#222" >Fe<tspan font-size="72%" dy="2">2</tspan><tspan dy="-2">&#8203;</tspan>N@C</text><text x="508.4" y="242.3" font-size="7.4" text-anchor="end" fill="#222" >25% CO<tspan font-size="72%" dy="1.8">2</tspan><tspan dy="-1.8">&#8203;</tspan>/H<tspan font-size="72%" dy="1.8">2</tspan><tspan dy="-1.8">&#8203;</tspan></text><text x="382.2" y="249.9" font-size="7.4" text-anchor="start" fill="#4a78bd" ><tspan font-style="italic">m/z</tspan> = 44*0.5 CO<tspan font-size="72%" dy="1.8">2</tspan><tspan dy="-1.8">&#8203;</tspan></text><text x="431.4" y="263" font-size="7.4" text-anchor="middle" fill="#222" >25.5 min</text><text x="431" y="272.8" font-size="7.4" text-anchor="middle" fill="#222" >315 °C</text><text x="414" y="295.3" font-size="8" text-anchor="middle" fill="#222" >Δ<tspan font-style="italic">T</tspan></text><text x="414" y="304.4" font-size="7.6" text-anchor="middle" fill="#222" >105 °C</text><text x="470" y="295.3" font-size="8" text-anchor="middle" fill="#222" >Δ<tspan font-style="italic">t</tspan></text><text x="470.2" y="304.4" font-size="7.6" text-anchor="middle" fill="#222" >5.8 min</text><text x="395.7" y="324.8" font-size="7.4" text-anchor="middle" fill="#222" >15.0 min</text><text x="394.6" y="334.2" font-size="7.4" text-anchor="middle" fill="#222" >210 °C</text><text x="381.9" y="345.3" font-size="7.4" text-anchor="start" fill="#d0625f" ><tspan font-style="italic">m/z</tspan> = 14*20 N</text><text x="490.8" y="342.3" font-size="7.4" text-anchor="middle" fill="#222" >31.3 min</text><text x="490.1" y="351.3" font-size="7.4" text-anchor="middle" fill="#222" >350 °C</text><line x1="377.4" y1="286" x2="377.4" y2="358" stroke="#222" stroke-width="0.8" /><line x1="449.8" y1="220.7" x2="449.8" y2="321" stroke="#999" stroke-width="1" /><line x1="490.5" y1="277" x2="490.5" y2="332" stroke="#777" stroke-width="0.9" /><line x1="378.5" y1="309.4" x2="448.5" y2="309.4" stroke="#222" stroke-width="0.7" /><path d="M378 309.4 L381.2 308 L381.2 310.8 Z" fill="#222"/><path d="M449 309.4 L445.8 308 L445.8 310.8 Z" fill="#222"/><line x1="451" y1="309.4" x2="489.5" y2="309.4" stroke="#222" stroke-width="0.7" /><path d="M450.6 309.4 L453.8 308 L453.8 310.8 Z" fill="#222"/><path d="M490 309.4 L486.8 308 L486.8 310.8 Z" fill="#222"/><path d="M537.9 228.8 L538.2 229.9 L538.5 228.54 L538.8 226.24 L539.1 220.95 L539.4 224.72 L539.7 228.91 L540 230.69 L540.3 226.66 L540.6 225.32 L540.9 225.31 L541.2 228.4 L541.5 225.51 L541.8 231.57 L542.1 226.97 L542.4 235.59 L542.7 226.01 L543 227.36 L543.3 224.07 L543.6 222.81 L543.9 228.93 L544.2 228.9 L544.5 231.33 L544.8 230.21 L545.1 228.28 L545.4 220.67 L545.7 224.88 L546 228.44 L546.3 232.29 L546.6 225.64 L546.9 229.72 L547.2 225.41 L547.5 221.52 L547.8 227.2 L548.1 225.36 L548.4 232.87 L548.7 232.76 L549 228.31 L549.3 223.14 L549.6 224.51 L549.9 226.71 L550.2 226.95 L550.5 228.97 L550.8 229.21 L551.1 228.78 L551.4 229.28 L551.7 224.48 L552 224.74 L552.3 229.78 L552.6 229.49 L552.9 230 L553.2 231.72 L553.5 228.48 L553.8 224.23 L554.1 225.12 L554.4 226.88 L554.7 227.68 L555 233.87 L555.3 229.91 L555.6 231.12 L555.9 227.08 L556.2 226.66 L556.5 227.58 L556.8 225.55 L557.1 230.72 L557.4 231.5 L557.7 228.49 L558 227.98 L558.3 223.41 L558.6 222.3 L558.9 229.94 L559.2 230.5 L559.5 228.11 L559.8 235.09 L560.1 224.48 L560.4 227.68 L560.7 223.34 L561 224.68 L561.3 226.98 L561.6 226.48 L561.9 228.63 L562.2 230.71 L562.5 227.13 L562.8 230.88 L563.1 222.93 L563.4 233.24 L563.7 229.53 L564 230.58 L564.3 227.53 L564.6 221.94 L564.9 223.56 L565.2 222.61 L565.5 230.96 L565.8 229.36 L566.1 233.86 L566.4 231.34 L566.7 225.77 L567 228.02 L567.3 226.6 L567.6 225.33 L567.9 230.81 L568.2 230.75 L568.5 233.51 L568.8 227.25 L569.1 226.29 L569.4 227.3 L569.7 224.21 L570 232.25 L570.3 227.83 L570.6 234.19 L570.9 231.3 L571.2 225.93 L571.5 226.89 L571.8 225.5 L572.1 230.54 L572.4 233.87 L572.7 231.41 L573 229.04 L573.3 226.57 L573.6 221.64 L573.9 229.38 L574.2 230.78 L574.5 231.29 L574.8 236.38 L575.1 236.15 L575.4 225.87 L575.7 227.05 L576 228.13 L576.3 229.5 L576.6 230.93 L576.9 231.55 L577.2 234.07 L577.5 226.28 L577.8 227.4 L578.1 227.07 L578.4 223.07 L578.7 229.31 L579 225.22 L579.3 230.7 L579.6 228.79 L579.9 223.16 L580.2 228.56 L580.5 228.03 L580.8 231.21 L581.1 231.33 L581.4 231.54 L581.7 229.38 L582 225.12 L582.3 225.66 L582.6 227.19 L582.9 233.21 L583.2 229.69 L583.5 233.3 L583.8 229.62 L584.1 225.43 L584.4 226.67 L584.7 225.78 L585 231.15 L585.3 232.06 L585.6 230.18 L585.9 229.96 L586.2 225.4 L586.5 228.08 L586.8 225.65 L587.1 230.27 L587.4 231.99 L587.7 224.66 L588 230.5 L588.3 229.75 L588.6 225.94 L588.9 224.92 L589.2 223.93 L589.5 234.59 L589.8 233.86 L590.1 233.11 L590.4 232.55 L590.7 229.29 L591 227.87 L591.3 223.16 L591.6 233.36 L591.9 231.99 L592.2 231.36 L592.5 233.37 L592.8 226.09 L593.1 219.29 L593.4 229.62 L593.7 234.03 L594 231.37 L594.3 230.81 L594.6 232.19 L594.9 223.12 L595.2 226.79 L595.5 225.56 L595.8 225.29 L596.1 229.58 L596.4 230.15 L596.7 234.26 L597 229.2 L597.3 227.29 L597.6 226.04 L597.9 224.13 L598.2 233.41 L598.5 235.47 L598.8 228.06 L599.1 228.88 L599.4 221.2 L599.7 225.41 L600 227.08 L600.3 228.69 L600.6 228.36 L600.9 232.31 L601.2 233.92 L601.5 225.24 L601.8 229.45 L602.1 224.59 L602.4 236.05 L602.7 232.32 L603 232.61 L603.3 233.51 L603.6 227.26 L603.9 230.79 L604.2 231.65 L604.5 233.45 L604.8 231.84 L605.1 229.54 L605.4 230.54 L605.7 226.72 L606 226.5 L606.3 226.66 L606.6 226.79 L606.9 233.55 L607.2 229.33 L607.5 230.1 L607.8 229.47 L608.1 228.84 L608.4 225.71 L608.7 229.95 L609 231.04 L609.3 232.04 L609.6 228.45 L609.9 234.62 L610.2 227.08 L610.5 229.59 L610.8 228.78 L611.1 233.01 L611.4 233.19 L611.7 235.6 L612 232.5 L612.3 226.96 L612.6 227.5 L612.9 229.22 L613.2 235.12 L613.5 237.44 L613.8 232.88 L614.1 236.01 L614.4 226.03 L614.7 228.96 L615 227.89 L615.3 231.63 L615.6 234.67 L615.9 232.27 L616.2 234.66 L616.5 228.55 L616.8 227.06 L617.1 227.24 L617.4 226.08 L617.7 240.52 L618 234.82 L618.3 237.08 L618.6 226.89 L618.9 227.41 L619.2 229.88 L619.5 230.22 L619.8 238.34 L620.1 234.52 L620.4 238.4 L620.7 240.97 L621 230.11 L621.3 234.64 L621.6 230.67 L621.9 239.6 L622.2 240.14 L622.5 243.88 L622.8 238.88 L623.1 235.84 L623.4 238.43 L623.7 233.91 L624 242.77 L624.3 241.37 L624.6 242.34 L624.9 246.1 L625.2 241.13 L625.5 246.03 L625.8 243.85 L626.1 244.22 L626.4 247.06 L626.7 247.33 L627 248.92 L627.3 238.35 L627.6 247.97 L627.9 243.19 L628.2 242.88 L628.5 250.44 L628.8 254.08 L629.1 255.5 L629.4 252.34 L629.7 249.19 L630 248.62 L630.3 247.04 L630.6 255.89 L630.9 256.14 L631.2 253.11 L631.5 259.75 L631.8 248.58 L632.1 253.31 L632.4 250.93 L632.7 257.65 L633 258.48 L633.3 262.29 L633.6 258.36 L633.9 255.78 L634.2 260.36 L634.5 255.77 L634.8 257.87 L635.1 265.64 L635.4 263.35 L635.7 266.36 L636 258.72 L636.3 262.3 L636.6 261.29 L636.9 259.45 L637.2 270.89 L637.5 267.89 L637.8 267.91 L638.1 261.28 L638.4 262.78 L638.7 264.1 L639 265.17 L639.3 273.35 L639.6 268.24 L639.9 270.93 L640.2 274.93 L640.5 267.45 L640.8 268.43 L641.1 271.6 L641.4 274.77 L641.7 275.52 L642 274.81 L642.3 279.42 L642.6 272.62 L642.9 269 L643.2 272.37 L643.5 274.52 L643.8 280.12 L644.1 279.61 L644.4 278.15 L644.7 272.45 L645 269.71 L645.3 276.05 L645.6 274.49 L645.9 280.1 L646.2 282.94 L646.5 280.21 L646.8 275.25 L647.1 275.46 L647.4 274.41 L647.7 283.52 L648 283.59 L648.3 283.69 L648.6 287.03 L648.9 278.18 L649.2 280.21 L649.5 280.77 L649.8 278.97 L650.1 288.32 L650.4 283.05 L650.7 288.18 L651 290.64 L651.3 278.34 L651.6 280.55 L651.9 283.96 L652.2 290.09 L652.5 288.76 L652.8 291.19 L653.1 291.03 L653.4 281.89 L653.7 284.88 L654 282.3 L654.3 280.58 L654.6 285.53 L654.9 293.57 L655.2 291.04 L655.5 290.37 L655.8 282.63 L656.1 285.32 L656.4 287.05 L656.7 291.68 L657 293.3 L657.3 292.63 L657.6 285.43 L657.9 281.62 L658.2 284.95 L658.5 291.24 L658.8 294.79 L659.1 296.35 L659.4 291.98 L659.7 293.04 L660 286.01 L660.3 289.08 L660.6 288.47 L660.9 295.11 L661.2 298.27 L661.5 292.44 L661.8 296.2 L662.1 285.82 L662.4 291.73 L662.7 288.32 L663 294.91 L663.3 295.54 L663.6 299.15 L663.9 295.43 L664.2 288.9 L664.5 287.46 L664.8 290.96 L665.1 288.48 L665.4 294.97 L665.7 296.14 L666 297.82 L666.3 289.11 L666.6 292.37 L666.9 294.98 L667.2 287.56 L667.5 299.8 L667.8 301.7 L668.1 295.46 L668.4 298.31 L668.7 288.21 L669 292.23 L669.3 290.78 L669.6 297.91 L669.9 295.17 L670.2 295.46 L670.5 296.4 L670.8 290.26 L671.1 290.55 L671.4 291.58 L671.7 295.16 L672 297.45 L672.3 298.96 L672.6 292.61 L672.9 292.86 L673.2 290.76 L673.5 289.97 L673.8 289.52 L674.1 296.33 L674.4 296.64 L674.7 299.22 L675 289.99 L675.3 295.37 L675.6 291.16 L675.9 294.7 L676.2 301.31 L676.5 296.08 L676.8 301.45 L677.1 298.51 L677.4 292.57 L677.7 295.04 L678 293.5 L678.3 299.69 L678.6 299.16 L678.9 298.54" stroke="#4a78bd" stroke-width="0.85" fill="none" stroke-linejoin="round"/><path d="M537.9 349.9 L538.2 349.94 L538.5 349.68 L538.8 350.13 L539.1 350.01 L539.4 349.89 L539.7 349.46 L540 350.25 L540.3 350.07 L540.6 349.03 L540.9 349.34 L541.2 349.53 L541.5 349.95 L541.8 350.04 L542.1 349.58 L542.4 349.74 L542.7 349.87 L543 349.28 L543.3 349.84 L543.6 349.56 L543.9 349.71 L544.2 349.64 L544.5 349.3 L544.8 349.35 L545.1 349.66 L545.4 349.68 L545.7 349.56 L546 349.96 L546.3 349.53 L546.6 349.27 L546.9 349.53 L547.2 349.58 L547.5 349.59 L547.8 349.98 L548.1 349.78 L548.4 349.94 L548.7 349.81 L549 349.57 L549.3 349.93 L549.6 349.54 L549.9 349.69 L550.2 349.31 L550.5 349.64 L550.8 349.51 L551.1 349.72 L551.4 350.15 L551.7 350.31 L552 349.9 L552.3 349.59 L552.6 349.84 L552.9 349.66 L553.2 349.41 L553.5 349.57 L553.8 349.51 L554.1 349.4 L554.4 350 L554.7 349.42 L555 349.43 L555.3 349.79 L555.6 349.36 L555.9 349.23 L556.2 349.31 L556.5 349.71 L556.8 349.68 L557.1 349.65 L557.4 349.42 L557.7 349.28 L558 349.83 L558.3 349.12 L558.6 349.49 L558.9 349.15 L559.2 349.43 L559.5 349.5 L559.8 349.91 L560.1 348.68 L560.4 349.95 L560.7 349.27 L561 349.62 L561.3 349.77 L561.6 349.3 L561.9 349.5 L562.2 349.68 L562.5 349.49 L562.8 349.3 L563.1 349.58 L563.4 349.55 L563.7 349.07 L564 349.92 L564.3 349.58 L564.6 348.79 L564.9 349.26 L565.2 350.01 L565.5 349.96 L565.8 349.55 L566.1 348.94 L566.4 349.36 L566.7 349.74 L567 349.52 L567.3 349.29 L567.6 349.15 L567.9 349.6 L568.2 349.27 L568.5 349.42 L568.8 349.45 L569.1 349.78 L569.4 349.33 L569.7 349.33 L570 348.7 L570.3 349.56 L570.6 349.48 L570.9 349.19 L571.2 348.49 L571.5 348.99 L571.8 349.17 L572.1 349.76 L572.4 349.29 L572.7 349.33 L573 349.32 L573.3 349.46 L573.6 348.7 L573.9 348.77 L574.2 348.66 L574.5 348.91 L574.8 348.87 L575.1 348.99 L575.4 348.64 L575.7 348.96 L576 348.66 L576.3 349.53 L576.6 348.72 L576.9 349.63 L577.2 349.34 L577.5 348.47 L577.8 349.1 L578.1 348.98 L578.4 348.32 L578.7 348.95 L579 348.72 L579.3 348.84 L579.6 348.46 L579.9 348.68 L580.2 348.81 L580.5 348.61 L580.8 348.47 L581.1 348.59 L581.4 348.32 L581.7 348.7 L582 347.82 L582.3 349.02 L582.6 348.57 L582.9 348.68 L583.2 348.78 L583.5 348.13 L583.8 349.17 L584.1 348.13 L584.4 348.6 L584.7 348.54 L585 348.82 L585.3 348.4 L585.6 347.97 L585.9 348.47 L586.2 347.61 L586.5 348.28 L586.8 348.18 L587.1 348.78 L587.4 348.21 L587.7 348.14 L588 348.03 L588.3 347.98 L588.6 348.06 L588.9 348.39 L589.2 347.79 L589.5 348.11 L589.8 347.72 L590.1 348.09 L590.4 348.17 L590.7 347.74 L591 347.92 L591.3 348.11 L591.6 348.29 L591.9 348.33 L592.2 347.99 L592.5 347.71 L592.8 347.5 L593.1 348.21 L593.4 348.38 L593.7 348.05 L594 348.4 L594.3 347.77 L594.6 347.78 L594.9 348.35 L595.2 347.56 L595.5 348.03 L595.8 347.94 L596.1 347.86 L596.4 348.32 L596.7 347.51 L597 347.63 L597.3 347.12 L597.6 347.41 L597.9 347.56 L598.2 347.58 L598.5 347.62 L598.8 347.75 L599.1 347.45 L599.4 347.04 L599.7 347.66 L600 347.73 L600.3 347.21 L600.6 347.28 L600.9 348.01 L601.2 347.75 L601.5 347.73 L601.8 347.56 L602.1 347.36 L602.4 347.13 L602.7 347.41 L603 347.14 L603.3 347.03 L603.6 347.12 L603.9 347.06 L604.2 347.31 L604.5 346.71 L604.8 347.71 L605.1 346.62 L605.4 346.75 L605.7 347.13 L606 346.55 L606.3 346.62 L606.6 346.73 L606.9 345.79 L607.2 346.49 L607.5 346.31 L607.8 346.49 L608.1 346.67 L608.4 346.68 L608.7 346.9 L609 346.84 L609.3 346.68 L609.6 346.31 L609.9 346.6 L610.2 345.94 L610.5 346.18 L610.8 346.6 L611.1 346.36 L611.4 345.66 L611.7 345.87 L612 346.28 L612.3 346.15 L612.6 346.25 L612.9 345.35 L613.2 345.46 L613.5 345.73 L613.8 345.47 L614.1 345.72 L614.4 345.69 L614.7 345.75 L615 345.57 L615.3 345.74 L615.6 345.77 L615.9 345.54 L616.2 345.08 L616.5 345.8 L616.8 345.44 L617.1 345.46 L617.4 345.34 L617.7 344.75 L618 345.37 L618.3 344.94 L618.6 344.72 L618.9 345.43 L619.2 344.9 L619.5 345.03 L619.8 345.16 L620.1 345.34 L620.4 344.25 L620.7 344.52 L621 344.9 L621.3 344.45 L621.6 343.61 L621.9 344.59 L622.2 344.57 L622.5 344.69 L622.8 344.47 L623.1 344.22 L623.4 344.37 L623.7 344.24 L624 344.05 L624.3 344.15 L624.6 344.04 L624.9 343.49 L625.2 343.97 L625.5 343.78 L625.8 343.63 L626.1 342.43 L626.4 343.15 L626.7 342.95 L627 342.55 L627.3 342.89 L627.6 342.12 L627.9 342.81 L628.2 342.42 L628.5 341.73 L628.8 341.9 L629.1 341.19 L629.4 340.73 L629.7 339.82 L630 339.95 L630.3 339.8 L630.6 339.29 L630.9 338.15 L631.2 338.54 L631.5 338.18 L631.8 337.54 L632.1 336.76 L632.4 336.05 L632.7 335.85 L633 335.58 L633.3 335.46 L633.6 335.17 L633.9 334.4 L634.2 333.75 L634.5 333.75 L634.8 333.09 L635.1 333.52 L635.4 332.37 L635.7 332.51 L636 332.24 L636.3 331.32 L636.6 331.54 L636.9 330.82 L637.2 330.25 L637.5 330.06 L637.8 330.23 L638.1 330.37 L638.4 329.33 L638.7 329.94 L639 329.57 L639.3 329.24 L639.6 329.29 L639.9 329.17 L640.2 329.01 L640.5 329.13 L640.8 328.46 L641.1 329.19 L641.4 328.72 L641.7 328.12 L642 327.57 L642.3 328 L642.6 327.74 L642.9 327.94 L643.2 327.79 L643.5 328.01 L643.8 327.24 L644.1 327.38 L644.4 326.86 L644.7 326.84 L645 327.38 L645.3 326.83 L645.6 326.8 L645.9 326.69 L646.2 326.86 L646.5 326.9 L646.8 326.64 L647.1 326.3 L647.4 326.71 L647.7 326.32 L648 326.42 L648.3 326.55 L648.6 326.52 L648.9 325.71 L649.2 326.88 L649.5 326.57 L649.8 326.88 L650.1 327.01 L650.4 325.93 L650.7 326 L651 326.2 L651.3 326.37 L651.6 325.89 L651.9 325.91 L652.2 326.34 L652.5 325.76 L652.8 326.12 L653.1 326.41 L653.4 326.02 L653.7 326.36 L654 326.11 L654.3 325.69 L654.6 326.02 L654.9 326.15 L655.2 326.13 L655.5 326.26 L655.8 326.39 L656.1 326.38 L656.4 326.37 L656.7 326.21 L657 326.3 L657.3 326.27 L657.6 326.23 L657.9 326.84 L658.2 325.87 L658.5 326.54 L658.8 326 L659.1 326.33 L659.4 326.78 L659.7 326.47 L660 327 L660.3 326.31 L660.6 326.53 L660.9 326.45 L661.2 326.67 L661.5 326.59 L661.8 326.59 L662.1 326.75 L662.4 327.08 L662.7 326.81 L663 326.81 L663.3 326.72 L663.6 326.62 L663.9 326.42 L664.2 326.56 L664.5 326.91 L664.8 326.34 L665.1 327.14 L665.4 326.84 L665.7 326.72 L666 326.86 L666.3 327.26 L666.6 327.2 L666.9 327.2 L667.2 327.68 L667.5 327.89 L667.8 326.83 L668.1 327.52 L668.4 327.06 L668.7 326.91 L669 327.2 L669.3 327.69 L669.6 327.33 L669.9 327.31 L670.2 327.91 L670.5 327.68 L670.8 327.53 L671.1 328.14 L671.4 327.77 L671.7 327.44 L672 327.36 L672.3 327.6 L672.6 327.81 L672.9 328.07 L673.2 328.07 L673.5 327.89 L673.8 327.53 L674.1 328.19 L674.4 327.97 L674.7 327.64 L675 327.63 L675.3 328.1 L675.6 328.16 L675.9 328.33 L676.2 327.75 L676.5 328.72 L676.8 327.63 L677.1 328.19 L677.4 328.64 L677.7 328.58 L678 328 L678.3 328.51 L678.6 328.72 L678.9 328.6" stroke="#d0625f" stroke-width="1.2" fill="none" /><rect x="537.1" y="216.7" width="142.5" height="141.4" fill="none" stroke="#111" stroke-width="1.5" /><line x1="547.8" y1="358.1" x2="547.8" y2="360.5" stroke="#222" stroke-width="0.9" /><text x="547.8" y="371.5" font-size="9.8" text-anchor="middle" fill="#222" >19</text><line x1="565.2" y1="358.1" x2="565.2" y2="359.7" stroke="#222" stroke-width="0.9" /><line x1="582.6" y1="358.1" x2="582.6" y2="360.5" stroke="#222" stroke-width="0.9" /><text x="582.6" y="371.5" font-size="9.8" text-anchor="middle" fill="#222" >24</text><line x1="600" y1="358.1" x2="600" y2="359.7" stroke="#222" stroke-width="0.9" /><line x1="617.4" y1="358.1" x2="617.4" y2="360.5" stroke="#222" stroke-width="0.9" /><text x="617.4" y="371.5" font-size="9.8" text-anchor="middle" fill="#222" >29</text><line x1="634.8" y1="358.1" x2="634.8" y2="359.7" stroke="#222" stroke-width="0.9" /><line x1="652.2" y1="358.1" x2="652.2" y2="360.5" stroke="#222" stroke-width="0.9" /><text x="652.2" y="371.5" font-size="9.8" text-anchor="middle" fill="#222" >34</text><line x1="669.6" y1="358.1" x2="669.6" y2="359.7" stroke="#222" stroke-width="0.9" /><text x="608.85" y="386" font-size="12" text-anchor="middle" fill="#222" >Time / min</text><text x="0" y="0" font-size="11.7" text-anchor="middle" fill="#222" transform="translate(529.5 287.4) rotate(-90)" >Intensity / a.u.</text><text x="608.35" y="202.4" font-size="9.7" text-anchor="middle" fill="#222" >Temperature / °C</text><line x1="547.2" y1="216.7" x2="547.2" y2="214.5" stroke="#222" stroke-width="0.8" /><text x="547.2" y="212.3" font-size="7.6" text-anchor="middle" fill="#222" >250</text><line x1="581.3" y1="216.7" x2="581.3" y2="214.5" stroke="#222" stroke-width="0.8" /><text x="581.3" y="212.3" font-size="7.6" text-anchor="middle" fill="#222" >300</text><line x1="615.4" y1="216.7" x2="615.4" y2="214.5" stroke="#222" stroke-width="0.8" /><text x="615.4" y="212.3" font-size="7.6" text-anchor="middle" fill="#222" >350</text><line x1="679.6" y1="216.7" x2="679.6" y2="214.5" stroke="#222" stroke-width="0.8" /><text x="679.6" y="212.3" font-size="7.6" text-anchor="middle" fill="#222" >350</text><line x1="564.2" y1="216.7" x2="564.2" y2="215.2" stroke="#222" stroke-width="0.8" /><line x1="598.3" y1="216.7" x2="598.3" y2="215.2" stroke="#222" stroke-width="0.8" /><line x1="632.4" y1="216.7" x2="632.4" y2="215.2" stroke="#222" stroke-width="0.8" /><line x1="649.4" y1="216.7" x2="649.4" y2="215.2" stroke="#222" stroke-width="0.8" /><line x1="666.4" y1="216.7" x2="666.4" y2="215.2" stroke="#222" stroke-width="0.8" /><text x="520" y="221.5" font-size="13" text-anchor="start" fill="#222" >g</text><text x="674.5" y="228.3" font-size="9.6" text-anchor="end" fill="#222" >K-Fe<tspan font-size="72%" dy="2">2</tspan><tspan dy="-2">&#8203;</tspan>N@C</text><text x="674.5" y="243.6" font-size="7.4" text-anchor="end" fill="#222" >25% CO<tspan font-size="72%" dy="1.8">2</tspan><tspan dy="-1.8">&#8203;</tspan>/H<tspan font-size="72%" dy="1.8">2</tspan><tspan dy="-1.8">&#8203;</tspan></text><text x="539.1" y="251.7" font-size="7.4" text-anchor="start" fill="#4a78bd" ><tspan font-style="italic">m/z</tspan> = 44*0.5 CO<tspan font-size="72%" dy="1.8">2</tspan><tspan dy="-1.8">&#8203;</tspan></text><text x="601.6" y="263" font-size="7.4" text-anchor="middle" fill="#222" >29.5 min</text><text x="601" y="272.8" font-size="7.4" text-anchor="middle" fill="#222" >350 °C</text><text x="602.5" y="295.3" font-size="8" text-anchor="middle" fill="#222" >Δ<tspan font-style="italic">T</tspan></text><text x="602" y="304.4" font-size="7.6" text-anchor="middle" fill="#222" >45 °C</text><text x="636.5" y="295.3" font-size="8" text-anchor="middle" fill="#222" >Δ<tspan font-style="italic">t</tspan></text><text x="636.5" y="304.4" font-size="7.6" text-anchor="middle" fill="#222" >4.7 min</text><text x="602.9" y="328" font-size="7.4" text-anchor="middle" fill="#222" >24.5 min</text><text x="602" y="336.8" font-size="7.4" text-anchor="middle" fill="#222" >305 °C</text><text x="539.1" y="344.2" font-size="7.4" text-anchor="start" fill="#d0625f" ><tspan font-style="italic">m/z</tspan> = 14*20 N</text><text x="653.5" y="342.6" font-size="7.4" text-anchor="middle" fill="#222" >34.2 min</text><text x="653" y="351.7" font-size="7.4" text-anchor="middle" fill="#222" >350 °C</text><line x1="585.4" y1="285.4" x2="585.4" y2="358" stroke="#222" stroke-width="0.8" /><line x1="619.7" y1="219" x2="619.7" y2="320.6" stroke="#999" stroke-width="1" /><line x1="652.9" y1="277.7" x2="652.9" y2="332.3" stroke="#777" stroke-width="0.9" /><line x1="586.5" y1="309.5" x2="618.5" y2="309.5" stroke="#222" stroke-width="0.7" /><path d="M586 309.5 L589.2 308.1 L589.2 310.9 Z" fill="#222"/><path d="M619 309.5 L615.8 308.1 L615.8 310.9 Z" fill="#222"/><line x1="621" y1="309.5" x2="652" y2="309.5" stroke="#222" stroke-width="0.7" /><path d="M620.5 309.5 L623.7 308.1 L623.7 310.9 Z" fill="#222"/><path d="M652.4 309.5 L649.2 308.1 L649.2 310.9 Z" fill="#222"/><mask id="mth100" maskUnits="userSpaceOnUse" maskContentUnits="userSpaceOnUse" x="0" y="0" width="37" height="37"><rect x="0" y="0" width="37" height="37" fill="url(#thrg)"/></mask><g transform="translate(32 449.9)" mask="url(#mth100)"><g filter="url(#soft)"><line x1="-5" y1="-25.23" x2="42" y2="-5.49" stroke="#c9c9ce" stroke-width="0.7" /><line x1="-5" y1="-15.73" x2="42" y2="4.01" stroke="#c9c9ce" stroke-width="0.7" /><line x1="-5" y1="-6.23" x2="42" y2="13.51" stroke="#c9c9ce" stroke-width="0.7" /><line x1="-5" y1="3.27" x2="42" y2="23.01" stroke="#c9c9ce" stroke-width="0.7" /><line x1="-5" y1="12.77" x2="42" y2="32.51" stroke="#c9c9ce" stroke-width="0.7" /><line x1="-5" y1="22.27" x2="42" y2="42.01" stroke="#c9c9ce" stroke-width="0.7" /><line x1="-5" y1="31.77" x2="42" y2="51.51" stroke="#c9c9ce" stroke-width="0.7" /><line x1="-5" y1="41.27" x2="42" y2="61.01" stroke="#c9c9ce" stroke-width="0.7" /><line x1="-5" y1="50.77" x2="42" y2="70.51" stroke="#c9c9ce" stroke-width="0.7" /><line x1="-5" y1="60.27" x2="42" y2="80.01" stroke="#c9c9ce" stroke-width="0.7" /><line x1="-27.39" y1="-5" x2="-9.53" y2="42" stroke="#c9c9ce" stroke-width="0.7" /><line x1="-16.39" y1="-5" x2="1.47" y2="42" stroke="#c9c9ce" stroke-width="0.7" /><line x1="-5.39" y1="-5" x2="12.47" y2="42" stroke="#c9c9ce" stroke-width="0.7" /><line x1="5.61" y1="-5" x2="23.47" y2="42" stroke="#c9c9ce" stroke-width="0.7" /><line x1="16.61" y1="-5" x2="34.47" y2="42" stroke="#c9c9ce" stroke-width="0.7" /><line x1="27.61" y1="-5" x2="45.47" y2="42" stroke="#c9c9ce" stroke-width="0.7" /><line x1="38.61" y1="-5" x2="56.47" y2="42" stroke="#c9c9ce" stroke-width="0.7" /><line x1="49.61" y1="-5" x2="67.47" y2="42" stroke="#c9c9ce" stroke-width="0.7" /><line x1="60.61" y1="-5" x2="78.47" y2="42" stroke="#c9c9ce" stroke-width="0.7" /><circle cx="-1.76" cy="33.26" r="3.35" fill="#efb8b8" opacity="0.75"/><circle cx="12.36" cy="10.15" r="3.68" fill="#efb8b8" opacity="0.75"/><circle cx="15.65" cy="22.44" r="3.97" fill="#efb8b8" opacity="0.75"/><circle cx="6.66" cy="26.9" r="3.81" fill="#efb8b8" opacity="0.75"/><circle cx="33.85" cy="10.22" r="3.17" fill="#efb8b8" opacity="0.75"/><circle cx="-1.94" cy="3.91" r="3.48" fill="#efb8b8" opacity="0.75"/><circle cx="19.33" cy="3.89" r="3.52" fill="#efb8b8" opacity="0.75"/><circle cx="27.78" cy="27.61" r="2.7" fill="#efb8b8" opacity="0.75"/><circle cx="19.96" cy="32.75" r="1.1" fill="#aab6d6"/><circle cx="24.46" cy="15.64" r="1.1" fill="#aab6d6"/><circle cx="2.58" cy="15.95" r="1.1" fill="#aab6d6"/><circle cx="7.07" cy="-1.16" r="1.1" fill="#aab6d6"/></g></g><mask id="mth101" maskUnits="userSpaceOnUse" maskContentUnits="userSpaceOnUse" x="0" y="0" width="37" height="37"><rect x="0" y="0" width="37" height="37" fill="url(#thrg)"/></mask><g transform="translate(32 492.1)" mask="url(#mth101)"><g filter="url(#soft)"><line x1="-5" y1="-27.37" x2="42" y2="-7.63" stroke="#c9c9ce" stroke-width="0.7" /><line x1="-5" y1="-17.87" x2="42" y2="1.87" stroke="#c9c9ce" stroke-width="0.7" /><line x1="-5" y1="-8.37" x2="42" y2="11.37" stroke="#c9c9ce" stroke-width="0.7" /><line x1="-5" y1="1.13" x2="42" y2="20.87" stroke="#c9c9ce" stroke-width="0.7" /><line x1="-5" y1="10.63" x2="42" y2="30.37" stroke="#c9c9ce" stroke-width="0.7" /><line x1="-5" y1="20.13" x2="42" y2="39.87" stroke="#c9c9ce" stroke-width="0.7" /><line x1="-5" y1="29.63" x2="42" y2="49.37" stroke="#c9c9ce" stroke-width="0.7" /><line x1="-5" y1="39.13" x2="42" y2="58.87" stroke="#c9c9ce" stroke-width="0.7" /><line x1="-5" y1="48.63" x2="42" y2="68.37" stroke="#c9c9ce" stroke-width="0.7" /><line x1="-5" y1="58.13" x2="42" y2="77.87" stroke="#c9c9ce" stroke-width="0.7" /><line x1="-26.41" y1="-5" x2="-8.55" y2="42" stroke="#c9c9ce" stroke-width="0.7" /><line x1="-15.41" y1="-5" x2="2.45" y2="42" stroke="#c9c9ce" stroke-width="0.7" /><line x1="-4.41" y1="-5" x2="13.45" y2="42" stroke="#c9c9ce" stroke-width="0.7" /><line x1="6.59" y1="-5" x2="24.45" y2="42" stroke="#c9c9ce" stroke-width="0.7" /><line x1="17.59" y1="-5" x2="35.45" y2="42" stroke="#c9c9ce" stroke-width="0.7" /><line x1="28.59" y1="-5" x2="46.45" y2="42" stroke="#c9c9ce" stroke-width="0.7" /><line x1="39.59" y1="-5" x2="57.45" y2="42" stroke="#c9c9ce" stroke-width="0.7" /><line x1="50.59" y1="-5" x2="68.45" y2="42" stroke="#c9c9ce" stroke-width="0.7" /><line x1="61.59" y1="-5" x2="79.45" y2="42" stroke="#c9c9ce" stroke-width="0.7" /><circle cx="11.98" cy="36.87" r="3.26" fill="#efb8b8" opacity="0.75"/><circle cx="-2.46" cy="3.39" r="3.4" fill="#efb8b8" opacity="0.75"/><circle cx="11.35" cy="7.8" r="3.51" fill="#efb8b8" opacity="0.75"/><circle cx="15.56" cy="19.41" r="3.12" fill="#efb8b8" opacity="0.75"/><circle cx="19.47" cy="1.79" r="3.78" fill="#efb8b8" opacity="0.75"/><circle cx="7.71" cy="25.54" r="3.26" fill="#efb8b8" opacity="0.75"/><circle cx="34.39" cy="8.46" r="2.94" fill="#efb8b8" opacity="0.75"/><circle cx="33.25" cy="36.2" r="1.1" fill="#aab6d6"/><circle cx="-1.72" cy="31.01" r="1.1" fill="#aab6d6"/><circle cx="28.95" cy="24.89" r="1.1" fill="#aab6d6"/></g></g><mask id="mth110" maskUnits="userSpaceOnUse" maskContentUnits="userSpaceOnUse" x="0" y="0" width="37" height="37"><rect x="0" y="0" width="37" height="37" fill="url(#thrg)"/></mask><g transform="translate(76 449.9)" mask="url(#mth110)"><g filter="url(#soft)"><line x1="-5" y1="-25.99" x2="42" y2="-6.25" stroke="#c9c9ce" stroke-width="0.7" /><line x1="-5" y1="-16.49" x2="42" y2="3.25" stroke="#c9c9ce" stroke-width="0.7" /><line x1="-5" y1="-6.99" x2="42" y2="12.75" stroke="#c9c9ce" stroke-width="0.7" /><line x1="-5" y1="2.51" x2="42" y2="22.25" stroke="#c9c9ce" stroke-width="0.7" /><line x1="-5" y1="12.01" x2="42" y2="31.75" stroke="#c9c9ce" stroke-width="0.7" /><line x1="-5" y1="21.51" x2="42" y2="41.25" stroke="#c9c9ce" stroke-width="0.7" /><line x1="-5" y1="31.01" x2="42" y2="50.75" stroke="#c9c9ce" stroke-width="0.7" /><line x1="-5" y1="40.51" x2="42" y2="60.25" stroke="#c9c9ce" stroke-width="0.7" /><line x1="-5" y1="50.01" x2="42" y2="69.75" stroke="#c9c9ce" stroke-width="0.7" /><line x1="-5" y1="59.51" x2="42" y2="79.25" stroke="#c9c9ce" stroke-width="0.7" /><line x1="-26.53" y1="-5" x2="-8.67" y2="42" stroke="#c9c9ce" stroke-width="0.7" /><line x1="-15.53" y1="-5" x2="2.33" y2="42" stroke="#c9c9ce" stroke-width="0.7" /><line x1="-4.53" y1="-5" x2="13.33" y2="42" stroke="#c9c9ce" stroke-width="0.7" /><line x1="6.47" y1="-5" x2="24.33" y2="42" stroke="#c9c9ce" stroke-width="0.7" /><line x1="17.47" y1="-5" x2="35.33" y2="42" stroke="#c9c9ce" stroke-width="0.7" /><line x1="28.47" y1="-5" x2="46.33" y2="42" stroke="#c9c9ce" stroke-width="0.7" /><line x1="39.47" y1="-5" x2="57.33" y2="42" stroke="#c9c9ce" stroke-width="0.7" /><line x1="50.47" y1="-5" x2="68.33" y2="42" stroke="#c9c9ce" stroke-width="0.7" /><line x1="61.47" y1="-5" x2="79.33" y2="42" stroke="#c9c9ce" stroke-width="0.7" /><circle cx="6.68" cy="27.06" r="3.29" fill="#efb8b8" opacity="0.75"/><circle cx="12.33" cy="9.55" r="3.6" fill="#efb8b8" opacity="0.75"/><circle cx="16.75" cy="20.75" r="3.76" fill="#efb8b8" opacity="0.75"/><circle cx="-0.55" cy="32.53" r="3.75" fill="#efb8b8" opacity="0.75"/><circle cx="-1.28" cy="4.43" r="3.39" fill="#efb8b8" opacity="0.75"/><circle cx="25.7" cy="15.61" r="3.93" fill="#efb8b8" opacity="0.75"/><circle cx="2.91" cy="14.92" r="2.67" fill="#efb8b8" opacity="0.75"/><circle cx="30.3" cy="-2.28" r="3.19" fill="#efb8b8" opacity="0.75"/><circle cx="38.23" cy="20.67" r="1.1" fill="#aab6d6"/><circle cx="29.43" cy="26.47" r="1.1" fill="#aab6d6"/><circle cx="33.73" cy="37.78" r="1.1" fill="#aab6d6"/><circle cx="20.64" cy="32.28" r="1.1" fill="#aab6d6"/></g></g><mask id="mth111" maskUnits="userSpaceOnUse" maskContentUnits="userSpaceOnUse" x="0" y="0" width="37" height="37"><rect x="0" y="0" width="37" height="37" fill="url(#thrg)"/></mask><g transform="translate(76 492.1)" mask="url(#mth111)"><g filter="url(#soft)"><line x1="-5" y1="-29.08" x2="42" y2="-9.34" stroke="#c9c9ce" stroke-width="0.7" /><line x1="-5" y1="-19.58" x2="42" y2="0.16" stroke="#c9c9ce" stroke-width="0.7" /><line x1="-5" y1="-10.08" x2="42" y2="9.66" stroke="#c9c9ce" stroke-width="0.7" /><line x1="-5" y1="-0.58" x2="42" y2="19.16" stroke="#c9c9ce" stroke-width="0.7" /><line x1="-5" y1="8.92" x2="42" y2="28.66" stroke="#c9c9ce" stroke-width="0.7" /><line x1="-5" y1="18.42" x2="42" y2="38.16" stroke="#c9c9ce" stroke-width="0.7" /><line x1="-5" y1="27.92" x2="42" y2="47.66" stroke="#c9c9ce" stroke-width="0.7" /><line x1="-5" y1="37.42" x2="42" y2="57.16" stroke="#c9c9ce" stroke-width="0.7" /><line x1="-5" y1="46.92" x2="42" y2="66.66" stroke="#c9c9ce" stroke-width="0.7" /><line x1="-5" y1="56.42" x2="42" y2="76.16" stroke="#c9c9ce" stroke-width="0.7" /><line x1="-33.52" y1="-5" x2="-15.66" y2="42" stroke="#c9c9ce" stroke-width="0.7" /><line x1="-22.52" y1="-5" x2="-4.66" y2="42" stroke="#c9c9ce" stroke-width="0.7" /><line x1="-11.52" y1="-5" x2="6.34" y2="42" stroke="#c9c9ce" stroke-width="0.7" /><line x1="-0.52" y1="-5" x2="17.34" y2="42" stroke="#c9c9ce" stroke-width="0.7" /><line x1="10.48" y1="-5" x2="28.34" y2="42" stroke="#c9c9ce" stroke-width="0.7" /><line x1="21.48" y1="-5" x2="39.34" y2="42" stroke="#c9c9ce" stroke-width="0.7" /><line x1="32.48" y1="-5" x2="50.34" y2="42" stroke="#c9c9ce" stroke-width="0.7" /><line x1="43.48" y1="-5" x2="61.34" y2="42" stroke="#c9c9ce" stroke-width="0.7" /><line x1="54.48" y1="-5" x2="72.34" y2="42" stroke="#c9c9ce" stroke-width="0.7" /><circle cx="5.79" cy="13.64" r="3.16" fill="#efb8b8" opacity="0.75"/><circle cx="38.18" cy="7.3" r="3.45" fill="#efb8b8" opacity="0.75"/><circle cx="24.5" cy="29.77" r="3.8" fill="#efb8b8" opacity="0.75"/><circle cx="24.25" cy="2.93" r="3.24" fill="#efb8b8" opacity="0.75"/><circle cx="2.97" cy="31.75" r="2.95" fill="#efb8b8" opacity="0.75"/><circle cx="1.56" cy="1.95" r="3.23" fill="#efb8b8" opacity="0.75"/><circle cx="15.99" cy="35.78" r="3.67" fill="#efb8b8" opacity="0.75"/><circle cx="37.1" cy="36.11" r="1.1" fill="#aab6d6"/><circle cx="10.93" cy="25.11" r="1.1" fill="#aab6d6"/></g></g><mask id="mth120" maskUnits="userSpaceOnUse" maskContentUnits="userSpaceOnUse" x="0" y="0" width="37" height="37"><rect x="0" y="0" width="37" height="37" fill="url(#thrg)"/></mask><g transform="translate(119 449.9)" mask="url(#mth120)"><g filter="url(#soft)"><line x1="-5" y1="-30.09" x2="42" y2="-10.35" stroke="#c9c9ce" stroke-width="0.7" /><line x1="-5" y1="-20.59" x2="42" y2="-0.85" stroke="#c9c9ce" stroke-width="0.7" /><line x1="-5" y1="-11.09" x2="42" y2="8.65" stroke="#c9c9ce" stroke-width="0.7" /><line x1="-5" y1="-1.59" x2="42" y2="18.15" stroke="#c9c9ce" stroke-width="0.7" /><line x1="-5" y1="7.91" x2="42" y2="27.65" stroke="#c9c9ce" stroke-width="0.7" /><line x1="-5" y1="17.41" x2="42" y2="37.15" stroke="#c9c9ce" stroke-width="0.7" /><line x1="-5" y1="26.91" x2="42" y2="46.65" stroke="#c9c9ce" stroke-width="0.7" /><line x1="-5" y1="36.41" x2="42" y2="56.15" stroke="#c9c9ce" stroke-width="0.7" /><line x1="-5" y1="45.91" x2="42" y2="65.65" stroke="#c9c9ce" stroke-width="0.7" /><line x1="-5" y1="55.41" x2="42" y2="75.15" stroke="#c9c9ce" stroke-width="0.7" /><line x1="-27.22" y1="-5" x2="-9.36" y2="42" stroke="#c9c9ce" stroke-width="0.7" /><line x1="-16.22" y1="-5" x2="1.64" y2="42" stroke="#c9c9ce" stroke-width="0.7" /><line x1="-5.22" y1="-5" x2="12.64" y2="42" stroke="#c9c9ce" stroke-width="0.7" /><line x1="5.78" y1="-5" x2="23.64" y2="42" stroke="#c9c9ce" stroke-width="0.7" /><line x1="16.78" y1="-5" x2="34.64" y2="42" stroke="#c9c9ce" stroke-width="0.7" /><line x1="27.78" y1="-5" x2="45.64" y2="42" stroke="#c9c9ce" stroke-width="0.7" /><line x1="38.78" y1="-5" x2="56.64" y2="42" stroke="#c9c9ce" stroke-width="0.7" /><line x1="49.78" y1="-5" x2="67.64" y2="42" stroke="#c9c9ce" stroke-width="0.7" /><line x1="60.78" y1="-5" x2="78.64" y2="42" stroke="#c9c9ce" stroke-width="0.7" /><circle cx="25.83" cy="21.2" r="3.08" fill="#efb8b8" opacity="0.75"/><circle cx="4.27" cy="21.68" r="3.1" fill="#efb8b8" opacity="0.75"/><circle cx="13.71" cy="14.92" r="2.77" fill="#efb8b8" opacity="0.75"/><circle cx="23.21" cy="9.23" r="2.84" fill="#efb8b8" opacity="0.75"/><circle cx="9.2" cy="3.89" r="3.85" fill="#efb8b8" opacity="0.75"/><circle cx="18.18" cy="27.31" r="3.16" fill="#efb8b8" opacity="0.75"/><circle cx="0.93" cy="38.41" r="2.76" fill="#efb8b8" opacity="0.75"/><circle cx="0.58" cy="10.26" r="1.1" fill="#aab6d6"/><circle cx="31.26" cy="4.14" r="1.1" fill="#aab6d6"/><circle cx="9.17" cy="32.87" r="1.1" fill="#aab6d6"/></g></g><mask id="mth121" maskUnits="userSpaceOnUse" maskContentUnits="userSpaceOnUse" x="0" y="0" width="37" height="37"><rect x="0" y="0" width="37" height="37" fill="url(#thrg)"/></mask><g transform="translate(119 492.1)" mask="url(#mth121)"><g filter="url(#soft)"><line x1="-5" y1="-27.92" x2="42" y2="-8.18" stroke="#c9c9ce" stroke-width="0.7" /><line x1="-5" y1="-18.42" x2="42" y2="1.32" stroke="#c9c9ce" stroke-width="0.7" /><line x1="-5" y1="-8.92" x2="42" y2="10.82" stroke="#c9c9ce" stroke-width="0.7" /><line x1="-5" y1="0.58" x2="42" y2="20.32" stroke="#c9c9ce" stroke-width="0.7" /><line x1="-5" y1="10.08" x2="42" y2="29.82" stroke="#c9c9ce" stroke-width="0.7" /><line x1="-5" y1="19.58" x2="42" y2="39.32" stroke="#c9c9ce" stroke-width="0.7" /><line x1="-5" y1="29.08" x2="42" y2="48.82" stroke="#c9c9ce" stroke-width="0.7" /><line x1="-5" y1="38.58" x2="42" y2="58.32" stroke="#c9c9ce" stroke-width="0.7" /><line x1="-5" y1="48.08" x2="42" y2="67.82" stroke="#c9c9ce" stroke-width="0.7" /><line x1="-5" y1="57.58" x2="42" y2="77.32" stroke="#c9c9ce" stroke-width="0.7" /><line x1="-29.2" y1="-5" x2="-11.34" y2="42" stroke="#c9c9ce" stroke-width="0.7" /><line x1="-18.2" y1="-5" x2="-0.34" y2="42" stroke="#c9c9ce" stroke-width="0.7" /><line x1="-7.2" y1="-5" x2="10.66" y2="42" stroke="#c9c9ce" stroke-width="0.7" /><line x1="3.8" y1="-5" x2="21.66" y2="42" stroke="#c9c9ce" stroke-width="0.7" /><line x1="14.8" y1="-5" x2="32.66" y2="42" stroke="#c9c9ce" stroke-width="0.7" /><line x1="25.8" y1="-5" x2="43.66" y2="42" stroke="#c9c9ce" stroke-width="0.7" /><line x1="36.8" y1="-5" x2="54.66" y2="42" stroke="#c9c9ce" stroke-width="0.7" /><line x1="47.8" y1="-5" x2="65.66" y2="42" stroke="#c9c9ce" stroke-width="0.7" /><line x1="58.8" y1="-5" x2="76.66" y2="42" stroke="#c9c9ce" stroke-width="0.7" /><circle cx="8.35" cy="34.8" r="3.92" fill="#efb8b8" opacity="0.75"/><circle cx="16.42" cy="29.29" r="3.44" fill="#efb8b8" opacity="0.75"/><circle cx="30.31" cy="5.23" r="3.46" fill="#efb8b8" opacity="0.75"/><circle cx="24.43" cy="23.21" r="3.05" fill="#efb8b8" opacity="0.75"/><circle cx="21.71" cy="11.65" r="3.3" fill="#efb8b8" opacity="0.75"/><circle cx="38.97" cy="0.22" r="3.5" fill="#efb8b8" opacity="0.75"/><circle cx="2.64" cy="22.73" r="3.48" fill="#efb8b8" opacity="0.75"/><circle cx="34.17" cy="17.03" r="1.1" fill="#aab6d6"/><circle cx="29.67" cy="34.14" r="1.1" fill="#aab6d6"/><circle cx="12.28" cy="17.34" r="1.1" fill="#aab6d6"/></g></g><mask id="mth130" maskUnits="userSpaceOnUse" maskContentUnits="userSpaceOnUse" x="0" y="0" width="37" height="37"><rect x="0" y="0" width="37" height="37" fill="url(#thrg)"/></mask><g transform="translate(163 449.9)" mask="url(#mth130)"><g filter="url(#soft)"><line x1="-5" y1="-29.9" x2="42" y2="-10.16" stroke="#c9c9ce" stroke-width="0.7" /><line x1="-5" y1="-20.4" x2="42" y2="-0.66" stroke="#c9c9ce" stroke-width="0.7" /><line x1="-5" y1="-10.9" x2="42" y2="8.84" stroke="#c9c9ce" stroke-width="0.7" /><line x1="-5" y1="-1.4" x2="42" y2="18.34" stroke="#c9c9ce" stroke-width="0.7" /><line x1="-5" y1="8.1" x2="42" y2="27.84" stroke="#c9c9ce" stroke-width="0.7" /><line x1="-5" y1="17.6" x2="42" y2="37.34" stroke="#c9c9ce" stroke-width="0.7" /><line x1="-5" y1="27.1" x2="42" y2="46.84" stroke="#c9c9ce" stroke-width="0.7" /><line x1="-5" y1="36.6" x2="42" y2="56.34" stroke="#c9c9ce" stroke-width="0.7" /><line x1="-5" y1="46.1" x2="42" y2="65.84" stroke="#c9c9ce" stroke-width="0.7" /><line x1="-5" y1="55.6" x2="42" y2="75.34" stroke="#c9c9ce" stroke-width="0.7" /><line x1="-30.82" y1="-5" x2="-12.96" y2="42" stroke="#c9c9ce" stroke-width="0.7" /><line x1="-19.82" y1="-5" x2="-1.96" y2="42" stroke="#c9c9ce" stroke-width="0.7" /><line x1="-8.82" y1="-5" x2="9.04" y2="42" stroke="#c9c9ce" stroke-width="0.7" /><line x1="2.18" y1="-5" x2="20.04" y2="42" stroke="#c9c9ce" stroke-width="0.7" /><line x1="13.18" y1="-5" x2="31.04" y2="42" stroke="#c9c9ce" stroke-width="0.7" /><line x1="24.18" y1="-5" x2="42.04" y2="42" stroke="#c9c9ce" stroke-width="0.7" /><line x1="35.18" y1="-5" x2="53.04" y2="42" stroke="#c9c9ce" stroke-width="0.7" /><line x1="46.18" y1="-5" x2="64.04" y2="42" stroke="#c9c9ce" stroke-width="0.7" /><line x1="57.18" y1="-5" x2="75.04" y2="42" stroke="#c9c9ce" stroke-width="0.7" /><circle cx="35.48" cy="25.69" r="3.58" fill="#efb8b8" opacity="0.75"/><circle cx="13.11" cy="26.4" r="3.27" fill="#efb8b8" opacity="0.75"/><circle cx="9.43" cy="13.86" r="3.7" fill="#efb8b8" opacity="0.75"/><circle cx="27.45" cy="30.07" r="3.21" fill="#efb8b8" opacity="0.75"/><circle cx="5.19" cy="31.96" r="3.13" fill="#efb8b8" opacity="0.75"/><circle cx="17.6" cy="7.65" r="2.67" fill="#efb8b8" opacity="0.75"/><circle cx="0.67" cy="19.99" r="1.1" fill="#aab6d6"/><circle cx="18.06" cy="36.79" r="1.1" fill="#aab6d6"/><circle cx="5.17" cy="2.87" r="1.1" fill="#aab6d6"/></g></g><mask id="mth131" maskUnits="userSpaceOnUse" maskContentUnits="userSpaceOnUse" x="0" y="0" width="37" height="37"><rect x="0" y="0" width="37" height="37" fill="url(#thrg)"/></mask><g transform="translate(163 492.1)" mask="url(#mth131)"><g filter="url(#soft)"><line x1="-5" y1="-25.19" x2="42" y2="-5.45" stroke="#c9c9ce" stroke-width="0.7" /><line x1="-5" y1="-15.69" x2="42" y2="4.05" stroke="#c9c9ce" stroke-width="0.7" /><line x1="-5" y1="-6.19" x2="42" y2="13.55" stroke="#c9c9ce" stroke-width="0.7" /><line x1="-5" y1="3.31" x2="42" y2="23.05" stroke="#c9c9ce" stroke-width="0.7" /><line x1="-5" y1="12.81" x2="42" y2="32.55" stroke="#c9c9ce" stroke-width="0.7" /><line x1="-5" y1="22.31" x2="42" y2="42.05" stroke="#c9c9ce" stroke-width="0.7" /><line x1="-5" y1="31.81" x2="42" y2="51.55" stroke="#c9c9ce" stroke-width="0.7" /><line x1="-5" y1="41.31" x2="42" y2="61.05" stroke="#c9c9ce" stroke-width="0.7" /><line x1="-5" y1="50.81" x2="42" y2="70.55" stroke="#c9c9ce" stroke-width="0.7" /><line x1="-5" y1="60.31" x2="42" y2="80.05" stroke="#c9c9ce" stroke-width="0.7" /><line x1="-29.08" y1="-5" x2="-11.22" y2="42" stroke="#c9c9ce" stroke-width="0.7" /><line x1="-18.08" y1="-5" x2="-0.22" y2="42" stroke="#c9c9ce" stroke-width="0.7" /><line x1="-7.08" y1="-5" x2="10.78" y2="42" stroke="#c9c9ce" stroke-width="0.7" /><line x1="3.92" y1="-5" x2="21.78" y2="42" stroke="#c9c9ce" stroke-width="0.7" /><line x1="14.92" y1="-5" x2="32.78" y2="42" stroke="#c9c9ce" stroke-width="0.7" /><line x1="25.92" y1="-5" x2="43.78" y2="42" stroke="#c9c9ce" stroke-width="0.7" /><line x1="36.92" y1="-5" x2="54.78" y2="42" stroke="#c9c9ce" stroke-width="0.7" /><line x1="47.92" y1="-5" x2="65.78" y2="42" stroke="#c9c9ce" stroke-width="0.7" /><line x1="58.92" y1="-5" x2="76.78" y2="42" stroke="#c9c9ce" stroke-width="0.7" /><circle cx="12.92" cy="20.87" r="2.7" fill="#efb8b8" opacity="0.75"/><circle cx="10.25" cy="8.54" r="3.22" fill="#efb8b8" opacity="0.75"/><circle cx="35.26" cy="19.86" r="2.63" fill="#efb8b8" opacity="0.75"/><circle cx="5.35" cy="-1.38" r="3.77" fill="#efb8b8" opacity="0.75"/><circle cx="30.76" cy="38.08" r="3.47" fill="#efb8b8" opacity="0.75"/><circle cx="23.02" cy="15.44" r="2.74" fill="#efb8b8" opacity="0.75"/><circle cx="31.48" cy="9.34" r="3.59" fill="#efb8b8" opacity="0.75"/><circle cx="9.17" cy="37.76" r="1.1" fill="#aab6d6"/><circle cx="17.96" cy="31.95" r="1.1" fill="#aab6d6"/></g></g><circle cx="56.4" cy="478.3" r="2.5" fill="#3f67aa"/><circle cx="55.65" cy="477.43" r="0.88" fill="#ffffff" opacity="0.35"/><circle cx="101.1" cy="478.3" r="2.5" fill="#4b7a96"/><circle cx="100.35" cy="477.43" r="0.88" fill="#ffffff" opacity="0.35"/><circle cx="50.7" cy="525.4" r="2.3" fill="#4a72b8"/><circle cx="50.01" cy="524.6" r="0.8" fill="#ffffff" opacity="0.35"/><circle cx="94.6" cy="525.4" r="2.3" fill="#6a8a90"/><circle cx="93.91" cy="524.6" r="0.8" fill="#ffffff" opacity="0.35"/><circle cx="98.2" cy="499.4" r="1.4" fill="#2a3a4a"/><circle cx="97.78" cy="498.91" r="0.49" fill="#ffffff" opacity="0.35"/><line x1="142.6" y1="472.6" x2="139.4" y2="465" stroke="#777" stroke-width="1.1" /><line x1="142.6" y1="472.6" x2="146.7" y2="480.4" stroke="#777" stroke-width="1.1" /><circle cx="139.4" cy="465" r="1.8" fill="#9fb0b4"/><circle cx="138.86" cy="464.37" r="0.63" fill="#ffffff" opacity="0.35"/><circle cx="146.7" cy="480.4" r="1.8" fill="#9fb0b4"/><circle cx="146.16" cy="479.77" r="0.63" fill="#ffffff" opacity="0.35"/><circle cx="142.6" cy="472.6" r="3" fill="#3d66ad"/><circle cx="141.7" cy="471.55" r="1.05" fill="#ffffff" opacity="0.35"/><line x1="172.7" y1="476.7" x2="165.3" y2="469.4" stroke="#777" stroke-width="1.1" /><line x1="172.7" y1="476.7" x2="184.7" y2="471.4" stroke="#777" stroke-width="1.1" /><line x1="172.7" y1="476.7" x2="170.5" y2="485" stroke="#777" stroke-width="1.1" /><circle cx="165.3" cy="469.4" r="1.8" fill="#9fb0b4"/><circle cx="164.76" cy="468.77" r="0.63" fill="#ffffff" opacity="0.35"/><circle cx="184.7" cy="471.4" r="1.8" fill="#9fb0b4"/><circle cx="184.16" cy="470.77" r="0.63" fill="#ffffff" opacity="0.35"/><circle cx="170.5" cy="485" r="1.8" fill="#9fb0b4"/><circle cx="169.96" cy="484.37" r="0.63" fill="#ffffff" opacity="0.35"/><circle cx="172.7" cy="476.7" r="3.4" fill="#3d66ad"/><circle cx="171.68" cy="475.51" r="1.19" fill="#ffffff" opacity="0.35"/><line x1="139.5" y1="516.3" x2="137.1" y2="509" stroke="#777" stroke-width="1.1" /><line x1="139.5" y1="516.3" x2="138.6" y2="525.4" stroke="#777" stroke-width="1.1" /><circle cx="137.1" cy="509" r="1.8" fill="#9fb0b4"/><circle cx="136.56" cy="508.37" r="0.63" fill="#ffffff" opacity="0.35"/><circle cx="138.6" cy="525.4" r="1.8" fill="#9fb0b4"/><circle cx="138.06" cy="524.77" r="0.63" fill="#ffffff" opacity="0.35"/><circle cx="139.5" cy="516.3" r="3" fill="#3d66ad"/><circle cx="138.6" cy="515.25" r="1.05" fill="#ffffff" opacity="0.35"/><line x1="192.2" y1="511.6" x2="183.4" y2="505.6" stroke="#777" stroke-width="1.1" /><line x1="192.2" y1="511.6" x2="188.1" y2="521.3" stroke="#777" stroke-width="1.1" /><circle cx="183.4" cy="505.6" r="1.8" fill="#9fb0b4"/><circle cx="182.86" cy="504.97" r="0.63" fill="#ffffff" opacity="0.35"/><circle cx="188.1" cy="521.3" r="1.8" fill="#9fb0b4"/><circle cx="187.56" cy="520.67" r="0.63" fill="#ffffff" opacity="0.35"/><circle cx="192.2" cy="511.6" r="3.2" fill="#3d66ad"/><circle cx="191.24" cy="510.48" r="1.12" fill="#ffffff" opacity="0.35"/><line x1="32.9" y1="452.3" x2="45.5" y2="452.3" stroke="#4a78bd" stroke-width="1.2" /><text x="49.9" y="455.6" font-size="9.4" text-anchor="start" fill="#222" >Without K</text><line x1="32.9" y1="496.7" x2="45.5" y2="496.7" stroke="#d0625f" stroke-width="1.2" /><text x="49.9" y="499.6" font-size="9.4" text-anchor="start" fill="#222" >With K</text><line x1="29.3" y1="437.6" x2="46.4" y2="437.6" stroke="#4a78bd" stroke-width="1.3" /><path d="M46.4 437.6 L47.58 434.2 L48.77 431.04 L49.95 428.11 L51.13 425.41 L52.32 422.96 L53.5 420.73 L54.68 418.74 L55.87 416.99 L57.05 415.47 L58.23 414.19 L59.42 413.14 L60.6 412.33 L61.78 411.75 L62.97 411.41 L64.15 411.3 L65.33 411.4 L66.52 411.7 L67.7 412.19 L68.88 412.87 L70.07 413.74 L71.25 414.8 L72.43 416.06 L73.62 417.5 L74.8 419.14 L75.98 420.97 L77.17 422.99 L78.35 425.21 L79.53 427.61 L80.72 430.21 L81.9 433" stroke="#4a78bd" stroke-width="1.3" fill="none" stroke-dasharray="3.4 2.2"/><line x1="81.9" y1="433" x2="99.6" y2="433" stroke="#4a78bd" stroke-width="1.3" /><path d="M99.6 433 L100.74 430.71 L101.88 428.56 L103.02 426.57 L104.16 424.72 L105.3 423.02 L106.44 421.48 L107.58 420.08 L108.72 418.83 L109.86 417.73 L111 416.78 L112.14 415.97 L113.28 415.32 L114.42 414.82 L115.56 414.46 L116.7 414.26 L117.84 414.2 L118.98 414.28 L120.12 414.48 L121.26 414.82 L122.4 415.27 L123.54 415.86 L124.68 416.57 L125.82 417.41 L126.96 418.37 L128.1 419.46 L129.24 420.67 L130.38 422.02 L131.52 423.48 L132.66 425.08 L133.8 426.8" stroke="#4a78bd" stroke-width="1.3" fill="none" stroke-dasharray="3.4 2.2"/><line x1="133.8" y1="426.8" x2="152.7" y2="426.8" stroke="#4a78bd" stroke-width="1.3" /><path d="M152.7 426.8 L153.85 422.09 L154.99 417.72 L156.14 413.7 L157.29 410.03 L158.43 406.7 L159.58 403.72 L160.73 401.08 L161.87 398.79 L163.02 396.85 L164.17 395.25 L165.31 393.99 L166.46 393.08 L167.61 392.52 L168.75 392.3 L169.9 392.43 L171.05 392.91 L172.19 393.74 L173.34 394.91 L174.49 396.44 L175.63 398.31 L176.78 400.53 L177.93 403.1 L179.07 406.02 L180.22 409.28 L181.37 412.9 L182.51 416.86 L183.66 421.17 L184.81 425.83 L185.95 430.84 L187.1 436.2" stroke="#4a78bd" stroke-width="1.3" fill="none" stroke-dasharray="3.4 2.2"/><line x1="187.1" y1="436.2" x2="204.3" y2="436.2" stroke="#4a78bd" stroke-width="1.3" /><line x1="29.3" y1="437.6" x2="46.4" y2="437.6" stroke="#d0625f" stroke-width="1.3" /><path d="M46.4 437.6 L47.58 435.76 L48.77 434.06 L49.95 432.48 L51.13 431.02 L52.32 429.69 L53.5 428.49 L54.68 427.42 L55.87 426.47 L57.05 425.65 L58.23 424.96 L59.42 424.39 L60.6 423.96 L61.78 423.64 L62.97 423.46 L64.15 423.4 L65.33 423.49 L66.52 423.76 L67.7 424.19 L68.88 424.8 L70.07 425.58 L71.25 426.53 L72.43 427.65 L73.62 428.95 L74.8 430.41 L75.98 432.05 L77.17 433.85 L78.35 435.83 L79.53 437.98 L80.72 440.31 L81.9 442.8" stroke="#d0625f" stroke-width="1.3" fill="none" stroke-dasharray="3.4 2.2"/><line x1="81.9" y1="442.8" x2="99.6" y2="442.8" stroke="#d0625f" stroke-width="1.3" /><path d="M99.6 442.8 L100.74 439.31 L101.88 436.05 L103.02 433.01 L104.16 430.2 L105.3 427.62 L106.44 425.27 L107.58 423.14 L108.72 421.24 L109.86 419.57 L111 418.12 L112.14 416.9 L113.28 415.91 L114.42 415.14 L115.56 414.6 L116.7 414.29 L117.84 414.2 L118.98 414.31 L120.12 414.59 L121.26 415.04 L122.4 415.66 L123.54 416.45 L124.68 417.41 L125.82 418.55 L126.96 419.86 L128.1 421.34 L129.24 422.99 L130.38 424.81 L131.52 426.8 L132.66 428.96 L133.8 431.3" stroke="#d0625f" stroke-width="1.3" fill="none" stroke-dasharray="3.4 2.2"/><line x1="133.8" y1="431.3" x2="152.7" y2="431.3" stroke="#d0625f" stroke-width="1.3" /><path d="M152.7 431.3 L153.85 427.65 L154.99 424.28 L156.14 421.16 L157.29 418.32 L158.43 415.75 L159.58 413.44 L160.73 411.4 L161.87 409.62 L163.02 408.12 L164.17 406.88 L165.31 405.91 L166.46 405.21 L167.61 404.77 L168.75 404.6 L169.9 404.72 L171.05 405.18 L172.19 405.96 L173.34 407.06 L174.49 408.5 L175.63 410.27 L176.78 412.36 L177.93 414.78 L179.07 417.54 L180.22 420.62 L181.37 424.02 L182.51 427.76 L183.66 431.83 L184.81 436.22 L185.95 440.95 L187.1 446" stroke="#d0625f" stroke-width="1.3" fill="none" stroke-dasharray="3.4 2.2"/><line x1="187.1" y1="446" x2="204.3" y2="446" stroke="#d0625f" stroke-width="1.3" /><text x="31.9" y="401.4" font-size="9.3" text-anchor="start" fill="#222" >Fe<tspan font-size="72%" dy="2">2</tspan><tspan dy="-2">&#8203;</tspan>N</text><text x="31.9" y="412" font-size="7.4" text-anchor="start" fill="#222" >H atoms</text><text x="64.5" y="438.6" font-size="7.8" text-anchor="middle" fill="#222" >TS8</text><text x="119.3" y="439" font-size="7.8" text-anchor="middle" fill="#222" >TS9</text><text x="168.9" y="439" font-size="7.8" text-anchor="middle" fill="#222" >TS10</text><text x="0" y="0" font-size="8.2" text-anchor="middle" fill="#222" font-style="italic" transform="translate(39.5 427) rotate(-72)">N<tspan font-size="65%" dy="1.8">site</tspan><tspan dy="-1.8">&#8203;</tspan></text><text x="0" y="0" font-size="8.2" text-anchor="middle" fill="#222" font-style="italic" transform="translate(92 423.5) rotate(-72)">N<tspan font-size="65%" dy="1.8">site</tspan><tspan dy="-1.8">&#8203;</tspan>H</text><text x="0" y="0" font-size="8.2" text-anchor="middle" fill="#222" font-style="italic" transform="translate(144.5 413.5) rotate(-72)">N<tspan font-size="65%" dy="1.8">site</tspan><tspan dy="-1.8">&#8203;</tspan>H<tspan font-size="65%" dy="1.8">2</tspan><tspan dy="-1.8">&#8203;</tspan></text><text x="0" y="0" font-size="8.2" text-anchor="middle" fill="#222" font-style="italic" transform="translate(193.5 422) rotate(-72)">N<tspan font-size="65%" dy="1.8">site</tspan><tspan dy="-1.8">&#8203;</tspan>H<tspan font-size="65%" dy="1.8">3</tspan><tspan dy="-1.8">&#8203;</tspan></text><rect x="29.3" y="390.3" width="175" height="140.9" fill="none" stroke="#333" stroke-width="1.7" /><line x1="27.1" y1="402.05" x2="29.3" y2="402.05" stroke="#222" stroke-width="0.8" /><line x1="27.1" y1="413.9" x2="29.3" y2="413.9" stroke="#222" stroke-width="0.8" /><line x1="27.1" y1="425.75" x2="29.3" y2="425.75" stroke="#222" stroke-width="0.8" /><line x1="27.1" y1="437.6" x2="29.3" y2="437.6" stroke="#222" stroke-width="0.8" /><line x1="27.1" y1="449.45" x2="29.3" y2="449.45" stroke="#222" stroke-width="0.8" /><text x="24.5" y="417.4" font-size="10.4" text-anchor="end" fill="#222" >1</text><text x="24.5" y="441.1" font-size="10.4" text-anchor="end" fill="#222" >0</text><text x="116.8" y="551" font-size="12" text-anchor="middle" fill="#222" >Reaction Coordinate</text><text x="0" y="0" font-size="11.7" text-anchor="middle" fill="#222" transform="translate(10.9 465.1) rotate(-90)" >Free energy / eV</text><text x="7.2" y="402.5" font-size="13" text-anchor="start" fill="#222" >h</text><text x="101.3" y="384" font-size="1" text-anchor="start" fill="#222" ></text><mask id="mth201" maskUnits="userSpaceOnUse" maskContentUnits="userSpaceOnUse" x="0" y="0" width="39.8" height="29.5"><rect x="0" y="0" width="39.8" height="29.5" fill="url(#thrg)"/></mask><g transform="translate(252.5 458)" mask="url(#mth201)"><g filter="url(#soft)"><line x1="-5" y1="-25.77" x2="44.8" y2="-4.85" stroke="#c9c9ce" stroke-width="0.7" /><line x1="-5" y1="-16.27" x2="44.8" y2="4.65" stroke="#c9c9ce" stroke-width="0.7" /><line x1="-5" y1="-6.77" x2="44.8" y2="14.15" stroke="#c9c9ce" stroke-width="0.7" /><line x1="-5" y1="2.73" x2="44.8" y2="23.65" stroke="#c9c9ce" stroke-width="0.7" /><line x1="-5" y1="12.23" x2="44.8" y2="33.15" stroke="#c9c9ce" stroke-width="0.7" /><line x1="-5" y1="21.73" x2="44.8" y2="42.65" stroke="#c9c9ce" stroke-width="0.7" /><line x1="-5" y1="31.23" x2="44.8" y2="52.15" stroke="#c9c9ce" stroke-width="0.7" /><line x1="-5" y1="40.73" x2="44.8" y2="61.65" stroke="#c9c9ce" stroke-width="0.7" /><line x1="-5" y1="50.23" x2="44.8" y2="71.15" stroke="#c9c9ce" stroke-width="0.7" /><line x1="-5" y1="59.73" x2="44.8" y2="80.65" stroke="#c9c9ce" stroke-width="0.7" /><line x1="-25.98" y1="-5" x2="-10.97" y2="34.5" stroke="#c9c9ce" stroke-width="0.7" /><line x1="-14.98" y1="-5" x2="0.03" y2="34.5" stroke="#c9c9ce" stroke-width="0.7" /><line x1="-3.98" y1="-5" x2="11.03" y2="34.5" stroke="#c9c9ce" stroke-width="0.7" /><line x1="7.02" y1="-5" x2="22.03" y2="34.5" stroke="#c9c9ce" stroke-width="0.7" /><line x1="18.02" y1="-5" x2="33.03" y2="34.5" stroke="#c9c9ce" stroke-width="0.7" /><line x1="29.02" y1="-5" x2="44.03" y2="34.5" stroke="#c9c9ce" stroke-width="0.7" /><line x1="40.02" y1="-5" x2="55.03" y2="34.5" stroke="#c9c9ce" stroke-width="0.7" /><line x1="51.02" y1="-5" x2="66.03" y2="34.5" stroke="#c9c9ce" stroke-width="0.7" /><line x1="62.02" y1="-5" x2="77.03" y2="34.5" stroke="#c9c9ce" stroke-width="0.7" /><circle cx="31.3" cy="-1.4" r="3.38" fill="#efb8b8" opacity="0.75"/><circle cx="12.1" cy="9.21" r="3.7" fill="#efb8b8" opacity="0.75"/><circle cx="8.01" cy="-1.92" r="2.9" fill="#efb8b8" opacity="0.75"/><circle cx="38.44" cy="21.05" r="3.73" fill="#efb8b8" opacity="0.75"/><circle cx="29.29" cy="26.38" r="3.31" fill="#efb8b8" opacity="0.75"/><circle cx="7.94" cy="27.46" r="3.89" fill="#efb8b8" opacity="0.75"/><circle cx="25.88" cy="15.7" r="1.1" fill="#aab6d6"/><circle cx="-0.3" cy="4.71" r="1.1" fill="#aab6d6"/><circle cx="21.59" cy="4.4" r="1.1" fill="#aab6d6"/></g></g><mask id="mth202" maskUnits="userSpaceOnUse" maskContentUnits="userSpaceOnUse" x="0" y="0" width="39.8" height="29.5"><rect x="0" y="0" width="39.8" height="29.5" fill="url(#thrg)"/></mask><g transform="translate(252.5 501)" mask="url(#mth202)"><g filter="url(#soft)"><line x1="-5" y1="-26.61" x2="44.8" y2="-5.69" stroke="#c9c9ce" stroke-width="0.7" /><line x1="-5" y1="-17.11" x2="44.8" y2="3.81" stroke="#c9c9ce" stroke-width="0.7" /><line x1="-5" y1="-7.61" x2="44.8" y2="13.31" stroke="#c9c9ce" stroke-width="0.7" /><line x1="-5" y1="1.89" x2="44.8" y2="22.81" stroke="#c9c9ce" stroke-width="0.7" /><line x1="-5" y1="11.39" x2="44.8" y2="32.31" stroke="#c9c9ce" stroke-width="0.7" /><line x1="-5" y1="20.89" x2="44.8" y2="41.81" stroke="#c9c9ce" stroke-width="0.7" /><line x1="-5" y1="30.39" x2="44.8" y2="51.31" stroke="#c9c9ce" stroke-width="0.7" /><line x1="-5" y1="39.89" x2="44.8" y2="60.81" stroke="#c9c9ce" stroke-width="0.7" /><line x1="-5" y1="49.39" x2="44.8" y2="70.31" stroke="#c9c9ce" stroke-width="0.7" /><line x1="-5" y1="58.89" x2="44.8" y2="79.81" stroke="#c9c9ce" stroke-width="0.7" /><line x1="-31.78" y1="-5" x2="-16.77" y2="34.5" stroke="#c9c9ce" stroke-width="0.7" /><line x1="-20.78" y1="-5" x2="-5.77" y2="34.5" stroke="#c9c9ce" stroke-width="0.7" /><line x1="-9.78" y1="-5" x2="5.23" y2="34.5" stroke="#c9c9ce" stroke-width="0.7" /><line x1="1.22" y1="-5" x2="16.23" y2="34.5" stroke="#c9c9ce" stroke-width="0.7" /><line x1="12.22" y1="-5" x2="27.23" y2="34.5" stroke="#c9c9ce" stroke-width="0.7" /><line x1="23.22" y1="-5" x2="38.23" y2="34.5" stroke="#c9c9ce" stroke-width="0.7" /><line x1="34.22" y1="-5" x2="49.23" y2="34.5" stroke="#c9c9ce" stroke-width="0.7" /><line x1="45.22" y1="-5" x2="60.23" y2="34.5" stroke="#c9c9ce" stroke-width="0.7" /><line x1="56.22" y1="-5" x2="71.23" y2="34.5" stroke="#c9c9ce" stroke-width="0.7" /><circle cx="9.44" cy="18.17" r="3.33" fill="#efb8b8" opacity="0.75"/><circle cx="35.89" cy="0.31" r="3.28" fill="#efb8b8" opacity="0.75"/><circle cx="22.2" cy="23.01" r="3.9" fill="#efb8b8" opacity="0.75"/><circle cx="40.8" cy="10.74" r="3.58" fill="#efb8b8" opacity="0.75"/><circle cx="36.39" cy="28.6" r="2.64" fill="#efb8b8" opacity="0.75"/><circle cx="27.5" cy="5.56" r="3.36" fill="#efb8b8" opacity="0.75"/><circle cx="1.02" cy="23.42" r="1.1" fill="#aab6d6"/><circle cx="14.31" cy="0.5" r="1.1" fill="#aab6d6"/><circle cx="31.69" cy="17.3" r="1.1" fill="#aab6d6"/></g></g><mask id="mth203" maskUnits="userSpaceOnUse" maskContentUnits="userSpaceOnUse" x="0" y="0" width="39.8" height="38.2"><rect x="0" y="0" width="39.8" height="38.2" fill="url(#thrg)"/></mask><g transform="translate(315.9 448.2)" mask="url(#mth203)"><g filter="url(#soft)"><line x1="-5" y1="-27.5" x2="44.8" y2="-6.59" stroke="#c9c9ce" stroke-width="0.7" /><line x1="-5" y1="-18" x2="44.8" y2="2.91" stroke="#c9c9ce" stroke-width="0.7" /><line x1="-5" y1="-8.5" x2="44.8" y2="12.41" stroke="#c9c9ce" stroke-width="0.7" /><line x1="-5" y1="1" x2="44.8" y2="21.91" stroke="#c9c9ce" stroke-width="0.7" /><line x1="-5" y1="10.5" x2="44.8" y2="31.41" stroke="#c9c9ce" stroke-width="0.7" /><line x1="-5" y1="20" x2="44.8" y2="40.91" stroke="#c9c9ce" stroke-width="0.7" /><line x1="-5" y1="29.5" x2="44.8" y2="50.41" stroke="#c9c9ce" stroke-width="0.7" /><line x1="-5" y1="39" x2="44.8" y2="59.91" stroke="#c9c9ce" stroke-width="0.7" /><line x1="-5" y1="48.5" x2="44.8" y2="69.41" stroke="#c9c9ce" stroke-width="0.7" /><line x1="-5" y1="58" x2="44.8" y2="78.91" stroke="#c9c9ce" stroke-width="0.7" /><line x1="-27.87" y1="-5" x2="-9.56" y2="43.2" stroke="#c9c9ce" stroke-width="0.7" /><line x1="-16.87" y1="-5" x2="1.44" y2="43.2" stroke="#c9c9ce" stroke-width="0.7" /><line x1="-5.87" y1="-5" x2="12.44" y2="43.2" stroke="#c9c9ce" stroke-width="0.7" /><line x1="5.13" y1="-5" x2="23.44" y2="43.2" stroke="#c9c9ce" stroke-width="0.7" /><line x1="16.13" y1="-5" x2="34.44" y2="43.2" stroke="#c9c9ce" stroke-width="0.7" /><line x1="27.13" y1="-5" x2="45.44" y2="43.2" stroke="#c9c9ce" stroke-width="0.7" /><line x1="38.13" y1="-5" x2="56.44" y2="43.2" stroke="#c9c9ce" stroke-width="0.7" /><line x1="49.13" y1="-5" x2="67.44" y2="43.2" stroke="#c9c9ce" stroke-width="0.7" /><line x1="60.13" y1="-5" x2="78.44" y2="43.2" stroke="#c9c9ce" stroke-width="0.7" /><circle cx="1.45" cy="13.7" r="2.89" fill="#efb8b8" opacity="0.75"/><circle cx="10.48" cy="35.59" r="2.64" fill="#efb8b8" opacity="0.75"/><circle cx="40.68" cy="29.87" r="3.64" fill="#efb8b8" opacity="0.75"/><circle cx="26.53" cy="24.44" r="3.64" fill="#efb8b8" opacity="0.75"/><circle cx="17.91" cy="29.62" r="2.93" fill="#efb8b8" opacity="0.75"/><circle cx="19.52" cy="0.41" r="3.29" fill="#efb8b8" opacity="0.75"/><circle cx="41.04" cy="1.93" r="3.31" fill="#efb8b8" opacity="0.75"/><circle cx="31.44" cy="35.31" r="1.1" fill="#aab6d6"/><circle cx="5.27" cy="24.31" r="1.1" fill="#aab6d6"/><circle cx="9.76" cy="7.2" r="1.1" fill="#aab6d6"/></g></g><mask id="mth204" maskUnits="userSpaceOnUse" maskContentUnits="userSpaceOnUse" x="0" y="0" width="39.8" height="38.2"><rect x="0" y="0" width="39.8" height="38.2" fill="url(#thrg)"/></mask><g transform="translate(315.9 492)" mask="url(#mth204)"><g filter="url(#soft)"><line x1="-5" y1="-23.29" x2="44.8" y2="-2.38" stroke="#c9c9ce" stroke-width="0.7" /><line x1="-5" y1="-13.79" x2="44.8" y2="7.12" stroke="#c9c9ce" stroke-width="0.7" /><line x1="-5" y1="-4.29" x2="44.8" y2="16.62" stroke="#c9c9ce" stroke-width="0.7" /><line x1="-5" y1="5.21" x2="44.8" y2="26.12" stroke="#c9c9ce" stroke-width="0.7" /><line x1="-5" y1="14.71" x2="44.8" y2="35.62" stroke="#c9c9ce" stroke-width="0.7" /><line x1="-5" y1="24.21" x2="44.8" y2="45.12" stroke="#c9c9ce" stroke-width="0.7" /><line x1="-5" y1="33.71" x2="44.8" y2="54.62" stroke="#c9c9ce" stroke-width="0.7" /><line x1="-5" y1="43.21" x2="44.8" y2="64.12" stroke="#c9c9ce" stroke-width="0.7" /><line x1="-5" y1="52.71" x2="44.8" y2="73.62" stroke="#c9c9ce" stroke-width="0.7" /><line x1="-5" y1="62.21" x2="44.8" y2="83.12" stroke="#c9c9ce" stroke-width="0.7" /><line x1="-30.07" y1="-5" x2="-11.76" y2="43.2" stroke="#c9c9ce" stroke-width="0.7" /><line x1="-19.07" y1="-5" x2="-0.76" y2="43.2" stroke="#c9c9ce" stroke-width="0.7" /><line x1="-8.07" y1="-5" x2="10.24" y2="43.2" stroke="#c9c9ce" stroke-width="0.7" /><line x1="2.93" y1="-5" x2="21.24" y2="43.2" stroke="#c9c9ce" stroke-width="0.7" /><line x1="13.93" y1="-5" x2="32.24" y2="43.2" stroke="#c9c9ce" stroke-width="0.7" /><line x1="24.93" y1="-5" x2="43.24" y2="43.2" stroke="#c9c9ce" stroke-width="0.7" /><line x1="35.93" y1="-5" x2="54.24" y2="43.2" stroke="#c9c9ce" stroke-width="0.7" /><line x1="46.93" y1="-5" x2="65.24" y2="43.2" stroke="#c9c9ce" stroke-width="0.7" /><line x1="57.93" y1="-5" x2="76.24" y2="43.2" stroke="#c9c9ce" stroke-width="0.7" /><circle cx="16.74" cy="32.93" r="2.89" fill="#efb8b8" opacity="0.75"/><circle cx="38.93" cy="32.83" r="3.35" fill="#efb8b8" opacity="0.75"/><circle cx="8.2" cy="39.61" r="2.83" fill="#efb8b8" opacity="0.75"/><circle cx="26.41" cy="28.07" r="3.54" fill="#efb8b8" opacity="0.75"/><circle cx="27.1" cy="-0.66" r="3.76" fill="#efb8b8" opacity="0.75"/><circle cx="4.61" cy="0.16" r="3.27" fill="#efb8b8" opacity="0.75"/><circle cx="9.53" cy="10.71" r="3.97" fill="#efb8b8" opacity="0.75"/><circle cx="22.18" cy="16.45" r="3.99" fill="#efb8b8" opacity="0.75"/><circle cx="39.72" cy="4.99" r="1.1" fill="#aab6d6"/><circle cx="35.23" cy="22.1" r="1.1" fill="#aab6d6"/><circle cx="13.34" cy="22.41" r="1.1" fill="#aab6d6"/><circle cx="30.93" cy="10.8" r="1.1" fill="#aab6d6"/></g></g><mask id="mth205" maskUnits="userSpaceOnUse" maskContentUnits="userSpaceOnUse" x="0" y="0" width="39.8" height="38.2"><rect x="0" y="0" width="39.8" height="38.2" fill="url(#thrg)"/></mask><g transform="translate(377.8 448.2)" mask="url(#mth205)"><g filter="url(#soft)"><line x1="-5" y1="-28.55" x2="44.8" y2="-7.63" stroke="#c9c9ce" stroke-width="0.7" /><line x1="-5" y1="-19.05" x2="44.8" y2="1.87" stroke="#c9c9ce" stroke-width="0.7" /><line x1="-5" y1="-9.55" x2="44.8" y2="11.37" stroke="#c9c9ce" stroke-width="0.7" /><line x1="-5" y1="-0.05" x2="44.8" y2="20.87" stroke="#c9c9ce" stroke-width="0.7" /><line x1="-5" y1="9.45" x2="44.8" y2="30.37" stroke="#c9c9ce" stroke-width="0.7" /><line x1="-5" y1="18.95" x2="44.8" y2="39.87" stroke="#c9c9ce" stroke-width="0.7" /><line x1="-5" y1="28.45" x2="44.8" y2="49.37" stroke="#c9c9ce" stroke-width="0.7" /><line x1="-5" y1="37.95" x2="44.8" y2="58.87" stroke="#c9c9ce" stroke-width="0.7" /><line x1="-5" y1="47.45" x2="44.8" y2="68.37" stroke="#c9c9ce" stroke-width="0.7" /><line x1="-5" y1="56.95" x2="44.8" y2="77.87" stroke="#c9c9ce" stroke-width="0.7" /><line x1="-26.73" y1="-5" x2="-8.41" y2="43.2" stroke="#c9c9ce" stroke-width="0.7" /><line x1="-15.73" y1="-5" x2="2.59" y2="43.2" stroke="#c9c9ce" stroke-width="0.7" /><line x1="-4.73" y1="-5" x2="13.59" y2="43.2" stroke="#c9c9ce" stroke-width="0.7" /><line x1="6.27" y1="-5" x2="24.59" y2="43.2" stroke="#c9c9ce" stroke-width="0.7" /><line x1="17.27" y1="-5" x2="35.59" y2="43.2" stroke="#c9c9ce" stroke-width="0.7" /><line x1="28.27" y1="-5" x2="46.59" y2="43.2" stroke="#c9c9ce" stroke-width="0.7" /><line x1="39.27" y1="-5" x2="57.59" y2="43.2" stroke="#c9c9ce" stroke-width="0.7" /><line x1="50.27" y1="-5" x2="68.59" y2="43.2" stroke="#c9c9ce" stroke-width="0.7" /><line x1="61.27" y1="-5" x2="79.59" y2="43.2" stroke="#c9c9ce" stroke-width="0.7" /><circle cx="28.25" cy="23.23" r="3.8" fill="#efb8b8" opacity="0.75"/><circle cx="33.34" cy="7.1" r="3.22" fill="#efb8b8" opacity="0.75"/><circle cx="23.24" cy="12.31" r="3.8" fill="#efb8b8" opacity="0.75"/><circle cx="18.6" cy="28.9" r="3.27" fill="#efb8b8" opacity="0.75"/><circle cx="40.93" cy="0.91" r="3.99" fill="#efb8b8" opacity="0.75"/><circle cx="1.79" cy="13.22" r="3.13" fill="#efb8b8" opacity="0.75"/><circle cx="35.87" cy="17.18" r="2.65" fill="#efb8b8" opacity="0.75"/><circle cx="10.45" cy="34.94" r="1.1" fill="#aab6d6"/><circle cx="10.65" cy="6.53" r="1.1" fill="#aab6d6"/><circle cx="14.95" cy="17.83" r="1.1" fill="#aab6d6"/></g></g><mask id="mth206" maskUnits="userSpaceOnUse" maskContentUnits="userSpaceOnUse" x="0" y="0" width="39.8" height="38.2"><rect x="0" y="0" width="39.8" height="38.2" fill="url(#thrg)"/></mask><g transform="translate(377.8 492)" mask="url(#mth206)"><g filter="url(#soft)"><line x1="-5" y1="-27.1" x2="44.8" y2="-6.19" stroke="#c9c9ce" stroke-width="0.7" /><line x1="-5" y1="-17.6" x2="44.8" y2="3.31" stroke="#c9c9ce" stroke-width="0.7" /><line x1="-5" y1="-8.1" x2="44.8" y2="12.81" stroke="#c9c9ce" stroke-width="0.7" /><line x1="-5" y1="1.4" x2="44.8" y2="22.31" stroke="#c9c9ce" stroke-width="0.7" /><line x1="-5" y1="10.9" x2="44.8" y2="31.81" stroke="#c9c9ce" stroke-width="0.7" /><line x1="-5" y1="20.4" x2="44.8" y2="41.31" stroke="#c9c9ce" stroke-width="0.7" /><line x1="-5" y1="29.9" x2="44.8" y2="50.81" stroke="#c9c9ce" stroke-width="0.7" /><line x1="-5" y1="39.4" x2="44.8" y2="60.31" stroke="#c9c9ce" stroke-width="0.7" /><line x1="-5" y1="48.9" x2="44.8" y2="69.81" stroke="#c9c9ce" stroke-width="0.7" /><line x1="-5" y1="58.4" x2="44.8" y2="79.31" stroke="#c9c9ce" stroke-width="0.7" /><line x1="-27.14" y1="-5" x2="-8.83" y2="43.2" stroke="#c9c9ce" stroke-width="0.7" /><line x1="-16.14" y1="-5" x2="2.17" y2="43.2" stroke="#c9c9ce" stroke-width="0.7" /><line x1="-5.14" y1="-5" x2="13.17" y2="43.2" stroke="#c9c9ce" stroke-width="0.7" /><line x1="5.86" y1="-5" x2="24.17" y2="43.2" stroke="#c9c9ce" stroke-width="0.7" /><line x1="16.86" y1="-5" x2="35.17" y2="43.2" stroke="#c9c9ce" stroke-width="0.7" /><line x1="27.86" y1="-5" x2="46.17" y2="43.2" stroke="#c9c9ce" stroke-width="0.7" /><line x1="38.86" y1="-5" x2="57.17" y2="43.2" stroke="#c9c9ce" stroke-width="0.7" /><line x1="49.86" y1="-5" x2="68.17" y2="43.2" stroke="#c9c9ce" stroke-width="0.7" /><line x1="60.86" y1="-5" x2="79.17" y2="43.2" stroke="#c9c9ce" stroke-width="0.7" /><circle cx="33.07" cy="37.05" r="3.85" fill="#efb8b8" opacity="0.75"/><circle cx="36.16" cy="19.69" r="3.47" fill="#efb8b8" opacity="0.75"/><circle cx="6.95" cy="25.27" r="3.18" fill="#efb8b8" opacity="0.75"/><circle cx="18.94" cy="2.4" r="3.45" fill="#efb8b8" opacity="0.75"/><circle cx="18.93" cy="30.21" r="3.2" fill="#efb8b8" opacity="0.75"/><circle cx="11.09" cy="37.28" r="3.22" fill="#efb8b8" opacity="0.75"/><circle cx="33.07" cy="7.72" r="3.56" fill="#efb8b8" opacity="0.75"/><circle cx="41.49" cy="1.92" r="1.1" fill="#aab6d6"/><circle cx="2.02" cy="13.84" r="1.1" fill="#aab6d6"/><circle cx="41.29" cy="30.34" r="1.1" fill="#aab6d6"/></g></g><circle cx="262.2" cy="482" r="1.9" fill="#4a70b0"/><circle cx="261.63" cy="481.33" r="0.66" fill="#ffffff" opacity="0.35"/><circle cx="279.8" cy="484" r="2.5" fill="#6cc46c"/><circle cx="279.05" cy="483.12" r="0.88" fill="#ffffff" opacity="0.35"/><circle cx="262.2" cy="526" r="1.9" fill="#4a70b0"/><circle cx="261.63" cy="525.34" r="0.66" fill="#ffffff" opacity="0.35"/><circle cx="279.8" cy="528" r="2.5" fill="#6cc46c"/><circle cx="279.05" cy="527.12" r="0.88" fill="#ffffff" opacity="0.35"/><circle cx="341.3" cy="484.8" r="2.5" fill="#6cc46c"/><circle cx="340.55" cy="483.93" r="0.88" fill="#ffffff" opacity="0.35"/><circle cx="341.3" cy="528.6" r="2.5" fill="#6cc46c"/><circle cx="340.55" cy="527.73" r="0.88" fill="#ffffff" opacity="0.35"/><circle cx="332.1" cy="464.5" r="2.3" fill="#3a5a90"/><circle cx="331.41" cy="463.69" r="0.8" fill="#ffffff" opacity="0.35"/><circle cx="394.9" cy="463.7" r="2.4" fill="#3a5a90"/><circle cx="394.18" cy="462.86" r="0.84" fill="#ffffff" opacity="0.35"/><circle cx="332.1" cy="507.5" r="2.3" fill="#2f4a7a"/><circle cx="331.41" cy="506.69" r="0.8" fill="#ffffff" opacity="0.35"/><circle cx="386.8" cy="482" r="2" fill="#5cbc5c"/><circle cx="386.2" cy="481.3" r="0.7" fill="#ffffff" opacity="0.35"/><circle cx="394.9" cy="507.5" r="2.4" fill="#3a5a90"/><circle cx="394.18" cy="506.66" r="0.84" fill="#ffffff" opacity="0.35"/><circle cx="386.8" cy="525.4" r="2" fill="#5cbc5c"/><circle cx="386.2" cy="524.7" r="0.7" fill="#ffffff" opacity="0.35"/><line x1="254.9" y1="453.4" x2="268.4" y2="453.4" stroke="#4a78bd" stroke-width="1.2" /><text x="272.8" y="457.2" font-size="9.4" text-anchor="start" fill="#222" >Without K</text><line x1="254.9" y1="497.3" x2="268.4" y2="497.3" stroke="#d0625f" stroke-width="1.2" /><text x="272.8" y="501" font-size="9.4" text-anchor="start" fill="#222" >With K</text><line x1="248.4" y1="445.2" x2="272.9" y2="445.2" stroke="#4a78bd" stroke-width="1.3" /><path d="M272.9 445.2 L274.57 439.33 L276.23 433.85 L277.9 428.76 L279.57 424.07 L281.23 419.77 L282.9 415.87 L284.57 412.35 L286.23 409.24 L287.9 406.51 L289.57 404.18 L291.23 402.25 L292.9 400.7 L294.57 399.55 L296.23 398.8 L297.9 398.43 L299.57 398.46 L301.23 398.82 L302.9 399.51 L304.57 400.54 L306.23 401.9 L307.9 403.6 L309.57 405.63 L311.23 408 L312.9 410.69 L314.57 413.73 L316.23 417.09 L317.9 420.79 L319.57 424.83 L321.23 429.2 L322.9 433.9" stroke="#4a78bd" stroke-width="1.3" fill="none" stroke-dasharray="3.4 2.2"/><line x1="322.9" y1="434.1" x2="348.9" y2="434.1" stroke="#4a78bd" stroke-width="1.3" /><path d="M348.9 434.1 L350.56 428.66 L352.22 423.61 L353.88 418.96 L355.54 414.7 L357.2 410.84 L358.86 407.36 L360.52 404.28 L362.18 401.59 L363.84 399.3 L365.5 397.4 L367.16 395.89 L368.82 394.77 L370.48 394.05 L372.14 393.72 L373.8 393.79 L375.46 394.24 L377.12 395.09 L378.78 396.33 L380.44 397.96 L382.1 399.99 L383.76 402.4 L385.42 405.21 L387.08 408.41 L388.74 412.01 L390.4 415.99 L392.06 420.37 L393.72 425.14 L395.38 430.3 L397.04 435.85 L398.7 441.8" stroke="#4a78bd" stroke-width="1.3" fill="none" stroke-dasharray="3.4 2.2"/><line x1="398.7" y1="441.8" x2="424.1" y2="441.8" stroke="#4a78bd" stroke-width="1.3" /><line x1="248.4" y1="445.2" x2="272.9" y2="445.2" stroke="#d0625f" stroke-width="1.3" /><path d="M272.9 445.2 L274.57 439.33 L276.23 433.85 L277.9 428.76 L279.57 424.07 L281.23 419.77 L282.9 415.87 L284.57 412.35 L286.23 409.24 L287.9 406.51 L289.57 404.18 L291.23 402.25 L292.9 400.7 L294.57 399.55 L296.23 398.8 L297.9 398.43 L299.57 398.46 L301.23 398.87 L302.9 399.66 L304.57 400.82 L306.23 402.37 L307.9 404.29 L309.57 406.59 L311.23 409.27 L312.9 412.32 L314.57 415.76 L316.23 419.57 L317.9 423.76 L319.57 428.33 L321.23 433.27 L322.9 438.6" stroke="#d0625f" stroke-width="1.3" fill="none" stroke-dasharray="3.4 2.2"/><line x1="322.9" y1="438.3" x2="348.9" y2="438.3" stroke="#d0625f" stroke-width="1.3" /><path d="M348.9 438.3 L350.56 432.78 L352.22 427.66 L353.88 422.94 L355.54 418.61 L357.2 414.69 L358.86 411.16 L360.52 408.04 L362.18 405.31 L363.84 402.98 L365.5 401.05 L367.16 399.52 L368.82 398.39 L370.48 397.66 L372.14 397.32 L373.8 397.38 L375.46 397.83 L377.12 398.67 L378.78 399.89 L380.44 401.49 L382.1 403.48 L383.76 405.86 L385.42 408.62 L387.08 411.77 L388.74 415.3 L390.4 419.22 L392.06 423.53 L393.72 428.22 L395.38 433.29 L397.04 438.75 L398.7 444.6" stroke="#d0625f" stroke-width="1.3" fill="none" stroke-dasharray="3.4 2.2"/><line x1="398.7" y1="444.6" x2="424.1" y2="444.6" stroke="#d0625f" stroke-width="1.3" /><text x="251" y="401.8" font-size="9.3" text-anchor="start" fill="#222" >Fe<tspan font-size="72%" dy="2">2</tspan><tspan dy="-2">&#8203;</tspan>N</text><text x="251" y="412.9" font-size="7.4" text-anchor="start" fill="#222" >C atom</text><text x="298.9" y="425.5" font-size="7.8" text-anchor="middle" fill="#222" >TS11</text><text x="373.8" y="425.6" font-size="7.8" text-anchor="middle" fill="#222" >TS12</text><text x="0" y="0" font-size="8.2" text-anchor="middle" fill="#222" font-style="italic" transform="translate(268 427.5) rotate(-52)">N<tspan font-size="65%" dy="1.8">sub</tspan><tspan dy="-1.8">&#8203;</tspan> &amp; C<tspan font-size="65%" dy="1.8">sub</tspan><tspan dy="-1.8">&#8203;</tspan></text><text x="0" y="0" font-size="8.2" text-anchor="middle" fill="#222" font-style="italic" transform="translate(340 421.5) rotate(-52)">N<tspan font-size="65%" dy="1.8">sur</tspan><tspan dy="-1.8">&#8203;</tspan> &amp; C<tspan font-size="65%" dy="1.8">sur</tspan><tspan dy="-1.8">&#8203;</tspan></text><text x="0" y="0" font-size="8.2" text-anchor="middle" fill="#222" font-style="italic" transform="translate(411 421.5) rotate(-52)">N<tspan font-size="65%" dy="1.8">sur</tspan><tspan dy="-1.8">&#8203;</tspan> &amp; C<tspan font-size="65%" dy="1.8">sub</tspan><tspan dy="-1.8">&#8203;</tspan></text><rect x="248.4" y="390.9" width="175.7" height="141" fill="none" stroke="#333" stroke-width="1.7" /><line x1="246.2" y1="394.35" x2="248.4" y2="394.35" stroke="#222" stroke-width="0.8" /><line x1="246.2" y1="411.3" x2="248.4" y2="411.3" stroke="#222" stroke-width="0.8" /><line x1="246.2" y1="428.25" x2="248.4" y2="428.25" stroke="#222" stroke-width="0.8" /><line x1="246.2" y1="445.2" x2="248.4" y2="445.2" stroke="#222" stroke-width="0.8" /><text x="243.6" y="414.8" font-size="10.4" text-anchor="end" fill="#222" >1</text><text x="243.6" y="448.7" font-size="10.4" text-anchor="end" fill="#222" >0</text><text x="336.2" y="551" font-size="12" text-anchor="middle" fill="#222" >Reaction Coordinate</text><text x="0" y="0" font-size="11.7" text-anchor="middle" fill="#222" transform="translate(230.3 465.1) rotate(-90)" >Free energy / eV</text><text x="225.5" y="402.5" font-size="13" text-anchor="start" fill="#222" >i</text><rect x="446.2" y="391" width="67.6" height="160.5" fill="#ededee" stroke="none" stroke-width="1" /><line x1="454.4" y1="445" x2="458.1" y2="431.7" stroke="#c3c6cc" stroke-width="3.4" stroke-linecap="round"/><line x1="454.4" y1="445" x2="458.1" y2="431.7" stroke="#f2f2f4" stroke-width="2" stroke-linecap="round"/><line x1="454.4" y1="445" x2="446" y2="452" stroke="#c3c6cc" stroke-width="3.4" stroke-linecap="round"/><line x1="454.4" y1="445" x2="446" y2="452" stroke="#f2f2f4" stroke-width="2" stroke-linecap="round"/><line x1="455.9" y1="453.2" x2="446" y2="462" stroke="#c3c6cc" stroke-width="3.4" stroke-linecap="round"/><line x1="455.9" y1="453.2" x2="446" y2="462" stroke="#f2f2f4" stroke-width="2" stroke-linecap="round"/><line x1="455.9" y1="453.2" x2="472.6" y2="460.9" stroke="#c3c6cc" stroke-width="3.4" stroke-linecap="round"/><line x1="455.9" y1="453.2" x2="472.6" y2="460.9" stroke="#f2f2f4" stroke-width="2" stroke-linecap="round"/><line x1="454.4" y1="445" x2="472.6" y2="460.9" stroke="#c3c6cc" stroke-width="3.4" stroke-linecap="round"/><line x1="454.4" y1="445" x2="472.6" y2="460.9" stroke="#f2f2f4" stroke-width="2" stroke-linecap="round"/><line x1="472.6" y1="460.9" x2="475.3" y2="476.5" stroke="#c3c6cc" stroke-width="3.4" stroke-linecap="round"/><line x1="472.6" y1="460.9" x2="475.3" y2="476.5" stroke="#f2f2f4" stroke-width="2" stroke-linecap="round"/><line x1="475.3" y1="476.5" x2="501.7" y2="473.6" stroke="#c3c6cc" stroke-width="3.4" stroke-linecap="round"/><line x1="475.3" y1="476.5" x2="501.7" y2="473.6" stroke="#f2f2f4" stroke-width="2" stroke-linecap="round"/><line x1="475.3" y1="476.5" x2="449.6" y2="481.5" stroke="#c3c6cc" stroke-width="3.4" stroke-linecap="round"/><line x1="475.3" y1="476.5" x2="449.6" y2="481.5" stroke="#f2f2f4" stroke-width="2" stroke-linecap="round"/><line x1="475.3" y1="476.5" x2="476.4" y2="496" stroke="#c3c6cc" stroke-width="3.4" stroke-linecap="round"/><line x1="475.3" y1="476.5" x2="476.4" y2="496" stroke="#f2f2f4" stroke-width="2" stroke-linecap="round"/><line x1="499.6" y1="456.1" x2="501.7" y2="473.6" stroke="#c3c6cc" stroke-width="3.4" stroke-linecap="round"/><line x1="499.6" y1="456.1" x2="501.7" y2="473.6" stroke="#f2f2f4" stroke-width="2" stroke-linecap="round"/><line x1="501.7" y1="473.6" x2="495.5" y2="500.5" stroke="#c3c6cc" stroke-width="3.4" stroke-linecap="round"/><line x1="501.7" y1="473.6" x2="495.5" y2="500.5" stroke="#f2f2f4" stroke-width="2" stroke-linecap="round"/><line x1="449.6" y1="481.5" x2="449.6" y2="500.5" stroke="#c3c6cc" stroke-width="3.4" stroke-linecap="round"/><line x1="449.6" y1="481.5" x2="449.6" y2="500.5" stroke="#f2f2f4" stroke-width="2" stroke-linecap="round"/><line x1="476.4" y1="496" x2="449.6" y2="500.5" stroke="#c3c6cc" stroke-width="3.4" stroke-linecap="round"/><line x1="476.4" y1="496" x2="449.6" y2="500.5" stroke="#f2f2f4" stroke-width="2" stroke-linecap="round"/><line x1="476.4" y1="496" x2="495.5" y2="500.5" stroke="#c3c6cc" stroke-width="3.4" stroke-linecap="round"/><line x1="476.4" y1="496" x2="495.5" y2="500.5" stroke="#f2f2f4" stroke-width="2" stroke-linecap="round"/><line x1="495.5" y1="500.5" x2="510" y2="503.8" stroke="#c3c6cc" stroke-width="3.4" stroke-linecap="round"/><line x1="495.5" y1="500.5" x2="510" y2="503.8" stroke="#f2f2f4" stroke-width="2" stroke-linecap="round"/><line x1="449.6" y1="500.5" x2="450.7" y2="517.2" stroke="#c3c6cc" stroke-width="3.4" stroke-linecap="round"/><line x1="449.6" y1="500.5" x2="450.7" y2="517.2" stroke="#f2f2f4" stroke-width="2" stroke-linecap="round"/><line x1="476.4" y1="496" x2="469" y2="520.6" stroke="#c3c6cc" stroke-width="3.4" stroke-linecap="round"/><line x1="476.4" y1="496" x2="469" y2="520.6" stroke="#f2f2f4" stroke-width="2" stroke-linecap="round"/><line x1="450.7" y1="517.2" x2="469" y2="520.6" stroke="#c3c6cc" stroke-width="3.4" stroke-linecap="round"/><line x1="450.7" y1="517.2" x2="469" y2="520.6" stroke="#f2f2f4" stroke-width="2" stroke-linecap="round"/><line x1="469" y1="520.6" x2="487" y2="524" stroke="#c3c6cc" stroke-width="3.4" stroke-linecap="round"/><line x1="469" y1="520.6" x2="487" y2="524" stroke="#f2f2f4" stroke-width="2" stroke-linecap="round"/><line x1="495.5" y1="500.5" x2="487" y2="524" stroke="#c3c6cc" stroke-width="3.4" stroke-linecap="round"/><line x1="495.5" y1="500.5" x2="487" y2="524" stroke="#f2f2f4" stroke-width="2" stroke-linecap="round"/><line x1="472.6" y1="460.9" x2="489.6" y2="439.1" stroke="#c3c6cc" stroke-width="3.4" stroke-linecap="round"/><line x1="472.6" y1="460.9" x2="489.6" y2="439.1" stroke="#f2f2f4" stroke-width="2" stroke-linecap="round"/><line x1="472.6" y1="460.9" x2="504" y2="435.1" stroke="#c3c6cc" stroke-width="3.4" stroke-linecap="round"/><line x1="472.6" y1="460.9" x2="504" y2="435.1" stroke="#f2f2f4" stroke-width="2" stroke-linecap="round"/><line x1="471.9" y1="446.5" x2="497" y2="422.4" stroke="#c3c6cc" stroke-width="3.4" stroke-linecap="round"/><line x1="471.9" y1="446.5" x2="497" y2="422.4" stroke="#f2f2f4" stroke-width="2" stroke-linecap="round"/><line x1="501.7" y1="473.6" x2="513.8" y2="475" stroke="#c3c6cc" stroke-width="3.4" stroke-linecap="round"/><line x1="501.7" y1="473.6" x2="513.8" y2="475" stroke="#f2f2f4" stroke-width="2" stroke-linecap="round"/><line x1="499.6" y1="456.1" x2="513.8" y2="452" stroke="#c3c6cc" stroke-width="3.4" stroke-linecap="round"/><line x1="499.6" y1="456.1" x2="513.8" y2="452" stroke="#f2f2f4" stroke-width="2" stroke-linecap="round"/><line x1="487" y1="524" x2="513.8" y2="530" stroke="#c3c6cc" stroke-width="3.4" stroke-linecap="round"/><line x1="487" y1="524" x2="513.8" y2="530" stroke="#f2f2f4" stroke-width="2" stroke-linecap="round"/><circle cx="472.6" cy="460.9" r="7.5" fill="url(#rgfe)"/><circle cx="501.7" cy="473.6" r="6.7" fill="url(#rgfe)"/><circle cx="449.6" cy="481.5" r="6.2" fill="url(#rgfe)"/><circle cx="476.4" cy="496" r="6.7" fill="url(#rgfe)"/><circle cx="510" cy="503.8" r="6.2" fill="url(#rgfe)"/><circle cx="450.7" cy="517.2" r="6.2" fill="url(#rgfe)"/><circle cx="487" cy="524" r="6.2" fill="url(#rgfe)"/><circle cx="454.4" cy="445" r="3.5" fill="url(#rgn)"/><circle cx="455.9" cy="453.2" r="3.3" fill="url(#rgn)"/><circle cx="475.3" cy="476.5" r="3.5" fill="url(#rgn)"/><circle cx="499.6" cy="456.1" r="3.3" fill="url(#rgn)"/><circle cx="449.6" cy="500.5" r="3.3" fill="url(#rgn)"/><circle cx="495.5" cy="500.5" r="3.5" fill="url(#rgn)"/><circle cx="469" cy="520.6" r="3.4" fill="url(#rgn)"/><circle cx="458.1" cy="431.7" r="2.2" fill="url(#rgh)"/><circle cx="471.9" cy="446.5" r="2.2" fill="url(#rgh)"/><circle cx="497" cy="422.4" r="11.1" fill="url(#rgk)"/><circle cx="504" cy="435.1" r="3.3" fill="url(#rgor)" opacity="0.7"/><circle cx="489.6" cy="439.1" r="3.3" fill="url(#rgor)"/><circle cx="491.7" cy="444" r="3.3" fill="url(#rgc)"/><text x="454.7" y="404.6" font-size="9.5" text-anchor="start" fill="#222" >K<tspan font-size="70%" dy="-3.2">+</tspan><tspan dy="3.2">&#8203;</tspan> promoter</text><rect x="517.1" y="391.6" width="61" height="49.9" fill="#ededee" stroke="none" stroke-width="1" /><clipPath id="cpb1"><rect x="517.1" y="391.6" width="61" height="49.9"/></clipPath><g clip-path="url(#cpb1)"><g filter="url(#soft2)" opacity="0.85"><line x1="548.2" y1="421.72" x2="568.79" y2="409.09" stroke="#c8c8cc" stroke-width="2.8" /><line x1="548.2" y1="421.72" x2="568.79" y2="409.09" stroke="#f8f8f8" stroke-width="1.3" /><line x1="563.67" y1="399.48" x2="561.68" y2="434.65" stroke="#c8c8cc" stroke-width="2.8" /><line x1="563.67" y1="399.48" x2="561.68" y2="434.65" stroke="#f8f8f8" stroke-width="1.3" /><line x1="537.61" y1="413.06" x2="553.25" y2="440.38" stroke="#c8c8cc" stroke-width="2.8" /><line x1="537.61" y1="413.06" x2="553.25" y2="440.38" stroke="#f8f8f8" stroke-width="1.3" /><line x1="537.61" y1="413.06" x2="524.68" y2="432.95" stroke="#c8c8cc" stroke-width="2.8" /><line x1="537.61" y1="413.06" x2="524.68" y2="432.95" stroke="#f8f8f8" stroke-width="1.3" /><line x1="524.68" y1="432.95" x2="563.67" y2="399.48" stroke="#c8c8cc" stroke-width="2.8" /><line x1="524.68" y1="432.95" x2="563.67" y2="399.48" stroke="#f8f8f8" stroke-width="1.3" /><line x1="561.68" y1="434.65" x2="548.2" y2="421.72" stroke="#c8c8cc" stroke-width="2.8" /><line x1="561.68" y1="434.65" x2="548.2" y2="421.72" stroke="#f8f8f8" stroke-width="1.3" /><line x1="524.68" y1="432.95" x2="573.6" y2="394.52" stroke="#c8c8cc" stroke-width="2.8" /><line x1="524.68" y1="432.95" x2="573.6" y2="394.52" stroke="#f8f8f8" stroke-width="1.3" /><line x1="524.68" y1="432.95" x2="573.6" y2="394.52" stroke="#c8c8cc" stroke-width="2.8" /><line x1="524.68" y1="432.95" x2="573.6" y2="394.52" stroke="#f8f8f8" stroke-width="1.3" /><line x1="573.6" y1="394.52" x2="568.79" y2="409.09" stroke="#c8c8cc" stroke-width="2.8" /><line x1="573.6" y1="394.52" x2="568.79" y2="409.09" stroke="#f8f8f8" stroke-width="1.3" /><line x1="537.67" y1="422.69" x2="524.68" y2="432.95" stroke="#c8c8cc" stroke-width="2.8" /><line x1="537.67" y1="422.69" x2="524.68" y2="432.95" stroke="#f8f8f8" stroke-width="1.3" /><line x1="561.68" y1="434.65" x2="573.6" y2="394.52" stroke="#c8c8cc" stroke-width="2.8" /><line x1="561.68" y1="434.65" x2="573.6" y2="394.52" stroke="#f8f8f8" stroke-width="1.3" /><circle cx="527.49" cy="429.92" r="5.49" fill="#e89a9a" opacity="0.75"/><circle cx="523.73" cy="419.67" r="4.2" fill="#e89a9a" opacity="0.75"/><circle cx="560.13" cy="434.08" r="4.14" fill="#e89a9a" opacity="0.75"/><circle cx="538.02" cy="405.11" r="5.2" fill="#e89a9a" opacity="0.75"/><circle cx="563.36" cy="433.24" r="4.61" fill="#e89a9a" opacity="0.75"/><circle cx="570.53" cy="399.58" r="5.26" fill="#e89a9a" opacity="0.75"/><circle cx="540.51" cy="412.66" r="5.16" fill="#e89a9a" opacity="0.75"/><circle cx="561.18" cy="396.02" r="4.01" fill="#e89a9a" opacity="0.75"/><circle cx="572.48" cy="398.43" r="4.95" fill="#e89a9a" opacity="0.75"/><circle cx="535.82" cy="411.69" r="5.16" fill="#e89a9a" opacity="0.75"/><circle cx="575.2" cy="430" r="2.3" fill="#a8bcd8"/><circle cx="524.68" cy="432.95" r="2.3" fill="#a8bcd8"/><circle cx="568.79" cy="409.09" r="2.3" fill="#a8bcd8"/><circle cx="520" cy="408" r="8" fill="#d8b0cc"/></g></g><rect x="517.1" y="391.6" width="61" height="49.9" fill="none" stroke="#555" stroke-width="0.8" stroke-dasharray="1.6 1.3"/><rect x="517.1" y="447.6" width="61" height="49.5" fill="#ededee" stroke="none" stroke-width="1" /><clipPath id="cpb2"><rect x="517.1" y="447.6" width="61" height="49.5"/></clipPath><g clip-path="url(#cpb2)"><g filter="url(#soft2)" opacity="0.85"><line x1="569.37" y1="482.47" x2="544.05" y2="458.96" stroke="#c8c8cc" stroke-width="2.8" /><line x1="569.37" y1="482.47" x2="544.05" y2="458.96" stroke="#f8f8f8" stroke-width="1.3" /><line x1="544.05" y1="458.96" x2="563.43" y2="486.9" stroke="#c8c8cc" stroke-width="2.8" /><line x1="544.05" y1="458.96" x2="563.43" y2="486.9" stroke="#f8f8f8" stroke-width="1.3" /><line x1="564.21" y1="469.54" x2="567.49" y2="479.18" stroke="#c8c8cc" stroke-width="2.8" /><line x1="564.21" y1="469.54" x2="567.49" y2="479.18" stroke="#f8f8f8" stroke-width="1.3" /><line x1="524.81" y1="470.12" x2="550.83" y2="450.79" stroke="#c8c8cc" stroke-width="2.8" /><line x1="524.81" y1="470.12" x2="550.83" y2="450.79" stroke="#f8f8f8" stroke-width="1.3" /><line x1="556.28" y1="488.74" x2="544.05" y2="458.96" stroke="#c8c8cc" stroke-width="2.8" /><line x1="556.28" y1="488.74" x2="544.05" y2="458.96" stroke="#f8f8f8" stroke-width="1.3" /><line x1="544.05" y1="458.96" x2="569.37" y2="482.47" stroke="#c8c8cc" stroke-width="2.8" /><line x1="544.05" y1="458.96" x2="569.37" y2="482.47" stroke="#f8f8f8" stroke-width="1.3" /><line x1="563.43" y1="486.9" x2="524.81" y2="470.12" stroke="#c8c8cc" stroke-width="2.8" /><line x1="563.43" y1="486.9" x2="524.81" y2="470.12" stroke="#f8f8f8" stroke-width="1.3" /><line x1="524.81" y1="470.12" x2="564.21" y2="469.54" stroke="#c8c8cc" stroke-width="2.8" /><line x1="524.81" y1="470.12" x2="564.21" y2="469.54" stroke="#f8f8f8" stroke-width="1.3" /><line x1="539.62" y1="493.94" x2="569.37" y2="482.47" stroke="#c8c8cc" stroke-width="2.8" /><line x1="539.62" y1="493.94" x2="569.37" y2="482.47" stroke="#f8f8f8" stroke-width="1.3" /><line x1="544.05" y1="458.96" x2="556.28" y2="488.74" stroke="#c8c8cc" stroke-width="2.8" /><line x1="544.05" y1="458.96" x2="556.28" y2="488.74" stroke="#f8f8f8" stroke-width="1.3" /><line x1="567.49" y1="479.18" x2="544.05" y2="458.96" stroke="#c8c8cc" stroke-width="2.8" /><line x1="567.49" y1="479.18" x2="544.05" y2="458.96" stroke="#f8f8f8" stroke-width="1.3" /><circle cx="575.12" cy="464.59" r="4.24" fill="#e89a9a" opacity="0.75"/><circle cx="546.23" cy="458.32" r="3.76" fill="#e89a9a" opacity="0.75"/><circle cx="546.59" cy="460.04" r="4.84" fill="#e89a9a" opacity="0.75"/><circle cx="544.35" cy="487.9" r="4.9" fill="#e89a9a" opacity="0.75"/><circle cx="537.12" cy="487.88" r="5.11" fill="#e89a9a" opacity="0.75"/><circle cx="541.47" cy="462.86" r="4.86" fill="#e89a9a" opacity="0.75"/><circle cx="527.11" cy="458.8" r="3.51" fill="#e89a9a" opacity="0.75"/><circle cx="564.64" cy="480.18" r="4.91" fill="#e89a9a" opacity="0.75"/><circle cx="564.28" cy="470.71" r="4.64" fill="#e89a9a" opacity="0.75"/><circle cx="527.11" cy="454.87" r="4.84" fill="#e89a9a" opacity="0.75"/><circle cx="564.21" cy="469.54" r="2.3" fill="#a8bcd8"/><circle cx="569.37" cy="482.47" r="2.3" fill="#a8bcd8"/><circle cx="522.74" cy="496.38" r="2.3" fill="#a8bcd8"/><circle cx="522" cy="485" r="8" fill="#d8b0cc"/></g></g><rect x="517.1" y="447.6" width="61" height="49.5" fill="none" stroke="#555" stroke-width="0.8" stroke-dasharray="1.6 1.3"/><rect x="517.1" y="502.6" width="61" height="49.1" fill="#ededee" stroke="none" stroke-width="1" /><clipPath id="cpb3"><rect x="517.1" y="502.6" width="61" height="49.1"/></clipPath><g clip-path="url(#cpb3)"><g filter="url(#soft2)" opacity="0.85"><line x1="542.62" y1="525.15" x2="542.62" y2="525.15" stroke="#c8c8cc" stroke-width="2.8" /><line x1="542.62" y1="525.15" x2="542.62" y2="525.15" stroke="#f8f8f8" stroke-width="1.3" /><line x1="535.84" y1="550.19" x2="568.13" y2="529.36" stroke="#c8c8cc" stroke-width="2.8" /><line x1="535.84" y1="550.19" x2="568.13" y2="529.36" stroke="#f8f8f8" stroke-width="1.3" /><line x1="568.13" y1="529.36" x2="575.27" y2="547.2" stroke="#c8c8cc" stroke-width="2.8" /><line x1="568.13" y1="529.36" x2="575.27" y2="547.2" stroke="#f8f8f8" stroke-width="1.3" /><line x1="542.74" y1="502.8" x2="568.13" y2="529.36" stroke="#c8c8cc" stroke-width="2.8" /><line x1="542.74" y1="502.8" x2="568.13" y2="529.36" stroke="#f8f8f8" stroke-width="1.3" /><line x1="568.13" y1="529.36" x2="568.13" y2="529.36" stroke="#c8c8cc" stroke-width="2.8" /><line x1="568.13" y1="529.36" x2="568.13" y2="529.36" stroke="#f8f8f8" stroke-width="1.3" /><line x1="556.79" y1="504.79" x2="556.79" y2="504.79" stroke="#c8c8cc" stroke-width="2.8" /><line x1="556.79" y1="504.79" x2="556.79" y2="504.79" stroke="#f8f8f8" stroke-width="1.3" /><line x1="575.27" y1="547.2" x2="518.22" y2="544.56" stroke="#c8c8cc" stroke-width="2.8" /><line x1="575.27" y1="547.2" x2="518.22" y2="544.56" stroke="#f8f8f8" stroke-width="1.3" /><line x1="535.84" y1="550.19" x2="542.74" y2="502.8" stroke="#c8c8cc" stroke-width="2.8" /><line x1="535.84" y1="550.19" x2="542.74" y2="502.8" stroke="#f8f8f8" stroke-width="1.3" /><line x1="518.22" y1="544.56" x2="518.22" y2="544.56" stroke="#c8c8cc" stroke-width="2.8" /><line x1="518.22" y1="544.56" x2="518.22" y2="544.56" stroke="#f8f8f8" stroke-width="1.3" /><line x1="518.22" y1="544.56" x2="562.86" y2="515.78" stroke="#c8c8cc" stroke-width="2.8" /><line x1="518.22" y1="544.56" x2="562.86" y2="515.78" stroke="#f8f8f8" stroke-width="1.3" /><line x1="535.84" y1="550.19" x2="562.86" y2="515.78" stroke="#c8c8cc" stroke-width="2.8" /><line x1="535.84" y1="550.19" x2="562.86" y2="515.78" stroke="#f8f8f8" stroke-width="1.3" /><circle cx="550.96" cy="506.93" r="4.4" fill="#e89a9a" opacity="0.75"/><circle cx="551.21" cy="510.08" r="4.18" fill="#e89a9a" opacity="0.75"/><circle cx="548.26" cy="518.58" r="4.34" fill="#e89a9a" opacity="0.75"/><circle cx="543.04" cy="508.89" r="4.68" fill="#e89a9a" opacity="0.75"/><circle cx="523.3" cy="531.3" r="3.67" fill="#e89a9a" opacity="0.75"/><circle cx="550.27" cy="543.74" r="4.08" fill="#e89a9a" opacity="0.75"/><circle cx="523.8" cy="519.34" r="4.35" fill="#e89a9a" opacity="0.75"/><circle cx="554.51" cy="511.57" r="3.51" fill="#e89a9a" opacity="0.75"/><circle cx="567.9" cy="525.53" r="4.65" fill="#e89a9a" opacity="0.75"/><circle cx="565.48" cy="539.71" r="5.22" fill="#e89a9a" opacity="0.75"/><circle cx="556.79" cy="504.79" r="2.3" fill="#a8bcd8"/><circle cx="518.22" cy="544.56" r="2.3" fill="#a8bcd8"/><circle cx="552.82" cy="513.84" r="2.3" fill="#a8bcd8"/><circle cx="540" cy="503" r="9" fill="#dcc0d0"/></g></g><rect x="517.1" y="502.6" width="61" height="49.1" fill="none" stroke="#555" stroke-width="0.8" stroke-dasharray="1.6 1.3"/><path d="M486 440 L503 426.4 L530.4 425.8 L506 435.3 L492 447 Z" fill="url(#ag1)"/><path d="M503 426.4 L530.4 425.8 L512 431 Z" fill="#8d98ac" opacity="0.8"/><path d="M480 452 L506.7 454.9 L530.4 465.4 L506 471 L480 461 Z" fill="url(#ag1)"/><path d="M506.7 454.9 L530.4 465.4 L512 462 Z" fill="#8d98ac" opacity="0.8"/><path d="M486.4 495.2 L507.9 510.3 L520.6 531.8 L499.7 519.8 L482 502 Z" fill="url(#ag3)"/><path d="M507.9 510.3 L520.6 531.8 L510 522 Z" fill="#7f8ba0" opacity="0.85"/><line x1="542.4" y1="414.3" x2="546.4" y2="426.4" stroke="#888" stroke-width="1.4" /><line x1="546.4" y1="426.4" x2="558.5" y2="432.8" stroke="#aaa" stroke-width="1.2" /><circle cx="542.4" cy="414.3" r="2.8" fill="url(#rgor)"/><circle cx="546.4" cy="426.4" r="3" fill="url(#rgc)"/><circle cx="558.5" cy="432.8" r="2.8" fill="url(#rgor)"/><circle cx="564.6" cy="401.1" r="1.6" fill="url(#rgh)"/><line x1="563.5" y1="401.8" x2="548.5" y2="411.2" stroke="#222" stroke-width="0.6" /><path d="M547 412 L550.6 408.8 L551.5 410.9 Z" fill="#222"/><text x="552.5" y="421.3" font-size="7.2" text-anchor="start" fill="#222" >TS1-7</text><circle cx="554.5" cy="457.7" r="3" fill="url(#rgn)"/><circle cx="546.4" cy="482" r="1.8" fill="url(#rgh)"/><line x1="548.4" y1="478.9" x2="553" y2="464.5" stroke="#222" stroke-width="0.6" /><path d="M553.5 463 L554.1 467.2 L551.9 466.6 Z" fill="#222"/><text x="552.5" y="475.3" font-size="7.2" text-anchor="start" fill="#222" >TS8-10</text><circle cx="545.9" cy="513.1" r="3" fill="url(#rgn)"/><circle cx="535.1" cy="534.7" r="3" fill="none" stroke="#444" stroke-width="0.6" stroke-dasharray="1 0.8"/><circle cx="559" cy="542.3" r="3.2" fill="url(#rgc)"/><line x1="537.3" y1="531.6" x2="544.6" y2="516.5" stroke="#222" stroke-width="0.6" /><path d="M545.3 515 L545.4 519.2 L543.3 518.3 Z" fill="#222"/><line x1="556" y1="541" x2="539.5" y2="535.8" stroke="#222" stroke-width="0.6" /><path d="M538 535.3 L542.2 535.2 L541.5 537.4 Z" fill="#222"/><text x="524.9" y="524.2" font-size="7.2" text-anchor="start" fill="#222" >TS11</text><text x="543" y="535.9" font-size="7.2" text-anchor="start" fill="#222" >TS12</text><text x="590.1" y="407" font-size="8.9" text-anchor="start" fill="#222" >Lower Δ<tspan font-style="italic">E</tspan><tspan font-size="60%" dy="2.2">CO<tspan font-size="80%">2</tspan> + H</tspan><tspan dy="-2.2">&#8203;</tspan></text><text x="583.7" y="424.7" font-size="9" text-anchor="start" fill="#222" >Higher surface <tspan font-style="italic">μ</tspan><tspan font-size="70%" dy="2">C</tspan><tspan dy="-2">&#8203;</tspan></text><text x="587.4" y="465.4" font-size="8.9" text-anchor="start" fill="#222" >Higher Δ<tspan font-style="italic">E</tspan><tspan font-size="60%" dy="2.2">N sites + H</tspan><tspan dy="-2.2">&#8203;</tspan></text><text x="587" y="480.5" font-size="9.1" text-anchor="start" fill="#222" >Lower barrier Δ<tspan font-style="italic">μ</tspan></text><text x="583.7" y="523.3" font-size="8.9" text-anchor="start" fill="#222" >Lower Δ<tspan font-style="italic">E</tspan><tspan font-size="60%" dy="2.2">C-N exchange</tspan><tspan dy="-2.2">&#8203;</tspan></text><text x="581" y="540.7" font-size="9.1" text-anchor="start" fill="#222" >Better matched <tspan font-style="italic">k</tspan><tspan font-size="70%" dy="2">N&amp;C</tspan><tspan dy="-2">&#8203;</tspan></text><circle cx="678.2" cy="396" r="4.6" fill="url(#rglk)"/><text x="678.2" y="412.8" font-size="10.4" text-anchor="middle" fill="#222" >K</text><circle cx="678.2" cy="432" r="4.6" fill="url(#rglfe)"/><text x="678.2" y="448.2" font-size="10.4" text-anchor="middle" fill="#222" >Fe</text><circle cx="678.2" cy="466.7" r="4.6" fill="url(#rgln)"/><text x="678.2" y="482.6" font-size="10.4" text-anchor="middle" fill="#222" >N</text><circle cx="678.2" cy="501.8" r="4.6" fill="url(#rgc)"/><text x="678.2" y="517.3" font-size="10.4" text-anchor="middle" fill="#222" >C</text><circle cx="678.2" cy="535.8" r="4.6" fill="url(#rgh)"/><text x="678.2" y="551" font-size="10.4" text-anchor="middle" fill="#222" >H</text><text x="430.5" y="402.5" font-size="13" text-anchor="start" fill="#222" >j</text></svg></body></html>
